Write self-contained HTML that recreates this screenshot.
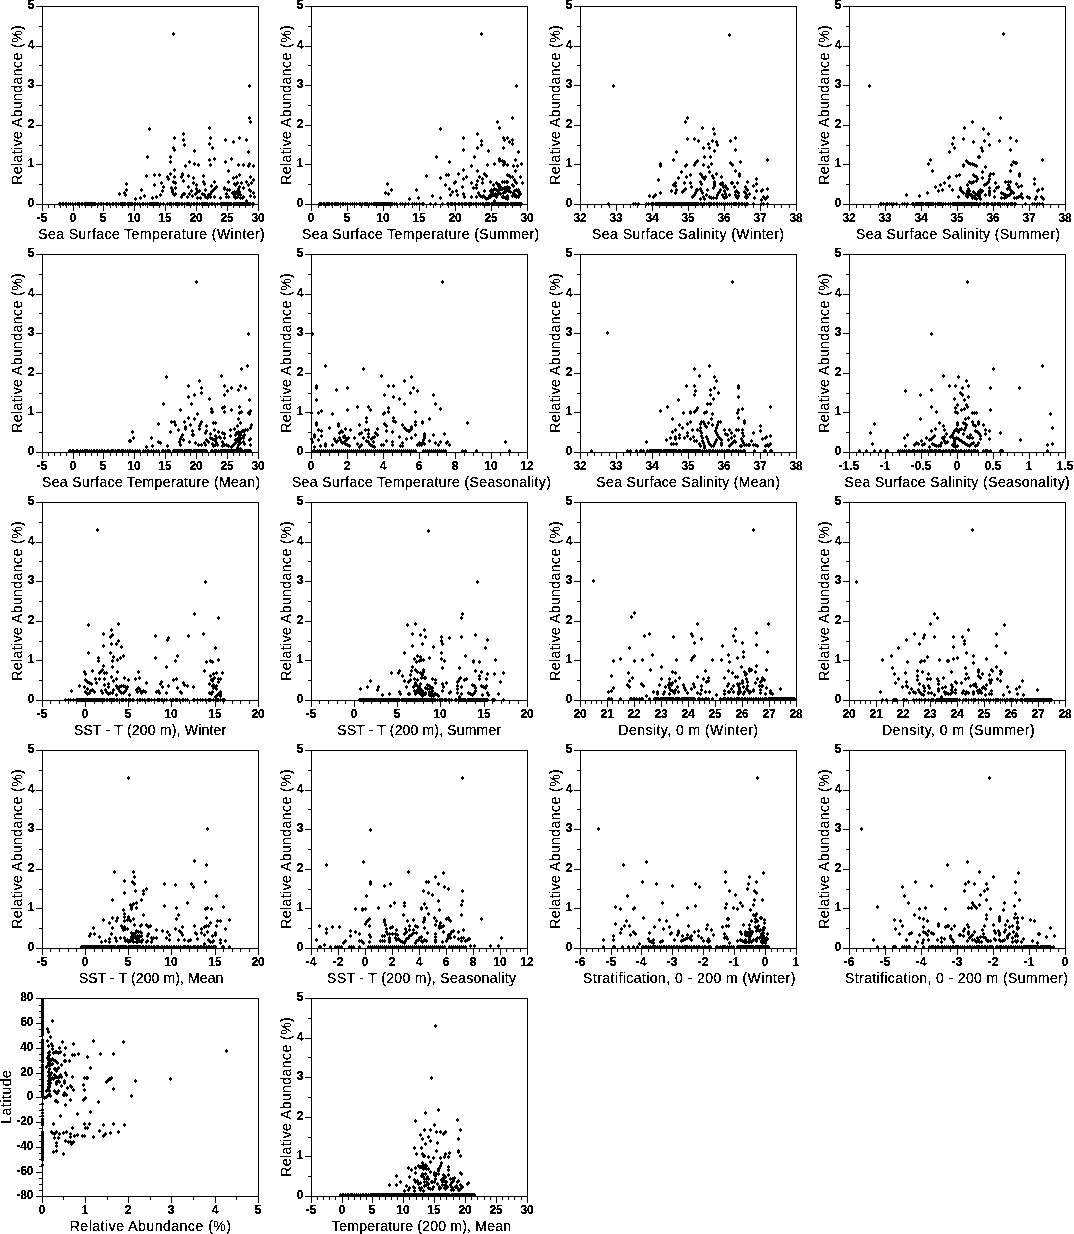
<!DOCTYPE html><html><head><meta charset="utf-8"><title>plots</title><style>html,body{margin:0;padding:0;background:#fff}svg{display:block}text{font-family:"Liberation Sans",sans-serif;fill:#000}.t{font-size:12px;font-weight:bold}.a{font-size:14px}</style></head><body>
<svg width="1074" height="1234" viewBox="0 0 1074 1234">
<rect width="1074" height="1234" fill="#fff"/>
<defs><filter id="th" x="0" y="0" width="1074" height="1234" filterUnits="userSpaceOnUse" color-interpolation-filters="sRGB"><feComponentTransfer><feFuncA type="discrete" tableValues="0 1 1"/></feComponentTransfer></filter></defs>
<path d="M42.5 6.5H258.5V204.5H42.5ZM42.5 204v7M48.5 204v4M54.5 204v4M60.5 204v4M66.5 204v4M73.5 204v7M79.5 204v4M85.5 204v4M91.5 204v4M97.5 204v4M103.5 204v7M110.5 204v4M116.5 204v4M122.5 204v4M128.5 204v4M134.5 204v7M140.5 204v4M147.5 204v4M153.5 204v4M159.5 204v4M165.5 204v7M171.5 204v4M177.5 204v4M184.5 204v4M190.5 204v4M196.5 204v7M202.5 204v4M208.5 204v4M215.5 204v4M221.5 204v4M227.5 204v7M233.5 204v4M239.5 204v4M245.5 204v4M252.5 204v4M258.5 204v7M43 204.5h-7M43 184.5h-4M43 164.5h-7M43 145.5h-4M43 125.5h-7M43 105.5h-4M43 85.5h-7M43 65.5h-4M43 46.5h-7M43 26.5h-4M43 6.5h-7" fill="none" stroke="#000" stroke-width="1" shape-rendering="crispEdges"/>
<path d="M119 192h1v1h1v2h-1v1h-1v-1h-1v-2h1zM124 191h1v1h1v2h-1v1h-1v-1h-1v-2h1zM125 193h1v1h1v2h-1v1h-1v-1h-1v-2h1zM126 188h1v1h1v2h-1v1h-1v-1h-1v-2h1zM126 182h1v1h1v2h-1v1h-1v-1h-1v-2h1zM135 197h1v1h1v2h-1v1h-1v-1h-1v-2h1zM140 196h1v1h1v2h-1v1h-1v-1h-1v-2h1zM141 188h1v1h1v2h-1v1h-1v-1h-1v-2h1zM144 194h1v1h1v2h-1v1h-1v-1h-1v-2h1zM146 174h1v1h1v2h-1v1h-1v-1h-1v-2h1zM147 155h1v1h1v2h-1v1h-1v-1h-1v-2h1zM149 127h1v1h1v2h-1v1h-1v-1h-1v-2h1zM152 196h1v1h1v2h-1v1h-1v-1h-1v-2h1zM154 183h1v1h1v2h-1v1h-1v-1h-1v-2h1zM154 173h1v1h1v2h-1v1h-1v-1h-1v-2h1zM156 195h1v1h1v2h-1v1h-1v-1h-1v-2h1zM159 173h1v1h1v2h-1v1h-1v-1h-1v-2h1zM160 193h1v1h1v2h-1v1h-1v-1h-1v-2h1zM161 181h1v1h1v2h-1v1h-1v-1h-1v-2h1zM162 189h1v1h1v2h-1v1h-1v-1h-1v-2h1zM163 185h1v1h1v2h-1v1h-1v-1h-1v-2h1zM167 175h1v1h1v2h-1v1h-1v-1h-1v-2h1zM168 177h1v1h1v2h-1v1h-1v-1h-1v-2h1zM170 172h1v1h1v2h-1v1h-1v-1h-1v-2h1zM170 160h1v1h1v2h-1v1h-1v-1h-1v-2h1zM170 155h1v1h1v2h-1v1h-1v-1h-1v-2h1zM171 186h1v1h1v2h-1v1h-1v-1h-1v-2h1zM172 188h1v1h1v2h-1v1h-1v-1h-1v-2h1zM172 190h1v1h1v2h-1v1h-1v-1h-1v-2h1zM173 192h1v1h1v2h-1v1h-1v-1h-1v-2h1zM174 193h1v1h1v2h-1v1h-1v-1h-1v-2h1zM175 192h1v1h1v2h-1v1h-1v-1h-1v-2h1zM173 146h1v1h1v2h-1v1h-1v-1h-1v-2h1zM174 148h1v1h1v2h-1v1h-1v-1h-1v-2h1zM174 136h1v1h1v2h-1v1h-1v-1h-1v-2h1zM174 168h1v1h1v2h-1v1h-1v-1h-1v-2h1zM174 175h1v1h1v2h-1v1h-1v-1h-1v-2h1zM173 180h1v1h1v2h-1v1h-1v-1h-1v-2h1zM175 181h1v1h1v2h-1v1h-1v-1h-1v-2h1zM175 186h1v1h1v2h-1v1h-1v-1h-1v-2h1zM181 175h1v1h1v2h-1v1h-1v-1h-1v-2h1zM182 172h1v1h1v2h-1v1h-1v-1h-1v-2h1zM182 173h1v1h1v2h-1v1h-1v-1h-1v-2h1zM183 179h1v1h1v2h-1v1h-1v-1h-1v-2h1zM183 132h1v1h1v2h-1v1h-1v-1h-1v-2h1zM183 138h1v1h1v2h-1v1h-1v-1h-1v-2h1zM184 143h1v1h1v2h-1v1h-1v-1h-1v-2h1zM185 164h1v1h1v2h-1v1h-1v-1h-1v-2h1zM181 195h1v1h1v2h-1v1h-1v-1h-1v-2h1zM182 193h1v1h1v2h-1v1h-1v-1h-1v-2h1zM183 192h1v1h1v2h-1v1h-1v-1h-1v-2h1zM184 192h1v1h1v2h-1v1h-1v-1h-1v-2h1zM188 174h1v1h1v2h-1v1h-1v-1h-1v-2h1zM188 185h1v1h1v2h-1v1h-1v-1h-1v-2h1zM189 160h1v1h1v2h-1v1h-1v-1h-1v-2h1zM193 176h1v1h1v2h-1v1h-1v-1h-1v-2h1zM193 181h1v1h1v2h-1v1h-1v-1h-1v-2h1zM194 149h1v1h1v2h-1v1h-1v-1h-1v-2h1zM194 162h1v1h1v2h-1v1h-1v-1h-1v-2h1zM198 163h1v1h1v2h-1v1h-1v-1h-1v-2h1zM196 183h1v1h1v2h-1v1h-1v-1h-1v-2h1zM191 189h1v1h1v2h-1v1h-1v-1h-1v-2h1zM189 192h1v1h1v2h-1v1h-1v-1h-1v-2h1zM187 195h1v1h1v2h-1v1h-1v-1h-1v-2h1zM192 194h1v1h1v2h-1v1h-1v-1h-1v-2h1zM195 192h1v1h1v2h-1v1h-1v-1h-1v-2h1zM196 187h1v1h1v2h-1v1h-1v-1h-1v-2h1zM197 190h1v1h1v2h-1v1h-1v-1h-1v-2h1zM199 189h1v1h1v2h-1v1h-1v-1h-1v-2h1zM197 196h1v1h1v2h-1v1h-1v-1h-1v-2h1zM200 196h1v1h1v2h-1v1h-1v-1h-1v-2h1zM203 174h1v1h1v2h-1v1h-1v-1h-1v-2h1zM203 180h1v1h1v2h-1v1h-1v-1h-1v-2h1zM204 182h1v1h1v2h-1v1h-1v-1h-1v-2h1zM205 188h1v1h1v2h-1v1h-1v-1h-1v-2h1zM202 192h1v1h1v2h-1v1h-1v-1h-1v-2h1zM204 193h1v1h1v2h-1v1h-1v-1h-1v-2h1zM205 195h1v1h1v2h-1v1h-1v-1h-1v-2h1zM207 196h1v1h1v2h-1v1h-1v-1h-1v-2h1zM208 193h1v1h1v2h-1v1h-1v-1h-1v-2h1zM210 192h1v1h1v2h-1v1h-1v-1h-1v-2h1zM211 190h1v1h1v2h-1v1h-1v-1h-1v-2h1zM213 188h1v1h1v2h-1v1h-1v-1h-1v-2h1zM214 187h1v1h1v2h-1v1h-1v-1h-1v-2h1zM216 185h1v1h1v2h-1v1h-1v-1h-1v-2h1zM211 184h1v1h1v2h-1v1h-1v-1h-1v-2h1zM214 180h1v1h1v2h-1v1h-1v-1h-1v-2h1zM209 126h1v1h1v2h-1v1h-1v-1h-1v-2h1zM210 136h1v1h1v2h-1v1h-1v-1h-1v-2h1zM209 142h1v1h1v2h-1v1h-1v-1h-1v-2h1zM212 146h1v1h1v2h-1v1h-1v-1h-1v-2h1zM209 158h1v1h1v2h-1v1h-1v-1h-1v-2h1zM210 163h1v1h1v2h-1v1h-1v-1h-1v-2h1zM214 157h1v1h1v2h-1v1h-1v-1h-1v-2h1zM210 195h1v1h1v2h-1v1h-1v-1h-1v-2h1zM214 195h1v1h1v2h-1v1h-1v-1h-1v-2h1zM220 196h1v1h1v2h-1v1h-1v-1h-1v-2h1zM224 186h1v1h1v2h-1v1h-1v-1h-1v-2h1zM224 187h1v1h1v2h-1v1h-1v-1h-1v-2h1zM225 160h1v1h1v2h-1v1h-1v-1h-1v-2h1zM225 138h1v1h1v2h-1v1h-1v-1h-1v-2h1zM228 169h1v1h1v2h-1v1h-1v-1h-1v-2h1zM228 180h1v1h1v2h-1v1h-1v-1h-1v-2h1zM227 188h1v1h1v2h-1v1h-1v-1h-1v-2h1zM229 188h1v1h1v2h-1v1h-1v-1h-1v-2h1zM226 192h1v1h1v2h-1v1h-1v-1h-1v-2h1zM226 195h1v1h1v2h-1v1h-1v-1h-1v-2h1zM228 195h1v1h1v2h-1v1h-1v-1h-1v-2h1zM231 157h1v1h1v2h-1v1h-1v-1h-1v-2h1zM233 140h1v1h1v2h-1v1h-1v-1h-1v-2h1zM233 176h1v1h1v2h-1v1h-1v-1h-1v-2h1zM234 182h1v1h1v2h-1v1h-1v-1h-1v-2h1zM235 183h1v1h1v2h-1v1h-1v-1h-1v-2h1zM236 175h1v1h1v2h-1v1h-1v-1h-1v-2h1zM237 181h1v1h1v2h-1v1h-1v-1h-1v-2h1zM238 163h1v1h1v2h-1v1h-1v-1h-1v-2h1zM239 136h1v1h1v2h-1v1h-1v-1h-1v-2h1zM239 173h1v1h1v2h-1v1h-1v-1h-1v-2h1zM239 185h1v1h1v2h-1v1h-1v-1h-1v-2h1zM241 181h1v1h1v2h-1v1h-1v-1h-1v-2h1zM243 163h1v1h1v2h-1v1h-1v-1h-1v-2h1zM243 186h1v1h1v2h-1v1h-1v-1h-1v-2h1zM246 138h1v1h1v2h-1v1h-1v-1h-1v-2h1zM246 180h1v1h1v2h-1v1h-1v-1h-1v-2h1zM248 150h1v1h1v2h-1v1h-1v-1h-1v-2h1zM248 164h1v1h1v2h-1v1h-1v-1h-1v-2h1zM249 116h1v1h1v2h-1v1h-1v-1h-1v-2h1zM250 120h1v1h1v2h-1v1h-1v-1h-1v-2h1zM249 162h1v1h1v2h-1v1h-1v-1h-1v-2h1zM253 164h1v1h1v2h-1v1h-1v-1h-1v-2h1zM250 175h1v1h1v2h-1v1h-1v-1h-1v-2h1zM253 178h1v1h1v2h-1v1h-1v-1h-1v-2h1zM251 181h1v1h1v2h-1v1h-1v-1h-1v-2h1zM248 183h1v1h1v2h-1v1h-1v-1h-1v-2h1zM249 188h1v1h1v2h-1v1h-1v-1h-1v-2h1zM250 189h1v1h1v2h-1v1h-1v-1h-1v-2h1zM253 191h1v1h1v2h-1v1h-1v-1h-1v-2h1zM250 194h1v1h1v2h-1v1h-1v-1h-1v-2h1zM254 195h1v1h1v2h-1v1h-1v-1h-1v-2h1zM246 199h1v1h1v2h-1v1h-1v-1h-1v-2h1zM232 191h1v1h1v2h-1v1h-1v-1h-1v-2h1zM234 193h1v1h1v2h-1v1h-1v-1h-1v-2h1zM234 190h1v1h1v2h-1v1h-1v-1h-1v-2h1zM236 191h1v1h1v2h-1v1h-1v-1h-1v-2h1zM237 189h1v1h1v2h-1v1h-1v-1h-1v-2h1zM238 192h1v1h1v2h-1v1h-1v-1h-1v-2h1zM240 193h1v1h1v2h-1v1h-1v-1h-1v-2h1zM240 196h1v1h1v2h-1v1h-1v-1h-1v-2h1zM242 196h1v1h1v2h-1v1h-1v-1h-1v-2h1zM237 195h1v1h1v2h-1v1h-1v-1h-1v-2h1zM235 196h1v1h1v2h-1v1h-1v-1h-1v-2h1zM239 190h1v1h1v2h-1v1h-1v-1h-1v-2h1zM243 195h1v1h1v2h-1v1h-1v-1h-1v-2h1zM238 187h1v1h1v2h-1v1h-1v-1h-1v-2h1zM234 195h1v1h1v2h-1v1h-1v-1h-1v-2h1zM173 32h1v1h1v2h-1v1h-1v-1h-1v-2h1zM249 84h1v1h1v2h-1v1h-1v-1h-1v-2h1zM59 202h1v1h1v2h-1v1h-1v-1h-1v-2h1zM60 202h1v1h1v2h-1v1h-1v-1h-1v-2h1zM62 202h1v1h1v2h-1v1h-1v-1h-1v-2h1zM63 202h1v1h1v2h-1v1h-1v-1h-1v-2h1zM65 202h1v1h1v2h-1v1h-1v-1h-1v-2h1zM66 202h1v1h1v2h-1v1h-1v-1h-1v-2h1zM68 202h1v1h1v2h-1v1h-1v-1h-1v-2h1zM70 202h1v1h1v2h-1v1h-1v-1h-1v-2h1zM72 202h1v1h1v2h-1v1h-1v-1h-1v-2h1zM75 202h1v1h1v2h-1v1h-1v-1h-1v-2h1zM77 202h1v1h1v2h-1v1h-1v-1h-1v-2h1zM78 202h1v1h1v2h-1v1h-1v-1h-1v-2h1zM79 202h1v1h1v2h-1v1h-1v-1h-1v-2h1zM81 202h1v1h1v2h-1v1h-1v-1h-1v-2h1zM82 202h1v1h1v2h-1v1h-1v-1h-1v-2h1zM84 202h1v1h1v2h-1v1h-1v-1h-1v-2h1zM85 202h1v1h1v2h-1v1h-1v-1h-1v-2h1zM86 202h1v1h1v2h-1v1h-1v-1h-1v-2h1zM87 202h1v1h1v2h-1v1h-1v-1h-1v-2h1zM88 202h1v1h1v2h-1v1h-1v-1h-1v-2h1zM89 202h1v1h1v2h-1v1h-1v-1h-1v-2h1zM90 202h1v1h1v2h-1v1h-1v-1h-1v-2h1zM91 202h1v1h1v2h-1v1h-1v-1h-1v-2h1zM92 202h1v1h1v2h-1v1h-1v-1h-1v-2h1zM93 202h1v1h1v2h-1v1h-1v-1h-1v-2h1zM94 202h1v1h1v2h-1v1h-1v-1h-1v-2h1zM95 202h1v1h1v2h-1v1h-1v-1h-1v-2h1zM98 202h1v1h1v2h-1v1h-1v-1h-1v-2h1zM100 202h1v1h1v2h-1v1h-1v-1h-1v-2h1zM101 202h1v1h1v2h-1v1h-1v-1h-1v-2h1zM103 202h1v1h1v2h-1v1h-1v-1h-1v-2h1zM106 202h1v1h1v2h-1v1h-1v-1h-1v-2h1zM107 202h1v1h1v2h-1v1h-1v-1h-1v-2h1zM109 202h1v1h1v2h-1v1h-1v-1h-1v-2h1zM112 202h1v1h1v2h-1v1h-1v-1h-1v-2h1zM113 202h1v1h1v2h-1v1h-1v-1h-1v-2h1zM115 202h1v1h1v2h-1v1h-1v-1h-1v-2h1zM116 202h1v1h1v2h-1v1h-1v-1h-1v-2h1zM118 202h1v1h1v2h-1v1h-1v-1h-1v-2h1zM120 202h1v1h1v2h-1v1h-1v-1h-1v-2h1zM121 202h1v1h1v2h-1v1h-1v-1h-1v-2h1zM122 202h1v1h1v2h-1v1h-1v-1h-1v-2h1zM123 202h1v1h1v2h-1v1h-1v-1h-1v-2h1zM124 202h1v1h1v2h-1v1h-1v-1h-1v-2h1zM125 202h1v1h1v2h-1v1h-1v-1h-1v-2h1zM127 202h1v1h1v2h-1v1h-1v-1h-1v-2h1zM128 202h1v1h1v2h-1v1h-1v-1h-1v-2h1zM129 202h1v1h1v2h-1v1h-1v-1h-1v-2h1zM130 202h1v1h1v2h-1v1h-1v-1h-1v-2h1zM131 202h1v1h1v2h-1v1h-1v-1h-1v-2h1zM132 202h1v1h1v2h-1v1h-1v-1h-1v-2h1zM134 202h1v1h1v2h-1v1h-1v-1h-1v-2h1zM135 202h1v1h1v2h-1v1h-1v-1h-1v-2h1zM137 202h1v1h1v2h-1v1h-1v-1h-1v-2h1zM139 202h1v1h1v2h-1v1h-1v-1h-1v-2h1zM142 202h1v1h1v2h-1v1h-1v-1h-1v-2h1zM143 202h1v1h1v2h-1v1h-1v-1h-1v-2h1zM145 202h1v1h1v2h-1v1h-1v-1h-1v-2h1zM147 202h1v1h1v2h-1v1h-1v-1h-1v-2h1zM149 202h1v1h1v2h-1v1h-1v-1h-1v-2h1zM150 202h1v1h1v2h-1v1h-1v-1h-1v-2h1zM151 202h1v1h1v2h-1v1h-1v-1h-1v-2h1zM152 202h1v1h1v2h-1v1h-1v-1h-1v-2h1zM153 202h1v1h1v2h-1v1h-1v-1h-1v-2h1zM154 202h1v1h1v2h-1v1h-1v-1h-1v-2h1zM155 202h1v1h1v2h-1v1h-1v-1h-1v-2h1zM156 202h1v1h1v2h-1v1h-1v-1h-1v-2h1zM157 202h1v1h1v2h-1v1h-1v-1h-1v-2h1zM158 202h1v1h1v2h-1v1h-1v-1h-1v-2h1zM160 202h1v1h1v2h-1v1h-1v-1h-1v-2h1zM163 202h1v1h1v2h-1v1h-1v-1h-1v-2h1zM167 202h1v1h1v2h-1v1h-1v-1h-1v-2h1zM169 202h1v1h1v2h-1v1h-1v-1h-1v-2h1zM170 202h1v1h1v2h-1v1h-1v-1h-1v-2h1zM171 202h1v1h1v2h-1v1h-1v-1h-1v-2h1zM173 202h1v1h1v2h-1v1h-1v-1h-1v-2h1zM175 202h1v1h1v2h-1v1h-1v-1h-1v-2h1zM176 202h1v1h1v2h-1v1h-1v-1h-1v-2h1zM177 202h1v1h1v2h-1v1h-1v-1h-1v-2h1zM178 202h1v1h1v2h-1v1h-1v-1h-1v-2h1zM179 202h1v1h1v2h-1v1h-1v-1h-1v-2h1zM181 202h1v1h1v2h-1v1h-1v-1h-1v-2h1zM182 202h1v1h1v2h-1v1h-1v-1h-1v-2h1zM184 202h1v1h1v2h-1v1h-1v-1h-1v-2h1zM186 202h1v1h1v2h-1v1h-1v-1h-1v-2h1zM187 202h1v1h1v2h-1v1h-1v-1h-1v-2h1zM188 202h1v1h1v2h-1v1h-1v-1h-1v-2h1zM189 202h1v1h1v2h-1v1h-1v-1h-1v-2h1zM191 202h1v1h1v2h-1v1h-1v-1h-1v-2h1zM193 202h1v1h1v2h-1v1h-1v-1h-1v-2h1zM194 202h1v1h1v2h-1v1h-1v-1h-1v-2h1zM196 202h1v1h1v2h-1v1h-1v-1h-1v-2h1zM197 202h1v1h1v2h-1v1h-1v-1h-1v-2h1zM199 202h1v1h1v2h-1v1h-1v-1h-1v-2h1zM201 202h1v1h1v2h-1v1h-1v-1h-1v-2h1zM202 202h1v1h1v2h-1v1h-1v-1h-1v-2h1zM203 202h1v1h1v2h-1v1h-1v-1h-1v-2h1zM204 202h1v1h1v2h-1v1h-1v-1h-1v-2h1zM205 202h1v1h1v2h-1v1h-1v-1h-1v-2h1zM206 202h1v1h1v2h-1v1h-1v-1h-1v-2h1zM207 202h1v1h1v2h-1v1h-1v-1h-1v-2h1zM209 202h1v1h1v2h-1v1h-1v-1h-1v-2h1zM211 202h1v1h1v2h-1v1h-1v-1h-1v-2h1zM212 202h1v1h1v2h-1v1h-1v-1h-1v-2h1zM214 202h1v1h1v2h-1v1h-1v-1h-1v-2h1zM217 202h1v1h1v2h-1v1h-1v-1h-1v-2h1zM220 202h1v1h1v2h-1v1h-1v-1h-1v-2h1zM221 202h1v1h1v2h-1v1h-1v-1h-1v-2h1zM222 202h1v1h1v2h-1v1h-1v-1h-1v-2h1zM223 202h1v1h1v2h-1v1h-1v-1h-1v-2h1zM224 202h1v1h1v2h-1v1h-1v-1h-1v-2h1zM225 202h1v1h1v2h-1v1h-1v-1h-1v-2h1zM226 202h1v1h1v2h-1v1h-1v-1h-1v-2h1zM227 202h1v1h1v2h-1v1h-1v-1h-1v-2h1zM228 202h1v1h1v2h-1v1h-1v-1h-1v-2h1zM229 202h1v1h1v2h-1v1h-1v-1h-1v-2h1zM230 202h1v1h1v2h-1v1h-1v-1h-1v-2h1zM231 202h1v1h1v2h-1v1h-1v-1h-1v-2h1zM233 202h1v1h1v2h-1v1h-1v-1h-1v-2h1zM234 202h1v1h1v2h-1v1h-1v-1h-1v-2h1zM235 202h1v1h1v2h-1v1h-1v-1h-1v-2h1zM236 202h1v1h1v2h-1v1h-1v-1h-1v-2h1zM237 202h1v1h1v2h-1v1h-1v-1h-1v-2h1zM238 202h1v1h1v2h-1v1h-1v-1h-1v-2h1zM239 202h1v1h1v2h-1v1h-1v-1h-1v-2h1zM240 202h1v1h1v2h-1v1h-1v-1h-1v-2h1zM241 202h1v1h1v2h-1v1h-1v-1h-1v-2h1zM242 202h1v1h1v2h-1v1h-1v-1h-1v-2h1zM243 202h1v1h1v2h-1v1h-1v-1h-1v-2h1zM244 202h1v1h1v2h-1v1h-1v-1h-1v-2h1zM245 202h1v1h1v2h-1v1h-1v-1h-1v-2h1zM246 202h1v1h1v2h-1v1h-1v-1h-1v-2h1zM247 202h1v1h1v2h-1v1h-1v-1h-1v-2h1zM248 202h1v1h1v2h-1v1h-1v-1h-1v-2h1zM249 202h1v1h1v2h-1v1h-1v-1h-1v-2h1zM250 202h1v1h1v2h-1v1h-1v-1h-1v-2h1zM252 202h1v1h1v2h-1v1h-1v-1h-1v-2h1zM253 202h1v1h1v2h-1v1h-1v-1h-1v-2h1z" fill="#000" shape-rendering="crispEdges"/>
<path d="M311.5 6.5H527.5V204.5H311.5ZM311.5 204v7M318.5 204v4M325.5 204v4M332.5 204v4M340.5 204v4M347.5 204v7M354.5 204v4M361.5 204v4M368.5 204v4M376.5 204v4M383.5 204v7M390.5 204v4M397.5 204v4M404.5 204v4M412.5 204v4M419.5 204v7M426.5 204v4M433.5 204v4M440.5 204v4M448.5 204v4M455.5 204v7M462.5 204v4M469.5 204v4M476.5 204v4M484.5 204v4M491.5 204v7M498.5 204v4M505.5 204v4M512.5 204v4M520.5 204v4M527.5 204v7M312 204.5h-7M312 184.5h-4M312 164.5h-7M312 145.5h-4M312 125.5h-7M312 105.5h-4M312 85.5h-7M312 65.5h-4M312 46.5h-7M312 26.5h-4M312 6.5h-7" fill="none" stroke="#000" stroke-width="1" shape-rendering="crispEdges"/>
<path d="M385 191h1v1h1v2h-1v1h-1v-1h-1v-2h1zM388 192h1v1h1v2h-1v1h-1v-1h-1v-2h1zM391 188h1v1h1v2h-1v1h-1v-1h-1v-2h1zM387 182h1v1h1v2h-1v1h-1v-1h-1v-2h1zM409 197h1v1h1v2h-1v1h-1v-1h-1v-2h1zM416 188h1v1h1v2h-1v1h-1v-1h-1v-2h1zM418 196h1v1h1v2h-1v1h-1v-1h-1v-2h1zM426 174h1v1h1v2h-1v1h-1v-1h-1v-2h1zM432 194h1v1h1v2h-1v1h-1v-1h-1v-2h1zM436 155h1v1h1v2h-1v1h-1v-1h-1v-2h1zM440 127h1v1h1v2h-1v1h-1v-1h-1v-2h1zM440 176h1v1h1v2h-1v1h-1v-1h-1v-2h1zM440 196h1v1h1v2h-1v1h-1v-1h-1v-2h1zM445 183h1v1h1v2h-1v1h-1v-1h-1v-2h1zM446 173h1v1h1v2h-1v1h-1v-1h-1v-2h1zM448 173h1v1h1v2h-1v1h-1v-1h-1v-2h1zM449 160h1v1h1v2h-1v1h-1v-1h-1v-2h1zM449 187h1v1h1v2h-1v1h-1v-1h-1v-2h1zM450 193h1v1h1v2h-1v1h-1v-1h-1v-2h1zM452 190h1v1h1v2h-1v1h-1v-1h-1v-2h1zM454 181h1v1h1v2h-1v1h-1v-1h-1v-2h1zM455 180h1v1h1v2h-1v1h-1v-1h-1v-2h1zM456 189h1v1h1v2h-1v1h-1v-1h-1v-2h1zM457 193h1v1h1v2h-1v1h-1v-1h-1v-2h1zM458 172h1v1h1v2h-1v1h-1v-1h-1v-2h1zM462 185h1v1h1v2h-1v1h-1v-1h-1v-2h1zM463 136h1v1h1v2h-1v1h-1v-1h-1v-2h1zM463 148h1v1h1v2h-1v1h-1v-1h-1v-2h1zM463 168h1v1h1v2h-1v1h-1v-1h-1v-2h1zM463 177h1v1h1v2h-1v1h-1v-1h-1v-2h1zM463 192h1v1h1v2h-1v1h-1v-1h-1v-2h1zM464 195h1v1h1v2h-1v1h-1v-1h-1v-2h1zM466 175h1v1h1v2h-1v1h-1v-1h-1v-2h1zM471 164h1v1h1v2h-1v1h-1v-1h-1v-2h1zM471 181h1v1h1v2h-1v1h-1v-1h-1v-2h1zM471 195h1v1h1v2h-1v1h-1v-1h-1v-2h1zM473 186h1v1h1v2h-1v1h-1v-1h-1v-2h1zM474 155h1v1h1v2h-1v1h-1v-1h-1v-2h1zM476 186h1v1h1v2h-1v1h-1v-1h-1v-2h1zM476 183h1v1h1v2h-1v1h-1v-1h-1v-2h1zM476 195h1v1h1v2h-1v1h-1v-1h-1v-2h1zM477 132h1v1h1v2h-1v1h-1v-1h-1v-2h1zM477 146h1v1h1v2h-1v1h-1v-1h-1v-2h1zM477 169h1v1h1v2h-1v1h-1v-1h-1v-2h1zM477 179h1v1h1v2h-1v1h-1v-1h-1v-2h1zM479 175h1v1h1v2h-1v1h-1v-1h-1v-2h1zM481 139h1v1h1v2h-1v1h-1v-1h-1v-2h1zM481 143h1v1h1v2h-1v1h-1v-1h-1v-2h1zM482 177h1v1h1v2h-1v1h-1v-1h-1v-2h1zM482 181h1v1h1v2h-1v1h-1v-1h-1v-2h1zM484 172h1v1h1v2h-1v1h-1v-1h-1v-2h1zM485 173h1v1h1v2h-1v1h-1v-1h-1v-2h1zM486 174h1v1h1v2h-1v1h-1v-1h-1v-2h1zM484 189h1v1h1v2h-1v1h-1v-1h-1v-2h1zM487 163h1v1h1v2h-1v1h-1v-1h-1v-2h1zM488 149h1v1h1v2h-1v1h-1v-1h-1v-2h1zM490 180h1v1h1v2h-1v1h-1v-1h-1v-2h1zM493 183h1v1h1v2h-1v1h-1v-1h-1v-2h1zM494 162h1v1h1v2h-1v1h-1v-1h-1v-2h1zM497 120h1v1h1v2h-1v1h-1v-1h-1v-2h1zM499 126h1v1h1v2h-1v1h-1v-1h-1v-2h1zM499 157h1v1h1v2h-1v1h-1v-1h-1v-2h1zM499 159h1v1h1v2h-1v1h-1v-1h-1v-2h1zM503 136h1v1h1v2h-1v1h-1v-1h-1v-2h1zM504 138h1v1h1v2h-1v1h-1v-1h-1v-2h1zM507 136h1v1h1v2h-1v1h-1v-1h-1v-2h1zM509 140h1v1h1v2h-1v1h-1v-1h-1v-2h1zM512 138h1v1h1v2h-1v1h-1v-1h-1v-2h1zM512 142h1v1h1v2h-1v1h-1v-1h-1v-2h1zM512 116h1v1h1v2h-1v1h-1v-1h-1v-2h1zM503 146h1v1h1v2h-1v1h-1v-1h-1v-2h1zM502 159h1v1h1v2h-1v1h-1v-1h-1v-2h1zM504 160h1v1h1v2h-1v1h-1v-1h-1v-2h1zM504 162h1v1h1v2h-1v1h-1v-1h-1v-2h1zM503 163h1v1h1v2h-1v1h-1v-1h-1v-2h1zM507 163h1v1h1v2h-1v1h-1v-1h-1v-2h1zM513 164h1v1h1v2h-1v1h-1v-1h-1v-2h1zM517 164h1v1h1v2h-1v1h-1v-1h-1v-2h1zM521 162h1v1h1v2h-1v1h-1v-1h-1v-2h1zM515 158h1v1h1v2h-1v1h-1v-1h-1v-2h1zM518 150h1v1h1v2h-1v1h-1v-1h-1v-2h1zM515 169h1v1h1v2h-1v1h-1v-1h-1v-2h1zM507 173h1v1h1v2h-1v1h-1v-1h-1v-2h1zM509 174h1v1h1v2h-1v1h-1v-1h-1v-2h1zM510 175h1v1h1v2h-1v1h-1v-1h-1v-2h1zM512 175h1v1h1v2h-1v1h-1v-1h-1v-2h1zM520 175h1v1h1v2h-1v1h-1v-1h-1v-2h1zM522 181h1v1h1v2h-1v1h-1v-1h-1v-2h1zM514 178h1v1h1v2h-1v1h-1v-1h-1v-2h1zM515 180h1v1h1v2h-1v1h-1v-1h-1v-2h1zM516 181h1v1h1v2h-1v1h-1v-1h-1v-2h1zM502 180h1v1h1v2h-1v1h-1v-1h-1v-2h1zM504 180h1v1h1v2h-1v1h-1v-1h-1v-2h1zM506 180h1v1h1v2h-1v1h-1v-1h-1v-2h1zM507 180h1v1h1v2h-1v1h-1v-1h-1v-2h1zM496 181h1v1h1v2h-1v1h-1v-1h-1v-2h1zM497 182h1v1h1v2h-1v1h-1v-1h-1v-2h1zM498 184h1v1h1v2h-1v1h-1v-1h-1v-2h1zM512 183h1v1h1v2h-1v1h-1v-1h-1v-2h1zM513 184h1v1h1v2h-1v1h-1v-1h-1v-2h1zM478 191h1v1h1v2h-1v1h-1v-1h-1v-2h1zM479 193h1v1h1v2h-1v1h-1v-1h-1v-2h1zM480 194h1v1h1v2h-1v1h-1v-1h-1v-2h1zM482 195h1v1h1v2h-1v1h-1v-1h-1v-2h1zM483 194h1v1h1v2h-1v1h-1v-1h-1v-2h1zM485 196h1v1h1v2h-1v1h-1v-1h-1v-2h1zM486 197h1v1h1v2h-1v1h-1v-1h-1v-2h1zM488 196h1v1h1v2h-1v1h-1v-1h-1v-2h1zM489 194h1v1h1v2h-1v1h-1v-1h-1v-2h1zM491 192h1v1h1v2h-1v1h-1v-1h-1v-2h1zM492 190h1v1h1v2h-1v1h-1v-1h-1v-2h1zM494 187h1v1h1v2h-1v1h-1v-1h-1v-2h1zM492 193h1v1h1v2h-1v1h-1v-1h-1v-2h1zM493 192h1v1h1v2h-1v1h-1v-1h-1v-2h1zM490 189h1v1h1v2h-1v1h-1v-1h-1v-2h1zM494 199h1v1h1v2h-1v1h-1v-1h-1v-2h1zM502 187h1v1h1v2h-1v1h-1v-1h-1v-2h1zM505 186h1v1h1v2h-1v1h-1v-1h-1v-2h1zM504 190h1v1h1v2h-1v1h-1v-1h-1v-2h1zM499 191h1v1h1v2h-1v1h-1v-1h-1v-2h1zM498 190h1v1h1v2h-1v1h-1v-1h-1v-2h1zM499 186h1v1h1v2h-1v1h-1v-1h-1v-2h1zM503 195h1v1h1v2h-1v1h-1v-1h-1v-2h1zM499 188h1v1h1v2h-1v1h-1v-1h-1v-2h1zM505 196h1v1h1v2h-1v1h-1v-1h-1v-2h1zM505 190h1v1h1v2h-1v1h-1v-1h-1v-2h1zM509 186h1v1h1v2h-1v1h-1v-1h-1v-2h1zM508 189h1v1h1v2h-1v1h-1v-1h-1v-2h1zM500 187h1v1h1v2h-1v1h-1v-1h-1v-2h1zM502 195h1v1h1v2h-1v1h-1v-1h-1v-2h1zM500 192h1v1h1v2h-1v1h-1v-1h-1v-2h1zM504 186h1v1h1v2h-1v1h-1v-1h-1v-2h1zM520 192h1v1h1v2h-1v1h-1v-1h-1v-2h1zM519 193h1v1h1v2h-1v1h-1v-1h-1v-2h1zM518 195h1v1h1v2h-1v1h-1v-1h-1v-2h1zM516 195h1v1h1v2h-1v1h-1v-1h-1v-2h1zM514 194h1v1h1v2h-1v1h-1v-1h-1v-2h1zM513 193h1v1h1v2h-1v1h-1v-1h-1v-2h1zM513 191h1v1h1v2h-1v1h-1v-1h-1v-2h1zM514 189h1v1h1v2h-1v1h-1v-1h-1v-2h1zM516 188h1v1h1v2h-1v1h-1v-1h-1v-2h1zM518 188h1v1h1v2h-1v1h-1v-1h-1v-2h1zM519 190h1v1h1v2h-1v1h-1v-1h-1v-2h1zM515 193h1v1h1v2h-1v1h-1v-1h-1v-2h1zM518 190h1v1h1v2h-1v1h-1v-1h-1v-2h1zM481 32h1v1h1v2h-1v1h-1v-1h-1v-2h1zM516 84h1v1h1v2h-1v1h-1v-1h-1v-2h1zM491 188h1v1h1v2h-1v1h-1v-1h-1v-2h1zM493 188h1v1h1v2h-1v1h-1v-1h-1v-2h1zM496 188h1v1h1v2h-1v1h-1v-1h-1v-2h1zM495 192h1v1h1v2h-1v1h-1v-1h-1v-2h1zM493 193h1v1h1v2h-1v1h-1v-1h-1v-2h1zM491 194h1v1h1v2h-1v1h-1v-1h-1v-2h1zM490 195h1v1h1v2h-1v1h-1v-1h-1v-2h1zM494 193h1v1h1v2h-1v1h-1v-1h-1v-2h1zM496 195h1v1h1v2h-1v1h-1v-1h-1v-2h1zM497 193h1v1h1v2h-1v1h-1v-1h-1v-2h1zM499 183h1v1h1v2h-1v1h-1v-1h-1v-2h1zM500 185h1v1h1v2h-1v1h-1v-1h-1v-2h1zM501 187h1v1h1v2h-1v1h-1v-1h-1v-2h1zM507 185h1v1h1v2h-1v1h-1v-1h-1v-2h1zM508 187h1v1h1v2h-1v1h-1v-1h-1v-2h1zM507 188h1v1h1v2h-1v1h-1v-1h-1v-2h1zM507 195h1v1h1v2h-1v1h-1v-1h-1v-2h1zM507 197h1v1h1v2h-1v1h-1v-1h-1v-2h1zM503 191h1v1h1v2h-1v1h-1v-1h-1v-2h1zM510 190h1v1h1v2h-1v1h-1v-1h-1v-2h1zM507 194h1v1h1v2h-1v1h-1v-1h-1v-2h1zM512 194h1v1h1v2h-1v1h-1v-1h-1v-2h1zM518 194h1v1h1v2h-1v1h-1v-1h-1v-2h1zM319 202h1v1h1v2h-1v1h-1v-1h-1v-2h1zM320 202h1v1h1v2h-1v1h-1v-1h-1v-2h1zM321 202h1v1h1v2h-1v1h-1v-1h-1v-2h1zM323 202h1v1h1v2h-1v1h-1v-1h-1v-2h1zM324 202h1v1h1v2h-1v1h-1v-1h-1v-2h1zM326 202h1v1h1v2h-1v1h-1v-1h-1v-2h1zM327 202h1v1h1v2h-1v1h-1v-1h-1v-2h1zM328 202h1v1h1v2h-1v1h-1v-1h-1v-2h1zM329 202h1v1h1v2h-1v1h-1v-1h-1v-2h1zM331 202h1v1h1v2h-1v1h-1v-1h-1v-2h1zM332 202h1v1h1v2h-1v1h-1v-1h-1v-2h1zM334 202h1v1h1v2h-1v1h-1v-1h-1v-2h1zM335 202h1v1h1v2h-1v1h-1v-1h-1v-2h1zM336 202h1v1h1v2h-1v1h-1v-1h-1v-2h1zM337 202h1v1h1v2h-1v1h-1v-1h-1v-2h1zM338 202h1v1h1v2h-1v1h-1v-1h-1v-2h1zM340 202h1v1h1v2h-1v1h-1v-1h-1v-2h1zM342 202h1v1h1v2h-1v1h-1v-1h-1v-2h1zM343 202h1v1h1v2h-1v1h-1v-1h-1v-2h1zM345 202h1v1h1v2h-1v1h-1v-1h-1v-2h1zM347 202h1v1h1v2h-1v1h-1v-1h-1v-2h1zM350 202h1v1h1v2h-1v1h-1v-1h-1v-2h1zM352 202h1v1h1v2h-1v1h-1v-1h-1v-2h1zM354 202h1v1h1v2h-1v1h-1v-1h-1v-2h1zM356 202h1v1h1v2h-1v1h-1v-1h-1v-2h1zM359 202h1v1h1v2h-1v1h-1v-1h-1v-2h1zM360 202h1v1h1v2h-1v1h-1v-1h-1v-2h1zM362 202h1v1h1v2h-1v1h-1v-1h-1v-2h1zM364 202h1v1h1v2h-1v1h-1v-1h-1v-2h1zM365 202h1v1h1v2h-1v1h-1v-1h-1v-2h1zM366 202h1v1h1v2h-1v1h-1v-1h-1v-2h1zM367 202h1v1h1v2h-1v1h-1v-1h-1v-2h1zM369 202h1v1h1v2h-1v1h-1v-1h-1v-2h1zM371 202h1v1h1v2h-1v1h-1v-1h-1v-2h1zM373 202h1v1h1v2h-1v1h-1v-1h-1v-2h1zM374 202h1v1h1v2h-1v1h-1v-1h-1v-2h1zM375 202h1v1h1v2h-1v1h-1v-1h-1v-2h1zM376 202h1v1h1v2h-1v1h-1v-1h-1v-2h1zM377 202h1v1h1v2h-1v1h-1v-1h-1v-2h1zM378 202h1v1h1v2h-1v1h-1v-1h-1v-2h1zM379 202h1v1h1v2h-1v1h-1v-1h-1v-2h1zM380 202h1v1h1v2h-1v1h-1v-1h-1v-2h1zM381 202h1v1h1v2h-1v1h-1v-1h-1v-2h1zM382 202h1v1h1v2h-1v1h-1v-1h-1v-2h1zM383 202h1v1h1v2h-1v1h-1v-1h-1v-2h1zM384 202h1v1h1v2h-1v1h-1v-1h-1v-2h1zM385 202h1v1h1v2h-1v1h-1v-1h-1v-2h1zM386 202h1v1h1v2h-1v1h-1v-1h-1v-2h1zM387 202h1v1h1v2h-1v1h-1v-1h-1v-2h1zM388 202h1v1h1v2h-1v1h-1v-1h-1v-2h1zM389 202h1v1h1v2h-1v1h-1v-1h-1v-2h1zM390 202h1v1h1v2h-1v1h-1v-1h-1v-2h1zM391 202h1v1h1v2h-1v1h-1v-1h-1v-2h1zM392 202h1v1h1v2h-1v1h-1v-1h-1v-2h1zM394 202h1v1h1v2h-1v1h-1v-1h-1v-2h1zM396 202h1v1h1v2h-1v1h-1v-1h-1v-2h1zM400 202h1v1h1v2h-1v1h-1v-1h-1v-2h1zM402 202h1v1h1v2h-1v1h-1v-1h-1v-2h1zM405 202h1v1h1v2h-1v1h-1v-1h-1v-2h1zM408 202h1v1h1v2h-1v1h-1v-1h-1v-2h1zM412 202h1v1h1v2h-1v1h-1v-1h-1v-2h1zM414 202h1v1h1v2h-1v1h-1v-1h-1v-2h1zM416 202h1v1h1v2h-1v1h-1v-1h-1v-2h1zM419 202h1v1h1v2h-1v1h-1v-1h-1v-2h1zM422 202h1v1h1v2h-1v1h-1v-1h-1v-2h1zM423 202h1v1h1v2h-1v1h-1v-1h-1v-2h1zM430 202h1v1h1v2h-1v1h-1v-1h-1v-2h1zM435 202h1v1h1v2h-1v1h-1v-1h-1v-2h1zM442 202h1v1h1v2h-1v1h-1v-1h-1v-2h1zM447 202h1v1h1v2h-1v1h-1v-1h-1v-2h1zM448 202h1v1h1v2h-1v1h-1v-1h-1v-2h1zM450 202h1v1h1v2h-1v1h-1v-1h-1v-2h1zM451 202h1v1h1v2h-1v1h-1v-1h-1v-2h1zM452 202h1v1h1v2h-1v1h-1v-1h-1v-2h1zM454 202h1v1h1v2h-1v1h-1v-1h-1v-2h1zM455 202h1v1h1v2h-1v1h-1v-1h-1v-2h1zM458 202h1v1h1v2h-1v1h-1v-1h-1v-2h1zM459 202h1v1h1v2h-1v1h-1v-1h-1v-2h1zM461 202h1v1h1v2h-1v1h-1v-1h-1v-2h1zM462 202h1v1h1v2h-1v1h-1v-1h-1v-2h1zM464 202h1v1h1v2h-1v1h-1v-1h-1v-2h1zM465 202h1v1h1v2h-1v1h-1v-1h-1v-2h1zM466 202h1v1h1v2h-1v1h-1v-1h-1v-2h1zM468 202h1v1h1v2h-1v1h-1v-1h-1v-2h1zM469 202h1v1h1v2h-1v1h-1v-1h-1v-2h1zM470 202h1v1h1v2h-1v1h-1v-1h-1v-2h1zM471 202h1v1h1v2h-1v1h-1v-1h-1v-2h1zM473 202h1v1h1v2h-1v1h-1v-1h-1v-2h1zM475 202h1v1h1v2h-1v1h-1v-1h-1v-2h1zM476 202h1v1h1v2h-1v1h-1v-1h-1v-2h1zM478 202h1v1h1v2h-1v1h-1v-1h-1v-2h1zM480 202h1v1h1v2h-1v1h-1v-1h-1v-2h1zM482 202h1v1h1v2h-1v1h-1v-1h-1v-2h1zM483 202h1v1h1v2h-1v1h-1v-1h-1v-2h1zM485 202h1v1h1v2h-1v1h-1v-1h-1v-2h1zM486 202h1v1h1v2h-1v1h-1v-1h-1v-2h1zM487 202h1v1h1v2h-1v1h-1v-1h-1v-2h1zM488 202h1v1h1v2h-1v1h-1v-1h-1v-2h1zM489 202h1v1h1v2h-1v1h-1v-1h-1v-2h1zM491 202h1v1h1v2h-1v1h-1v-1h-1v-2h1zM492 202h1v1h1v2h-1v1h-1v-1h-1v-2h1zM493 202h1v1h1v2h-1v1h-1v-1h-1v-2h1zM494 202h1v1h1v2h-1v1h-1v-1h-1v-2h1zM495 202h1v1h1v2h-1v1h-1v-1h-1v-2h1zM496 202h1v1h1v2h-1v1h-1v-1h-1v-2h1zM497 202h1v1h1v2h-1v1h-1v-1h-1v-2h1zM498 202h1v1h1v2h-1v1h-1v-1h-1v-2h1zM499 202h1v1h1v2h-1v1h-1v-1h-1v-2h1zM500 202h1v1h1v2h-1v1h-1v-1h-1v-2h1zM501 202h1v1h1v2h-1v1h-1v-1h-1v-2h1zM502 202h1v1h1v2h-1v1h-1v-1h-1v-2h1zM503 202h1v1h1v2h-1v1h-1v-1h-1v-2h1zM504 202h1v1h1v2h-1v1h-1v-1h-1v-2h1zM505 202h1v1h1v2h-1v1h-1v-1h-1v-2h1zM506 202h1v1h1v2h-1v1h-1v-1h-1v-2h1zM507 202h1v1h1v2h-1v1h-1v-1h-1v-2h1zM508 202h1v1h1v2h-1v1h-1v-1h-1v-2h1zM510 202h1v1h1v2h-1v1h-1v-1h-1v-2h1zM511 202h1v1h1v2h-1v1h-1v-1h-1v-2h1zM512 202h1v1h1v2h-1v1h-1v-1h-1v-2h1zM513 202h1v1h1v2h-1v1h-1v-1h-1v-2h1zM514 202h1v1h1v2h-1v1h-1v-1h-1v-2h1zM515 202h1v1h1v2h-1v1h-1v-1h-1v-2h1zM516 202h1v1h1v2h-1v1h-1v-1h-1v-2h1zM517 202h1v1h1v2h-1v1h-1v-1h-1v-2h1zM518 202h1v1h1v2h-1v1h-1v-1h-1v-2h1zM519 202h1v1h1v2h-1v1h-1v-1h-1v-2h1zM520 202h1v1h1v2h-1v1h-1v-1h-1v-2h1zM521 202h1v1h1v2h-1v1h-1v-1h-1v-2h1z" fill="#000" shape-rendering="crispEdges"/>
<path d="M580.5 6.5H796.5V204.5H580.5ZM580.5 204v7M587.5 204v4M594.5 204v4M601.5 204v4M609.5 204v4M616.5 204v7M623.5 204v4M630.5 204v4M637.5 204v4M645.5 204v4M652.5 204v7M659.5 204v4M666.5 204v4M673.5 204v4M681.5 204v4M688.5 204v7M695.5 204v4M702.5 204v4M709.5 204v4M717.5 204v4M724.5 204v7M731.5 204v4M738.5 204v4M745.5 204v4M753.5 204v4M760.5 204v7M767.5 204v4M774.5 204v4M781.5 204v4M789.5 204v4M796.5 204v7M581 204.5h-7M581 184.5h-4M581 164.5h-7M581 145.5h-4M581 125.5h-7M581 105.5h-4M581 85.5h-7M581 65.5h-4M581 46.5h-7M581 26.5h-4M581 6.5h-7" fill="none" stroke="#000" stroke-width="1" shape-rendering="crispEdges"/>
<path d="M649 194h1v1h1v2h-1v1h-1v-1h-1v-2h1zM653 195h1v1h1v2h-1v1h-1v-1h-1v-2h1zM654 194h1v1h1v2h-1v1h-1v-1h-1v-2h1zM655 193h1v1h1v2h-1v1h-1v-1h-1v-2h1zM660 191h1v1h1v2h-1v1h-1v-1h-1v-2h1zM658 178h1v1h1v2h-1v1h-1v-1h-1v-2h1zM660 162h1v1h1v2h-1v1h-1v-1h-1v-2h1zM660 164h1v1h1v2h-1v1h-1v-1h-1v-2h1zM671 189h1v1h1v2h-1v1h-1v-1h-1v-2h1zM673 183h1v1h1v2h-1v1h-1v-1h-1v-2h1zM674 182h1v1h1v2h-1v1h-1v-1h-1v-2h1zM675 181h1v1h1v2h-1v1h-1v-1h-1v-2h1zM675 184h1v1h1v2h-1v1h-1v-1h-1v-2h1zM676 188h1v1h1v2h-1v1h-1v-1h-1v-2h1zM675 191h1v1h1v2h-1v1h-1v-1h-1v-2h1zM673 158h1v1h1v2h-1v1h-1v-1h-1v-2h1zM676 150h1v1h1v2h-1v1h-1v-1h-1v-2h1zM678 176h1v1h1v2h-1v1h-1v-1h-1v-2h1zM681 170h1v1h1v2h-1v1h-1v-1h-1v-2h1zM682 190h1v1h1v2h-1v1h-1v-1h-1v-2h1zM684 188h1v1h1v2h-1v1h-1v-1h-1v-2h1zM684 181h1v1h1v2h-1v1h-1v-1h-1v-2h1zM685 187h1v1h1v2h-1v1h-1v-1h-1v-2h1zM686 175h1v1h1v2h-1v1h-1v-1h-1v-2h1zM685 164h1v1h1v2h-1v1h-1v-1h-1v-2h1zM686 163h1v1h1v2h-1v1h-1v-1h-1v-2h1zM687 137h1v1h1v2h-1v1h-1v-1h-1v-2h1zM685 120h1v1h1v2h-1v1h-1v-1h-1v-2h1zM687 116h1v1h1v2h-1v1h-1v-1h-1v-2h1zM690 173h1v1h1v2h-1v1h-1v-1h-1v-2h1zM690 181h1v1h1v2h-1v1h-1v-1h-1v-2h1zM691 185h1v1h1v2h-1v1h-1v-1h-1v-2h1zM692 195h1v1h1v2h-1v1h-1v-1h-1v-2h1zM694 193h1v1h1v2h-1v1h-1v-1h-1v-2h1zM695 191h1v1h1v2h-1v1h-1v-1h-1v-2h1zM696 188h1v1h1v2h-1v1h-1v-1h-1v-2h1zM697 188h1v1h1v2h-1v1h-1v-1h-1v-2h1zM694 163h1v1h1v2h-1v1h-1v-1h-1v-2h1zM695 161h1v1h1v2h-1v1h-1v-1h-1v-2h1zM696 160h1v1h1v2h-1v1h-1v-1h-1v-2h1zM697 159h1v1h1v2h-1v1h-1v-1h-1v-2h1zM694 137h1v1h1v2h-1v1h-1v-1h-1v-2h1zM698 139h1v1h1v2h-1v1h-1v-1h-1v-2h1zM700 172h1v1h1v2h-1v1h-1v-1h-1v-2h1zM701 173h1v1h1v2h-1v1h-1v-1h-1v-2h1zM702 175h1v1h1v2h-1v1h-1v-1h-1v-2h1zM703 176h1v1h1v2h-1v1h-1v-1h-1v-2h1zM704 177h1v1h1v2h-1v1h-1v-1h-1v-2h1zM705 175h1v1h1v2h-1v1h-1v-1h-1v-2h1zM700 180h1v1h1v2h-1v1h-1v-1h-1v-2h1zM701 182h1v1h1v2h-1v1h-1v-1h-1v-2h1zM700 187h1v1h1v2h-1v1h-1v-1h-1v-2h1zM701 189h1v1h1v2h-1v1h-1v-1h-1v-2h1zM702 191h1v1h1v2h-1v1h-1v-1h-1v-2h1zM700 197h1v1h1v2h-1v1h-1v-1h-1v-2h1zM703 195h1v1h1v2h-1v1h-1v-1h-1v-2h1zM704 197h1v1h1v2h-1v1h-1v-1h-1v-2h1zM702 126h1v1h1v2h-1v1h-1v-1h-1v-2h1zM703 146h1v1h1v2h-1v1h-1v-1h-1v-2h1zM704 155h1v1h1v2h-1v1h-1v-1h-1v-2h1zM703 163h1v1h1v2h-1v1h-1v-1h-1v-2h1zM707 188h1v1h1v2h-1v1h-1v-1h-1v-2h1zM706 193h1v1h1v2h-1v1h-1v-1h-1v-2h1zM708 142h1v1h1v2h-1v1h-1v-1h-1v-2h1zM709 146h1v1h1v2h-1v1h-1v-1h-1v-2h1zM710 155h1v1h1v2h-1v1h-1v-1h-1v-2h1zM711 162h1v1h1v2h-1v1h-1v-1h-1v-2h1zM708 165h1v1h1v2h-1v1h-1v-1h-1v-2h1zM709 170h1v1h1v2h-1v1h-1v-1h-1v-2h1zM712 174h1v1h1v2h-1v1h-1v-1h-1v-2h1zM713 176h1v1h1v2h-1v1h-1v-1h-1v-2h1zM709 195h1v1h1v2h-1v1h-1v-1h-1v-2h1zM711 196h1v1h1v2h-1v1h-1v-1h-1v-2h1zM713 196h1v1h1v2h-1v1h-1v-1h-1v-2h1zM712 139h1v1h1v2h-1v1h-1v-1h-1v-2h1zM713 127h1v1h1v2h-1v1h-1v-1h-1v-2h1zM714 132h1v1h1v2h-1v1h-1v-1h-1v-2h1zM714 149h1v1h1v2h-1v1h-1v-1h-1v-2h1zM716 140h1v1h1v2h-1v1h-1v-1h-1v-2h1zM717 143h1v1h1v2h-1v1h-1v-1h-1v-2h1zM716 172h1v1h1v2h-1v1h-1v-1h-1v-2h1zM714 180h1v1h1v2h-1v1h-1v-1h-1v-2h1zM714 182h1v1h1v2h-1v1h-1v-1h-1v-2h1zM714 184h1v1h1v2h-1v1h-1v-1h-1v-2h1zM713 186h1v1h1v2h-1v1h-1v-1h-1v-2h1zM717 193h1v1h1v2h-1v1h-1v-1h-1v-2h1zM716 196h1v1h1v2h-1v1h-1v-1h-1v-2h1zM718 191h1v1h1v2h-1v1h-1v-1h-1v-2h1zM719 190h1v1h1v2h-1v1h-1v-1h-1v-2h1zM720 188h1v1h1v2h-1v1h-1v-1h-1v-2h1zM721 175h1v1h1v2h-1v1h-1v-1h-1v-2h1zM720 182h1v1h1v2h-1v1h-1v-1h-1v-2h1zM722 181h1v1h1v2h-1v1h-1v-1h-1v-2h1zM722 183h1v1h1v2h-1v1h-1v-1h-1v-2h1zM723 185h1v1h1v2h-1v1h-1v-1h-1v-2h1zM725 184h1v1h1v2h-1v1h-1v-1h-1v-2h1zM726 186h1v1h1v2h-1v1h-1v-1h-1v-2h1zM727 187h1v1h1v2h-1v1h-1v-1h-1v-2h1zM724 189h1v1h1v2h-1v1h-1v-1h-1v-2h1zM725 192h1v1h1v2h-1v1h-1v-1h-1v-2h1zM722 193h1v1h1v2h-1v1h-1v-1h-1v-2h1zM723 195h1v1h1v2h-1v1h-1v-1h-1v-2h1zM724 196h1v1h1v2h-1v1h-1v-1h-1v-2h1zM726 195h1v1h1v2h-1v1h-1v-1h-1v-2h1zM729 193h1v1h1v2h-1v1h-1v-1h-1v-2h1zM730 139h1v1h1v2h-1v1h-1v-1h-1v-2h1zM730 161h1v1h1v2h-1v1h-1v-1h-1v-2h1zM731 162h1v1h1v2h-1v1h-1v-1h-1v-2h1zM732 163h1v1h1v2h-1v1h-1v-1h-1v-2h1zM731 181h1v1h1v2h-1v1h-1v-1h-1v-2h1zM732 181h1v1h1v2h-1v1h-1v-1h-1v-2h1zM734 185h1v1h1v2h-1v1h-1v-1h-1v-2h1zM735 136h1v1h1v2h-1v1h-1v-1h-1v-2h1zM735 148h1v1h1v2h-1v1h-1v-1h-1v-2h1zM735 169h1v1h1v2h-1v1h-1v-1h-1v-2h1zM737 181h1v1h1v2h-1v1h-1v-1h-1v-2h1zM739 172h1v1h1v2h-1v1h-1v-1h-1v-2h1zM739 174h1v1h1v2h-1v1h-1v-1h-1v-2h1zM740 160h1v1h1v2h-1v1h-1v-1h-1v-2h1zM735 190h1v1h1v2h-1v1h-1v-1h-1v-2h1zM736 189h1v1h1v2h-1v1h-1v-1h-1v-2h1zM737 190h1v1h1v2h-1v1h-1v-1h-1v-2h1zM738 191h1v1h1v2h-1v1h-1v-1h-1v-2h1zM735 193h1v1h1v2h-1v1h-1v-1h-1v-2h1zM736 195h1v1h1v2h-1v1h-1v-1h-1v-2h1zM737 196h1v1h1v2h-1v1h-1v-1h-1v-2h1zM738 194h1v1h1v2h-1v1h-1v-1h-1v-2h1zM744 190h1v1h1v2h-1v1h-1v-1h-1v-2h1zM745 191h1v1h1v2h-1v1h-1v-1h-1v-2h1zM746 193h1v1h1v2h-1v1h-1v-1h-1v-2h1zM745 195h1v1h1v2h-1v1h-1v-1h-1v-2h1zM746 196h1v1h1v2h-1v1h-1v-1h-1v-2h1zM747 195h1v1h1v2h-1v1h-1v-1h-1v-2h1zM745 185h1v1h1v2h-1v1h-1v-1h-1v-2h1zM746 187h1v1h1v2h-1v1h-1v-1h-1v-2h1zM747 188h1v1h1v2h-1v1h-1v-1h-1v-2h1zM749 192h1v1h1v2h-1v1h-1v-1h-1v-2h1zM747 180h1v1h1v2h-1v1h-1v-1h-1v-2h1zM753 184h1v1h1v2h-1v1h-1v-1h-1v-2h1zM754 196h1v1h1v2h-1v1h-1v-1h-1v-2h1zM756 177h1v1h1v2h-1v1h-1v-1h-1v-2h1zM756 182h1v1h1v2h-1v1h-1v-1h-1v-2h1zM756 189h1v1h1v2h-1v1h-1v-1h-1v-2h1zM761 189h1v1h1v2h-1v1h-1v-1h-1v-2h1zM762 188h1v1h1v2h-1v1h-1v-1h-1v-2h1zM761 198h1v1h1v2h-1v1h-1v-1h-1v-2h1zM763 195h1v1h1v2h-1v1h-1v-1h-1v-2h1zM764 196h1v1h1v2h-1v1h-1v-1h-1v-2h1zM765 197h1v1h1v2h-1v1h-1v-1h-1v-2h1zM766 196h1v1h1v2h-1v1h-1v-1h-1v-2h1zM767 195h1v1h1v2h-1v1h-1v-1h-1v-2h1zM767 187h1v1h1v2h-1v1h-1v-1h-1v-2h1zM767 158h1v1h1v2h-1v1h-1v-1h-1v-2h1zM613 84h1v1h1v2h-1v1h-1v-1h-1v-2h1zM729 33h1v1h1v2h-1v1h-1v-1h-1v-2h1zM608 202h1v1h1v2h-1v1h-1v-1h-1v-2h1zM633 202h1v1h1v2h-1v1h-1v-1h-1v-2h1zM635 202h1v1h1v2h-1v1h-1v-1h-1v-2h1zM638 202h1v1h1v2h-1v1h-1v-1h-1v-2h1zM646 202h1v1h1v2h-1v1h-1v-1h-1v-2h1zM648 202h1v1h1v2h-1v1h-1v-1h-1v-2h1zM651 202h1v1h1v2h-1v1h-1v-1h-1v-2h1zM652 202h1v1h1v2h-1v1h-1v-1h-1v-2h1zM653 202h1v1h1v2h-1v1h-1v-1h-1v-2h1zM655 202h1v1h1v2h-1v1h-1v-1h-1v-2h1zM656 202h1v1h1v2h-1v1h-1v-1h-1v-2h1zM657 202h1v1h1v2h-1v1h-1v-1h-1v-2h1zM658 202h1v1h1v2h-1v1h-1v-1h-1v-2h1zM659 202h1v1h1v2h-1v1h-1v-1h-1v-2h1zM660 202h1v1h1v2h-1v1h-1v-1h-1v-2h1zM661 202h1v1h1v2h-1v1h-1v-1h-1v-2h1zM662 202h1v1h1v2h-1v1h-1v-1h-1v-2h1zM663 202h1v1h1v2h-1v1h-1v-1h-1v-2h1zM664 202h1v1h1v2h-1v1h-1v-1h-1v-2h1zM665 202h1v1h1v2h-1v1h-1v-1h-1v-2h1zM666 202h1v1h1v2h-1v1h-1v-1h-1v-2h1zM667 202h1v1h1v2h-1v1h-1v-1h-1v-2h1zM668 202h1v1h1v2h-1v1h-1v-1h-1v-2h1zM669 202h1v1h1v2h-1v1h-1v-1h-1v-2h1zM670 202h1v1h1v2h-1v1h-1v-1h-1v-2h1zM671 202h1v1h1v2h-1v1h-1v-1h-1v-2h1zM672 202h1v1h1v2h-1v1h-1v-1h-1v-2h1zM673 202h1v1h1v2h-1v1h-1v-1h-1v-2h1zM674 202h1v1h1v2h-1v1h-1v-1h-1v-2h1zM675 202h1v1h1v2h-1v1h-1v-1h-1v-2h1zM676 202h1v1h1v2h-1v1h-1v-1h-1v-2h1zM677 202h1v1h1v2h-1v1h-1v-1h-1v-2h1zM678 202h1v1h1v2h-1v1h-1v-1h-1v-2h1zM679 202h1v1h1v2h-1v1h-1v-1h-1v-2h1zM680 202h1v1h1v2h-1v1h-1v-1h-1v-2h1zM681 202h1v1h1v2h-1v1h-1v-1h-1v-2h1zM682 202h1v1h1v2h-1v1h-1v-1h-1v-2h1zM683 202h1v1h1v2h-1v1h-1v-1h-1v-2h1zM684 202h1v1h1v2h-1v1h-1v-1h-1v-2h1zM685 202h1v1h1v2h-1v1h-1v-1h-1v-2h1zM686 202h1v1h1v2h-1v1h-1v-1h-1v-2h1zM687 202h1v1h1v2h-1v1h-1v-1h-1v-2h1zM688 202h1v1h1v2h-1v1h-1v-1h-1v-2h1zM689 202h1v1h1v2h-1v1h-1v-1h-1v-2h1zM690 202h1v1h1v2h-1v1h-1v-1h-1v-2h1zM691 202h1v1h1v2h-1v1h-1v-1h-1v-2h1zM692 202h1v1h1v2h-1v1h-1v-1h-1v-2h1zM693 202h1v1h1v2h-1v1h-1v-1h-1v-2h1zM694 202h1v1h1v2h-1v1h-1v-1h-1v-2h1zM695 202h1v1h1v2h-1v1h-1v-1h-1v-2h1zM696 202h1v1h1v2h-1v1h-1v-1h-1v-2h1zM697 202h1v1h1v2h-1v1h-1v-1h-1v-2h1zM698 202h1v1h1v2h-1v1h-1v-1h-1v-2h1zM700 202h1v1h1v2h-1v1h-1v-1h-1v-2h1zM701 202h1v1h1v2h-1v1h-1v-1h-1v-2h1zM703 202h1v1h1v2h-1v1h-1v-1h-1v-2h1zM704 202h1v1h1v2h-1v1h-1v-1h-1v-2h1zM706 202h1v1h1v2h-1v1h-1v-1h-1v-2h1zM708 202h1v1h1v2h-1v1h-1v-1h-1v-2h1zM709 202h1v1h1v2h-1v1h-1v-1h-1v-2h1zM710 202h1v1h1v2h-1v1h-1v-1h-1v-2h1zM711 202h1v1h1v2h-1v1h-1v-1h-1v-2h1zM713 202h1v1h1v2h-1v1h-1v-1h-1v-2h1zM714 202h1v1h1v2h-1v1h-1v-1h-1v-2h1zM716 202h1v1h1v2h-1v1h-1v-1h-1v-2h1zM717 202h1v1h1v2h-1v1h-1v-1h-1v-2h1zM719 202h1v1h1v2h-1v1h-1v-1h-1v-2h1zM721 202h1v1h1v2h-1v1h-1v-1h-1v-2h1zM723 202h1v1h1v2h-1v1h-1v-1h-1v-2h1zM725 202h1v1h1v2h-1v1h-1v-1h-1v-2h1zM727 202h1v1h1v2h-1v1h-1v-1h-1v-2h1zM729 202h1v1h1v2h-1v1h-1v-1h-1v-2h1zM731 202h1v1h1v2h-1v1h-1v-1h-1v-2h1zM733 202h1v1h1v2h-1v1h-1v-1h-1v-2h1zM734 202h1v1h1v2h-1v1h-1v-1h-1v-2h1zM735 202h1v1h1v2h-1v1h-1v-1h-1v-2h1zM736 202h1v1h1v2h-1v1h-1v-1h-1v-2h1zM738 202h1v1h1v2h-1v1h-1v-1h-1v-2h1zM739 202h1v1h1v2h-1v1h-1v-1h-1v-2h1zM741 202h1v1h1v2h-1v1h-1v-1h-1v-2h1zM742 202h1v1h1v2h-1v1h-1v-1h-1v-2h1zM744 202h1v1h1v2h-1v1h-1v-1h-1v-2h1zM746 202h1v1h1v2h-1v1h-1v-1h-1v-2h1zM747 202h1v1h1v2h-1v1h-1v-1h-1v-2h1zM753 202h1v1h1v2h-1v1h-1v-1h-1v-2h1zM761 202h1v1h1v2h-1v1h-1v-1h-1v-2h1zM763 202h1v1h1v2h-1v1h-1v-1h-1v-2h1zM767 202h1v1h1v2h-1v1h-1v-1h-1v-2h1z" fill="#000" shape-rendering="crispEdges"/>
<path d="M849.5 6.5H1065.5V204.5H849.5ZM849.5 204v7M856.5 204v4M863.5 204v4M870.5 204v4M878.5 204v4M885.5 204v7M892.5 204v4M899.5 204v4M906.5 204v4M914.5 204v4M921.5 204v7M928.5 204v4M935.5 204v4M942.5 204v4M950.5 204v4M957.5 204v7M964.5 204v4M971.5 204v4M978.5 204v4M986.5 204v4M993.5 204v7M1000.5 204v4M1007.5 204v4M1014.5 204v4M1022.5 204v4M1029.5 204v7M1036.5 204v4M1043.5 204v4M1050.5 204v4M1058.5 204v4M1065.5 204v7M850 204.5h-7M850 184.5h-4M850 164.5h-7M850 145.5h-4M850 125.5h-7M850 105.5h-4M850 85.5h-7M850 65.5h-4M850 46.5h-7M850 26.5h-4M850 6.5h-7" fill="none" stroke="#000" stroke-width="1" shape-rendering="crispEdges"/>
<path d="M906 193h1v1h1v2h-1v1h-1v-1h-1v-2h1zM919 194h1v1h1v2h-1v1h-1v-1h-1v-2h1zM927 191h1v1h1v2h-1v1h-1v-1h-1v-2h1zM928 162h1v1h1v2h-1v1h-1v-1h-1v-2h1zM930 158h1v1h1v2h-1v1h-1v-1h-1v-2h1zM932 169h1v1h1v2h-1v1h-1v-1h-1v-2h1zM935 185h1v1h1v2h-1v1h-1v-1h-1v-2h1zM938 189h1v1h1v2h-1v1h-1v-1h-1v-2h1zM940 183h1v1h1v2h-1v1h-1v-1h-1v-2h1zM942 188h1v1h1v2h-1v1h-1v-1h-1v-2h1zM944 181h1v1h1v2h-1v1h-1v-1h-1v-2h1zM948 176h1v1h1v2h-1v1h-1v-1h-1v-2h1zM949 175h1v1h1v2h-1v1h-1v-1h-1v-2h1zM949 184h1v1h1v2h-1v1h-1v-1h-1v-2h1zM952 188h1v1h1v2h-1v1h-1v-1h-1v-2h1zM949 150h1v1h1v2h-1v1h-1v-1h-1v-2h1zM952 142h1v1h1v2h-1v1h-1v-1h-1v-2h1zM954 146h1v1h1v2h-1v1h-1v-1h-1v-2h1zM953 136h1v1h1v2h-1v1h-1v-1h-1v-2h1zM956 174h1v1h1v2h-1v1h-1v-1h-1v-2h1zM959 173h1v1h1v2h-1v1h-1v-1h-1v-2h1zM958 195h1v1h1v2h-1v1h-1v-1h-1v-2h1zM960 186h1v1h1v2h-1v1h-1v-1h-1v-2h1zM960 188h1v1h1v2h-1v1h-1v-1h-1v-2h1zM962 190h1v1h1v2h-1v1h-1v-1h-1v-2h1zM963 191h1v1h1v2h-1v1h-1v-1h-1v-2h1zM963 163h1v1h1v2h-1v1h-1v-1h-1v-2h1zM963 164h1v1h1v2h-1v1h-1v-1h-1v-2h1zM963 137h1v1h1v2h-1v1h-1v-1h-1v-2h1zM964 126h1v1h1v2h-1v1h-1v-1h-1v-2h1zM966 159h1v1h1v2h-1v1h-1v-1h-1v-2h1zM967 160h1v1h1v2h-1v1h-1v-1h-1v-2h1zM968 161h1v1h1v2h-1v1h-1v-1h-1v-2h1zM970 162h1v1h1v2h-1v1h-1v-1h-1v-2h1zM972 162h1v1h1v2h-1v1h-1v-1h-1v-2h1zM974 163h1v1h1v2h-1v1h-1v-1h-1v-2h1zM976 164h1v1h1v2h-1v1h-1v-1h-1v-2h1zM972 120h1v1h1v2h-1v1h-1v-1h-1v-2h1zM973 140h1v1h1v2h-1v1h-1v-1h-1v-2h1zM978 155h1v1h1v2h-1v1h-1v-1h-1v-2h1zM979 155h1v1h1v2h-1v1h-1v-1h-1v-2h1zM981 146h1v1h1v2h-1v1h-1v-1h-1v-2h1zM982 149h1v1h1v2h-1v1h-1v-1h-1v-2h1zM983 127h1v1h1v2h-1v1h-1v-1h-1v-2h1zM984 139h1v1h1v2h-1v1h-1v-1h-1v-2h1zM988 132h1v1h1v2h-1v1h-1v-1h-1v-2h1zM989 143h1v1h1v2h-1v1h-1v-1h-1v-2h1zM985 165h1v1h1v2h-1v1h-1v-1h-1v-2h1zM982 170h1v1h1v2h-1v1h-1v-1h-1v-2h1zM982 176h1v1h1v2h-1v1h-1v-1h-1v-2h1zM984 183h1v1h1v2h-1v1h-1v-1h-1v-2h1zM986 182h1v1h1v2h-1v1h-1v-1h-1v-2h1zM988 180h1v1h1v2h-1v1h-1v-1h-1v-2h1zM989 177h1v1h1v2h-1v1h-1v-1h-1v-2h1zM989 174h1v1h1v2h-1v1h-1v-1h-1v-2h1zM990 172h1v1h1v2h-1v1h-1v-1h-1v-2h1zM993 172h1v1h1v2h-1v1h-1v-1h-1v-2h1zM995 181h1v1h1v2h-1v1h-1v-1h-1v-2h1zM998 185h1v1h1v2h-1v1h-1v-1h-1v-2h1zM996 186h1v1h1v2h-1v1h-1v-1h-1v-2h1zM994 189h1v1h1v2h-1v1h-1v-1h-1v-2h1zM994 195h1v1h1v2h-1v1h-1v-1h-1v-2h1zM989 186h1v1h1v2h-1v1h-1v-1h-1v-2h1zM989 189h1v1h1v2h-1v1h-1v-1h-1v-2h1zM989 191h1v1h1v2h-1v1h-1v-1h-1v-2h1zM989 193h1v1h1v2h-1v1h-1v-1h-1v-2h1zM985 193h1v1h1v2h-1v1h-1v-1h-1v-2h1zM980 188h1v1h1v2h-1v1h-1v-1h-1v-2h1zM973 173h1v1h1v2h-1v1h-1v-1h-1v-2h1zM974 174h1v1h1v2h-1v1h-1v-1h-1v-2h1zM976 175h1v1h1v2h-1v1h-1v-1h-1v-2h1zM977 177h1v1h1v2h-1v1h-1v-1h-1v-2h1zM976 179h1v1h1v2h-1v1h-1v-1h-1v-2h1zM973 180h1v1h1v2h-1v1h-1v-1h-1v-2h1zM971 181h1v1h1v2h-1v1h-1v-1h-1v-2h1zM969 180h1v1h1v2h-1v1h-1v-1h-1v-2h1zM967 183h1v1h1v2h-1v1h-1v-1h-1v-2h1zM968 187h1v1h1v2h-1v1h-1v-1h-1v-2h1zM999 139h1v1h1v2h-1v1h-1v-1h-1v-2h1zM1000 116h1v1h1v2h-1v1h-1v-1h-1v-2h1zM1010 136h1v1h1v2h-1v1h-1v-1h-1v-2h1zM1010 148h1v1h1v2h-1v1h-1v-1h-1v-2h1zM1016 139h1v1h1v2h-1v1h-1v-1h-1v-2h1zM1013 160h1v1h1v2h-1v1h-1v-1h-1v-2h1zM1015 161h1v1h1v2h-1v1h-1v-1h-1v-2h1zM1016 161h1v1h1v2h-1v1h-1v-1h-1v-2h1zM1011 163h1v1h1v2h-1v1h-1v-1h-1v-2h1zM1010 169h1v1h1v2h-1v1h-1v-1h-1v-2h1zM1019 172h1v1h1v2h-1v1h-1v-1h-1v-2h1zM1019 174h1v1h1v2h-1v1h-1v-1h-1v-2h1zM1005 180h1v1h1v2h-1v1h-1v-1h-1v-2h1zM1008 180h1v1h1v2h-1v1h-1v-1h-1v-2h1zM1010 180h1v1h1v2h-1v1h-1v-1h-1v-2h1zM1008 183h1v1h1v2h-1v1h-1v-1h-1v-2h1zM1009 185h1v1h1v2h-1v1h-1v-1h-1v-2h1zM1007 187h1v1h1v2h-1v1h-1v-1h-1v-2h1zM1010 188h1v1h1v2h-1v1h-1v-1h-1v-2h1zM1012 190h1v1h1v2h-1v1h-1v-1h-1v-2h1zM1013 191h1v1h1v2h-1v1h-1v-1h-1v-2h1zM1010 192h1v1h1v2h-1v1h-1v-1h-1v-2h1zM1009 193h1v1h1v2h-1v1h-1v-1h-1v-2h1zM1007 194h1v1h1v2h-1v1h-1v-1h-1v-2h1zM1005 193h1v1h1v2h-1v1h-1v-1h-1v-2h1zM1003 192h1v1h1v2h-1v1h-1v-1h-1v-2h1zM1001 191h1v1h1v2h-1v1h-1v-1h-1v-2h1zM1001 196h1v1h1v2h-1v1h-1v-1h-1v-2h1zM1004 196h1v1h1v2h-1v1h-1v-1h-1v-2h1zM1006 195h1v1h1v2h-1v1h-1v-1h-1v-2h1zM1014 196h1v1h1v2h-1v1h-1v-1h-1v-2h1zM1016 196h1v1h1v2h-1v1h-1v-1h-1v-2h1zM1018 195h1v1h1v2h-1v1h-1v-1h-1v-2h1zM1020 194h1v1h1v2h-1v1h-1v-1h-1v-2h1zM1021 192h1v1h1v2h-1v1h-1v-1h-1v-2h1zM1022 196h1v1h1v2h-1v1h-1v-1h-1v-2h1zM1016 182h1v1h1v2h-1v1h-1v-1h-1v-2h1zM1018 185h1v1h1v2h-1v1h-1v-1h-1v-2h1zM1021 184h1v1h1v2h-1v1h-1v-1h-1v-2h1zM1027 195h1v1h1v2h-1v1h-1v-1h-1v-2h1zM1029 196h1v1h1v2h-1v1h-1v-1h-1v-2h1zM1034 177h1v1h1v2h-1v1h-1v-1h-1v-2h1zM1034 182h1v1h1v2h-1v1h-1v-1h-1v-2h1zM1037 189h1v1h1v2h-1v1h-1v-1h-1v-2h1zM1038 188h1v1h1v2h-1v1h-1v-1h-1v-2h1zM1042 187h1v1h1v2h-1v1h-1v-1h-1v-2h1zM1036 195h1v1h1v2h-1v1h-1v-1h-1v-2h1zM1035 197h1v1h1v2h-1v1h-1v-1h-1v-2h1zM1041 195h1v1h1v2h-1v1h-1v-1h-1v-2h1zM1042 196h1v1h1v2h-1v1h-1v-1h-1v-2h1zM1043 197h1v1h1v2h-1v1h-1v-1h-1v-2h1zM1042 158h1v1h1v2h-1v1h-1v-1h-1v-2h1zM967 189h1v1h1v2h-1v1h-1v-1h-1v-2h1zM977 192h1v1h1v2h-1v1h-1v-1h-1v-2h1zM971 193h1v1h1v2h-1v1h-1v-1h-1v-2h1zM973 190h1v1h1v2h-1v1h-1v-1h-1v-2h1zM979 194h1v1h1v2h-1v1h-1v-1h-1v-2h1zM970 193h1v1h1v2h-1v1h-1v-1h-1v-2h1zM974 196h1v1h1v2h-1v1h-1v-1h-1v-2h1zM978 190h1v1h1v2h-1v1h-1v-1h-1v-2h1zM982 189h1v1h1v2h-1v1h-1v-1h-1v-2h1zM973 195h1v1h1v2h-1v1h-1v-1h-1v-2h1zM968 192h1v1h1v2h-1v1h-1v-1h-1v-2h1zM966 194h1v1h1v2h-1v1h-1v-1h-1v-2h1zM978 193h1v1h1v2h-1v1h-1v-1h-1v-2h1zM980 191h1v1h1v2h-1v1h-1v-1h-1v-2h1zM977 193h1v1h1v2h-1v1h-1v-1h-1v-2h1zM975 192h1v1h1v2h-1v1h-1v-1h-1v-2h1zM980 197h1v1h1v2h-1v1h-1v-1h-1v-2h1zM974 194h1v1h1v2h-1v1h-1v-1h-1v-2h1zM967 194h1v1h1v2h-1v1h-1v-1h-1v-2h1zM976 197h1v1h1v2h-1v1h-1v-1h-1v-2h1zM979 190h1v1h1v2h-1v1h-1v-1h-1v-2h1zM972 194h1v1h1v2h-1v1h-1v-1h-1v-2h1zM966 192h1v1h1v2h-1v1h-1v-1h-1v-2h1zM969 189h1v1h1v2h-1v1h-1v-1h-1v-2h1zM967 195h1v1h1v2h-1v1h-1v-1h-1v-2h1zM968 190h1v1h1v2h-1v1h-1v-1h-1v-2h1zM972 196h1v1h1v2h-1v1h-1v-1h-1v-2h1zM967 192h1v1h1v2h-1v1h-1v-1h-1v-2h1zM975 196h1v1h1v2h-1v1h-1v-1h-1v-2h1zM979 196h1v1h1v2h-1v1h-1v-1h-1v-2h1zM869 84h1v1h1v2h-1v1h-1v-1h-1v-2h1zM1003 32h1v1h1v2h-1v1h-1v-1h-1v-2h1zM880 202h1v1h1v2h-1v1h-1v-1h-1v-2h1zM881 202h1v1h1v2h-1v1h-1v-1h-1v-2h1zM883 202h1v1h1v2h-1v1h-1v-1h-1v-2h1zM886 202h1v1h1v2h-1v1h-1v-1h-1v-2h1zM887 202h1v1h1v2h-1v1h-1v-1h-1v-2h1zM889 202h1v1h1v2h-1v1h-1v-1h-1v-2h1zM891 202h1v1h1v2h-1v1h-1v-1h-1v-2h1zM893 202h1v1h1v2h-1v1h-1v-1h-1v-2h1zM896 202h1v1h1v2h-1v1h-1v-1h-1v-2h1zM902 202h1v1h1v2h-1v1h-1v-1h-1v-2h1zM904 202h1v1h1v2h-1v1h-1v-1h-1v-2h1zM907 202h1v1h1v2h-1v1h-1v-1h-1v-2h1zM912 202h1v1h1v2h-1v1h-1v-1h-1v-2h1zM913 202h1v1h1v2h-1v1h-1v-1h-1v-2h1zM915 202h1v1h1v2h-1v1h-1v-1h-1v-2h1zM916 202h1v1h1v2h-1v1h-1v-1h-1v-2h1zM917 202h1v1h1v2h-1v1h-1v-1h-1v-2h1zM918 202h1v1h1v2h-1v1h-1v-1h-1v-2h1zM919 202h1v1h1v2h-1v1h-1v-1h-1v-2h1zM920 202h1v1h1v2h-1v1h-1v-1h-1v-2h1zM921 202h1v1h1v2h-1v1h-1v-1h-1v-2h1zM922 202h1v1h1v2h-1v1h-1v-1h-1v-2h1zM923 202h1v1h1v2h-1v1h-1v-1h-1v-2h1zM925 202h1v1h1v2h-1v1h-1v-1h-1v-2h1zM926 202h1v1h1v2h-1v1h-1v-1h-1v-2h1zM927 202h1v1h1v2h-1v1h-1v-1h-1v-2h1zM928 202h1v1h1v2h-1v1h-1v-1h-1v-2h1zM929 202h1v1h1v2h-1v1h-1v-1h-1v-2h1zM930 202h1v1h1v2h-1v1h-1v-1h-1v-2h1zM931 202h1v1h1v2h-1v1h-1v-1h-1v-2h1zM932 202h1v1h1v2h-1v1h-1v-1h-1v-2h1zM933 202h1v1h1v2h-1v1h-1v-1h-1v-2h1zM935 202h1v1h1v2h-1v1h-1v-1h-1v-2h1zM937 202h1v1h1v2h-1v1h-1v-1h-1v-2h1zM938 202h1v1h1v2h-1v1h-1v-1h-1v-2h1zM939 202h1v1h1v2h-1v1h-1v-1h-1v-2h1zM940 202h1v1h1v2h-1v1h-1v-1h-1v-2h1zM941 202h1v1h1v2h-1v1h-1v-1h-1v-2h1zM943 202h1v1h1v2h-1v1h-1v-1h-1v-2h1zM945 202h1v1h1v2h-1v1h-1v-1h-1v-2h1zM948 202h1v1h1v2h-1v1h-1v-1h-1v-2h1zM950 202h1v1h1v2h-1v1h-1v-1h-1v-2h1zM952 202h1v1h1v2h-1v1h-1v-1h-1v-2h1zM953 202h1v1h1v2h-1v1h-1v-1h-1v-2h1zM954 202h1v1h1v2h-1v1h-1v-1h-1v-2h1zM955 202h1v1h1v2h-1v1h-1v-1h-1v-2h1zM956 202h1v1h1v2h-1v1h-1v-1h-1v-2h1zM957 202h1v1h1v2h-1v1h-1v-1h-1v-2h1zM958 202h1v1h1v2h-1v1h-1v-1h-1v-2h1zM959 202h1v1h1v2h-1v1h-1v-1h-1v-2h1zM960 202h1v1h1v2h-1v1h-1v-1h-1v-2h1zM961 202h1v1h1v2h-1v1h-1v-1h-1v-2h1zM962 202h1v1h1v2h-1v1h-1v-1h-1v-2h1zM963 202h1v1h1v2h-1v1h-1v-1h-1v-2h1zM964 202h1v1h1v2h-1v1h-1v-1h-1v-2h1zM965 202h1v1h1v2h-1v1h-1v-1h-1v-2h1zM966 202h1v1h1v2h-1v1h-1v-1h-1v-2h1zM967 202h1v1h1v2h-1v1h-1v-1h-1v-2h1zM968 202h1v1h1v2h-1v1h-1v-1h-1v-2h1zM969 202h1v1h1v2h-1v1h-1v-1h-1v-2h1zM970 202h1v1h1v2h-1v1h-1v-1h-1v-2h1zM971 202h1v1h1v2h-1v1h-1v-1h-1v-2h1zM972 202h1v1h1v2h-1v1h-1v-1h-1v-2h1zM973 202h1v1h1v2h-1v1h-1v-1h-1v-2h1zM974 202h1v1h1v2h-1v1h-1v-1h-1v-2h1zM975 202h1v1h1v2h-1v1h-1v-1h-1v-2h1zM976 202h1v1h1v2h-1v1h-1v-1h-1v-2h1zM977 202h1v1h1v2h-1v1h-1v-1h-1v-2h1zM979 202h1v1h1v2h-1v1h-1v-1h-1v-2h1zM980 202h1v1h1v2h-1v1h-1v-1h-1v-2h1zM983 202h1v1h1v2h-1v1h-1v-1h-1v-2h1zM984 202h1v1h1v2h-1v1h-1v-1h-1v-2h1zM986 202h1v1h1v2h-1v1h-1v-1h-1v-2h1zM987 202h1v1h1v2h-1v1h-1v-1h-1v-2h1zM988 202h1v1h1v2h-1v1h-1v-1h-1v-2h1zM991 202h1v1h1v2h-1v1h-1v-1h-1v-2h1zM992 202h1v1h1v2h-1v1h-1v-1h-1v-2h1zM994 202h1v1h1v2h-1v1h-1v-1h-1v-2h1zM995 202h1v1h1v2h-1v1h-1v-1h-1v-2h1zM997 202h1v1h1v2h-1v1h-1v-1h-1v-2h1zM998 202h1v1h1v2h-1v1h-1v-1h-1v-2h1zM999 202h1v1h1v2h-1v1h-1v-1h-1v-2h1zM1000 202h1v1h1v2h-1v1h-1v-1h-1v-2h1zM1002 202h1v1h1v2h-1v1h-1v-1h-1v-2h1zM1004 202h1v1h1v2h-1v1h-1v-1h-1v-2h1zM1006 202h1v1h1v2h-1v1h-1v-1h-1v-2h1zM1008 202h1v1h1v2h-1v1h-1v-1h-1v-2h1zM1010 202h1v1h1v2h-1v1h-1v-1h-1v-2h1zM1011 202h1v1h1v2h-1v1h-1v-1h-1v-2h1zM1012 202h1v1h1v2h-1v1h-1v-1h-1v-2h1zM1014 202h1v1h1v2h-1v1h-1v-1h-1v-2h1zM1015 202h1v1h1v2h-1v1h-1v-1h-1v-2h1zM1025 202h1v1h1v2h-1v1h-1v-1h-1v-2h1zM1032 202h1v1h1v2h-1v1h-1v-1h-1v-2h1zM1034 202h1v1h1v2h-1v1h-1v-1h-1v-2h1zM1037 202h1v1h1v2h-1v1h-1v-1h-1v-2h1zM1039 202h1v1h1v2h-1v1h-1v-1h-1v-2h1zM1042 202h1v1h1v2h-1v1h-1v-1h-1v-2h1z" fill="#000" shape-rendering="crispEdges"/>
<path d="M42.5 254.5H258.5V452.5H42.5ZM42.5 452v7M48.5 452v4M54.5 452v4M60.5 452v4M66.5 452v4M73.5 452v7M79.5 452v4M85.5 452v4M91.5 452v4M97.5 452v4M103.5 452v7M110.5 452v4M116.5 452v4M122.5 452v4M128.5 452v4M134.5 452v7M140.5 452v4M147.5 452v4M153.5 452v4M159.5 452v4M165.5 452v7M171.5 452v4M177.5 452v4M184.5 452v4M190.5 452v4M196.5 452v7M202.5 452v4M208.5 452v4M215.5 452v4M221.5 452v4M227.5 452v7M233.5 452v4M239.5 452v4M245.5 452v4M252.5 452v4M258.5 452v7M43 452.5h-7M43 432.5h-4M43 412.5h-7M43 393.5h-4M43 373.5h-7M43 353.5h-4M43 333.5h-7M43 313.5h-4M43 294.5h-7M43 274.5h-4M43 254.5h-7" fill="none" stroke="#000" stroke-width="1" shape-rendering="crispEdges"/>
<path d="M129 439h1v1h1v2h-1v1h-1v-1h-1v-2h1zM130 439h1v1h1v2h-1v1h-1v-1h-1v-2h1zM133 436h1v1h1v2h-1v1h-1v-1h-1v-2h1zM132 430h1v1h1v2h-1v1h-1v-1h-1v-2h1zM146 445h1v1h1v2h-1v1h-1v-1h-1v-2h1zM151 436h1v1h1v2h-1v1h-1v-1h-1v-2h1zM152 444h1v1h1v2h-1v1h-1v-1h-1v-2h1zM158 422h1v1h1v2h-1v1h-1v-1h-1v-2h1zM158 440h1v1h1v2h-1v1h-1v-1h-1v-2h1zM160 441h1v1h1v2h-1v1h-1v-1h-1v-2h1zM163 402h1v1h1v2h-1v1h-1v-1h-1v-2h1zM166 375h1v1h1v2h-1v1h-1v-1h-1v-2h1zM167 444h1v1h1v2h-1v1h-1v-1h-1v-2h1zM170 430h1v1h1v2h-1v1h-1v-1h-1v-2h1zM171 420h1v1h1v2h-1v1h-1v-1h-1v-2h1zM174 420h1v1h1v2h-1v1h-1v-1h-1v-2h1zM175 423h1v1h1v2h-1v1h-1v-1h-1v-2h1zM178 428h1v1h1v2h-1v1h-1v-1h-1v-2h1zM182 433h1v1h1v2h-1v1h-1v-1h-1v-2h1zM181 435h1v1h1v2h-1v1h-1v-1h-1v-2h1zM180 437h1v1h1v2h-1v1h-1v-1h-1v-2h1zM179 440h1v1h1v2h-1v1h-1v-1h-1v-2h1zM180 443h1v1h1v2h-1v1h-1v-1h-1v-2h1zM183 438h1v1h1v2h-1v1h-1v-1h-1v-2h1zM180 408h1v1h1v2h-1v1h-1v-1h-1v-2h1zM184 420h1v1h1v2h-1v1h-1v-1h-1v-2h1zM185 425h1v1h1v2h-1v1h-1v-1h-1v-2h1zM185 427h1v1h1v2h-1v1h-1v-1h-1v-2h1zM188 416h1v1h1v2h-1v1h-1v-1h-1v-2h1zM188 395h1v1h1v2h-1v1h-1v-1h-1v-2h1zM188 384h1v1h1v2h-1v1h-1v-1h-1v-2h1zM190 423h1v1h1v2h-1v1h-1v-1h-1v-2h1zM191 402h1v1h1v2h-1v1h-1v-1h-1v-2h1zM192 429h1v1h1v2h-1v1h-1v-1h-1v-2h1zM192 433h1v1h1v2h-1v1h-1v-1h-1v-2h1zM193 433h1v1h1v2h-1v1h-1v-1h-1v-2h1zM189 440h1v1h1v2h-1v1h-1v-1h-1v-2h1zM194 393h1v1h1v2h-1v1h-1v-1h-1v-2h1zM194 417h1v1h1v2h-1v1h-1v-1h-1v-2h1zM195 441h1v1h1v2h-1v1h-1v-1h-1v-2h1zM197 412h1v1h1v2h-1v1h-1v-1h-1v-2h1zM198 443h1v1h1v2h-1v1h-1v-1h-1v-2h1zM199 379h1v1h1v2h-1v1h-1v-1h-1v-2h1zM201 386h1v1h1v2h-1v1h-1v-1h-1v-2h1zM201 391h1v1h1v2h-1v1h-1v-1h-1v-2h1zM201 420h1v1h1v2h-1v1h-1v-1h-1v-2h1zM200 422h1v1h1v2h-1v1h-1v-1h-1v-2h1zM199 424h1v1h1v2h-1v1h-1v-1h-1v-2h1zM199 427h1v1h1v2h-1v1h-1v-1h-1v-2h1zM201 443h1v1h1v2h-1v1h-1v-1h-1v-2h1zM204 441h1v1h1v2h-1v1h-1v-1h-1v-2h1zM205 443h1v1h1v2h-1v1h-1v-1h-1v-2h1zM206 424h1v1h1v2h-1v1h-1v-1h-1v-2h1zM206 429h1v1h1v2h-1v1h-1v-1h-1v-2h1zM205 431h1v1h1v2h-1v1h-1v-1h-1v-2h1zM206 438h1v1h1v2h-1v1h-1v-1h-1v-2h1zM207 439h1v1h1v2h-1v1h-1v-1h-1v-2h1zM208 440h1v1h1v2h-1v1h-1v-1h-1v-2h1zM209 397h1v1h1v2h-1v1h-1v-1h-1v-2h1zM211 407h1v1h1v2h-1v1h-1v-1h-1v-2h1zM211 410h1v1h1v2h-1v1h-1v-1h-1v-2h1zM212 410h1v1h1v2h-1v1h-1v-1h-1v-2h1zM210 432h1v1h1v2h-1v1h-1v-1h-1v-2h1zM210 436h1v1h1v2h-1v1h-1v-1h-1v-2h1zM212 437h1v1h1v2h-1v1h-1v-1h-1v-2h1zM213 421h1v1h1v2h-1v1h-1v-1h-1v-2h1zM215 421h1v1h1v2h-1v1h-1v-1h-1v-2h1zM214 428h1v1h1v2h-1v1h-1v-1h-1v-2h1zM215 434h1v1h1v2h-1v1h-1v-1h-1v-2h1zM216 436h1v1h1v2h-1v1h-1v-1h-1v-2h1zM214 438h1v1h1v2h-1v1h-1v-1h-1v-2h1zM215 439h1v1h1v2h-1v1h-1v-1h-1v-2h1zM216 441h1v1h1v2h-1v1h-1v-1h-1v-2h1zM212 442h1v1h1v2h-1v1h-1v-1h-1v-2h1zM213 444h1v1h1v2h-1v1h-1v-1h-1v-2h1zM215 443h1v1h1v2h-1v1h-1v-1h-1v-2h1zM217 443h1v1h1v2h-1v1h-1v-1h-1v-2h1zM218 430h1v1h1v2h-1v1h-1v-1h-1v-2h1zM219 435h1v1h1v2h-1v1h-1v-1h-1v-2h1zM220 436h1v1h1v2h-1v1h-1v-1h-1v-2h1zM221 374h1v1h1v2h-1v1h-1v-1h-1v-2h1zM222 406h1v1h1v2h-1v1h-1v-1h-1v-2h1zM224 405h1v1h1v2h-1v1h-1v-1h-1v-2h1zM224 410h1v1h1v2h-1v1h-1v-1h-1v-2h1zM224 384h1v1h1v2h-1v1h-1v-1h-1v-2h1zM224 393h1v1h1v2h-1v1h-1v-1h-1v-2h1zM227 389h1v1h1v2h-1v1h-1v-1h-1v-2h1zM222 431h1v1h1v2h-1v1h-1v-1h-1v-2h1zM224 432h1v1h1v2h-1v1h-1v-1h-1v-2h1zM224 436h1v1h1v2h-1v1h-1v-1h-1v-2h1zM222 440h1v1h1v2h-1v1h-1v-1h-1v-2h1zM223 442h1v1h1v2h-1v1h-1v-1h-1v-2h1zM222 444h1v1h1v2h-1v1h-1v-1h-1v-2h1zM224 443h1v1h1v2h-1v1h-1v-1h-1v-2h1zM226 443h1v1h1v2h-1v1h-1v-1h-1v-2h1zM228 444h1v1h1v2h-1v1h-1v-1h-1v-2h1zM230 428h1v1h1v2h-1v1h-1v-1h-1v-2h1zM230 434h1v1h1v2h-1v1h-1v-1h-1v-2h1zM231 386h1v1h1v2h-1v1h-1v-1h-1v-2h1zM231 408h1v1h1v2h-1v1h-1v-1h-1v-2h1zM231 445h1v1h1v2h-1v1h-1v-1h-1v-2h1zM232 444h1v1h1v2h-1v1h-1v-1h-1v-2h1zM233 443h1v1h1v2h-1v1h-1v-1h-1v-2h1zM234 442h1v1h1v2h-1v1h-1v-1h-1v-2h1zM234 427h1v1h1v2h-1v1h-1v-1h-1v-2h1zM235 433h1v1h1v2h-1v1h-1v-1h-1v-2h1zM235 438h1v1h1v2h-1v1h-1v-1h-1v-2h1zM237 424h1v1h1v2h-1v1h-1v-1h-1v-2h1zM238 417h1v1h1v2h-1v1h-1v-1h-1v-2h1zM238 388h1v1h1v2h-1v1h-1v-1h-1v-2h1zM240 384h1v1h1v2h-1v1h-1v-1h-1v-2h1zM241 367h1v1h1v2h-1v1h-1v-1h-1v-2h1zM239 405h1v1h1v2h-1v1h-1v-1h-1v-2h1zM239 411h1v1h1v2h-1v1h-1v-1h-1v-2h1zM241 410h1v1h1v2h-1v1h-1v-1h-1v-2h1zM240 421h1v1h1v2h-1v1h-1v-1h-1v-2h1zM245 386h1v1h1v2h-1v1h-1v-1h-1v-2h1zM247 364h1v1h1v2h-1v1h-1v-1h-1v-2h1zM249 398h1v1h1v2h-1v1h-1v-1h-1v-2h1zM250 409h1v1h1v2h-1v1h-1v-1h-1v-2h1zM249 410h1v1h1v2h-1v1h-1v-1h-1v-2h1zM248 411h1v1h1v2h-1v1h-1v-1h-1v-2h1zM249 412h1v1h1v2h-1v1h-1v-1h-1v-2h1zM251 423h1v1h1v2h-1v1h-1v-1h-1v-2h1zM250 426h1v1h1v2h-1v1h-1v-1h-1v-2h1zM247 428h1v1h1v2h-1v1h-1v-1h-1v-2h1zM245 428h1v1h1v2h-1v1h-1v-1h-1v-2h1zM243 429h1v1h1v2h-1v1h-1v-1h-1v-2h1zM250 437h1v1h1v2h-1v1h-1v-1h-1v-2h1zM249 438h1v1h1v2h-1v1h-1v-1h-1v-2h1zM250 443h1v1h1v2h-1v1h-1v-1h-1v-2h1zM244 442h1v1h1v2h-1v1h-1v-1h-1v-2h1zM238 431h1v1h1v2h-1v1h-1v-1h-1v-2h1zM239 435h1v1h1v2h-1v1h-1v-1h-1v-2h1zM244 429h1v1h1v2h-1v1h-1v-1h-1v-2h1zM238 430h1v1h1v2h-1v1h-1v-1h-1v-2h1zM238 432h1v1h1v2h-1v1h-1v-1h-1v-2h1zM241 430h1v1h1v2h-1v1h-1v-1h-1v-2h1zM236 431h1v1h1v2h-1v1h-1v-1h-1v-2h1zM239 432h1v1h1v2h-1v1h-1v-1h-1v-2h1zM244 433h1v1h1v2h-1v1h-1v-1h-1v-2h1zM240 433h1v1h1v2h-1v1h-1v-1h-1v-2h1zM242 429h1v1h1v2h-1v1h-1v-1h-1v-2h1zM243 434h1v1h1v2h-1v1h-1v-1h-1v-2h1zM239 431h1v1h1v2h-1v1h-1v-1h-1v-2h1zM238 443h1v1h1v2h-1v1h-1v-1h-1v-2h1zM238 436h1v1h1v2h-1v1h-1v-1h-1v-2h1zM238 437h1v1h1v2h-1v1h-1v-1h-1v-2h1zM239 436h1v1h1v2h-1v1h-1v-1h-1v-2h1zM237 437h1v1h1v2h-1v1h-1v-1h-1v-2h1zM238 440h1v1h1v2h-1v1h-1v-1h-1v-2h1zM237 446h1v1h1v2h-1v1h-1v-1h-1v-2h1zM240 437h1v1h1v2h-1v1h-1v-1h-1v-2h1zM239 437h1v1h1v2h-1v1h-1v-1h-1v-2h1zM240 447h1v1h1v2h-1v1h-1v-1h-1v-2h1zM239 441h1v1h1v2h-1v1h-1v-1h-1v-2h1zM239 439h1v1h1v2h-1v1h-1v-1h-1v-2h1zM243 436h1v1h1v2h-1v1h-1v-1h-1v-2h1zM235 441h1v1h1v2h-1v1h-1v-1h-1v-2h1zM240 436h1v1h1v2h-1v1h-1v-1h-1v-2h1zM240 441h1v1h1v2h-1v1h-1v-1h-1v-2h1zM243 440h1v1h1v2h-1v1h-1v-1h-1v-2h1zM237 438h1v1h1v2h-1v1h-1v-1h-1v-2h1zM236 440h1v1h1v2h-1v1h-1v-1h-1v-2h1zM196 280h1v1h1v2h-1v1h-1v-1h-1v-2h1zM248 332h1v1h1v2h-1v1h-1v-1h-1v-2h1zM69 449h1v1h1v2h-1v1h-1v-1h-1v-2h1zM70 449h1v1h1v2h-1v1h-1v-1h-1v-2h1zM72 449h1v1h1v2h-1v1h-1v-1h-1v-2h1zM73 449h1v1h1v2h-1v1h-1v-1h-1v-2h1zM76 449h1v1h1v2h-1v1h-1v-1h-1v-2h1zM77 449h1v1h1v2h-1v1h-1v-1h-1v-2h1zM80 449h1v1h1v2h-1v1h-1v-1h-1v-2h1zM82 449h1v1h1v2h-1v1h-1v-1h-1v-2h1zM84 449h1v1h1v2h-1v1h-1v-1h-1v-2h1zM85 449h1v1h1v2h-1v1h-1v-1h-1v-2h1zM86 449h1v1h1v2h-1v1h-1v-1h-1v-2h1zM87 449h1v1h1v2h-1v1h-1v-1h-1v-2h1zM89 449h1v1h1v2h-1v1h-1v-1h-1v-2h1zM91 449h1v1h1v2h-1v1h-1v-1h-1v-2h1zM93 449h1v1h1v2h-1v1h-1v-1h-1v-2h1zM94 449h1v1h1v2h-1v1h-1v-1h-1v-2h1zM96 449h1v1h1v2h-1v1h-1v-1h-1v-2h1zM97 449h1v1h1v2h-1v1h-1v-1h-1v-2h1zM99 449h1v1h1v2h-1v1h-1v-1h-1v-2h1zM101 449h1v1h1v2h-1v1h-1v-1h-1v-2h1zM102 449h1v1h1v2h-1v1h-1v-1h-1v-2h1zM104 449h1v1h1v2h-1v1h-1v-1h-1v-2h1zM107 449h1v1h1v2h-1v1h-1v-1h-1v-2h1zM108 449h1v1h1v2h-1v1h-1v-1h-1v-2h1zM111 449h1v1h1v2h-1v1h-1v-1h-1v-2h1zM112 449h1v1h1v2h-1v1h-1v-1h-1v-2h1zM113 449h1v1h1v2h-1v1h-1v-1h-1v-2h1zM115 449h1v1h1v2h-1v1h-1v-1h-1v-2h1zM117 449h1v1h1v2h-1v1h-1v-1h-1v-2h1zM118 449h1v1h1v2h-1v1h-1v-1h-1v-2h1zM119 449h1v1h1v2h-1v1h-1v-1h-1v-2h1zM121 449h1v1h1v2h-1v1h-1v-1h-1v-2h1zM122 449h1v1h1v2h-1v1h-1v-1h-1v-2h1zM123 449h1v1h1v2h-1v1h-1v-1h-1v-2h1zM125 449h1v1h1v2h-1v1h-1v-1h-1v-2h1zM127 449h1v1h1v2h-1v1h-1v-1h-1v-2h1zM129 449h1v1h1v2h-1v1h-1v-1h-1v-2h1zM130 449h1v1h1v2h-1v1h-1v-1h-1v-2h1zM132 449h1v1h1v2h-1v1h-1v-1h-1v-2h1zM135 449h1v1h1v2h-1v1h-1v-1h-1v-2h1zM137 449h1v1h1v2h-1v1h-1v-1h-1v-2h1zM139 449h1v1h1v2h-1v1h-1v-1h-1v-2h1zM143 449h1v1h1v2h-1v1h-1v-1h-1v-2h1zM145 449h1v1h1v2h-1v1h-1v-1h-1v-2h1zM147 449h1v1h1v2h-1v1h-1v-1h-1v-2h1zM148 449h1v1h1v2h-1v1h-1v-1h-1v-2h1zM151 449h1v1h1v2h-1v1h-1v-1h-1v-2h1zM153 449h1v1h1v2h-1v1h-1v-1h-1v-2h1zM156 449h1v1h1v2h-1v1h-1v-1h-1v-2h1zM158 449h1v1h1v2h-1v1h-1v-1h-1v-2h1zM162 449h1v1h1v2h-1v1h-1v-1h-1v-2h1zM163 449h1v1h1v2h-1v1h-1v-1h-1v-2h1zM165 449h1v1h1v2h-1v1h-1v-1h-1v-2h1zM167 449h1v1h1v2h-1v1h-1v-1h-1v-2h1zM168 449h1v1h1v2h-1v1h-1v-1h-1v-2h1zM169 449h1v1h1v2h-1v1h-1v-1h-1v-2h1zM173 449h1v1h1v2h-1v1h-1v-1h-1v-2h1zM174 449h1v1h1v2h-1v1h-1v-1h-1v-2h1zM175 449h1v1h1v2h-1v1h-1v-1h-1v-2h1zM176 449h1v1h1v2h-1v1h-1v-1h-1v-2h1zM177 449h1v1h1v2h-1v1h-1v-1h-1v-2h1zM178 449h1v1h1v2h-1v1h-1v-1h-1v-2h1zM179 449h1v1h1v2h-1v1h-1v-1h-1v-2h1zM180 449h1v1h1v2h-1v1h-1v-1h-1v-2h1zM181 449h1v1h1v2h-1v1h-1v-1h-1v-2h1zM182 449h1v1h1v2h-1v1h-1v-1h-1v-2h1zM184 449h1v1h1v2h-1v1h-1v-1h-1v-2h1zM185 449h1v1h1v2h-1v1h-1v-1h-1v-2h1zM186 449h1v1h1v2h-1v1h-1v-1h-1v-2h1zM187 449h1v1h1v2h-1v1h-1v-1h-1v-2h1zM188 449h1v1h1v2h-1v1h-1v-1h-1v-2h1zM189 449h1v1h1v2h-1v1h-1v-1h-1v-2h1zM190 449h1v1h1v2h-1v1h-1v-1h-1v-2h1zM191 449h1v1h1v2h-1v1h-1v-1h-1v-2h1zM193 449h1v1h1v2h-1v1h-1v-1h-1v-2h1zM194 449h1v1h1v2h-1v1h-1v-1h-1v-2h1zM195 449h1v1h1v2h-1v1h-1v-1h-1v-2h1zM196 449h1v1h1v2h-1v1h-1v-1h-1v-2h1zM197 449h1v1h1v2h-1v1h-1v-1h-1v-2h1zM198 449h1v1h1v2h-1v1h-1v-1h-1v-2h1zM199 449h1v1h1v2h-1v1h-1v-1h-1v-2h1zM200 449h1v1h1v2h-1v1h-1v-1h-1v-2h1zM201 449h1v1h1v2h-1v1h-1v-1h-1v-2h1zM202 449h1v1h1v2h-1v1h-1v-1h-1v-2h1zM203 449h1v1h1v2h-1v1h-1v-1h-1v-2h1zM204 449h1v1h1v2h-1v1h-1v-1h-1v-2h1zM205 449h1v1h1v2h-1v1h-1v-1h-1v-2h1zM206 449h1v1h1v2h-1v1h-1v-1h-1v-2h1zM211 449h1v1h1v2h-1v1h-1v-1h-1v-2h1zM212 449h1v1h1v2h-1v1h-1v-1h-1v-2h1zM214 449h1v1h1v2h-1v1h-1v-1h-1v-2h1zM215 449h1v1h1v2h-1v1h-1v-1h-1v-2h1zM216 449h1v1h1v2h-1v1h-1v-1h-1v-2h1zM218 449h1v1h1v2h-1v1h-1v-1h-1v-2h1zM220 449h1v1h1v2h-1v1h-1v-1h-1v-2h1zM221 449h1v1h1v2h-1v1h-1v-1h-1v-2h1zM222 449h1v1h1v2h-1v1h-1v-1h-1v-2h1zM223 449h1v1h1v2h-1v1h-1v-1h-1v-2h1zM224 449h1v1h1v2h-1v1h-1v-1h-1v-2h1zM225 449h1v1h1v2h-1v1h-1v-1h-1v-2h1zM226 449h1v1h1v2h-1v1h-1v-1h-1v-2h1zM227 449h1v1h1v2h-1v1h-1v-1h-1v-2h1zM228 449h1v1h1v2h-1v1h-1v-1h-1v-2h1zM229 449h1v1h1v2h-1v1h-1v-1h-1v-2h1zM230 449h1v1h1v2h-1v1h-1v-1h-1v-2h1zM231 449h1v1h1v2h-1v1h-1v-1h-1v-2h1zM232 449h1v1h1v2h-1v1h-1v-1h-1v-2h1zM233 449h1v1h1v2h-1v1h-1v-1h-1v-2h1zM234 449h1v1h1v2h-1v1h-1v-1h-1v-2h1zM235 449h1v1h1v2h-1v1h-1v-1h-1v-2h1zM236 449h1v1h1v2h-1v1h-1v-1h-1v-2h1zM237 449h1v1h1v2h-1v1h-1v-1h-1v-2h1zM238 449h1v1h1v2h-1v1h-1v-1h-1v-2h1zM239 449h1v1h1v2h-1v1h-1v-1h-1v-2h1zM240 449h1v1h1v2h-1v1h-1v-1h-1v-2h1zM241 449h1v1h1v2h-1v1h-1v-1h-1v-2h1zM242 449h1v1h1v2h-1v1h-1v-1h-1v-2h1zM244 449h1v1h1v2h-1v1h-1v-1h-1v-2h1zM245 449h1v1h1v2h-1v1h-1v-1h-1v-2h1zM246 449h1v1h1v2h-1v1h-1v-1h-1v-2h1zM247 449h1v1h1v2h-1v1h-1v-1h-1v-2h1zM248 449h1v1h1v2h-1v1h-1v-1h-1v-2h1zM249 449h1v1h1v2h-1v1h-1v-1h-1v-2h1zM250 449h1v1h1v2h-1v1h-1v-1h-1v-2h1z" fill="#000" shape-rendering="crispEdges"/>
<path d="M311.5 254.5H527.5V452.5H311.5ZM311.5 452v7M320.5 452v4M329.5 452v4M338.5 452v4M347.5 452v7M356.5 452v4M365.5 452v4M374.5 452v4M383.5 452v7M392.5 452v4M401.5 452v4M410.5 452v4M419.5 452v7M428.5 452v4M437.5 452v4M446.5 452v4M455.5 452v7M464.5 452v4M473.5 452v4M482.5 452v4M491.5 452v7M500.5 452v4M509.5 452v4M518.5 452v4M527.5 452v7M312 452.5h-7M312 432.5h-4M312 412.5h-7M312 393.5h-4M312 373.5h-7M312 353.5h-4M312 333.5h-7M312 313.5h-4M312 294.5h-7M312 274.5h-4M312 254.5h-7" fill="none" stroke="#000" stroke-width="1" shape-rendering="crispEdges"/>
<path d="M311 411h1v1h1v2h-1v1h-1v-1h-1v-2h1zM311 437h1v1h1v2h-1v1h-1v-1h-1v-2h1zM312 440h1v1h1v2h-1v1h-1v-1h-1v-2h1zM314 433h1v1h1v2h-1v1h-1v-1h-1v-2h1zM314 435h1v1h1v2h-1v1h-1v-1h-1v-2h1zM314 445h1v1h1v2h-1v1h-1v-1h-1v-2h1zM316 384h1v1h1v2h-1v1h-1v-1h-1v-2h1zM316 386h1v1h1v2h-1v1h-1v-1h-1v-2h1zM316 398h1v1h1v2h-1v1h-1v-1h-1v-2h1zM316 421h1v1h1v2h-1v1h-1v-1h-1v-2h1zM316 423h1v1h1v2h-1v1h-1v-1h-1v-2h1zM318 411h1v1h1v2h-1v1h-1v-1h-1v-2h1zM318 428h1v1h1v2h-1v1h-1v-1h-1v-2h1zM318 438h1v1h1v2h-1v1h-1v-1h-1v-2h1zM321 409h1v1h1v2h-1v1h-1v-1h-1v-2h1zM321 429h1v1h1v2h-1v1h-1v-1h-1v-2h1zM321 434h1v1h1v2h-1v1h-1v-1h-1v-2h1zM320 444h1v1h1v2h-1v1h-1v-1h-1v-2h1zM325 364h1v1h1v2h-1v1h-1v-1h-1v-2h1zM325 442h1v1h1v2h-1v1h-1v-1h-1v-2h1zM325 444h1v1h1v2h-1v1h-1v-1h-1v-2h1zM329 426h1v1h1v2h-1v1h-1v-1h-1v-2h1zM332 412h1v1h1v2h-1v1h-1v-1h-1v-2h1zM332 443h1v1h1v2h-1v1h-1v-1h-1v-2h1zM334 437h1v1h1v2h-1v1h-1v-1h-1v-2h1zM335 439h1v1h1v2h-1v1h-1v-1h-1v-2h1zM336 440h1v1h1v2h-1v1h-1v-1h-1v-2h1zM337 439h1v1h1v2h-1v1h-1v-1h-1v-2h1zM338 422h1v1h1v2h-1v1h-1v-1h-1v-2h1zM338 424h1v1h1v2h-1v1h-1v-1h-1v-2h1zM336 388h1v1h1v2h-1v1h-1v-1h-1v-2h1zM339 431h1v1h1v2h-1v1h-1v-1h-1v-2h1zM340 430h1v1h1v2h-1v1h-1v-1h-1v-2h1zM341 429h1v1h1v2h-1v1h-1v-1h-1v-2h1zM342 430h1v1h1v2h-1v1h-1v-1h-1v-2h1zM339 436h1v1h1v2h-1v1h-1v-1h-1v-2h1zM340 438h1v1h1v2h-1v1h-1v-1h-1v-2h1zM341 440h1v1h1v2h-1v1h-1v-1h-1v-2h1zM342 441h1v1h1v2h-1v1h-1v-1h-1v-2h1zM343 435h1v1h1v2h-1v1h-1v-1h-1v-2h1zM344 434h1v1h1v2h-1v1h-1v-1h-1v-2h1zM345 427h1v1h1v2h-1v1h-1v-1h-1v-2h1zM345 436h1v1h1v2h-1v1h-1v-1h-1v-2h1zM346 438h1v1h1v2h-1v1h-1v-1h-1v-2h1zM347 437h1v1h1v2h-1v1h-1v-1h-1v-2h1zM348 436h1v1h1v2h-1v1h-1v-1h-1v-2h1zM344 440h1v1h1v2h-1v1h-1v-1h-1v-2h1zM345 442h1v1h1v2h-1v1h-1v-1h-1v-2h1zM347 443h1v1h1v2h-1v1h-1v-1h-1v-2h1zM349 444h1v1h1v2h-1v1h-1v-1h-1v-2h1zM350 428h1v1h1v2h-1v1h-1v-1h-1v-2h1zM347 386h1v1h1v2h-1v1h-1v-1h-1v-2h1zM347 408h1v1h1v2h-1v1h-1v-1h-1v-2h1zM354 436h1v1h1v2h-1v1h-1v-1h-1v-2h1zM357 405h1v1h1v2h-1v1h-1v-1h-1v-2h1zM357 442h1v1h1v2h-1v1h-1v-1h-1v-2h1zM359 423h1v1h1v2h-1v1h-1v-1h-1v-2h1zM359 432h1v1h1v2h-1v1h-1v-1h-1v-2h1zM361 431h1v1h1v2h-1v1h-1v-1h-1v-2h1zM359 445h1v1h1v2h-1v1h-1v-1h-1v-2h1zM361 443h1v1h1v2h-1v1h-1v-1h-1v-2h1zM363 436h1v1h1v2h-1v1h-1v-1h-1v-2h1zM363 367h1v1h1v2h-1v1h-1v-1h-1v-2h1zM365 428h1v1h1v2h-1v1h-1v-1h-1v-2h1zM368 428h1v1h1v2h-1v1h-1v-1h-1v-2h1zM366 416h1v1h1v2h-1v1h-1v-1h-1v-2h1zM366 420h1v1h1v2h-1v1h-1v-1h-1v-2h1zM368 405h1v1h1v2h-1v1h-1v-1h-1v-2h1zM370 408h1v1h1v2h-1v1h-1v-1h-1v-2h1zM368 432h1v1h1v2h-1v1h-1v-1h-1v-2h1zM368 435h1v1h1v2h-1v1h-1v-1h-1v-2h1zM366 439h1v1h1v2h-1v1h-1v-1h-1v-2h1zM368 440h1v1h1v2h-1v1h-1v-1h-1v-2h1zM369 442h1v1h1v2h-1v1h-1v-1h-1v-2h1zM370 443h1v1h1v2h-1v1h-1v-1h-1v-2h1zM372 444h1v1h1v2h-1v1h-1v-1h-1v-2h1zM374 445h1v1h1v2h-1v1h-1v-1h-1v-2h1zM371 437h1v1h1v2h-1v1h-1v-1h-1v-2h1zM372 436h1v1h1v2h-1v1h-1v-1h-1v-2h1zM374 435h1v1h1v2h-1v1h-1v-1h-1v-2h1zM373 440h1v1h1v2h-1v1h-1v-1h-1v-2h1zM375 431h1v1h1v2h-1v1h-1v-1h-1v-2h1zM377 433h1v1h1v2h-1v1h-1v-1h-1v-2h1zM377 427h1v1h1v2h-1v1h-1v-1h-1v-2h1zM381 374h1v1h1v2h-1v1h-1v-1h-1v-2h1zM384 393h1v1h1v2h-1v1h-1v-1h-1v-2h1zM383 412h1v1h1v2h-1v1h-1v-1h-1v-2h1zM384 411h1v1h1v2h-1v1h-1v-1h-1v-2h1zM384 422h1v1h1v2h-1v1h-1v-1h-1v-2h1zM386 424h1v1h1v2h-1v1h-1v-1h-1v-2h1zM386 429h1v1h1v2h-1v1h-1v-1h-1v-2h1zM386 439h1v1h1v2h-1v1h-1v-1h-1v-2h1zM381 443h1v1h1v2h-1v1h-1v-1h-1v-2h1zM383 443h1v1h1v2h-1v1h-1v-1h-1v-2h1zM388 384h1v1h1v2h-1v1h-1v-1h-1v-2h1zM388 406h1v1h1v2h-1v1h-1v-1h-1v-2h1zM388 410h1v1h1v2h-1v1h-1v-1h-1v-2h1zM393 384h1v1h1v2h-1v1h-1v-1h-1v-2h1zM393 395h1v1h1v2h-1v1h-1v-1h-1v-2h1zM393 416h1v1h1v2h-1v1h-1v-1h-1v-2h1zM393 419h1v1h1v2h-1v1h-1v-1h-1v-2h1zM395 420h1v1h1v2h-1v1h-1v-1h-1v-2h1zM392 430h1v1h1v2h-1v1h-1v-1h-1v-2h1zM392 440h1v1h1v2h-1v1h-1v-1h-1v-2h1zM392 443h1v1h1v2h-1v1h-1v-1h-1v-2h1zM399 397h1v1h1v2h-1v1h-1v-1h-1v-2h1zM399 435h1v1h1v2h-1v1h-1v-1h-1v-2h1zM400 444h1v1h1v2h-1v1h-1v-1h-1v-2h1zM402 441h1v1h1v2h-1v1h-1v-1h-1v-2h1zM402 444h1v1h1v2h-1v1h-1v-1h-1v-2h1zM402 423h1v1h1v2h-1v1h-1v-1h-1v-2h1zM404 379h1v1h1v2h-1v1h-1v-1h-1v-2h1zM404 402h1v1h1v2h-1v1h-1v-1h-1v-2h1zM404 426h1v1h1v2h-1v1h-1v-1h-1v-2h1zM406 428h1v1h1v2h-1v1h-1v-1h-1v-2h1zM408 429h1v1h1v2h-1v1h-1v-1h-1v-2h1zM409 429h1v1h1v2h-1v1h-1v-1h-1v-2h1zM411 427h1v1h1v2h-1v1h-1v-1h-1v-2h1zM411 425h1v1h1v2h-1v1h-1v-1h-1v-2h1zM406 437h1v1h1v2h-1v1h-1v-1h-1v-2h1zM410 391h1v1h1v2h-1v1h-1v-1h-1v-2h1zM411 375h1v1h1v2h-1v1h-1v-1h-1v-2h1zM413 386h1v1h1v2h-1v1h-1v-1h-1v-2h1zM417 389h1v1h1v2h-1v1h-1v-1h-1v-2h1zM415 410h1v1h1v2h-1v1h-1v-1h-1v-2h1zM415 420h1v1h1v2h-1v1h-1v-1h-1v-2h1zM415 423h1v1h1v2h-1v1h-1v-1h-1v-2h1zM415 433h1v1h1v2h-1v1h-1v-1h-1v-2h1zM411 436h1v1h1v2h-1v1h-1v-1h-1v-2h1zM417 443h1v1h1v2h-1v1h-1v-1h-1v-2h1zM419 441h1v1h1v2h-1v1h-1v-1h-1v-2h1zM419 443h1v1h1v2h-1v1h-1v-1h-1v-2h1zM422 420h1v1h1v2h-1v1h-1v-1h-1v-2h1zM422 421h1v1h1v2h-1v1h-1v-1h-1v-2h1zM424 432h1v1h1v2h-1v1h-1v-1h-1v-2h1zM424 434h1v1h1v2h-1v1h-1v-1h-1v-2h1zM424 436h1v1h1v2h-1v1h-1v-1h-1v-2h1zM423 438h1v1h1v2h-1v1h-1v-1h-1v-2h1zM422 441h1v1h1v2h-1v1h-1v-1h-1v-2h1zM424 442h1v1h1v2h-1v1h-1v-1h-1v-2h1zM421 443h1v1h1v2h-1v1h-1v-1h-1v-2h1zM429 417h1v1h1v2h-1v1h-1v-1h-1v-2h1zM429 439h1v1h1v2h-1v1h-1v-1h-1v-2h1zM433 393h1v1h1v2h-1v1h-1v-1h-1v-2h1zM435 402h1v1h1v2h-1v1h-1v-1h-1v-2h1zM433 433h1v1h1v2h-1v1h-1v-1h-1v-2h1zM435 441h1v1h1v2h-1v1h-1v-1h-1v-2h1zM438 443h1v1h1v2h-1v1h-1v-1h-1v-2h1zM440 407h1v1h1v2h-1v1h-1v-1h-1v-2h1zM440 440h1v1h1v2h-1v1h-1v-1h-1v-2h1zM444 432h1v1h1v2h-1v1h-1v-1h-1v-2h1zM446 441h1v1h1v2h-1v1h-1v-1h-1v-2h1zM447 440h1v1h1v2h-1v1h-1v-1h-1v-2h1zM449 443h1v1h1v2h-1v1h-1v-1h-1v-2h1zM442 280h1v1h1v2h-1v1h-1v-1h-1v-2h1zM467 421h1v1h1v2h-1v1h-1v-1h-1v-2h1zM505 440h1v1h1v2h-1v1h-1v-1h-1v-2h1zM462 449h1v1h1v2h-1v1h-1v-1h-1v-2h1zM465 449h1v1h1v2h-1v1h-1v-1h-1v-2h1zM476 449h1v1h1v2h-1v1h-1v-1h-1v-2h1zM509 449h1v1h1v2h-1v1h-1v-1h-1v-2h1zM312 332h1v1h1v2h-1v1h-1v-1h-1v-2h1zM313 449h1v1h1v2h-1v1h-1v-1h-1v-2h1zM314 449h1v1h1v2h-1v1h-1v-1h-1v-2h1zM317 449h1v1h1v2h-1v1h-1v-1h-1v-2h1zM319 449h1v1h1v2h-1v1h-1v-1h-1v-2h1zM321 449h1v1h1v2h-1v1h-1v-1h-1v-2h1zM323 449h1v1h1v2h-1v1h-1v-1h-1v-2h1zM325 449h1v1h1v2h-1v1h-1v-1h-1v-2h1zM327 449h1v1h1v2h-1v1h-1v-1h-1v-2h1zM329 449h1v1h1v2h-1v1h-1v-1h-1v-2h1zM331 449h1v1h1v2h-1v1h-1v-1h-1v-2h1zM333 449h1v1h1v2h-1v1h-1v-1h-1v-2h1zM335 449h1v1h1v2h-1v1h-1v-1h-1v-2h1zM337 449h1v1h1v2h-1v1h-1v-1h-1v-2h1zM339 449h1v1h1v2h-1v1h-1v-1h-1v-2h1zM341 449h1v1h1v2h-1v1h-1v-1h-1v-2h1zM343 449h1v1h1v2h-1v1h-1v-1h-1v-2h1zM345 449h1v1h1v2h-1v1h-1v-1h-1v-2h1zM347 449h1v1h1v2h-1v1h-1v-1h-1v-2h1zM349 449h1v1h1v2h-1v1h-1v-1h-1v-2h1zM351 449h1v1h1v2h-1v1h-1v-1h-1v-2h1zM353 449h1v1h1v2h-1v1h-1v-1h-1v-2h1zM355 449h1v1h1v2h-1v1h-1v-1h-1v-2h1zM357 449h1v1h1v2h-1v1h-1v-1h-1v-2h1zM359 449h1v1h1v2h-1v1h-1v-1h-1v-2h1zM361 449h1v1h1v2h-1v1h-1v-1h-1v-2h1zM363 449h1v1h1v2h-1v1h-1v-1h-1v-2h1zM365 449h1v1h1v2h-1v1h-1v-1h-1v-2h1zM367 449h1v1h1v2h-1v1h-1v-1h-1v-2h1zM369 449h1v1h1v2h-1v1h-1v-1h-1v-2h1zM371 449h1v1h1v2h-1v1h-1v-1h-1v-2h1zM373 449h1v1h1v2h-1v1h-1v-1h-1v-2h1zM375 449h1v1h1v2h-1v1h-1v-1h-1v-2h1zM377 449h1v1h1v2h-1v1h-1v-1h-1v-2h1zM379 449h1v1h1v2h-1v1h-1v-1h-1v-2h1zM381 449h1v1h1v2h-1v1h-1v-1h-1v-2h1zM383 449h1v1h1v2h-1v1h-1v-1h-1v-2h1zM385 449h1v1h1v2h-1v1h-1v-1h-1v-2h1zM387 449h1v1h1v2h-1v1h-1v-1h-1v-2h1zM389 449h1v1h1v2h-1v1h-1v-1h-1v-2h1zM391 449h1v1h1v2h-1v1h-1v-1h-1v-2h1zM393 449h1v1h1v2h-1v1h-1v-1h-1v-2h1zM395 449h1v1h1v2h-1v1h-1v-1h-1v-2h1zM397 449h1v1h1v2h-1v1h-1v-1h-1v-2h1zM399 449h1v1h1v2h-1v1h-1v-1h-1v-2h1zM401 449h1v1h1v2h-1v1h-1v-1h-1v-2h1zM403 449h1v1h1v2h-1v1h-1v-1h-1v-2h1zM405 449h1v1h1v2h-1v1h-1v-1h-1v-2h1zM407 449h1v1h1v2h-1v1h-1v-1h-1v-2h1zM409 449h1v1h1v2h-1v1h-1v-1h-1v-2h1zM411 449h1v1h1v2h-1v1h-1v-1h-1v-2h1zM413 449h1v1h1v2h-1v1h-1v-1h-1v-2h1zM415 449h1v1h1v2h-1v1h-1v-1h-1v-2h1zM423 449h1v1h1v2h-1v1h-1v-1h-1v-2h1zM425 449h1v1h1v2h-1v1h-1v-1h-1v-2h1zM427 449h1v1h1v2h-1v1h-1v-1h-1v-2h1zM429 449h1v1h1v2h-1v1h-1v-1h-1v-2h1zM431 449h1v1h1v2h-1v1h-1v-1h-1v-2h1zM433 449h1v1h1v2h-1v1h-1v-1h-1v-2h1zM435 449h1v1h1v2h-1v1h-1v-1h-1v-2h1zM437 449h1v1h1v2h-1v1h-1v-1h-1v-2h1zM439 449h1v1h1v2h-1v1h-1v-1h-1v-2h1zM441 449h1v1h1v2h-1v1h-1v-1h-1v-2h1zM443 449h1v1h1v2h-1v1h-1v-1h-1v-2h1zM445 449h1v1h1v2h-1v1h-1v-1h-1v-2h1z" fill="#000" shape-rendering="crispEdges"/>
<path d="M580.5 254.5H796.5V452.5H580.5ZM580.5 452v7M587.5 452v4M594.5 452v4M601.5 452v4M609.5 452v4M616.5 452v7M623.5 452v4M630.5 452v4M637.5 452v4M645.5 452v4M652.5 452v7M659.5 452v4M666.5 452v4M673.5 452v4M681.5 452v4M688.5 452v7M695.5 452v4M702.5 452v4M709.5 452v4M717.5 452v4M724.5 452v7M731.5 452v4M738.5 452v4M745.5 452v4M753.5 452v4M760.5 452v7M767.5 452v4M774.5 452v4M781.5 452v4M789.5 452v4M796.5 452v7M581 452.5h-7M581 432.5h-4M581 412.5h-7M581 393.5h-4M581 373.5h-7M581 353.5h-4M581 333.5h-7M581 313.5h-4M581 294.5h-7M581 274.5h-4M581 254.5h-7" fill="none" stroke="#000" stroke-width="1" shape-rendering="crispEdges"/>
<path d="M646 440h1v1h1v2h-1v1h-1v-1h-1v-2h1zM660 409h1v1h1v2h-1v1h-1v-1h-1v-2h1zM667 405h1v1h1v2h-1v1h-1v-1h-1v-2h1zM666 438h1v1h1v2h-1v1h-1v-1h-1v-2h1zM670 436h1v1h1v2h-1v1h-1v-1h-1v-2h1zM672 430h1v1h1v2h-1v1h-1v-1h-1v-2h1zM675 428h1v1h1v2h-1v1h-1v-1h-1v-2h1zM672 417h1v1h1v2h-1v1h-1v-1h-1v-2h1zM671 442h1v1h1v2h-1v1h-1v-1h-1v-2h1zM673 442h1v1h1v2h-1v1h-1v-1h-1v-2h1zM676 442h1v1h1v2h-1v1h-1v-1h-1v-2h1zM675 435h1v1h1v2h-1v1h-1v-1h-1v-2h1zM675 437h1v1h1v2h-1v1h-1v-1h-1v-2h1zM679 433h1v1h1v2h-1v1h-1v-1h-1v-2h1zM679 436h1v1h1v2h-1v1h-1v-1h-1v-2h1zM679 423h1v1h1v2h-1v1h-1v-1h-1v-2h1zM678 398h1v1h1v2h-1v1h-1v-1h-1v-2h1zM682 426h1v1h1v2h-1v1h-1v-1h-1v-2h1zM683 411h1v1h1v2h-1v1h-1v-1h-1v-2h1zM684 436h1v1h1v2h-1v1h-1v-1h-1v-2h1zM687 431h1v1h1v2h-1v1h-1v-1h-1v-2h1zM687 434h1v1h1v2h-1v1h-1v-1h-1v-2h1zM687 422h1v1h1v2h-1v1h-1v-1h-1v-2h1zM690 420h1v1h1v2h-1v1h-1v-1h-1v-2h1zM690 410h1v1h1v2h-1v1h-1v-1h-1v-2h1zM690 411h1v1h1v2h-1v1h-1v-1h-1v-2h1zM686 384h1v1h1v2h-1v1h-1v-1h-1v-2h1zM690 437h1v1h1v2h-1v1h-1v-1h-1v-2h1zM692 428h1v1h1v2h-1v1h-1v-1h-1v-2h1zM693 435h1v1h1v2h-1v1h-1v-1h-1v-2h1zM694 439h1v1h1v2h-1v1h-1v-1h-1v-2h1zM696 439h1v1h1v2h-1v1h-1v-1h-1v-2h1zM694 367h1v1h1v2h-1v1h-1v-1h-1v-2h1zM694 384h1v1h1v2h-1v1h-1v-1h-1v-2h1zM695 389h1v1h1v2h-1v1h-1v-1h-1v-2h1zM694 393h1v1h1v2h-1v1h-1v-1h-1v-2h1zM694 410h1v1h1v2h-1v1h-1v-1h-1v-2h1zM695 409h1v1h1v2h-1v1h-1v-1h-1v-2h1zM696 408h1v1h1v2h-1v1h-1v-1h-1v-2h1zM697 406h1v1h1v2h-1v1h-1v-1h-1v-2h1zM697 428h1v1h1v2h-1v1h-1v-1h-1v-2h1zM699 374h1v1h1v2h-1v1h-1v-1h-1v-2h1zM700 422h1v1h1v2h-1v1h-1v-1h-1v-2h1zM701 420h1v1h1v2h-1v1h-1v-1h-1v-2h1zM703 420h1v1h1v2h-1v1h-1v-1h-1v-2h1zM704 422h1v1h1v2h-1v1h-1v-1h-1v-2h1zM705 424h1v1h1v2h-1v1h-1v-1h-1v-2h1zM706 425h1v1h1v2h-1v1h-1v-1h-1v-2h1zM700 426h1v1h1v2h-1v1h-1v-1h-1v-2h1zM700 429h1v1h1v2h-1v1h-1v-1h-1v-2h1zM701 431h1v1h1v2h-1v1h-1v-1h-1v-2h1zM701 434h1v1h1v2h-1v1h-1v-1h-1v-2h1zM702 436h1v1h1v2h-1v1h-1v-1h-1v-2h1zM702 439h1v1h1v2h-1v1h-1v-1h-1v-2h1zM703 441h1v1h1v2h-1v1h-1v-1h-1v-2h1zM704 444h1v1h1v2h-1v1h-1v-1h-1v-2h1zM704 446h1v1h1v2h-1v1h-1v-1h-1v-2h1zM699 442h1v1h1v2h-1v1h-1v-1h-1v-2h1zM700 444h1v1h1v2h-1v1h-1v-1h-1v-2h1zM704 411h1v1h1v2h-1v1h-1v-1h-1v-2h1zM706 410h1v1h1v2h-1v1h-1v-1h-1v-2h1zM707 402h1v1h1v2h-1v1h-1v-1h-1v-2h1zM710 402h1v1h1v2h-1v1h-1v-1h-1v-2h1zM708 421h1v1h1v2h-1v1h-1v-1h-1v-2h1zM709 364h1v1h1v2h-1v1h-1v-1h-1v-2h1zM710 388h1v1h1v2h-1v1h-1v-1h-1v-2h1zM710 393h1v1h1v2h-1v1h-1v-1h-1v-2h1zM713 397h1v1h1v2h-1v1h-1v-1h-1v-2h1zM712 412h1v1h1v2h-1v1h-1v-1h-1v-2h1zM711 417h1v1h1v2h-1v1h-1v-1h-1v-2h1zM712 423h1v1h1v2h-1v1h-1v-1h-1v-2h1zM706 435h1v1h1v2h-1v1h-1v-1h-1v-2h1zM707 437h1v1h1v2h-1v1h-1v-1h-1v-2h1zM708 440h1v1h1v2h-1v1h-1v-1h-1v-2h1zM709 442h1v1h1v2h-1v1h-1v-1h-1v-2h1zM711 444h1v1h1v2h-1v1h-1v-1h-1v-2h1zM713 444h1v1h1v2h-1v1h-1v-1h-1v-2h1zM714 442h1v1h1v2h-1v1h-1v-1h-1v-2h1zM715 440h1v1h1v2h-1v1h-1v-1h-1v-2h1zM716 438h1v1h1v2h-1v1h-1v-1h-1v-2h1zM714 375h1v1h1v2h-1v1h-1v-1h-1v-2h1zM716 379h1v1h1v2h-1v1h-1v-1h-1v-2h1zM714 386h1v1h1v2h-1v1h-1v-1h-1v-2h1zM718 391h1v1h1v2h-1v1h-1v-1h-1v-2h1zM718 420h1v1h1v2h-1v1h-1v-1h-1v-2h1zM720 420h1v1h1v2h-1v1h-1v-1h-1v-2h1zM717 423h1v1h1v2h-1v1h-1v-1h-1v-2h1zM716 426h1v1h1v2h-1v1h-1v-1h-1v-2h1zM715 429h1v1h1v2h-1v1h-1v-1h-1v-2h1zM716 431h1v1h1v2h-1v1h-1v-1h-1v-2h1zM717 433h1v1h1v2h-1v1h-1v-1h-1v-2h1zM718 435h1v1h1v2h-1v1h-1v-1h-1v-2h1zM720 437h1v1h1v2h-1v1h-1v-1h-1v-2h1zM721 438h1v1h1v2h-1v1h-1v-1h-1v-2h1zM721 441h1v1h1v2h-1v1h-1v-1h-1v-2h1zM721 443h1v1h1v2h-1v1h-1v-1h-1v-2h1zM724 428h1v1h1v2h-1v1h-1v-1h-1v-2h1zM725 432h1v1h1v2h-1v1h-1v-1h-1v-2h1zM727 433h1v1h1v2h-1v1h-1v-1h-1v-2h1zM729 428h1v1h1v2h-1v1h-1v-1h-1v-2h1zM731 431h1v1h1v2h-1v1h-1v-1h-1v-2h1zM731 436h1v1h1v2h-1v1h-1v-1h-1v-2h1zM734 434h1v1h1v2h-1v1h-1v-1h-1v-2h1zM734 439h1v1h1v2h-1v1h-1v-1h-1v-2h1zM735 440h1v1h1v2h-1v1h-1v-1h-1v-2h1zM732 441h1v1h1v2h-1v1h-1v-1h-1v-2h1zM730 443h1v1h1v2h-1v1h-1v-1h-1v-2h1zM729 444h1v1h1v2h-1v1h-1v-1h-1v-2h1zM728 438h1v1h1v2h-1v1h-1v-1h-1v-2h1zM736 428h1v1h1v2h-1v1h-1v-1h-1v-2h1zM738 428h1v1h1v2h-1v1h-1v-1h-1v-2h1zM738 384h1v1h1v2h-1v1h-1v-1h-1v-2h1zM738 386h1v1h1v2h-1v1h-1v-1h-1v-2h1zM738 395h1v1h1v2h-1v1h-1v-1h-1v-2h1zM738 408h1v1h1v2h-1v1h-1v-1h-1v-2h1zM737 411h1v1h1v2h-1v1h-1v-1h-1v-2h1zM738 416h1v1h1v2h-1v1h-1v-1h-1v-2h1zM742 407h1v1h1v2h-1v1h-1v-1h-1v-2h1zM744 419h1v1h1v2h-1v1h-1v-1h-1v-2h1zM744 421h1v1h1v2h-1v1h-1v-1h-1v-2h1zM742 428h1v1h1v2h-1v1h-1v-1h-1v-2h1zM742 431h1v1h1v2h-1v1h-1v-1h-1v-2h1zM743 434h1v1h1v2h-1v1h-1v-1h-1v-2h1zM741 437h1v1h1v2h-1v1h-1v-1h-1v-2h1zM742 439h1v1h1v2h-1v1h-1v-1h-1v-2h1zM743 441h1v1h1v2h-1v1h-1v-1h-1v-2h1zM744 443h1v1h1v2h-1v1h-1v-1h-1v-2h1zM741 444h1v1h1v2h-1v1h-1v-1h-1v-2h1zM740 444h1v1h1v2h-1v1h-1v-1h-1v-2h1zM746 443h1v1h1v2h-1v1h-1v-1h-1v-2h1zM748 443h1v1h1v2h-1v1h-1v-1h-1v-2h1zM749 443h1v1h1v2h-1v1h-1v-1h-1v-2h1zM751 439h1v1h1v2h-1v1h-1v-1h-1v-2h1zM753 431h1v1h1v2h-1v1h-1v-1h-1v-2h1zM753 443h1v1h1v2h-1v1h-1v-1h-1v-2h1zM755 443h1v1h1v2h-1v1h-1v-1h-1v-2h1zM757 444h1v1h1v2h-1v1h-1v-1h-1v-2h1zM760 424h1v1h1v2h-1v1h-1v-1h-1v-2h1zM760 429h1v1h1v2h-1v1h-1v-1h-1v-2h1zM762 437h1v1h1v2h-1v1h-1v-1h-1v-2h1zM765 436h1v1h1v2h-1v1h-1v-1h-1v-2h1zM766 435h1v1h1v2h-1v1h-1v-1h-1v-2h1zM770 434h1v1h1v2h-1v1h-1v-1h-1v-2h1zM770 405h1v1h1v2h-1v1h-1v-1h-1v-2h1zM765 444h1v1h1v2h-1v1h-1v-1h-1v-2h1zM767 443h1v1h1v2h-1v1h-1v-1h-1v-2h1zM768 444h1v1h1v2h-1v1h-1v-1h-1v-2h1zM770 442h1v1h1v2h-1v1h-1v-1h-1v-2h1zM607 331h1v1h1v2h-1v1h-1v-1h-1v-2h1zM732 280h1v1h1v2h-1v1h-1v-1h-1v-2h1zM591 449h1v1h1v2h-1v1h-1v-1h-1v-2h1zM627 449h1v1h1v2h-1v1h-1v-1h-1v-2h1zM630 449h1v1h1v2h-1v1h-1v-1h-1v-2h1zM636 449h1v1h1v2h-1v1h-1v-1h-1v-2h1zM640 449h1v1h1v2h-1v1h-1v-1h-1v-2h1zM641 449h1v1h1v2h-1v1h-1v-1h-1v-2h1zM643 449h1v1h1v2h-1v1h-1v-1h-1v-2h1zM647 449h1v1h1v2h-1v1h-1v-1h-1v-2h1zM649 449h1v1h1v2h-1v1h-1v-1h-1v-2h1zM650 449h1v1h1v2h-1v1h-1v-1h-1v-2h1zM651 449h1v1h1v2h-1v1h-1v-1h-1v-2h1zM652 449h1v1h1v2h-1v1h-1v-1h-1v-2h1zM653 449h1v1h1v2h-1v1h-1v-1h-1v-2h1zM654 449h1v1h1v2h-1v1h-1v-1h-1v-2h1zM655 449h1v1h1v2h-1v1h-1v-1h-1v-2h1zM656 449h1v1h1v2h-1v1h-1v-1h-1v-2h1zM657 449h1v1h1v2h-1v1h-1v-1h-1v-2h1zM658 449h1v1h1v2h-1v1h-1v-1h-1v-2h1zM659 449h1v1h1v2h-1v1h-1v-1h-1v-2h1zM660 449h1v1h1v2h-1v1h-1v-1h-1v-2h1zM661 449h1v1h1v2h-1v1h-1v-1h-1v-2h1zM663 449h1v1h1v2h-1v1h-1v-1h-1v-2h1zM664 449h1v1h1v2h-1v1h-1v-1h-1v-2h1zM665 449h1v1h1v2h-1v1h-1v-1h-1v-2h1zM666 449h1v1h1v2h-1v1h-1v-1h-1v-2h1zM667 449h1v1h1v2h-1v1h-1v-1h-1v-2h1zM668 449h1v1h1v2h-1v1h-1v-1h-1v-2h1zM669 449h1v1h1v2h-1v1h-1v-1h-1v-2h1zM670 449h1v1h1v2h-1v1h-1v-1h-1v-2h1zM671 449h1v1h1v2h-1v1h-1v-1h-1v-2h1zM672 449h1v1h1v2h-1v1h-1v-1h-1v-2h1zM673 449h1v1h1v2h-1v1h-1v-1h-1v-2h1zM674 449h1v1h1v2h-1v1h-1v-1h-1v-2h1zM675 449h1v1h1v2h-1v1h-1v-1h-1v-2h1zM676 449h1v1h1v2h-1v1h-1v-1h-1v-2h1zM678 449h1v1h1v2h-1v1h-1v-1h-1v-2h1zM679 449h1v1h1v2h-1v1h-1v-1h-1v-2h1zM680 449h1v1h1v2h-1v1h-1v-1h-1v-2h1zM682 449h1v1h1v2h-1v1h-1v-1h-1v-2h1zM683 449h1v1h1v2h-1v1h-1v-1h-1v-2h1zM684 449h1v1h1v2h-1v1h-1v-1h-1v-2h1zM685 449h1v1h1v2h-1v1h-1v-1h-1v-2h1zM686 449h1v1h1v2h-1v1h-1v-1h-1v-2h1zM687 449h1v1h1v2h-1v1h-1v-1h-1v-2h1zM688 449h1v1h1v2h-1v1h-1v-1h-1v-2h1zM689 449h1v1h1v2h-1v1h-1v-1h-1v-2h1zM690 449h1v1h1v2h-1v1h-1v-1h-1v-2h1zM691 449h1v1h1v2h-1v1h-1v-1h-1v-2h1zM692 449h1v1h1v2h-1v1h-1v-1h-1v-2h1zM693 449h1v1h1v2h-1v1h-1v-1h-1v-2h1zM694 449h1v1h1v2h-1v1h-1v-1h-1v-2h1zM695 449h1v1h1v2h-1v1h-1v-1h-1v-2h1zM696 449h1v1h1v2h-1v1h-1v-1h-1v-2h1zM697 449h1v1h1v2h-1v1h-1v-1h-1v-2h1zM698 449h1v1h1v2h-1v1h-1v-1h-1v-2h1zM699 449h1v1h1v2h-1v1h-1v-1h-1v-2h1zM700 449h1v1h1v2h-1v1h-1v-1h-1v-2h1zM702 449h1v1h1v2h-1v1h-1v-1h-1v-2h1zM704 449h1v1h1v2h-1v1h-1v-1h-1v-2h1zM706 449h1v1h1v2h-1v1h-1v-1h-1v-2h1zM708 449h1v1h1v2h-1v1h-1v-1h-1v-2h1zM709 449h1v1h1v2h-1v1h-1v-1h-1v-2h1zM710 449h1v1h1v2h-1v1h-1v-1h-1v-2h1zM712 449h1v1h1v2h-1v1h-1v-1h-1v-2h1zM713 449h1v1h1v2h-1v1h-1v-1h-1v-2h1zM715 449h1v1h1v2h-1v1h-1v-1h-1v-2h1zM717 449h1v1h1v2h-1v1h-1v-1h-1v-2h1zM719 449h1v1h1v2h-1v1h-1v-1h-1v-2h1zM721 449h1v1h1v2h-1v1h-1v-1h-1v-2h1zM722 449h1v1h1v2h-1v1h-1v-1h-1v-2h1zM724 449h1v1h1v2h-1v1h-1v-1h-1v-2h1zM726 449h1v1h1v2h-1v1h-1v-1h-1v-2h1zM727 449h1v1h1v2h-1v1h-1v-1h-1v-2h1zM728 449h1v1h1v2h-1v1h-1v-1h-1v-2h1zM729 449h1v1h1v2h-1v1h-1v-1h-1v-2h1zM732 449h1v1h1v2h-1v1h-1v-1h-1v-2h1zM733 449h1v1h1v2h-1v1h-1v-1h-1v-2h1zM735 449h1v1h1v2h-1v1h-1v-1h-1v-2h1zM736 449h1v1h1v2h-1v1h-1v-1h-1v-2h1zM738 449h1v1h1v2h-1v1h-1v-1h-1v-2h1zM740 449h1v1h1v2h-1v1h-1v-1h-1v-2h1zM743 449h1v1h1v2h-1v1h-1v-1h-1v-2h1zM744 449h1v1h1v2h-1v1h-1v-1h-1v-2h1zM754 449h1v1h1v2h-1v1h-1v-1h-1v-2h1zM764 449h1v1h1v2h-1v1h-1v-1h-1v-2h1zM765 449h1v1h1v2h-1v1h-1v-1h-1v-2h1zM770 449h1v1h1v2h-1v1h-1v-1h-1v-2h1zM771 449h1v1h1v2h-1v1h-1v-1h-1v-2h1z" fill="#000" shape-rendering="crispEdges"/>
<path d="M849.5 254.5H1065.5V452.5H849.5ZM849.5 452v7M856.5 452v4M863.5 452v4M870.5 452v4M878.5 452v4M885.5 452v7M892.5 452v4M899.5 452v4M906.5 452v4M914.5 452v4M921.5 452v7M928.5 452v4M935.5 452v4M942.5 452v4M950.5 452v4M957.5 452v7M964.5 452v4M971.5 452v4M978.5 452v4M986.5 452v4M993.5 452v7M1000.5 452v4M1007.5 452v4M1014.5 452v4M1022.5 452v4M1029.5 452v7M1036.5 452v4M1043.5 452v4M1050.5 452v4M1058.5 452v4M1065.5 452v7M850 452.5h-7M850 432.5h-4M850 412.5h-7M850 393.5h-4M850 373.5h-7M850 353.5h-4M850 333.5h-7M850 313.5h-4M850 294.5h-7M850 274.5h-4M850 254.5h-7" fill="none" stroke="#000" stroke-width="1" shape-rendering="crispEdges"/>
<path d="M870 431h1v1h1v2h-1v1h-1v-1h-1v-2h1zM872 442h1v1h1v2h-1v1h-1v-1h-1v-2h1zM874 422h1v1h1v2h-1v1h-1v-1h-1v-2h1zM904 436h1v1h1v2h-1v1h-1v-1h-1v-2h1zM907 433h1v1h1v2h-1v1h-1v-1h-1v-2h1zM905 444h1v1h1v2h-1v1h-1v-1h-1v-2h1zM905 389h1v1h1v2h-1v1h-1v-1h-1v-2h1zM914 443h1v1h1v2h-1v1h-1v-1h-1v-2h1zM916 441h1v1h1v2h-1v1h-1v-1h-1v-2h1zM918 442h1v1h1v2h-1v1h-1v-1h-1v-2h1zM921 439h1v1h1v2h-1v1h-1v-1h-1v-2h1zM922 443h1v1h1v2h-1v1h-1v-1h-1v-2h1zM924 442h1v1h1v2h-1v1h-1v-1h-1v-2h1zM920 393h1v1h1v2h-1v1h-1v-1h-1v-2h1zM920 417h1v1h1v2h-1v1h-1v-1h-1v-2h1zM926 436h1v1h1v2h-1v1h-1v-1h-1v-2h1zM929 438h1v1h1v2h-1v1h-1v-1h-1v-2h1zM929 445h1v1h1v2h-1v1h-1v-1h-1v-2h1zM931 437h1v1h1v2h-1v1h-1v-1h-1v-2h1zM932 436h1v1h1v2h-1v1h-1v-1h-1v-2h1zM933 435h1v1h1v2h-1v1h-1v-1h-1v-2h1zM934 434h1v1h1v2h-1v1h-1v-1h-1v-2h1zM931 429h1v1h1v2h-1v1h-1v-1h-1v-2h1zM935 427h1v1h1v2h-1v1h-1v-1h-1v-2h1zM931 388h1v1h1v2h-1v1h-1v-1h-1v-2h1zM931 405h1v1h1v2h-1v1h-1v-1h-1v-2h1zM936 410h1v1h1v2h-1v1h-1v-1h-1v-2h1zM939 421h1v1h1v2h-1v1h-1v-1h-1v-2h1zM932 442h1v1h1v2h-1v1h-1v-1h-1v-2h1zM934 443h1v1h1v2h-1v1h-1v-1h-1v-2h1zM936 444h1v1h1v2h-1v1h-1v-1h-1v-2h1zM938 444h1v1h1v2h-1v1h-1v-1h-1v-2h1zM940 443h1v1h1v2h-1v1h-1v-1h-1v-2h1zM941 441h1v1h1v2h-1v1h-1v-1h-1v-2h1zM940 444h1v1h1v2h-1v1h-1v-1h-1v-2h1zM942 436h1v1h1v2h-1v1h-1v-1h-1v-2h1zM943 437h1v1h1v2h-1v1h-1v-1h-1v-2h1zM944 435h1v1h1v2h-1v1h-1v-1h-1v-2h1zM944 439h1v1h1v2h-1v1h-1v-1h-1v-2h1zM945 441h1v1h1v2h-1v1h-1v-1h-1v-2h1zM946 432h1v1h1v2h-1v1h-1v-1h-1v-2h1zM947 440h1v1h1v2h-1v1h-1v-1h-1v-2h1zM943 424h1v1h1v2h-1v1h-1v-1h-1v-2h1zM944 428h1v1h1v2h-1v1h-1v-1h-1v-2h1zM943 374h1v1h1v2h-1v1h-1v-1h-1v-2h1zM949 384h1v1h1v2h-1v1h-1v-1h-1v-2h1zM950 435h1v1h1v2h-1v1h-1v-1h-1v-2h1zM952 433h1v1h1v2h-1v1h-1v-1h-1v-2h1zM953 431h1v1h1v2h-1v1h-1v-1h-1v-2h1zM954 429h1v1h1v2h-1v1h-1v-1h-1v-2h1zM955 428h1v1h1v2h-1v1h-1v-1h-1v-2h1zM956 427h1v1h1v2h-1v1h-1v-1h-1v-2h1zM957 429h1v1h1v2h-1v1h-1v-1h-1v-2h1zM958 430h1v1h1v2h-1v1h-1v-1h-1v-2h1zM959 428h1v1h1v2h-1v1h-1v-1h-1v-2h1zM961 427h1v1h1v2h-1v1h-1v-1h-1v-2h1zM953 436h1v1h1v2h-1v1h-1v-1h-1v-2h1zM954 438h1v1h1v2h-1v1h-1v-1h-1v-2h1zM954 440h1v1h1v2h-1v1h-1v-1h-1v-2h1zM954 442h1v1h1v2h-1v1h-1v-1h-1v-2h1zM952 443h1v1h1v2h-1v1h-1v-1h-1v-2h1zM953 444h1v1h1v2h-1v1h-1v-1h-1v-2h1zM955 445h1v1h1v2h-1v1h-1v-1h-1v-2h1zM957 444h1v1h1v2h-1v1h-1v-1h-1v-2h1zM956 436h1v1h1v2h-1v1h-1v-1h-1v-2h1zM958 437h1v1h1v2h-1v1h-1v-1h-1v-2h1zM959 438h1v1h1v2h-1v1h-1v-1h-1v-2h1zM961 439h1v1h1v2h-1v1h-1v-1h-1v-2h1zM962 440h1v1h1v2h-1v1h-1v-1h-1v-2h1zM964 441h1v1h1v2h-1v1h-1v-1h-1v-2h1zM965 442h1v1h1v2h-1v1h-1v-1h-1v-2h1zM967 443h1v1h1v2h-1v1h-1v-1h-1v-2h1zM969 444h1v1h1v2h-1v1h-1v-1h-1v-2h1zM971 442h1v1h1v2h-1v1h-1v-1h-1v-2h1zM973 441h1v1h1v2h-1v1h-1v-1h-1v-2h1zM975 444h1v1h1v2h-1v1h-1v-1h-1v-2h1zM977 443h1v1h1v2h-1v1h-1v-1h-1v-2h1zM978 441h1v1h1v2h-1v1h-1v-1h-1v-2h1zM955 384h1v1h1v2h-1v1h-1v-1h-1v-2h1zM954 397h1v1h1v2h-1v1h-1v-1h-1v-2h1zM958 375h1v1h1v2h-1v1h-1v-1h-1v-2h1zM957 403h1v1h1v2h-1v1h-1v-1h-1v-2h1zM955 406h1v1h1v2h-1v1h-1v-1h-1v-2h1zM955 410h1v1h1v2h-1v1h-1v-1h-1v-2h1zM957 411h1v1h1v2h-1v1h-1v-1h-1v-2h1zM957 421h1v1h1v2h-1v1h-1v-1h-1v-2h1zM957 423h1v1h1v2h-1v1h-1v-1h-1v-2h1zM960 391h1v1h1v2h-1v1h-1v-1h-1v-2h1zM961 392h1v1h1v2h-1v1h-1v-1h-1v-2h1zM962 393h1v1h1v2h-1v1h-1v-1h-1v-2h1zM962 386h1v1h1v2h-1v1h-1v-1h-1v-2h1zM964 398h1v1h1v2h-1v1h-1v-1h-1v-2h1zM961 408h1v1h1v2h-1v1h-1v-1h-1v-2h1zM964 407h1v1h1v2h-1v1h-1v-1h-1v-2h1zM966 403h1v1h1v2h-1v1h-1v-1h-1v-2h1zM967 405h1v1h1v2h-1v1h-1v-1h-1v-2h1zM966 379h1v1h1v2h-1v1h-1v-1h-1v-2h1zM968 384h1v1h1v2h-1v1h-1v-1h-1v-2h1zM968 395h1v1h1v2h-1v1h-1v-1h-1v-2h1zM965 417h1v1h1v2h-1v1h-1v-1h-1v-2h1zM968 416h1v1h1v2h-1v1h-1v-1h-1v-2h1zM963 421h1v1h1v2h-1v1h-1v-1h-1v-2h1zM965 422h1v1h1v2h-1v1h-1v-1h-1v-2h1zM966 423h1v1h1v2h-1v1h-1v-1h-1v-2h1zM965 426h1v1h1v2h-1v1h-1v-1h-1v-2h1zM964 428h1v1h1v2h-1v1h-1v-1h-1v-2h1zM963 432h1v1h1v2h-1v1h-1v-1h-1v-2h1zM967 435h1v1h1v2h-1v1h-1v-1h-1v-2h1zM969 436h1v1h1v2h-1v1h-1v-1h-1v-2h1zM970 433h1v1h1v2h-1v1h-1v-1h-1v-2h1zM972 436h1v1h1v2h-1v1h-1v-1h-1v-2h1zM972 411h1v1h1v2h-1v1h-1v-1h-1v-2h1zM974 411h1v1h1v2h-1v1h-1v-1h-1v-2h1zM976 411h1v1h1v2h-1v1h-1v-1h-1v-2h1zM972 420h1v1h1v2h-1v1h-1v-1h-1v-2h1zM973 423h1v1h1v2h-1v1h-1v-1h-1v-2h1zM975 424h1v1h1v2h-1v1h-1v-1h-1v-2h1zM978 420h1v1h1v2h-1v1h-1v-1h-1v-2h1zM978 422h1v1h1v2h-1v1h-1v-1h-1v-2h1zM975 429h1v1h1v2h-1v1h-1v-1h-1v-2h1zM977 430h1v1h1v2h-1v1h-1v-1h-1v-2h1zM979 432h1v1h1v2h-1v1h-1v-1h-1v-2h1zM980 434h1v1h1v2h-1v1h-1v-1h-1v-2h1zM980 437h1v1h1v2h-1v1h-1v-1h-1v-2h1zM983 423h1v1h1v2h-1v1h-1v-1h-1v-2h1zM985 428h1v1h1v2h-1v1h-1v-1h-1v-2h1zM985 432h1v1h1v2h-1v1h-1v-1h-1v-2h1zM989 429h1v1h1v2h-1v1h-1v-1h-1v-2h1zM989 437h1v1h1v2h-1v1h-1v-1h-1v-2h1zM990 386h1v1h1v2h-1v1h-1v-1h-1v-2h1zM990 408h1v1h1v2h-1v1h-1v-1h-1v-2h1zM993 367h1v1h1v2h-1v1h-1v-1h-1v-2h1zM1000 431h1v1h1v2h-1v1h-1v-1h-1v-2h1zM967 280h1v1h1v2h-1v1h-1v-1h-1v-2h1zM1042 364h1v1h1v2h-1v1h-1v-1h-1v-2h1zM1019 386h1v1h1v2h-1v1h-1v-1h-1v-2h1zM1020 438h1v1h1v2h-1v1h-1v-1h-1v-2h1zM1050 412h1v1h1v2h-1v1h-1v-1h-1v-2h1zM1052 426h1v1h1v2h-1v1h-1v-1h-1v-2h1zM1052 442h1v1h1v2h-1v1h-1v-1h-1v-2h1zM1047 443h1v1h1v2h-1v1h-1v-1h-1v-2h1zM1047 449h1v1h1v2h-1v1h-1v-1h-1v-2h1zM1000 449h1v1h1v2h-1v1h-1v-1h-1v-2h1zM931 332h1v1h1v2h-1v1h-1v-1h-1v-2h1zM859 449h1v1h1v2h-1v1h-1v-1h-1v-2h1zM866 449h1v1h1v2h-1v1h-1v-1h-1v-2h1zM874 449h1v1h1v2h-1v1h-1v-1h-1v-2h1zM880 449h1v1h1v2h-1v1h-1v-1h-1v-2h1zM886 449h1v1h1v2h-1v1h-1v-1h-1v-2h1zM887 449h1v1h1v2h-1v1h-1v-1h-1v-2h1zM898 449h1v1h1v2h-1v1h-1v-1h-1v-2h1zM900 449h1v1h1v2h-1v1h-1v-1h-1v-2h1zM902 449h1v1h1v2h-1v1h-1v-1h-1v-2h1zM904 449h1v1h1v2h-1v1h-1v-1h-1v-2h1zM906 449h1v1h1v2h-1v1h-1v-1h-1v-2h1zM908 449h1v1h1v2h-1v1h-1v-1h-1v-2h1zM909 449h1v1h1v2h-1v1h-1v-1h-1v-2h1zM912 449h1v1h1v2h-1v1h-1v-1h-1v-2h1zM913 449h1v1h1v2h-1v1h-1v-1h-1v-2h1zM914 449h1v1h1v2h-1v1h-1v-1h-1v-2h1zM917 449h1v1h1v2h-1v1h-1v-1h-1v-2h1zM919 449h1v1h1v2h-1v1h-1v-1h-1v-2h1zM921 449h1v1h1v2h-1v1h-1v-1h-1v-2h1zM922 449h1v1h1v2h-1v1h-1v-1h-1v-2h1zM924 449h1v1h1v2h-1v1h-1v-1h-1v-2h1zM925 449h1v1h1v2h-1v1h-1v-1h-1v-2h1zM927 449h1v1h1v2h-1v1h-1v-1h-1v-2h1zM929 449h1v1h1v2h-1v1h-1v-1h-1v-2h1zM930 449h1v1h1v2h-1v1h-1v-1h-1v-2h1zM931 449h1v1h1v2h-1v1h-1v-1h-1v-2h1zM932 449h1v1h1v2h-1v1h-1v-1h-1v-2h1zM934 449h1v1h1v2h-1v1h-1v-1h-1v-2h1zM935 449h1v1h1v2h-1v1h-1v-1h-1v-2h1zM936 449h1v1h1v2h-1v1h-1v-1h-1v-2h1zM938 449h1v1h1v2h-1v1h-1v-1h-1v-2h1zM939 449h1v1h1v2h-1v1h-1v-1h-1v-2h1zM940 449h1v1h1v2h-1v1h-1v-1h-1v-2h1zM943 449h1v1h1v2h-1v1h-1v-1h-1v-2h1zM945 449h1v1h1v2h-1v1h-1v-1h-1v-2h1zM946 449h1v1h1v2h-1v1h-1v-1h-1v-2h1zM948 449h1v1h1v2h-1v1h-1v-1h-1v-2h1zM949 449h1v1h1v2h-1v1h-1v-1h-1v-2h1zM951 449h1v1h1v2h-1v1h-1v-1h-1v-2h1zM952 449h1v1h1v2h-1v1h-1v-1h-1v-2h1zM953 449h1v1h1v2h-1v1h-1v-1h-1v-2h1zM955 449h1v1h1v2h-1v1h-1v-1h-1v-2h1zM956 449h1v1h1v2h-1v1h-1v-1h-1v-2h1zM958 449h1v1h1v2h-1v1h-1v-1h-1v-2h1zM960 449h1v1h1v2h-1v1h-1v-1h-1v-2h1zM961 449h1v1h1v2h-1v1h-1v-1h-1v-2h1zM964 449h1v1h1v2h-1v1h-1v-1h-1v-2h1zM966 449h1v1h1v2h-1v1h-1v-1h-1v-2h1zM968 449h1v1h1v2h-1v1h-1v-1h-1v-2h1zM969 449h1v1h1v2h-1v1h-1v-1h-1v-2h1zM971 449h1v1h1v2h-1v1h-1v-1h-1v-2h1zM973 449h1v1h1v2h-1v1h-1v-1h-1v-2h1zM974 449h1v1h1v2h-1v1h-1v-1h-1v-2h1zM975 449h1v1h1v2h-1v1h-1v-1h-1v-2h1zM977 449h1v1h1v2h-1v1h-1v-1h-1v-2h1zM983 449h1v1h1v2h-1v1h-1v-1h-1v-2h1zM985 449h1v1h1v2h-1v1h-1v-1h-1v-2h1zM986 449h1v1h1v2h-1v1h-1v-1h-1v-2h1zM987 449h1v1h1v2h-1v1h-1v-1h-1v-2h1zM990 449h1v1h1v2h-1v1h-1v-1h-1v-2h1zM1001 449h1v1h1v2h-1v1h-1v-1h-1v-2h1zM1002 449h1v1h1v2h-1v1h-1v-1h-1v-2h1z" fill="#000" shape-rendering="crispEdges"/>
<path d="M42.5 502.5H258.5V700.5H42.5ZM42.5 700v7M50.5 700v4M59.5 700v4M68.5 700v4M76.5 700v4M85.5 700v7M94.5 700v4M102.5 700v4M111.5 700v4M119.5 700v4M128.5 700v7M137.5 700v4M145.5 700v4M154.5 700v4M163.5 700v4M171.5 700v7M180.5 700v4M189.5 700v4M197.5 700v4M206.5 700v4M215.5 700v7M223.5 700v4M232.5 700v4M240.5 700v4M249.5 700v4M258.5 700v7M43 700.5h-7M43 680.5h-4M43 660.5h-7M43 641.5h-4M43 621.5h-7M43 601.5h-4M43 581.5h-7M43 561.5h-4M43 542.5h-7M43 522.5h-4M43 502.5h-7" fill="none" stroke="#000" stroke-width="1" shape-rendering="crispEdges"/>
<path d="M71 689h1v1h1v2h-1v1h-1v-1h-1v-2h1zM79 684h1v1h1v2h-1v1h-1v-1h-1v-2h1zM84 685h1v1h1v2h-1v1h-1v-1h-1v-2h1zM84 670h1v1h1v2h-1v1h-1v-1h-1v-2h1zM85 672h1v1h1v2h-1v1h-1v-1h-1v-2h1zM85 678h1v1h1v2h-1v1h-1v-1h-1v-2h1zM87 680h1v1h1v2h-1v1h-1v-1h-1v-2h1zM89 681h1v1h1v2h-1v1h-1v-1h-1v-2h1zM91 682h1v1h1v2h-1v1h-1v-1h-1v-2h1zM87 687h1v1h1v2h-1v1h-1v-1h-1v-2h1zM85 690h1v1h1v2h-1v1h-1v-1h-1v-2h1zM87 692h1v1h1v2h-1v1h-1v-1h-1v-2h1zM89 691h1v1h1v2h-1v1h-1v-1h-1v-2h1zM90 689h1v1h1v2h-1v1h-1v-1h-1v-2h1zM92 688h1v1h1v2h-1v1h-1v-1h-1v-2h1zM94 690h1v1h1v2h-1v1h-1v-1h-1v-2h1zM92 669h1v1h1v2h-1v1h-1v-1h-1v-2h1zM95 677h1v1h1v2h-1v1h-1v-1h-1v-2h1zM96 681h1v1h1v2h-1v1h-1v-1h-1v-2h1zM88 623h1v1h1v2h-1v1h-1v-1h-1v-2h1zM88 651h1v1h1v2h-1v1h-1v-1h-1v-2h1zM98 656h1v1h1v2h-1v1h-1v-1h-1v-2h1zM98 659h1v1h1v2h-1v1h-1v-1h-1v-2h1zM99 671h1v1h1v2h-1v1h-1v-1h-1v-2h1zM99 677h1v1h1v2h-1v1h-1v-1h-1v-2h1zM101 669h1v1h1v2h-1v1h-1v-1h-1v-2h1zM102 668h1v1h1v2h-1v1h-1v-1h-1v-2h1zM103 664h1v1h1v2h-1v1h-1v-1h-1v-2h1zM104 671h1v1h1v2h-1v1h-1v-1h-1v-2h1zM106 671h1v1h1v2h-1v1h-1v-1h-1v-2h1zM104 677h1v1h1v2h-1v1h-1v-1h-1v-2h1zM104 683h1v1h1v2h-1v1h-1v-1h-1v-2h1zM103 632h1v1h1v2h-1v1h-1v-1h-1v-2h1zM103 644h1v1h1v2h-1v1h-1v-1h-1v-2h1zM101 689h1v1h1v2h-1v1h-1v-1h-1v-2h1zM102 691h1v1h1v2h-1v1h-1v-1h-1v-2h1zM105 688h1v1h1v2h-1v1h-1v-1h-1v-2h1zM106 690h1v1h1v2h-1v1h-1v-1h-1v-2h1zM108 692h1v1h1v2h-1v1h-1v-1h-1v-2h1zM110 691h1v1h1v2h-1v1h-1v-1h-1v-2h1zM108 682h1v1h1v2h-1v1h-1v-1h-1v-2h1zM108 685h1v1h1v2h-1v1h-1v-1h-1v-2h1zM111 628h1v1h1v2h-1v1h-1v-1h-1v-2h1zM112 633h1v1h1v2h-1v1h-1v-1h-1v-2h1zM110 635h1v1h1v2h-1v1h-1v-1h-1v-2h1zM111 642h1v1h1v2h-1v1h-1v-1h-1v-2h1zM110 651h1v1h1v2h-1v1h-1v-1h-1v-2h1zM113 655h1v1h1v2h-1v1h-1v-1h-1v-2h1zM112 659h1v1h1v2h-1v1h-1v-1h-1v-2h1zM112 665h1v1h1v2h-1v1h-1v-1h-1v-2h1zM111 675h1v1h1v2h-1v1h-1v-1h-1v-2h1zM113 679h1v1h1v2h-1v1h-1v-1h-1v-2h1zM113 688h1v1h1v2h-1v1h-1v-1h-1v-2h1zM112 691h1v1h1v2h-1v1h-1v-1h-1v-2h1zM116 684h1v1h1v2h-1v1h-1v-1h-1v-2h1zM117 686h1v1h1v2h-1v1h-1v-1h-1v-2h1zM116 677h1v1h1v2h-1v1h-1v-1h-1v-2h1zM117 670h1v1h1v2h-1v1h-1v-1h-1v-2h1zM117 658h1v1h1v2h-1v1h-1v-1h-1v-2h1zM120 656h1v1h1v2h-1v1h-1v-1h-1v-2h1zM123 654h1v1h1v2h-1v1h-1v-1h-1v-2h1zM118 622h1v1h1v2h-1v1h-1v-1h-1v-2h1zM118 639h1v1h1v2h-1v1h-1v-1h-1v-2h1zM116 642h1v1h1v2h-1v1h-1v-1h-1v-2h1zM121 645h1v1h1v2h-1v1h-1v-1h-1v-2h1zM116 693h1v1h1v2h-1v1h-1v-1h-1v-2h1zM124 676h1v1h1v2h-1v1h-1v-1h-1v-2h1zM128 678h1v1h1v2h-1v1h-1v-1h-1v-2h1zM127 685h1v1h1v2h-1v1h-1v-1h-1v-2h1zM129 693h1v1h1v2h-1v1h-1v-1h-1v-2h1zM135 677h1v1h1v2h-1v1h-1v-1h-1v-2h1zM139 676h1v1h1v2h-1v1h-1v-1h-1v-2h1zM138 670h1v1h1v2h-1v1h-1v-1h-1v-2h1zM146 681h1v1h1v2h-1v1h-1v-1h-1v-2h1zM136 688h1v1h1v2h-1v1h-1v-1h-1v-2h1zM137 690h1v1h1v2h-1v1h-1v-1h-1v-2h1zM139 687h1v1h1v2h-1v1h-1v-1h-1v-2h1zM140 689h1v1h1v2h-1v1h-1v-1h-1v-2h1zM141 691h1v1h1v2h-1v1h-1v-1h-1v-2h1zM143 689h1v1h1v2h-1v1h-1v-1h-1v-2h1zM145 690h1v1h1v2h-1v1h-1v-1h-1v-2h1zM138 686h1v1h1v2h-1v1h-1v-1h-1v-2h1zM155 634h1v1h1v2h-1v1h-1v-1h-1v-2h1zM155 656h1v1h1v2h-1v1h-1v-1h-1v-2h1zM156 690h1v1h1v2h-1v1h-1v-1h-1v-2h1zM158 689h1v1h1v2h-1v1h-1v-1h-1v-2h1zM159 691h1v1h1v2h-1v1h-1v-1h-1v-2h1zM160 682h1v1h1v2h-1v1h-1v-1h-1v-2h1zM161 680h1v1h1v2h-1v1h-1v-1h-1v-2h1zM162 685h1v1h1v2h-1v1h-1v-1h-1v-2h1zM166 691h1v1h1v2h-1v1h-1v-1h-1v-2h1zM166 665h1v1h1v2h-1v1h-1v-1h-1v-2h1zM168 684h1v1h1v2h-1v1h-1v-1h-1v-2h1zM167 638h1v1h1v2h-1v1h-1v-1h-1v-2h1zM168 636h1v1h1v2h-1v1h-1v-1h-1v-2h1zM173 678h1v1h1v2h-1v1h-1v-1h-1v-2h1zM176 677h1v1h1v2h-1v1h-1v-1h-1v-2h1zM175 659h1v1h1v2h-1v1h-1v-1h-1v-2h1zM177 654h1v1h1v2h-1v1h-1v-1h-1v-2h1zM177 686h1v1h1v2h-1v1h-1v-1h-1v-2h1zM180 690h1v1h1v2h-1v1h-1v-1h-1v-2h1zM181 691h1v1h1v2h-1v1h-1v-1h-1v-2h1zM183 681h1v1h1v2h-1v1h-1v-1h-1v-2h1zM184 683h1v1h1v2h-1v1h-1v-1h-1v-2h1zM187 684h1v1h1v2h-1v1h-1v-1h-1v-2h1zM188 634h1v1h1v2h-1v1h-1v-1h-1v-2h1zM193 685h1v1h1v2h-1v1h-1v-1h-1v-2h1zM194 612h1v1h1v2h-1v1h-1v-1h-1v-2h1zM203 632h1v1h1v2h-1v1h-1v-1h-1v-2h1zM204 669h1v1h1v2h-1v1h-1v-1h-1v-2h1zM206 660h1v1h1v2h-1v1h-1v-1h-1v-2h1zM126 687h1v1h1v2h-1v1h-1v-1h-1v-2h1zM125 689h1v1h1v2h-1v1h-1v-1h-1v-2h1zM123 691h1v1h1v2h-1v1h-1v-1h-1v-2h1zM121 691h1v1h1v2h-1v1h-1v-1h-1v-2h1zM119 689h1v1h1v2h-1v1h-1v-1h-1v-2h1zM118 687h1v1h1v2h-1v1h-1v-1h-1v-2h1zM119 685h1v1h1v2h-1v1h-1v-1h-1v-2h1zM121 684h1v1h1v2h-1v1h-1v-1h-1v-2h1zM123 684h1v1h1v2h-1v1h-1v-1h-1v-2h1zM125 685h1v1h1v2h-1v1h-1v-1h-1v-2h1zM218 616h1v1h1v2h-1v1h-1v-1h-1v-2h1zM215 646h1v1h1v2h-1v1h-1v-1h-1v-2h1zM210 659h1v1h1v2h-1v1h-1v-1h-1v-2h1zM212 660h1v1h1v2h-1v1h-1v-1h-1v-2h1zM218 658h1v1h1v2h-1v1h-1v-1h-1v-2h1zM222 671h1v1h1v2h-1v1h-1v-1h-1v-2h1zM216 671h1v1h1v2h-1v1h-1v-1h-1v-2h1zM213 672h1v1h1v2h-1v1h-1v-1h-1v-2h1zM210 674h1v1h1v2h-1v1h-1v-1h-1v-2h1zM211 678h1v1h1v2h-1v1h-1v-1h-1v-2h1zM212 679h1v1h1v2h-1v1h-1v-1h-1v-2h1zM214 676h1v1h1v2h-1v1h-1v-1h-1v-2h1zM218 677h1v1h1v2h-1v1h-1v-1h-1v-2h1zM220 677h1v1h1v2h-1v1h-1v-1h-1v-2h1zM218 680h1v1h1v2h-1v1h-1v-1h-1v-2h1zM209 682h1v1h1v2h-1v1h-1v-1h-1v-2h1zM212 684h1v1h1v2h-1v1h-1v-1h-1v-2h1zM216 684h1v1h1v2h-1v1h-1v-1h-1v-2h1zM213 686h1v1h1v2h-1v1h-1v-1h-1v-2h1zM216 687h1v1h1v2h-1v1h-1v-1h-1v-2h1zM209 691h1v1h1v2h-1v1h-1v-1h-1v-2h1zM211 692h1v1h1v2h-1v1h-1v-1h-1v-2h1zM212 690h1v1h1v2h-1v1h-1v-1h-1v-2h1zM220 690h1v1h1v2h-1v1h-1v-1h-1v-2h1zM220 692h1v1h1v2h-1v1h-1v-1h-1v-2h1zM218 692h1v1h1v2h-1v1h-1v-1h-1v-2h1zM216 694h1v1h1v2h-1v1h-1v-1h-1v-2h1zM215 695h1v1h1v2h-1v1h-1v-1h-1v-2h1zM220 694h1v1h1v2h-1v1h-1v-1h-1v-2h1zM212 678h1v1h1v2h-1v1h-1v-1h-1v-2h1zM213 683h1v1h1v2h-1v1h-1v-1h-1v-2h1zM215 685h1v1h1v2h-1v1h-1v-1h-1v-2h1zM97 528h1v1h1v2h-1v1h-1v-1h-1v-2h1zM205 580h1v1h1v2h-1v1h-1v-1h-1v-2h1zM65 698h1v1h1v2h-1v1h-1v-1h-1v-2h1zM68 698h1v1h1v2h-1v1h-1v-1h-1v-2h1zM70 698h1v1h1v2h-1v1h-1v-1h-1v-2h1zM73 698h1v1h1v2h-1v1h-1v-1h-1v-2h1zM76 698h1v1h1v2h-1v1h-1v-1h-1v-2h1zM77 698h1v1h1v2h-1v1h-1v-1h-1v-2h1zM78 698h1v1h1v2h-1v1h-1v-1h-1v-2h1zM79 698h1v1h1v2h-1v1h-1v-1h-1v-2h1zM80 698h1v1h1v2h-1v1h-1v-1h-1v-2h1zM81 698h1v1h1v2h-1v1h-1v-1h-1v-2h1zM82 698h1v1h1v2h-1v1h-1v-1h-1v-2h1zM83 698h1v1h1v2h-1v1h-1v-1h-1v-2h1zM84 698h1v1h1v2h-1v1h-1v-1h-1v-2h1zM85 698h1v1h1v2h-1v1h-1v-1h-1v-2h1zM86 698h1v1h1v2h-1v1h-1v-1h-1v-2h1zM87 698h1v1h1v2h-1v1h-1v-1h-1v-2h1zM88 698h1v1h1v2h-1v1h-1v-1h-1v-2h1zM89 698h1v1h1v2h-1v1h-1v-1h-1v-2h1zM90 698h1v1h1v2h-1v1h-1v-1h-1v-2h1zM91 698h1v1h1v2h-1v1h-1v-1h-1v-2h1zM92 698h1v1h1v2h-1v1h-1v-1h-1v-2h1zM93 698h1v1h1v2h-1v1h-1v-1h-1v-2h1zM94 698h1v1h1v2h-1v1h-1v-1h-1v-2h1zM95 698h1v1h1v2h-1v1h-1v-1h-1v-2h1zM96 698h1v1h1v2h-1v1h-1v-1h-1v-2h1zM97 698h1v1h1v2h-1v1h-1v-1h-1v-2h1zM98 698h1v1h1v2h-1v1h-1v-1h-1v-2h1zM99 698h1v1h1v2h-1v1h-1v-1h-1v-2h1zM100 698h1v1h1v2h-1v1h-1v-1h-1v-2h1zM101 698h1v1h1v2h-1v1h-1v-1h-1v-2h1zM102 698h1v1h1v2h-1v1h-1v-1h-1v-2h1zM103 698h1v1h1v2h-1v1h-1v-1h-1v-2h1zM104 698h1v1h1v2h-1v1h-1v-1h-1v-2h1zM106 698h1v1h1v2h-1v1h-1v-1h-1v-2h1zM107 698h1v1h1v2h-1v1h-1v-1h-1v-2h1zM109 698h1v1h1v2h-1v1h-1v-1h-1v-2h1zM110 698h1v1h1v2h-1v1h-1v-1h-1v-2h1zM111 698h1v1h1v2h-1v1h-1v-1h-1v-2h1zM112 698h1v1h1v2h-1v1h-1v-1h-1v-2h1zM113 698h1v1h1v2h-1v1h-1v-1h-1v-2h1zM114 698h1v1h1v2h-1v1h-1v-1h-1v-2h1zM116 698h1v1h1v2h-1v1h-1v-1h-1v-2h1zM117 698h1v1h1v2h-1v1h-1v-1h-1v-2h1zM119 698h1v1h1v2h-1v1h-1v-1h-1v-2h1zM121 698h1v1h1v2h-1v1h-1v-1h-1v-2h1zM122 698h1v1h1v2h-1v1h-1v-1h-1v-2h1zM123 698h1v1h1v2h-1v1h-1v-1h-1v-2h1zM125 698h1v1h1v2h-1v1h-1v-1h-1v-2h1zM126 698h1v1h1v2h-1v1h-1v-1h-1v-2h1zM128 698h1v1h1v2h-1v1h-1v-1h-1v-2h1zM129 698h1v1h1v2h-1v1h-1v-1h-1v-2h1zM130 698h1v1h1v2h-1v1h-1v-1h-1v-2h1zM132 698h1v1h1v2h-1v1h-1v-1h-1v-2h1zM133 698h1v1h1v2h-1v1h-1v-1h-1v-2h1zM137 698h1v1h1v2h-1v1h-1v-1h-1v-2h1zM139 698h1v1h1v2h-1v1h-1v-1h-1v-2h1zM140 698h1v1h1v2h-1v1h-1v-1h-1v-2h1zM142 698h1v1h1v2h-1v1h-1v-1h-1v-2h1zM144 698h1v1h1v2h-1v1h-1v-1h-1v-2h1zM147 698h1v1h1v2h-1v1h-1v-1h-1v-2h1zM148 698h1v1h1v2h-1v1h-1v-1h-1v-2h1zM149 698h1v1h1v2h-1v1h-1v-1h-1v-2h1zM151 698h1v1h1v2h-1v1h-1v-1h-1v-2h1zM154 698h1v1h1v2h-1v1h-1v-1h-1v-2h1zM157 698h1v1h1v2h-1v1h-1v-1h-1v-2h1zM158 698h1v1h1v2h-1v1h-1v-1h-1v-2h1zM159 698h1v1h1v2h-1v1h-1v-1h-1v-2h1zM161 698h1v1h1v2h-1v1h-1v-1h-1v-2h1zM162 698h1v1h1v2h-1v1h-1v-1h-1v-2h1zM164 698h1v1h1v2h-1v1h-1v-1h-1v-2h1zM166 698h1v1h1v2h-1v1h-1v-1h-1v-2h1zM170 698h1v1h1v2h-1v1h-1v-1h-1v-2h1zM172 698h1v1h1v2h-1v1h-1v-1h-1v-2h1zM173 698h1v1h1v2h-1v1h-1v-1h-1v-2h1zM175 698h1v1h1v2h-1v1h-1v-1h-1v-2h1zM176 698h1v1h1v2h-1v1h-1v-1h-1v-2h1zM177 698h1v1h1v2h-1v1h-1v-1h-1v-2h1zM179 698h1v1h1v2h-1v1h-1v-1h-1v-2h1zM182 698h1v1h1v2h-1v1h-1v-1h-1v-2h1zM183 698h1v1h1v2h-1v1h-1v-1h-1v-2h1zM185 698h1v1h1v2h-1v1h-1v-1h-1v-2h1zM187 698h1v1h1v2h-1v1h-1v-1h-1v-2h1zM193 698h1v1h1v2h-1v1h-1v-1h-1v-2h1zM194 698h1v1h1v2h-1v1h-1v-1h-1v-2h1zM197 698h1v1h1v2h-1v1h-1v-1h-1v-2h1zM200 698h1v1h1v2h-1v1h-1v-1h-1v-2h1zM202 698h1v1h1v2h-1v1h-1v-1h-1v-2h1zM205 698h1v1h1v2h-1v1h-1v-1h-1v-2h1zM208 698h1v1h1v2h-1v1h-1v-1h-1v-2h1zM209 698h1v1h1v2h-1v1h-1v-1h-1v-2h1zM210 698h1v1h1v2h-1v1h-1v-1h-1v-2h1zM213 698h1v1h1v2h-1v1h-1v-1h-1v-2h1zM216 698h1v1h1v2h-1v1h-1v-1h-1v-2h1zM217 698h1v1h1v2h-1v1h-1v-1h-1v-2h1zM218 698h1v1h1v2h-1v1h-1v-1h-1v-2h1zM220 698h1v1h1v2h-1v1h-1v-1h-1v-2h1zM222 698h1v1h1v2h-1v1h-1v-1h-1v-2h1zM223 698h1v1h1v2h-1v1h-1v-1h-1v-2h1zM224 698h1v1h1v2h-1v1h-1v-1h-1v-2h1z" fill="#000" shape-rendering="crispEdges"/>
<path d="M311.5 502.5H527.5V700.5H311.5ZM311.5 700v7M319.5 700v4M328.5 700v4M337.5 700v4M345.5 700v4M354.5 700v7M363.5 700v4M371.5 700v4M380.5 700v4M388.5 700v4M397.5 700v7M406.5 700v4M414.5 700v4M423.5 700v4M432.5 700v4M440.5 700v7M449.5 700v4M458.5 700v4M466.5 700v4M475.5 700v4M484.5 700v7M492.5 700v4M501.5 700v4M509.5 700v4M518.5 700v4M527.5 700v7M312 700.5h-7M312 680.5h-4M312 660.5h-7M312 641.5h-4M312 621.5h-7M312 601.5h-4M312 581.5h-7M312 561.5h-4M312 542.5h-7M312 522.5h-4M312 502.5h-7" fill="none" stroke="#000" stroke-width="1" shape-rendering="crispEdges"/>
<path d="M360 687h1v1h1v2h-1v1h-1v-1h-1v-2h1zM367 685h1v1h1v2h-1v1h-1v-1h-1v-2h1zM370 679h1v1h1v2h-1v1h-1v-1h-1v-2h1zM378 685h1v1h1v2h-1v1h-1v-1h-1v-2h1zM377 688h1v1h1v2h-1v1h-1v-1h-1v-2h1zM382 693h1v1h1v2h-1v1h-1v-1h-1v-2h1zM389 692h1v1h1v2h-1v1h-1v-1h-1v-2h1zM391 671h1v1h1v2h-1v1h-1v-1h-1v-2h1zM398 671h1v1h1v2h-1v1h-1v-1h-1v-2h1zM399 669h1v1h1v2h-1v1h-1v-1h-1v-2h1zM402 674h1v1h1v2h-1v1h-1v-1h-1v-2h1zM404 679h1v1h1v2h-1v1h-1v-1h-1v-2h1zM406 685h1v1h1v2h-1v1h-1v-1h-1v-2h1zM399 690h1v1h1v2h-1v1h-1v-1h-1v-2h1zM400 692h1v1h1v2h-1v1h-1v-1h-1v-2h1zM404 651h1v1h1v2h-1v1h-1v-1h-1v-2h1zM407 623h1v1h1v2h-1v1h-1v-1h-1v-2h1zM408 692h1v1h1v2h-1v1h-1v-1h-1v-2h1zM409 692h1v1h1v2h-1v1h-1v-1h-1v-2h1zM408 680h1v1h1v2h-1v1h-1v-1h-1v-2h1zM410 678h1v1h1v2h-1v1h-1v-1h-1v-2h1zM410 673h1v1h1v2h-1v1h-1v-1h-1v-2h1zM411 669h1v1h1v2h-1v1h-1v-1h-1v-2h1zM412 665h1v1h1v2h-1v1h-1v-1h-1v-2h1zM412 644h1v1h1v2h-1v1h-1v-1h-1v-2h1zM412 632h1v1h1v2h-1v1h-1v-1h-1v-2h1zM415 622h1v1h1v2h-1v1h-1v-1h-1v-2h1zM414 657h1v1h1v2h-1v1h-1v-1h-1v-2h1zM416 660h1v1h1v2h-1v1h-1v-1h-1v-2h1zM417 654h1v1h1v2h-1v1h-1v-1h-1v-2h1zM419 659h1v1h1v2h-1v1h-1v-1h-1v-2h1zM420 655h1v1h1v2h-1v1h-1v-1h-1v-2h1zM421 658h1v1h1v2h-1v1h-1v-1h-1v-2h1zM423 658h1v1h1v2h-1v1h-1v-1h-1v-2h1zM415 668h1v1h1v2h-1v1h-1v-1h-1v-2h1zM416 669h1v1h1v2h-1v1h-1v-1h-1v-2h1zM417 670h1v1h1v2h-1v1h-1v-1h-1v-2h1zM414 677h1v1h1v2h-1v1h-1v-1h-1v-2h1zM417 678h1v1h1v2h-1v1h-1v-1h-1v-2h1zM420 671h1v1h1v2h-1v1h-1v-1h-1v-2h1zM421 676h1v1h1v2h-1v1h-1v-1h-1v-2h1zM422 673h1v1h1v2h-1v1h-1v-1h-1v-2h1zM423 668h1v1h1v2h-1v1h-1v-1h-1v-2h1zM423 670h1v1h1v2h-1v1h-1v-1h-1v-2h1zM424 676h1v1h1v2h-1v1h-1v-1h-1v-2h1zM425 676h1v1h1v2h-1v1h-1v-1h-1v-2h1zM420 633h1v1h1v2h-1v1h-1v-1h-1v-2h1zM422 642h1v1h1v2h-1v1h-1v-1h-1v-2h1zM424 628h1v1h1v2h-1v1h-1v-1h-1v-2h1zM425 635h1v1h1v2h-1v1h-1v-1h-1v-2h1zM429 656h1v1h1v2h-1v1h-1v-1h-1v-2h1zM433 645h1v1h1v2h-1v1h-1v-1h-1v-2h1zM432 677h1v1h1v2h-1v1h-1v-1h-1v-2h1zM435 678h1v1h1v2h-1v1h-1v-1h-1v-2h1zM435 681h1v1h1v2h-1v1h-1v-1h-1v-2h1zM441 635h1v1h1v2h-1v1h-1v-1h-1v-2h1zM441 639h1v1h1v2h-1v1h-1v-1h-1v-2h1zM442 642h1v1h1v2h-1v1h-1v-1h-1v-2h1zM441 651h1v1h1v2h-1v1h-1v-1h-1v-2h1zM441 657h1v1h1v2h-1v1h-1v-1h-1v-2h1zM444 659h1v1h1v2h-1v1h-1v-1h-1v-2h1zM442 666h1v1h1v2h-1v1h-1v-1h-1v-2h1zM442 682h1v1h1v2h-1v1h-1v-1h-1v-2h1zM443 685h1v1h1v2h-1v1h-1v-1h-1v-2h1zM442 689h1v1h1v2h-1v1h-1v-1h-1v-2h1zM446 681h1v1h1v2h-1v1h-1v-1h-1v-2h1zM449 636h1v1h1v2h-1v1h-1v-1h-1v-2h1zM449 691h1v1h1v2h-1v1h-1v-1h-1v-2h1zM450 690h1v1h1v2h-1v1h-1v-1h-1v-2h1zM457 680h1v1h1v2h-1v1h-1v-1h-1v-2h1zM458 679h1v1h1v2h-1v1h-1v-1h-1v-2h1zM459 677h1v1h1v2h-1v1h-1v-1h-1v-2h1zM460 676h1v1h1v2h-1v1h-1v-1h-1v-2h1zM457 684h1v1h1v2h-1v1h-1v-1h-1v-2h1zM457 687h1v1h1v2h-1v1h-1v-1h-1v-2h1zM457 691h1v1h1v2h-1v1h-1v-1h-1v-2h1zM461 685h1v1h1v2h-1v1h-1v-1h-1v-2h1zM461 692h1v1h1v2h-1v1h-1v-1h-1v-2h1zM459 695h1v1h1v2h-1v1h-1v-1h-1v-2h1zM459 666h1v1h1v2h-1v1h-1v-1h-1v-2h1zM461 635h1v1h1v2h-1v1h-1v-1h-1v-2h1zM461 616h1v1h1v2h-1v1h-1v-1h-1v-2h1zM462 612h1v1h1v2h-1v1h-1v-1h-1v-2h1zM465 654h1v1h1v2h-1v1h-1v-1h-1v-2h1zM464 678h1v1h1v2h-1v1h-1v-1h-1v-2h1zM466 677h1v1h1v2h-1v1h-1v-1h-1v-2h1zM468 691h1v1h1v2h-1v1h-1v-1h-1v-2h1zM470 692h1v1h1v2h-1v1h-1v-1h-1v-2h1zM472 693h1v1h1v2h-1v1h-1v-1h-1v-2h1zM474 691h1v1h1v2h-1v1h-1v-1h-1v-2h1zM475 689h1v1h1v2h-1v1h-1v-1h-1v-2h1zM475 686h1v1h1v2h-1v1h-1v-1h-1v-2h1zM474 684h1v1h1v2h-1v1h-1v-1h-1v-2h1zM472 683h1v1h1v2h-1v1h-1v-1h-1v-2h1zM473 659h1v1h1v2h-1v1h-1v-1h-1v-2h1zM473 660h1v1h1v2h-1v1h-1v-1h-1v-2h1zM475 669h1v1h1v2h-1v1h-1v-1h-1v-2h1zM475 633h1v1h1v2h-1v1h-1v-1h-1v-2h1zM479 660h1v1h1v2h-1v1h-1v-1h-1v-2h1zM479 674h1v1h1v2h-1v1h-1v-1h-1v-2h1zM479 677h1v1h1v2h-1v1h-1v-1h-1v-2h1zM481 670h1v1h1v2h-1v1h-1v-1h-1v-2h1zM481 684h1v1h1v2h-1v1h-1v-1h-1v-2h1zM483 685h1v1h1v2h-1v1h-1v-1h-1v-2h1zM485 686h1v1h1v2h-1v1h-1v-1h-1v-2h1zM486 684h1v1h1v2h-1v1h-1v-1h-1v-2h1zM486 677h1v1h1v2h-1v1h-1v-1h-1v-2h1zM487 672h1v1h1v2h-1v1h-1v-1h-1v-2h1zM485 646h1v1h1v2h-1v1h-1v-1h-1v-2h1zM487 638h1v1h1v2h-1v1h-1v-1h-1v-2h1zM482 693h1v1h1v2h-1v1h-1v-1h-1v-2h1zM487 691h1v1h1v2h-1v1h-1v-1h-1v-2h1zM488 693h1v1h1v2h-1v1h-1v-1h-1v-2h1zM494 672h1v1h1v2h-1v1h-1v-1h-1v-2h1zM495 658h1v1h1v2h-1v1h-1v-1h-1v-2h1zM498 692h1v1h1v2h-1v1h-1v-1h-1v-2h1zM500 680h1v1h1v2h-1v1h-1v-1h-1v-2h1zM503 671h1v1h1v2h-1v1h-1v-1h-1v-2h1zM423 691h1v1h1v2h-1v1h-1v-1h-1v-2h1zM419 684h1v1h1v2h-1v1h-1v-1h-1v-2h1zM429 693h1v1h1v2h-1v1h-1v-1h-1v-2h1zM429 691h1v1h1v2h-1v1h-1v-1h-1v-2h1zM429 690h1v1h1v2h-1v1h-1v-1h-1v-2h1zM417 688h1v1h1v2h-1v1h-1v-1h-1v-2h1zM420 682h1v1h1v2h-1v1h-1v-1h-1v-2h1zM413 685h1v1h1v2h-1v1h-1v-1h-1v-2h1zM418 690h1v1h1v2h-1v1h-1v-1h-1v-2h1zM431 687h1v1h1v2h-1v1h-1v-1h-1v-2h1zM431 693h1v1h1v2h-1v1h-1v-1h-1v-2h1zM431 686h1v1h1v2h-1v1h-1v-1h-1v-2h1zM417 684h1v1h1v2h-1v1h-1v-1h-1v-2h1zM425 692h1v1h1v2h-1v1h-1v-1h-1v-2h1zM429 687h1v1h1v2h-1v1h-1v-1h-1v-2h1zM425 691h1v1h1v2h-1v1h-1v-1h-1v-2h1zM414 689h1v1h1v2h-1v1h-1v-1h-1v-2h1zM430 691h1v1h1v2h-1v1h-1v-1h-1v-2h1zM427 687h1v1h1v2h-1v1h-1v-1h-1v-2h1zM416 691h1v1h1v2h-1v1h-1v-1h-1v-2h1zM419 691h1v1h1v2h-1v1h-1v-1h-1v-2h1zM432 686h1v1h1v2h-1v1h-1v-1h-1v-2h1zM421 693h1v1h1v2h-1v1h-1v-1h-1v-2h1zM427 683h1v1h1v2h-1v1h-1v-1h-1v-2h1zM415 683h1v1h1v2h-1v1h-1v-1h-1v-2h1zM432 689h1v1h1v2h-1v1h-1v-1h-1v-2h1zM420 688h1v1h1v2h-1v1h-1v-1h-1v-2h1zM415 681h1v1h1v2h-1v1h-1v-1h-1v-2h1zM423 693h1v1h1v2h-1v1h-1v-1h-1v-2h1zM421 692h1v1h1v2h-1v1h-1v-1h-1v-2h1zM429 684h1v1h1v2h-1v1h-1v-1h-1v-2h1zM418 685h1v1h1v2h-1v1h-1v-1h-1v-2h1zM418 686h1v1h1v2h-1v1h-1v-1h-1v-2h1zM415 692h1v1h1v2h-1v1h-1v-1h-1v-2h1zM420 687h1v1h1v2h-1v1h-1v-1h-1v-2h1zM424 692h1v1h1v2h-1v1h-1v-1h-1v-2h1zM428 529h1v1h1v2h-1v1h-1v-1h-1v-2h1zM477 580h1v1h1v2h-1v1h-1v-1h-1v-2h1zM431 694h1v1h1v2h-1v1h-1v-1h-1v-2h1zM438 694h1v1h1v2h-1v1h-1v-1h-1v-2h1zM433 694h1v1h1v2h-1v1h-1v-1h-1v-2h1zM435 692h1v1h1v2h-1v1h-1v-1h-1v-2h1zM425 686h1v1h1v2h-1v1h-1v-1h-1v-2h1zM422 689h1v1h1v2h-1v1h-1v-1h-1v-2h1zM422 694h1v1h1v2h-1v1h-1v-1h-1v-2h1zM432 692h1v1h1v2h-1v1h-1v-1h-1v-2h1zM434 692h1v1h1v2h-1v1h-1v-1h-1v-2h1zM430 686h1v1h1v2h-1v1h-1v-1h-1v-2h1zM437 693h1v1h1v2h-1v1h-1v-1h-1v-2h1zM359 698h1v1h1v2h-1v1h-1v-1h-1v-2h1zM360 698h1v1h1v2h-1v1h-1v-1h-1v-2h1zM361 698h1v1h1v2h-1v1h-1v-1h-1v-2h1zM362 698h1v1h1v2h-1v1h-1v-1h-1v-2h1zM363 698h1v1h1v2h-1v1h-1v-1h-1v-2h1zM364 698h1v1h1v2h-1v1h-1v-1h-1v-2h1zM365 698h1v1h1v2h-1v1h-1v-1h-1v-2h1zM366 698h1v1h1v2h-1v1h-1v-1h-1v-2h1zM367 698h1v1h1v2h-1v1h-1v-1h-1v-2h1zM368 698h1v1h1v2h-1v1h-1v-1h-1v-2h1zM369 698h1v1h1v2h-1v1h-1v-1h-1v-2h1zM370 698h1v1h1v2h-1v1h-1v-1h-1v-2h1zM371 698h1v1h1v2h-1v1h-1v-1h-1v-2h1zM372 698h1v1h1v2h-1v1h-1v-1h-1v-2h1zM373 698h1v1h1v2h-1v1h-1v-1h-1v-2h1zM374 698h1v1h1v2h-1v1h-1v-1h-1v-2h1zM375 698h1v1h1v2h-1v1h-1v-1h-1v-2h1zM376 698h1v1h1v2h-1v1h-1v-1h-1v-2h1zM377 698h1v1h1v2h-1v1h-1v-1h-1v-2h1zM378 698h1v1h1v2h-1v1h-1v-1h-1v-2h1zM379 698h1v1h1v2h-1v1h-1v-1h-1v-2h1zM380 698h1v1h1v2h-1v1h-1v-1h-1v-2h1zM381 698h1v1h1v2h-1v1h-1v-1h-1v-2h1zM382 698h1v1h1v2h-1v1h-1v-1h-1v-2h1zM383 698h1v1h1v2h-1v1h-1v-1h-1v-2h1zM384 698h1v1h1v2h-1v1h-1v-1h-1v-2h1zM385 698h1v1h1v2h-1v1h-1v-1h-1v-2h1zM386 698h1v1h1v2h-1v1h-1v-1h-1v-2h1zM387 698h1v1h1v2h-1v1h-1v-1h-1v-2h1zM388 698h1v1h1v2h-1v1h-1v-1h-1v-2h1zM389 698h1v1h1v2h-1v1h-1v-1h-1v-2h1zM390 698h1v1h1v2h-1v1h-1v-1h-1v-2h1zM391 698h1v1h1v2h-1v1h-1v-1h-1v-2h1zM392 698h1v1h1v2h-1v1h-1v-1h-1v-2h1zM393 698h1v1h1v2h-1v1h-1v-1h-1v-2h1zM394 698h1v1h1v2h-1v1h-1v-1h-1v-2h1zM395 698h1v1h1v2h-1v1h-1v-1h-1v-2h1zM396 698h1v1h1v2h-1v1h-1v-1h-1v-2h1zM397 698h1v1h1v2h-1v1h-1v-1h-1v-2h1zM398 698h1v1h1v2h-1v1h-1v-1h-1v-2h1zM399 698h1v1h1v2h-1v1h-1v-1h-1v-2h1zM401 698h1v1h1v2h-1v1h-1v-1h-1v-2h1zM402 698h1v1h1v2h-1v1h-1v-1h-1v-2h1zM403 698h1v1h1v2h-1v1h-1v-1h-1v-2h1zM404 698h1v1h1v2h-1v1h-1v-1h-1v-2h1zM405 698h1v1h1v2h-1v1h-1v-1h-1v-2h1zM406 698h1v1h1v2h-1v1h-1v-1h-1v-2h1zM407 698h1v1h1v2h-1v1h-1v-1h-1v-2h1zM408 698h1v1h1v2h-1v1h-1v-1h-1v-2h1zM409 698h1v1h1v2h-1v1h-1v-1h-1v-2h1zM410 698h1v1h1v2h-1v1h-1v-1h-1v-2h1zM411 698h1v1h1v2h-1v1h-1v-1h-1v-2h1zM412 698h1v1h1v2h-1v1h-1v-1h-1v-2h1zM413 698h1v1h1v2h-1v1h-1v-1h-1v-2h1zM414 698h1v1h1v2h-1v1h-1v-1h-1v-2h1zM415 698h1v1h1v2h-1v1h-1v-1h-1v-2h1zM416 698h1v1h1v2h-1v1h-1v-1h-1v-2h1zM417 698h1v1h1v2h-1v1h-1v-1h-1v-2h1zM418 698h1v1h1v2h-1v1h-1v-1h-1v-2h1zM419 698h1v1h1v2h-1v1h-1v-1h-1v-2h1zM420 698h1v1h1v2h-1v1h-1v-1h-1v-2h1zM421 698h1v1h1v2h-1v1h-1v-1h-1v-2h1zM422 698h1v1h1v2h-1v1h-1v-1h-1v-2h1zM423 698h1v1h1v2h-1v1h-1v-1h-1v-2h1zM424 698h1v1h1v2h-1v1h-1v-1h-1v-2h1zM425 698h1v1h1v2h-1v1h-1v-1h-1v-2h1zM426 698h1v1h1v2h-1v1h-1v-1h-1v-2h1zM427 698h1v1h1v2h-1v1h-1v-1h-1v-2h1zM428 698h1v1h1v2h-1v1h-1v-1h-1v-2h1zM429 698h1v1h1v2h-1v1h-1v-1h-1v-2h1zM430 698h1v1h1v2h-1v1h-1v-1h-1v-2h1zM431 698h1v1h1v2h-1v1h-1v-1h-1v-2h1zM432 698h1v1h1v2h-1v1h-1v-1h-1v-2h1zM433 698h1v1h1v2h-1v1h-1v-1h-1v-2h1zM434 698h1v1h1v2h-1v1h-1v-1h-1v-2h1zM435 698h1v1h1v2h-1v1h-1v-1h-1v-2h1zM437 698h1v1h1v2h-1v1h-1v-1h-1v-2h1zM439 698h1v1h1v2h-1v1h-1v-1h-1v-2h1zM440 698h1v1h1v2h-1v1h-1v-1h-1v-2h1zM441 698h1v1h1v2h-1v1h-1v-1h-1v-2h1zM442 698h1v1h1v2h-1v1h-1v-1h-1v-2h1zM444 698h1v1h1v2h-1v1h-1v-1h-1v-2h1zM445 698h1v1h1v2h-1v1h-1v-1h-1v-2h1zM446 698h1v1h1v2h-1v1h-1v-1h-1v-2h1zM448 698h1v1h1v2h-1v1h-1v-1h-1v-2h1zM449 698h1v1h1v2h-1v1h-1v-1h-1v-2h1zM451 698h1v1h1v2h-1v1h-1v-1h-1v-2h1zM455 698h1v1h1v2h-1v1h-1v-1h-1v-2h1zM456 698h1v1h1v2h-1v1h-1v-1h-1v-2h1zM458 698h1v1h1v2h-1v1h-1v-1h-1v-2h1zM459 698h1v1h1v2h-1v1h-1v-1h-1v-2h1zM460 698h1v1h1v2h-1v1h-1v-1h-1v-2h1zM461 698h1v1h1v2h-1v1h-1v-1h-1v-2h1zM462 698h1v1h1v2h-1v1h-1v-1h-1v-2h1zM463 698h1v1h1v2h-1v1h-1v-1h-1v-2h1zM464 698h1v1h1v2h-1v1h-1v-1h-1v-2h1zM465 698h1v1h1v2h-1v1h-1v-1h-1v-2h1zM467 698h1v1h1v2h-1v1h-1v-1h-1v-2h1zM468 698h1v1h1v2h-1v1h-1v-1h-1v-2h1zM469 698h1v1h1v2h-1v1h-1v-1h-1v-2h1zM470 698h1v1h1v2h-1v1h-1v-1h-1v-2h1zM471 698h1v1h1v2h-1v1h-1v-1h-1v-2h1zM472 698h1v1h1v2h-1v1h-1v-1h-1v-2h1zM473 698h1v1h1v2h-1v1h-1v-1h-1v-2h1zM474 698h1v1h1v2h-1v1h-1v-1h-1v-2h1zM475 698h1v1h1v2h-1v1h-1v-1h-1v-2h1zM476 698h1v1h1v2h-1v1h-1v-1h-1v-2h1zM477 698h1v1h1v2h-1v1h-1v-1h-1v-2h1zM478 698h1v1h1v2h-1v1h-1v-1h-1v-2h1zM479 698h1v1h1v2h-1v1h-1v-1h-1v-2h1zM480 698h1v1h1v2h-1v1h-1v-1h-1v-2h1zM481 698h1v1h1v2h-1v1h-1v-1h-1v-2h1zM482 698h1v1h1v2h-1v1h-1v-1h-1v-2h1zM483 698h1v1h1v2h-1v1h-1v-1h-1v-2h1zM484 698h1v1h1v2h-1v1h-1v-1h-1v-2h1zM485 698h1v1h1v2h-1v1h-1v-1h-1v-2h1zM486 698h1v1h1v2h-1v1h-1v-1h-1v-2h1zM487 698h1v1h1v2h-1v1h-1v-1h-1v-2h1zM492 698h1v1h1v2h-1v1h-1v-1h-1v-2h1zM493 698h1v1h1v2h-1v1h-1v-1h-1v-2h1zM494 698h1v1h1v2h-1v1h-1v-1h-1v-2h1zM503 698h1v1h1v2h-1v1h-1v-1h-1v-2h1z" fill="#000" shape-rendering="crispEdges"/>
<path d="M580.5 502.5H796.5V700.5H580.5ZM580.5 700v7M585.5 700v4M591.5 700v4M596.5 700v4M601.5 700v4M607.5 700v7M612.5 700v4M618.5 700v4M623.5 700v4M628.5 700v4M634.5 700v7M639.5 700v4M645.5 700v4M650.5 700v4M655.5 700v4M661.5 700v7M666.5 700v4M672.5 700v4M677.5 700v4M682.5 700v4M688.5 700v7M693.5 700v4M699.5 700v4M704.5 700v4M709.5 700v4M715.5 700v7M720.5 700v4M726.5 700v4M731.5 700v4M736.5 700v4M742.5 700v7M747.5 700v4M753.5 700v4M758.5 700v4M763.5 700v4M769.5 700v7M774.5 700v4M780.5 700v4M785.5 700v4M790.5 700v4M796.5 700v7M581 700.5h-7M581 680.5h-4M581 660.5h-7M581 641.5h-4M581 621.5h-7M581 601.5h-4M581 581.5h-7M581 561.5h-4M581 542.5h-7M581 522.5h-4M581 502.5h-7" fill="none" stroke="#000" stroke-width="1" shape-rendering="crispEdges"/>
<path d="M608 690h1v1h1v2h-1v1h-1v-1h-1v-2h1zM611 689h1v1h1v2h-1v1h-1v-1h-1v-2h1zM613 686h1v1h1v2h-1v1h-1v-1h-1v-2h1zM611 674h1v1h1v2h-1v1h-1v-1h-1v-2h1zM613 659h1v1h1v2h-1v1h-1v-1h-1v-2h1zM620 657h1v1h1v2h-1v1h-1v-1h-1v-2h1zM627 683h1v1h1v2h-1v1h-1v-1h-1v-2h1zM629 685h1v1h1v2h-1v1h-1v-1h-1v-2h1zM629 679h1v1h1v2h-1v1h-1v-1h-1v-2h1zM632 676h1v1h1v2h-1v1h-1v-1h-1v-2h1zM628 671h1v1h1v2h-1v1h-1v-1h-1v-2h1zM629 646h1v1h1v2h-1v1h-1v-1h-1v-2h1zM631 615h1v1h1v2h-1v1h-1v-1h-1v-2h1zM634 611h1v1h1v2h-1v1h-1v-1h-1v-2h1zM634 659h1v1h1v2h-1v1h-1v-1h-1v-2h1zM641 682h1v1h1v2h-1v1h-1v-1h-1v-2h1zM643 684h1v1h1v2h-1v1h-1v-1h-1v-2h1zM642 658h1v1h1v2h-1v1h-1v-1h-1v-2h1zM644 634h1v1h1v2h-1v1h-1v-1h-1v-2h1zM649 632h1v1h1v2h-1v1h-1v-1h-1v-2h1zM646 694h1v1h1v2h-1v1h-1v-1h-1v-2h1zM650 668h1v1h1v2h-1v1h-1v-1h-1v-2h1zM652 653h1v1h1v2h-1v1h-1v-1h-1v-2h1zM653 690h1v1h1v2h-1v1h-1v-1h-1v-2h1zM657 690h1v1h1v2h-1v1h-1v-1h-1v-2h1zM657 692h1v1h1v2h-1v1h-1v-1h-1v-2h1zM659 683h1v1h1v2h-1v1h-1v-1h-1v-2h1zM661 677h1v1h1v2h-1v1h-1v-1h-1v-2h1zM661 665h1v1h1v2h-1v1h-1v-1h-1v-2h1zM663 692h1v1h1v2h-1v1h-1v-1h-1v-2h1zM664 690h1v1h1v2h-1v1h-1v-1h-1v-2h1zM665 685h1v1h1v2h-1v1h-1v-1h-1v-2h1zM669 677h1v1h1v2h-1v1h-1v-1h-1v-2h1zM668 683h1v1h1v2h-1v1h-1v-1h-1v-2h1zM669 681h1v1h1v2h-1v1h-1v-1h-1v-2h1zM671 683h1v1h1v2h-1v1h-1v-1h-1v-2h1zM672 681h1v1h1v2h-1v1h-1v-1h-1v-2h1zM669 686h1v1h1v2h-1v1h-1v-1h-1v-2h1zM670 688h1v1h1v2h-1v1h-1v-1h-1v-2h1zM672 689h1v1h1v2h-1v1h-1v-1h-1v-2h1zM669 692h1v1h1v2h-1v1h-1v-1h-1v-2h1zM674 691h1v1h1v2h-1v1h-1v-1h-1v-2h1zM675 688h1v1h1v2h-1v1h-1v-1h-1v-2h1zM677 685h1v1h1v2h-1v1h-1v-1h-1v-2h1zM675 679h1v1h1v2h-1v1h-1v-1h-1v-2h1zM672 670h1v1h1v2h-1v1h-1v-1h-1v-2h1zM675 671h1v1h1v2h-1v1h-1v-1h-1v-2h1zM676 658h1v1h1v2h-1v1h-1v-1h-1v-2h1zM673 635h1v1h1v2h-1v1h-1v-1h-1v-2h1zM679 676h1v1h1v2h-1v1h-1v-1h-1v-2h1zM678 690h1v1h1v2h-1v1h-1v-1h-1v-2h1zM683 683h1v1h1v2h-1v1h-1v-1h-1v-2h1zM684 686h1v1h1v2h-1v1h-1v-1h-1v-2h1zM685 688h1v1h1v2h-1v1h-1v-1h-1v-2h1zM687 691h1v1h1v2h-1v1h-1v-1h-1v-2h1zM691 687h1v1h1v2h-1v1h-1v-1h-1v-2h1zM694 685h1v1h1v2h-1v1h-1v-1h-1v-2h1zM693 682h1v1h1v2h-1v1h-1v-1h-1v-2h1zM691 632h1v1h1v2h-1v1h-1v-1h-1v-2h1zM692 634h1v1h1v2h-1v1h-1v-1h-1v-2h1zM694 641h1v1h1v2h-1v1h-1v-1h-1v-2h1zM691 658h1v1h1v2h-1v1h-1v-1h-1v-2h1zM692 656h1v1h1v2h-1v1h-1v-1h-1v-2h1zM693 655h1v1h1v2h-1v1h-1v-1h-1v-2h1zM694 654h1v1h1v2h-1v1h-1v-1h-1v-2h1zM697 622h1v1h1v2h-1v1h-1v-1h-1v-2h1zM697 675h1v1h1v2h-1v1h-1v-1h-1v-2h1zM697 691h1v1h1v2h-1v1h-1v-1h-1v-2h1zM700 692h1v1h1v2h-1v1h-1v-1h-1v-2h1zM701 688h1v1h1v2h-1v1h-1v-1h-1v-2h1zM701 684h1v1h1v2h-1v1h-1v-1h-1v-2h1zM701 637h1v1h1v2h-1v1h-1v-1h-1v-2h1zM703 677h1v1h1v2h-1v1h-1v-1h-1v-2h1zM705 669h1v1h1v2h-1v1h-1v-1h-1v-2h1zM708 676h1v1h1v2h-1v1h-1v-1h-1v-2h1zM706 680h1v1h1v2h-1v1h-1v-1h-1v-2h1zM708 679h1v1h1v2h-1v1h-1v-1h-1v-2h1zM705 690h1v1h1v2h-1v1h-1v-1h-1v-2h1zM709 690h1v1h1v2h-1v1h-1v-1h-1v-2h1zM712 658h1v1h1v2h-1v1h-1v-1h-1v-2h1zM716 693h1v1h1v2h-1v1h-1v-1h-1v-2h1zM721 658h1v1h1v2h-1v1h-1v-1h-1v-2h1zM722 644h1v1h1v2h-1v1h-1v-1h-1v-2h1zM724 676h1v1h1v2h-1v1h-1v-1h-1v-2h1zM724 689h1v1h1v2h-1v1h-1v-1h-1v-2h1zM724 692h1v1h1v2h-1v1h-1v-1h-1v-2h1zM727 684h1v1h1v2h-1v1h-1v-1h-1v-2h1zM728 682h1v1h1v2h-1v1h-1v-1h-1v-2h1zM728 669h1v1h1v2h-1v1h-1v-1h-1v-2h1zM728 653h1v1h1v2h-1v1h-1v-1h-1v-2h1zM729 660h1v1h1v2h-1v1h-1v-1h-1v-2h1zM728 690h1v1h1v2h-1v1h-1v-1h-1v-2h1zM729 690h1v1h1v2h-1v1h-1v-1h-1v-2h1zM731 687h1v1h1v2h-1v1h-1v-1h-1v-2h1zM732 671h1v1h1v2h-1v1h-1v-1h-1v-2h1zM733 684h1v1h1v2h-1v1h-1v-1h-1v-2h1zM733 634h1v1h1v2h-1v1h-1v-1h-1v-2h1zM733 690h1v1h1v2h-1v1h-1v-1h-1v-2h1zM735 627h1v1h1v2h-1v1h-1v-1h-1v-2h1zM735 639h1v1h1v2h-1v1h-1v-1h-1v-2h1zM735 675h1v1h1v2h-1v1h-1v-1h-1v-2h1zM737 675h1v1h1v2h-1v1h-1v-1h-1v-2h1zM737 656h1v1h1v2h-1v1h-1v-1h-1v-2h1zM737 682h1v1h1v2h-1v1h-1v-1h-1v-2h1zM738 684h1v1h1v2h-1v1h-1v-1h-1v-2h1zM739 686h1v1h1v2h-1v1h-1v-1h-1v-2h1zM739 688h1v1h1v2h-1v1h-1v-1h-1v-2h1zM738 690h1v1h1v2h-1v1h-1v-1h-1v-2h1zM738 692h1v1h1v2h-1v1h-1v-1h-1v-2h1zM739 682h1v1h1v2h-1v1h-1v-1h-1v-2h1zM740 690h1v1h1v2h-1v1h-1v-1h-1v-2h1zM741 665h1v1h1v2h-1v1h-1v-1h-1v-2h1zM742 641h1v1h1v2h-1v1h-1v-1h-1v-2h1zM742 679h1v1h1v2h-1v1h-1v-1h-1v-2h1zM742 681h1v1h1v2h-1v1h-1v-1h-1v-2h1zM743 650h1v1h1v2h-1v1h-1v-1h-1v-2h1zM743 655h1v1h1v2h-1v1h-1v-1h-1v-2h1zM743 685h1v1h1v2h-1v1h-1v-1h-1v-2h1zM743 692h1v1h1v2h-1v1h-1v-1h-1v-2h1zM744 690h1v1h1v2h-1v1h-1v-1h-1v-2h1zM744 670h1v1h1v2h-1v1h-1v-1h-1v-2h1zM745 671h1v1h1v2h-1v1h-1v-1h-1v-2h1zM746 672h1v1h1v2h-1v1h-1v-1h-1v-2h1zM745 673h1v1h1v2h-1v1h-1v-1h-1v-2h1zM746 677h1v1h1v2h-1v1h-1v-1h-1v-2h1zM747 680h1v1h1v2h-1v1h-1v-1h-1v-2h1zM747 684h1v1h1v2h-1v1h-1v-1h-1v-2h1zM746 687h1v1h1v2h-1v1h-1v-1h-1v-2h1zM747 688h1v1h1v2h-1v1h-1v-1h-1v-2h1zM748 689h1v1h1v2h-1v1h-1v-1h-1v-2h1zM749 691h1v1h1v2h-1v1h-1v-1h-1v-2h1zM750 690h1v1h1v2h-1v1h-1v-1h-1v-2h1zM749 667h1v1h1v2h-1v1h-1v-1h-1v-2h1zM749 669h1v1h1v2h-1v1h-1v-1h-1v-2h1zM751 668h1v1h1v2h-1v1h-1v-1h-1v-2h1zM753 688h1v1h1v2h-1v1h-1v-1h-1v-2h1zM753 689h1v1h1v2h-1v1h-1v-1h-1v-2h1zM755 670h1v1h1v2h-1v1h-1v-1h-1v-2h1zM755 681h1v1h1v2h-1v1h-1v-1h-1v-2h1zM756 664h1v1h1v2h-1v1h-1v-1h-1v-2h1zM756 643h1v1h1v2h-1v1h-1v-1h-1v-2h1zM756 631h1v1h1v2h-1v1h-1v-1h-1v-2h1zM757 677h1v1h1v2h-1v1h-1v-1h-1v-2h1zM759 684h1v1h1v2h-1v1h-1v-1h-1v-2h1zM761 684h1v1h1v2h-1v1h-1v-1h-1v-2h1zM762 684h1v1h1v2h-1v1h-1v-1h-1v-2h1zM760 680h1v1h1v2h-1v1h-1v-1h-1v-2h1zM761 679h1v1h1v2h-1v1h-1v-1h-1v-2h1zM762 676h1v1h1v2h-1v1h-1v-1h-1v-2h1zM763 677h1v1h1v2h-1v1h-1v-1h-1v-2h1zM764 678h1v1h1v2h-1v1h-1v-1h-1v-2h1zM760 688h1v1h1v2h-1v1h-1v-1h-1v-2h1zM760 691h1v1h1v2h-1v1h-1v-1h-1v-2h1zM765 692h1v1h1v2h-1v1h-1v-1h-1v-2h1zM766 686h1v1h1v2h-1v1h-1v-1h-1v-2h1zM766 668h1v1h1v2h-1v1h-1v-1h-1v-2h1zM767 650h1v1h1v2h-1v1h-1v-1h-1v-2h1zM768 622h1v1h1v2h-1v1h-1v-1h-1v-2h1zM770 689h1v1h1v2h-1v1h-1v-1h-1v-2h1zM770 691h1v1h1v2h-1v1h-1v-1h-1v-2h1zM772 692h1v1h1v2h-1v1h-1v-1h-1v-2h1zM780 687h1v1h1v2h-1v1h-1v-1h-1v-2h1zM593 579h1v1h1v2h-1v1h-1v-1h-1v-2h1zM753 528h1v1h1v2h-1v1h-1v-1h-1v-2h1zM608 697h1v1h1v2h-1v1h-1v-1h-1v-2h1zM609 697h1v1h1v2h-1v1h-1v-1h-1v-2h1zM611 697h1v1h1v2h-1v1h-1v-1h-1v-2h1zM620 697h1v1h1v2h-1v1h-1v-1h-1v-2h1zM630 697h1v1h1v2h-1v1h-1v-1h-1v-2h1zM631 697h1v1h1v2h-1v1h-1v-1h-1v-2h1zM633 697h1v1h1v2h-1v1h-1v-1h-1v-2h1zM634 697h1v1h1v2h-1v1h-1v-1h-1v-2h1zM636 697h1v1h1v2h-1v1h-1v-1h-1v-2h1zM639 697h1v1h1v2h-1v1h-1v-1h-1v-2h1zM641 697h1v1h1v2h-1v1h-1v-1h-1v-2h1zM642 697h1v1h1v2h-1v1h-1v-1h-1v-2h1zM649 697h1v1h1v2h-1v1h-1v-1h-1v-2h1zM654 697h1v1h1v2h-1v1h-1v-1h-1v-2h1zM655 697h1v1h1v2h-1v1h-1v-1h-1v-2h1zM656 697h1v1h1v2h-1v1h-1v-1h-1v-2h1zM657 697h1v1h1v2h-1v1h-1v-1h-1v-2h1zM658 697h1v1h1v2h-1v1h-1v-1h-1v-2h1zM660 697h1v1h1v2h-1v1h-1v-1h-1v-2h1zM661 697h1v1h1v2h-1v1h-1v-1h-1v-2h1zM662 697h1v1h1v2h-1v1h-1v-1h-1v-2h1zM663 697h1v1h1v2h-1v1h-1v-1h-1v-2h1zM664 697h1v1h1v2h-1v1h-1v-1h-1v-2h1zM665 697h1v1h1v2h-1v1h-1v-1h-1v-2h1zM666 697h1v1h1v2h-1v1h-1v-1h-1v-2h1zM667 697h1v1h1v2h-1v1h-1v-1h-1v-2h1zM668 697h1v1h1v2h-1v1h-1v-1h-1v-2h1zM669 697h1v1h1v2h-1v1h-1v-1h-1v-2h1zM670 697h1v1h1v2h-1v1h-1v-1h-1v-2h1zM671 697h1v1h1v2h-1v1h-1v-1h-1v-2h1zM672 697h1v1h1v2h-1v1h-1v-1h-1v-2h1zM673 697h1v1h1v2h-1v1h-1v-1h-1v-2h1zM675 697h1v1h1v2h-1v1h-1v-1h-1v-2h1zM676 697h1v1h1v2h-1v1h-1v-1h-1v-2h1zM677 697h1v1h1v2h-1v1h-1v-1h-1v-2h1zM678 697h1v1h1v2h-1v1h-1v-1h-1v-2h1zM679 697h1v1h1v2h-1v1h-1v-1h-1v-2h1zM681 697h1v1h1v2h-1v1h-1v-1h-1v-2h1zM682 697h1v1h1v2h-1v1h-1v-1h-1v-2h1zM683 697h1v1h1v2h-1v1h-1v-1h-1v-2h1zM684 697h1v1h1v2h-1v1h-1v-1h-1v-2h1zM685 697h1v1h1v2h-1v1h-1v-1h-1v-2h1zM686 697h1v1h1v2h-1v1h-1v-1h-1v-2h1zM687 697h1v1h1v2h-1v1h-1v-1h-1v-2h1zM688 697h1v1h1v2h-1v1h-1v-1h-1v-2h1zM689 697h1v1h1v2h-1v1h-1v-1h-1v-2h1zM690 697h1v1h1v2h-1v1h-1v-1h-1v-2h1zM691 697h1v1h1v2h-1v1h-1v-1h-1v-2h1zM692 697h1v1h1v2h-1v1h-1v-1h-1v-2h1zM693 697h1v1h1v2h-1v1h-1v-1h-1v-2h1zM694 697h1v1h1v2h-1v1h-1v-1h-1v-2h1zM698 697h1v1h1v2h-1v1h-1v-1h-1v-2h1zM699 697h1v1h1v2h-1v1h-1v-1h-1v-2h1zM702 697h1v1h1v2h-1v1h-1v-1h-1v-2h1zM705 697h1v1h1v2h-1v1h-1v-1h-1v-2h1zM706 697h1v1h1v2h-1v1h-1v-1h-1v-2h1zM708 697h1v1h1v2h-1v1h-1v-1h-1v-2h1zM712 697h1v1h1v2h-1v1h-1v-1h-1v-2h1zM720 697h1v1h1v2h-1v1h-1v-1h-1v-2h1zM723 697h1v1h1v2h-1v1h-1v-1h-1v-2h1zM724 697h1v1h1v2h-1v1h-1v-1h-1v-2h1zM725 697h1v1h1v2h-1v1h-1v-1h-1v-2h1zM727 697h1v1h1v2h-1v1h-1v-1h-1v-2h1zM728 697h1v1h1v2h-1v1h-1v-1h-1v-2h1zM730 697h1v1h1v2h-1v1h-1v-1h-1v-2h1zM731 697h1v1h1v2h-1v1h-1v-1h-1v-2h1zM734 697h1v1h1v2h-1v1h-1v-1h-1v-2h1zM736 697h1v1h1v2h-1v1h-1v-1h-1v-2h1zM737 697h1v1h1v2h-1v1h-1v-1h-1v-2h1zM738 697h1v1h1v2h-1v1h-1v-1h-1v-2h1zM739 697h1v1h1v2h-1v1h-1v-1h-1v-2h1zM741 697h1v1h1v2h-1v1h-1v-1h-1v-2h1zM742 697h1v1h1v2h-1v1h-1v-1h-1v-2h1zM744 697h1v1h1v2h-1v1h-1v-1h-1v-2h1zM745 697h1v1h1v2h-1v1h-1v-1h-1v-2h1zM747 697h1v1h1v2h-1v1h-1v-1h-1v-2h1zM749 697h1v1h1v2h-1v1h-1v-1h-1v-2h1zM751 697h1v1h1v2h-1v1h-1v-1h-1v-2h1zM753 697h1v1h1v2h-1v1h-1v-1h-1v-2h1zM755 697h1v1h1v2h-1v1h-1v-1h-1v-2h1zM756 697h1v1h1v2h-1v1h-1v-1h-1v-2h1zM758 697h1v1h1v2h-1v1h-1v-1h-1v-2h1zM760 697h1v1h1v2h-1v1h-1v-1h-1v-2h1zM762 697h1v1h1v2h-1v1h-1v-1h-1v-2h1zM764 697h1v1h1v2h-1v1h-1v-1h-1v-2h1zM765 697h1v1h1v2h-1v1h-1v-1h-1v-2h1zM766 697h1v1h1v2h-1v1h-1v-1h-1v-2h1zM768 697h1v1h1v2h-1v1h-1v-1h-1v-2h1zM769 697h1v1h1v2h-1v1h-1v-1h-1v-2h1zM770 697h1v1h1v2h-1v1h-1v-1h-1v-2h1zM771 697h1v1h1v2h-1v1h-1v-1h-1v-2h1zM772 697h1v1h1v2h-1v1h-1v-1h-1v-2h1zM773 697h1v1h1v2h-1v1h-1v-1h-1v-2h1zM774 697h1v1h1v2h-1v1h-1v-1h-1v-2h1zM775 697h1v1h1v2h-1v1h-1v-1h-1v-2h1zM776 697h1v1h1v2h-1v1h-1v-1h-1v-2h1zM777 697h1v1h1v2h-1v1h-1v-1h-1v-2h1zM778 697h1v1h1v2h-1v1h-1v-1h-1v-2h1zM779 697h1v1h1v2h-1v1h-1v-1h-1v-2h1zM780 697h1v1h1v2h-1v1h-1v-1h-1v-2h1zM781 697h1v1h1v2h-1v1h-1v-1h-1v-2h1zM782 697h1v1h1v2h-1v1h-1v-1h-1v-2h1zM783 697h1v1h1v2h-1v1h-1v-1h-1v-2h1zM784 697h1v1h1v2h-1v1h-1v-1h-1v-2h1zM785 697h1v1h1v2h-1v1h-1v-1h-1v-2h1zM786 697h1v1h1v2h-1v1h-1v-1h-1v-2h1zM787 697h1v1h1v2h-1v1h-1v-1h-1v-2h1zM788 697h1v1h1v2h-1v1h-1v-1h-1v-2h1zM789 697h1v1h1v2h-1v1h-1v-1h-1v-2h1zM790 697h1v1h1v2h-1v1h-1v-1h-1v-2h1zM791 697h1v1h1v2h-1v1h-1v-1h-1v-2h1zM792 697h1v1h1v2h-1v1h-1v-1h-1v-2h1zM793 697h1v1h1v2h-1v1h-1v-1h-1v-2h1zM794 697h1v1h1v2h-1v1h-1v-1h-1v-2h1z" fill="#000" shape-rendering="crispEdges"/>
<path d="M849.5 502.5H1065.5V700.5H849.5ZM849.5 700v7M854.5 700v4M860.5 700v4M865.5 700v4M870.5 700v4M876.5 700v7M881.5 700v4M887.5 700v4M892.5 700v4M897.5 700v4M903.5 700v7M908.5 700v4M914.5 700v4M919.5 700v4M924.5 700v4M930.5 700v7M935.5 700v4M941.5 700v4M946.5 700v4M951.5 700v4M957.5 700v7M962.5 700v4M968.5 700v4M973.5 700v4M978.5 700v4M984.5 700v7M989.5 700v4M995.5 700v4M1000.5 700v4M1005.5 700v4M1011.5 700v7M1016.5 700v4M1022.5 700v4M1027.5 700v4M1032.5 700v4M1038.5 700v7M1043.5 700v4M1049.5 700v4M1054.5 700v4M1059.5 700v4M1065.5 700v7M850 700.5h-7M850 680.5h-4M850 660.5h-7M850 641.5h-4M850 621.5h-7M850 601.5h-4M850 581.5h-7M850 561.5h-4M850 542.5h-7M850 522.5h-4M850 502.5h-7" fill="none" stroke="#000" stroke-width="1" shape-rendering="crispEdges"/>
<path d="M880 690h1v1h1v2h-1v1h-1v-1h-1v-2h1zM882 658h1v1h1v2h-1v1h-1v-1h-1v-2h1zM891 654h1v1h1v2h-1v1h-1v-1h-1v-2h1zM892 666h1v1h1v2h-1v1h-1v-1h-1v-2h1zM894 672h1v1h1v2h-1v1h-1v-1h-1v-2h1zM898 677h1v1h1v2h-1v1h-1v-1h-1v-2h1zM895 681h1v1h1v2h-1v1h-1v-1h-1v-2h1zM898 646h1v1h1v2h-1v1h-1v-1h-1v-2h1zM902 685h1v1h1v2h-1v1h-1v-1h-1v-2h1zM905 671h1v1h1v2h-1v1h-1v-1h-1v-2h1zM906 680h1v1h1v2h-1v1h-1v-1h-1v-2h1zM906 684h1v1h1v2h-1v1h-1v-1h-1v-2h1zM907 685h1v1h1v2h-1v1h-1v-1h-1v-2h1zM906 638h1v1h1v2h-1v1h-1v-1h-1v-2h1zM907 660h1v1h1v2h-1v1h-1v-1h-1v-2h1zM909 691h1v1h1v2h-1v1h-1v-1h-1v-2h1zM911 687h1v1h1v2h-1v1h-1v-1h-1v-2h1zM913 690h1v1h1v2h-1v1h-1v-1h-1v-2h1zM914 632h1v1h1v2h-1v1h-1v-1h-1v-2h1zM915 691h1v1h1v2h-1v1h-1v-1h-1v-2h1zM917 669h1v1h1v2h-1v1h-1v-1h-1v-2h1zM917 674h1v1h1v2h-1v1h-1v-1h-1v-2h1zM917 678h1v1h1v2h-1v1h-1v-1h-1v-2h1zM919 682h1v1h1v2h-1v1h-1v-1h-1v-2h1zM918 688h1v1h1v2h-1v1h-1v-1h-1v-2h1zM919 690h1v1h1v2h-1v1h-1v-1h-1v-2h1zM921 692h1v1h1v2h-1v1h-1v-1h-1v-2h1zM923 693h1v1h1v2h-1v1h-1v-1h-1v-2h1zM923 684h1v1h1v2h-1v1h-1v-1h-1v-2h1zM924 686h1v1h1v2h-1v1h-1v-1h-1v-2h1zM924 689h1v1h1v2h-1v1h-1v-1h-1v-2h1zM919 642h1v1h1v2h-1v1h-1v-1h-1v-2h1zM920 660h1v1h1v2h-1v1h-1v-1h-1v-2h1zM921 659h1v1h1v2h-1v1h-1v-1h-1v-2h1zM924 659h1v1h1v2h-1v1h-1v-1h-1v-2h1zM922 670h1v1h1v2h-1v1h-1v-1h-1v-2h1zM923 636h1v1h1v2h-1v1h-1v-1h-1v-2h1zM924 633h1v1h1v2h-1v1h-1v-1h-1v-2h1zM927 655h1v1h1v2h-1v1h-1v-1h-1v-2h1zM928 672h1v1h1v2h-1v1h-1v-1h-1v-2h1zM927 677h1v1h1v2h-1v1h-1v-1h-1v-2h1zM930 677h1v1h1v2h-1v1h-1v-1h-1v-2h1zM928 684h1v1h1v2h-1v1h-1v-1h-1v-2h1zM929 686h1v1h1v2h-1v1h-1v-1h-1v-2h1zM928 691h1v1h1v2h-1v1h-1v-1h-1v-2h1zM931 691h1v1h1v2h-1v1h-1v-1h-1v-2h1zM930 622h1v1h1v2h-1v1h-1v-1h-1v-2h1zM934 612h1v1h1v2h-1v1h-1v-1h-1v-2h1zM934 635h1v1h1v2h-1v1h-1v-1h-1v-2h1zM937 616h1v1h1v2h-1v1h-1v-1h-1v-2h1zM934 693h1v1h1v2h-1v1h-1v-1h-1v-2h1zM937 677h1v1h1v2h-1v1h-1v-1h-1v-2h1zM938 679h1v1h1v2h-1v1h-1v-1h-1v-2h1zM938 682h1v1h1v2h-1v1h-1v-1h-1v-2h1zM938 687h1v1h1v2h-1v1h-1v-1h-1v-2h1zM938 689h1v1h1v2h-1v1h-1v-1h-1v-2h1zM939 658h1v1h1v2h-1v1h-1v-1h-1v-2h1zM941 695h1v1h1v2h-1v1h-1v-1h-1v-2h1zM943 676h1v1h1v2h-1v1h-1v-1h-1v-2h1zM942 686h1v1h1v2h-1v1h-1v-1h-1v-2h1zM945 685h1v1h1v2h-1v1h-1v-1h-1v-2h1zM944 690h1v1h1v2h-1v1h-1v-1h-1v-2h1zM945 692h1v1h1v2h-1v1h-1v-1h-1v-2h1zM946 691h1v1h1v2h-1v1h-1v-1h-1v-2h1zM948 692h1v1h1v2h-1v1h-1v-1h-1v-2h1zM947 659h1v1h1v2h-1v1h-1v-1h-1v-2h1zM948 659h1v1h1v2h-1v1h-1v-1h-1v-2h1zM950 692h1v1h1v2h-1v1h-1v-1h-1v-2h1zM951 670h1v1h1v2h-1v1h-1v-1h-1v-2h1zM951 683h1v1h1v2h-1v1h-1v-1h-1v-2h1zM952 685h1v1h1v2h-1v1h-1v-1h-1v-2h1zM951 688h1v1h1v2h-1v1h-1v-1h-1v-2h1zM952 690h1v1h1v2h-1v1h-1v-1h-1v-2h1zM953 635h1v1h1v2h-1v1h-1v-1h-1v-2h1zM953 645h1v1h1v2h-1v1h-1v-1h-1v-2h1zM953 657h1v1h1v2h-1v1h-1v-1h-1v-2h1zM955 680h1v1h1v2h-1v1h-1v-1h-1v-2h1zM956 681h1v1h1v2h-1v1h-1v-1h-1v-2h1zM955 688h1v1h1v2h-1v1h-1v-1h-1v-2h1zM955 691h1v1h1v2h-1v1h-1v-1h-1v-2h1zM957 656h1v1h1v2h-1v1h-1v-1h-1v-2h1zM986 657h1v1h1v2h-1v1h-1v-1h-1v-2h1zM986 683h1v1h1v2h-1v1h-1v-1h-1v-2h1zM985 687h1v1h1v2h-1v1h-1v-1h-1v-2h1zM985 693h1v1h1v2h-1v1h-1v-1h-1v-2h1zM989 673h1v1h1v2h-1v1h-1v-1h-1v-2h1zM989 678h1v1h1v2h-1v1h-1v-1h-1v-2h1zM990 680h1v1h1v2h-1v1h-1v-1h-1v-2h1zM990 681h1v1h1v2h-1v1h-1v-1h-1v-2h1zM991 678h1v1h1v2h-1v1h-1v-1h-1v-2h1zM991 668h1v1h1v2h-1v1h-1v-1h-1v-2h1zM992 669h1v1h1v2h-1v1h-1v-1h-1v-2h1zM989 692h1v1h1v2h-1v1h-1v-1h-1v-2h1zM991 689h1v1h1v2h-1v1h-1v-1h-1v-2h1zM991 692h1v1h1v2h-1v1h-1v-1h-1v-2h1zM996 632h1v1h1v2h-1v1h-1v-1h-1v-2h1zM996 644h1v1h1v2h-1v1h-1v-1h-1v-2h1zM996 665h1v1h1v2h-1v1h-1v-1h-1v-2h1zM997 677h1v1h1v2h-1v1h-1v-1h-1v-2h1zM1000 679h1v1h1v2h-1v1h-1v-1h-1v-2h1zM1000 669h1v1h1v2h-1v1h-1v-1h-1v-2h1zM1001 670h1v1h1v2h-1v1h-1v-1h-1v-2h1zM1000 672h1v1h1v2h-1v1h-1v-1h-1v-2h1zM1004 623h1v1h1v2h-1v1h-1v-1h-1v-2h1zM1005 651h1v1h1v2h-1v1h-1v-1h-1v-2h1zM1003 693h1v1h1v2h-1v1h-1v-1h-1v-2h1zM1007 685h1v1h1v2h-1v1h-1v-1h-1v-2h1zM1009 690h1v1h1v2h-1v1h-1v-1h-1v-2h1zM1016 687h1v1h1v2h-1v1h-1v-1h-1v-2h1zM1017 692h1v1h1v2h-1v1h-1v-1h-1v-2h1zM1019 685h1v1h1v2h-1v1h-1v-1h-1v-2h1zM1022 679h1v1h1v2h-1v1h-1v-1h-1v-2h1zM1023 693h1v1h1v2h-1v1h-1v-1h-1v-2h1zM1037 688h1v1h1v2h-1v1h-1v-1h-1v-2h1zM962 635h1v1h1v2h-1v1h-1v-1h-1v-2h1zM964 639h1v1h1v2h-1v1h-1v-1h-1v-2h1zM964 642h1v1h1v2h-1v1h-1v-1h-1v-2h1zM968 628h1v1h1v2h-1v1h-1v-1h-1v-2h1zM966 651h1v1h1v2h-1v1h-1v-1h-1v-2h1zM973 654h1v1h1v2h-1v1h-1v-1h-1v-2h1zM973 661h1v1h1v2h-1v1h-1v-1h-1v-2h1zM965 666h1v1h1v2h-1v1h-1v-1h-1v-2h1zM966 672h1v1h1v2h-1v1h-1v-1h-1v-2h1zM965 677h1v1h1v2h-1v1h-1v-1h-1v-2h1zM968 676h1v1h1v2h-1v1h-1v-1h-1v-2h1zM961 681h1v1h1v2h-1v1h-1v-1h-1v-2h1zM978 668h1v1h1v2h-1v1h-1v-1h-1v-2h1zM978 670h1v1h1v2h-1v1h-1v-1h-1v-2h1zM978 674h1v1h1v2h-1v1h-1v-1h-1v-2h1zM979 675h1v1h1v2h-1v1h-1v-1h-1v-2h1zM980 676h1v1h1v2h-1v1h-1v-1h-1v-2h1zM982 672h1v1h1v2h-1v1h-1v-1h-1v-2h1zM970 684h1v1h1v2h-1v1h-1v-1h-1v-2h1zM973 683h1v1h1v2h-1v1h-1v-1h-1v-2h1zM975 682h1v1h1v2h-1v1h-1v-1h-1v-2h1zM975 684h1v1h1v2h-1v1h-1v-1h-1v-2h1zM976 685h1v1h1v2h-1v1h-1v-1h-1v-2h1zM962 691h1v1h1v2h-1v1h-1v-1h-1v-2h1zM963 689h1v1h1v2h-1v1h-1v-1h-1v-2h1zM965 692h1v1h1v2h-1v1h-1v-1h-1v-2h1zM966 690h1v1h1v2h-1v1h-1v-1h-1v-2h1zM968 691h1v1h1v2h-1v1h-1v-1h-1v-2h1zM973 690h1v1h1v2h-1v1h-1v-1h-1v-2h1zM973 692h1v1h1v2h-1v1h-1v-1h-1v-2h1zM977 689h1v1h1v2h-1v1h-1v-1h-1v-2h1zM978 691h1v1h1v2h-1v1h-1v-1h-1v-2h1zM979 688h1v1h1v2h-1v1h-1v-1h-1v-2h1zM981 691h1v1h1v2h-1v1h-1v-1h-1v-2h1zM982 686h1v1h1v2h-1v1h-1v-1h-1v-2h1zM983 685h1v1h1v2h-1v1h-1v-1h-1v-2h1zM980 689h1v1h1v2h-1v1h-1v-1h-1v-2h1zM856 580h1v1h1v2h-1v1h-1v-1h-1v-2h1zM972 528h1v1h1v2h-1v1h-1v-1h-1v-2h1zM882 698h1v1h1v2h-1v1h-1v-1h-1v-2h1zM886 698h1v1h1v2h-1v1h-1v-1h-1v-2h1zM893 698h1v1h1v2h-1v1h-1v-1h-1v-2h1zM894 698h1v1h1v2h-1v1h-1v-1h-1v-2h1zM895 698h1v1h1v2h-1v1h-1v-1h-1v-2h1zM896 698h1v1h1v2h-1v1h-1v-1h-1v-2h1zM903 698h1v1h1v2h-1v1h-1v-1h-1v-2h1zM904 698h1v1h1v2h-1v1h-1v-1h-1v-2h1zM906 698h1v1h1v2h-1v1h-1v-1h-1v-2h1zM913 698h1v1h1v2h-1v1h-1v-1h-1v-2h1zM916 698h1v1h1v2h-1v1h-1v-1h-1v-2h1zM919 698h1v1h1v2h-1v1h-1v-1h-1v-2h1zM921 698h1v1h1v2h-1v1h-1v-1h-1v-2h1zM924 698h1v1h1v2h-1v1h-1v-1h-1v-2h1zM925 698h1v1h1v2h-1v1h-1v-1h-1v-2h1zM928 698h1v1h1v2h-1v1h-1v-1h-1v-2h1zM931 698h1v1h1v2h-1v1h-1v-1h-1v-2h1zM932 698h1v1h1v2h-1v1h-1v-1h-1v-2h1zM933 698h1v1h1v2h-1v1h-1v-1h-1v-2h1zM936 698h1v1h1v2h-1v1h-1v-1h-1v-2h1zM937 698h1v1h1v2h-1v1h-1v-1h-1v-2h1zM938 698h1v1h1v2h-1v1h-1v-1h-1v-2h1zM939 698h1v1h1v2h-1v1h-1v-1h-1v-2h1zM940 698h1v1h1v2h-1v1h-1v-1h-1v-2h1zM941 698h1v1h1v2h-1v1h-1v-1h-1v-2h1zM942 698h1v1h1v2h-1v1h-1v-1h-1v-2h1zM943 698h1v1h1v2h-1v1h-1v-1h-1v-2h1zM944 698h1v1h1v2h-1v1h-1v-1h-1v-2h1zM945 698h1v1h1v2h-1v1h-1v-1h-1v-2h1zM946 698h1v1h1v2h-1v1h-1v-1h-1v-2h1zM947 698h1v1h1v2h-1v1h-1v-1h-1v-2h1zM948 698h1v1h1v2h-1v1h-1v-1h-1v-2h1zM949 698h1v1h1v2h-1v1h-1v-1h-1v-2h1zM950 698h1v1h1v2h-1v1h-1v-1h-1v-2h1zM951 698h1v1h1v2h-1v1h-1v-1h-1v-2h1zM952 698h1v1h1v2h-1v1h-1v-1h-1v-2h1zM953 698h1v1h1v2h-1v1h-1v-1h-1v-2h1zM954 698h1v1h1v2h-1v1h-1v-1h-1v-2h1zM955 698h1v1h1v2h-1v1h-1v-1h-1v-2h1zM956 698h1v1h1v2h-1v1h-1v-1h-1v-2h1zM957 698h1v1h1v2h-1v1h-1v-1h-1v-2h1zM959 698h1v1h1v2h-1v1h-1v-1h-1v-2h1zM963 698h1v1h1v2h-1v1h-1v-1h-1v-2h1zM965 698h1v1h1v2h-1v1h-1v-1h-1v-2h1zM966 698h1v1h1v2h-1v1h-1v-1h-1v-2h1zM968 698h1v1h1v2h-1v1h-1v-1h-1v-2h1zM971 698h1v1h1v2h-1v1h-1v-1h-1v-2h1zM973 698h1v1h1v2h-1v1h-1v-1h-1v-2h1zM974 698h1v1h1v2h-1v1h-1v-1h-1v-2h1zM975 698h1v1h1v2h-1v1h-1v-1h-1v-2h1zM978 698h1v1h1v2h-1v1h-1v-1h-1v-2h1zM981 698h1v1h1v2h-1v1h-1v-1h-1v-2h1zM983 698h1v1h1v2h-1v1h-1v-1h-1v-2h1zM986 698h1v1h1v2h-1v1h-1v-1h-1v-2h1zM988 698h1v1h1v2h-1v1h-1v-1h-1v-2h1zM990 698h1v1h1v2h-1v1h-1v-1h-1v-2h1zM993 698h1v1h1v2h-1v1h-1v-1h-1v-2h1zM995 698h1v1h1v2h-1v1h-1v-1h-1v-2h1zM996 698h1v1h1v2h-1v1h-1v-1h-1v-2h1zM997 698h1v1h1v2h-1v1h-1v-1h-1v-2h1zM998 698h1v1h1v2h-1v1h-1v-1h-1v-2h1zM1000 698h1v1h1v2h-1v1h-1v-1h-1v-2h1zM1002 698h1v1h1v2h-1v1h-1v-1h-1v-2h1zM1004 698h1v1h1v2h-1v1h-1v-1h-1v-2h1zM1006 698h1v1h1v2h-1v1h-1v-1h-1v-2h1zM1007 698h1v1h1v2h-1v1h-1v-1h-1v-2h1zM1009 698h1v1h1v2h-1v1h-1v-1h-1v-2h1zM1010 698h1v1h1v2h-1v1h-1v-1h-1v-2h1zM1011 698h1v1h1v2h-1v1h-1v-1h-1v-2h1zM1012 698h1v1h1v2h-1v1h-1v-1h-1v-2h1zM1013 698h1v1h1v2h-1v1h-1v-1h-1v-2h1zM1015 698h1v1h1v2h-1v1h-1v-1h-1v-2h1zM1017 698h1v1h1v2h-1v1h-1v-1h-1v-2h1zM1020 698h1v1h1v2h-1v1h-1v-1h-1v-2h1zM1021 698h1v1h1v2h-1v1h-1v-1h-1v-2h1zM1022 698h1v1h1v2h-1v1h-1v-1h-1v-2h1zM1024 698h1v1h1v2h-1v1h-1v-1h-1v-2h1zM1025 698h1v1h1v2h-1v1h-1v-1h-1v-2h1zM1026 698h1v1h1v2h-1v1h-1v-1h-1v-2h1zM1027 698h1v1h1v2h-1v1h-1v-1h-1v-2h1zM1028 698h1v1h1v2h-1v1h-1v-1h-1v-2h1zM1029 698h1v1h1v2h-1v1h-1v-1h-1v-2h1zM1030 698h1v1h1v2h-1v1h-1v-1h-1v-2h1zM1031 698h1v1h1v2h-1v1h-1v-1h-1v-2h1zM1032 698h1v1h1v2h-1v1h-1v-1h-1v-2h1zM1033 698h1v1h1v2h-1v1h-1v-1h-1v-2h1zM1034 698h1v1h1v2h-1v1h-1v-1h-1v-2h1zM1035 698h1v1h1v2h-1v1h-1v-1h-1v-2h1zM1036 698h1v1h1v2h-1v1h-1v-1h-1v-2h1zM1037 698h1v1h1v2h-1v1h-1v-1h-1v-2h1zM1038 698h1v1h1v2h-1v1h-1v-1h-1v-2h1zM1039 698h1v1h1v2h-1v1h-1v-1h-1v-2h1zM1040 698h1v1h1v2h-1v1h-1v-1h-1v-2h1zM1041 698h1v1h1v2h-1v1h-1v-1h-1v-2h1zM1042 698h1v1h1v2h-1v1h-1v-1h-1v-2h1zM1043 698h1v1h1v2h-1v1h-1v-1h-1v-2h1zM1044 698h1v1h1v2h-1v1h-1v-1h-1v-2h1zM1045 698h1v1h1v2h-1v1h-1v-1h-1v-2h1zM1046 698h1v1h1v2h-1v1h-1v-1h-1v-2h1zM1047 698h1v1h1v2h-1v1h-1v-1h-1v-2h1zM1048 698h1v1h1v2h-1v1h-1v-1h-1v-2h1zM1049 698h1v1h1v2h-1v1h-1v-1h-1v-2h1zM1050 698h1v1h1v2h-1v1h-1v-1h-1v-2h1zM1051 698h1v1h1v2h-1v1h-1v-1h-1v-2h1z" fill="#000" shape-rendering="crispEdges"/>
<path d="M42.5 750.5H258.5V948.5H42.5ZM42.5 948v7M50.5 948v4M59.5 948v4M68.5 948v4M76.5 948v4M85.5 948v7M94.5 948v4M102.5 948v4M111.5 948v4M119.5 948v4M128.5 948v7M137.5 948v4M145.5 948v4M154.5 948v4M163.5 948v4M171.5 948v7M180.5 948v4M189.5 948v4M197.5 948v4M206.5 948v4M215.5 948v7M223.5 948v4M232.5 948v4M240.5 948v4M249.5 948v4M258.5 948v7M43 948.5h-7M43 928.5h-4M43 908.5h-7M43 889.5h-4M43 869.5h-7M43 849.5h-4M43 829.5h-7M43 809.5h-4M43 790.5h-7M43 770.5h-4M43 750.5h-7" fill="none" stroke="#000" stroke-width="1" shape-rendering="crispEdges"/>
<path d="M89 934h1v1h1v2h-1v1h-1v-1h-1v-2h1zM90 932h1v1h1v2h-1v1h-1v-1h-1v-2h1zM94 932h1v1h1v2h-1v1h-1v-1h-1v-2h1zM93 926h1v1h1v2h-1v1h-1v-1h-1v-2h1zM99 935h1v1h1v2h-1v1h-1v-1h-1v-2h1zM101 940h1v1h1v2h-1v1h-1v-1h-1v-2h1zM105 939h1v1h1v2h-1v1h-1v-1h-1v-2h1zM103 918h1v1h1v2h-1v1h-1v-1h-1v-2h1zM109 921h1v1h1v2h-1v1h-1v-1h-1v-2h1zM109 937h1v1h1v2h-1v1h-1v-1h-1v-2h1zM109 940h1v1h1v2h-1v1h-1v-1h-1v-2h1zM111 932h1v1h1v2h-1v1h-1v-1h-1v-2h1zM112 926h1v1h1v2h-1v1h-1v-1h-1v-2h1zM112 916h1v1h1v2h-1v1h-1v-1h-1v-2h1zM112 898h1v1h1v2h-1v1h-1v-1h-1v-2h1zM114 870h1v1h1v2h-1v1h-1v-1h-1v-2h1zM115 936h1v1h1v2h-1v1h-1v-1h-1v-2h1zM116 939h1v1h1v2h-1v1h-1v-1h-1v-2h1zM116 919h1v1h1v2h-1v1h-1v-1h-1v-2h1zM117 916h1v1h1v2h-1v1h-1v-1h-1v-2h1zM120 936h1v1h1v2h-1v1h-1v-1h-1v-2h1zM121 924h1v1h1v2h-1v1h-1v-1h-1v-2h1zM122 926h1v1h1v2h-1v1h-1v-1h-1v-2h1zM123 928h1v1h1v2h-1v1h-1v-1h-1v-2h1zM124 925h1v1h1v2h-1v1h-1v-1h-1v-2h1zM125 927h1v1h1v2h-1v1h-1v-1h-1v-2h1zM127 927h1v1h1v2h-1v1h-1v-1h-1v-2h1zM123 908h1v1h1v2h-1v1h-1v-1h-1v-2h1zM124 912h1v1h1v2h-1v1h-1v-1h-1v-2h1zM124 915h1v1h1v2h-1v1h-1v-1h-1v-2h1zM124 919h1v1h1v2h-1v1h-1v-1h-1v-2h1zM127 918h1v1h1v2h-1v1h-1v-1h-1v-2h1zM128 915h1v1h1v2h-1v1h-1v-1h-1v-2h1zM129 918h1v1h1v2h-1v1h-1v-1h-1v-2h1zM130 919h1v1h1v2h-1v1h-1v-1h-1v-2h1zM124 879h1v1h1v2h-1v1h-1v-1h-1v-2h1zM124 891h1v1h1v2h-1v1h-1v-1h-1v-2h1zM124 936h1v1h1v2h-1v1h-1v-1h-1v-2h1zM125 939h1v1h1v2h-1v1h-1v-1h-1v-2h1zM127 938h1v1h1v2h-1v1h-1v-1h-1v-2h1zM128 940h1v1h1v2h-1v1h-1v-1h-1v-2h1zM130 939h1v1h1v2h-1v1h-1v-1h-1v-2h1zM131 937h1v1h1v2h-1v1h-1v-1h-1v-2h1zM130 903h1v1h1v2h-1v1h-1v-1h-1v-2h1zM131 905h1v1h1v2h-1v1h-1v-1h-1v-2h1zM132 903h1v1h1v2h-1v1h-1v-1h-1v-2h1zM131 907h1v1h1v2h-1v1h-1v-1h-1v-2h1zM133 902h1v1h1v2h-1v1h-1v-1h-1v-2h1zM136 901h1v1h1v2h-1v1h-1v-1h-1v-2h1zM136 906h1v1h1v2h-1v1h-1v-1h-1v-2h1zM133 917h1v1h1v2h-1v1h-1v-1h-1v-2h1zM134 923h1v1h1v2h-1v1h-1v-1h-1v-2h1zM132 880h1v1h1v2h-1v1h-1v-1h-1v-2h1zM134 882h1v1h1v2h-1v1h-1v-1h-1v-2h1zM133 870h1v1h1v2h-1v1h-1v-1h-1v-2h1zM134 875h1v1h1v2h-1v1h-1v-1h-1v-2h1zM135 889h1v1h1v2h-1v1h-1v-1h-1v-2h1zM141 898h1v1h1v2h-1v1h-1v-1h-1v-2h1zM143 889h1v1h1v2h-1v1h-1v-1h-1v-2h1zM143 892h1v1h1v2h-1v1h-1v-1h-1v-2h1zM146 887h1v1h1v2h-1v1h-1v-1h-1v-2h1zM143 913h1v1h1v2h-1v1h-1v-1h-1v-2h1zM140 924h1v1h1v2h-1v1h-1v-1h-1v-2h1zM141 923h1v1h1v2h-1v1h-1v-1h-1v-2h1zM146 923h1v1h1v2h-1v1h-1v-1h-1v-2h1zM148 925h1v1h1v2h-1v1h-1v-1h-1v-2h1zM150 924h1v1h1v2h-1v1h-1v-1h-1v-2h1zM147 934h1v1h1v2h-1v1h-1v-1h-1v-2h1zM148 932h1v1h1v2h-1v1h-1v-1h-1v-2h1zM146 940h1v1h1v2h-1v1h-1v-1h-1v-2h1zM147 939h1v1h1v2h-1v1h-1v-1h-1v-2h1zM151 936h1v1h1v2h-1v1h-1v-1h-1v-2h1zM152 937h1v1h1v2h-1v1h-1v-1h-1v-2h1zM151 940h1v1h1v2h-1v1h-1v-1h-1v-2h1zM153 936h1v1h1v2h-1v1h-1v-1h-1v-2h1zM156 928h1v1h1v2h-1v1h-1v-1h-1v-2h1zM156 936h1v1h1v2h-1v1h-1v-1h-1v-2h1zM162 929h1v1h1v2h-1v1h-1v-1h-1v-2h1zM164 882h1v1h1v2h-1v1h-1v-1h-1v-2h1zM164 904h1v1h1v2h-1v1h-1v-1h-1v-2h1zM166 936h1v1h1v2h-1v1h-1v-1h-1v-2h1zM167 930h1v1h1v2h-1v1h-1v-1h-1v-2h1zM169 933h1v1h1v2h-1v1h-1v-1h-1v-2h1zM169 938h1v1h1v2h-1v1h-1v-1h-1v-2h1zM175 883h1v1h1v2h-1v1h-1v-1h-1v-2h1zM175 927h1v1h1v2h-1v1h-1v-1h-1v-2h1zM176 906h1v1h1v2h-1v1h-1v-1h-1v-2h1zM178 913h1v1h1v2h-1v1h-1v-1h-1v-2h1zM176 917h1v1h1v2h-1v1h-1v-1h-1v-2h1zM178 938h1v1h1v2h-1v1h-1v-1h-1v-2h1zM179 929h1v1h1v2h-1v1h-1v-1h-1v-2h1zM181 931h1v1h1v2h-1v1h-1v-1h-1v-2h1zM182 933h1v1h1v2h-1v1h-1v-1h-1v-2h1zM184 938h1v1h1v2h-1v1h-1v-1h-1v-2h1zM182 925h1v1h1v2h-1v1h-1v-1h-1v-2h1zM187 901h1v1h1v2h-1v1h-1v-1h-1v-2h1zM188 939h1v1h1v2h-1v1h-1v-1h-1v-2h1zM190 938h1v1h1v2h-1v1h-1v-1h-1v-2h1zM191 882h1v1h1v2h-1v1h-1v-1h-1v-2h1zM193 885h1v1h1v2h-1v1h-1v-1h-1v-2h1zM194 859h1v1h1v2h-1v1h-1v-1h-1v-2h1zM194 924h1v1h1v2h-1v1h-1v-1h-1v-2h1zM195 931h1v1h1v2h-1v1h-1v-1h-1v-2h1zM196 932h1v1h1v2h-1v1h-1v-1h-1v-2h1zM197 937h1v1h1v2h-1v1h-1v-1h-1v-2h1zM201 927h1v1h1v2h-1v1h-1v-1h-1v-2h1zM201 931h1v1h1v2h-1v1h-1v-1h-1v-2h1zM204 933h1v1h1v2h-1v1h-1v-1h-1v-2h1zM204 925h1v1h1v2h-1v1h-1v-1h-1v-2h1zM206 924h1v1h1v2h-1v1h-1v-1h-1v-2h1zM208 924h1v1h1v2h-1v1h-1v-1h-1v-2h1zM207 930h1v1h1v2h-1v1h-1v-1h-1v-2h1zM210 921h1v1h1v2h-1v1h-1v-1h-1v-2h1zM206 916h1v1h1v2h-1v1h-1v-1h-1v-2h1zM205 907h1v1h1v2h-1v1h-1v-1h-1v-2h1zM207 906h1v1h1v2h-1v1h-1v-1h-1v-2h1zM211 907h1v1h1v2h-1v1h-1v-1h-1v-2h1zM205 880h1v1h1v2h-1v1h-1v-1h-1v-2h1zM206 863h1v1h1v2h-1v1h-1v-1h-1v-2h1zM208 938h1v1h1v2h-1v1h-1v-1h-1v-2h1zM210 940h1v1h1v2h-1v1h-1v-1h-1v-2h1zM212 940h1v1h1v2h-1v1h-1v-1h-1v-2h1zM213 939h1v1h1v2h-1v1h-1v-1h-1v-2h1zM212 934h1v1h1v2h-1v1h-1v-1h-1v-2h1zM215 933h1v1h1v2h-1v1h-1v-1h-1v-2h1zM215 931h1v1h1v2h-1v1h-1v-1h-1v-2h1zM216 924h1v1h1v2h-1v1h-1v-1h-1v-2h1zM217 919h1v1h1v2h-1v1h-1v-1h-1v-2h1zM220 919h1v1h1v2h-1v1h-1v-1h-1v-2h1zM216 894h1v1h1v2h-1v1h-1v-1h-1v-2h1zM223 905h1v1h1v2h-1v1h-1v-1h-1v-2h1zM220 938h1v1h1v2h-1v1h-1v-1h-1v-2h1zM220 941h1v1h1v2h-1v1h-1v-1h-1v-2h1zM225 927h1v1h1v2h-1v1h-1v-1h-1v-2h1zM225 939h1v1h1v2h-1v1h-1v-1h-1v-2h1zM229 918h1v1h1v2h-1v1h-1v-1h-1v-2h1zM204 942h1v1h1v2h-1v1h-1v-1h-1v-2h1zM136 935h1v1h1v2h-1v1h-1v-1h-1v-2h1zM136 929h1v1h1v2h-1v1h-1v-1h-1v-2h1zM135 931h1v1h1v2h-1v1h-1v-1h-1v-2h1zM130 938h1v1h1v2h-1v1h-1v-1h-1v-2h1zM132 934h1v1h1v2h-1v1h-1v-1h-1v-2h1zM139 935h1v1h1v2h-1v1h-1v-1h-1v-2h1zM134 935h1v1h1v2h-1v1h-1v-1h-1v-2h1zM137 938h1v1h1v2h-1v1h-1v-1h-1v-2h1zM131 935h1v1h1v2h-1v1h-1v-1h-1v-2h1zM133 932h1v1h1v2h-1v1h-1v-1h-1v-2h1zM139 934h1v1h1v2h-1v1h-1v-1h-1v-2h1zM137 937h1v1h1v2h-1v1h-1v-1h-1v-2h1zM141 934h1v1h1v2h-1v1h-1v-1h-1v-2h1zM137 934h1v1h1v2h-1v1h-1v-1h-1v-2h1zM136 937h1v1h1v2h-1v1h-1v-1h-1v-2h1zM136 940h1v1h1v2h-1v1h-1v-1h-1v-2h1zM138 939h1v1h1v2h-1v1h-1v-1h-1v-2h1zM141 931h1v1h1v2h-1v1h-1v-1h-1v-2h1zM137 940h1v1h1v2h-1v1h-1v-1h-1v-2h1zM140 930h1v1h1v2h-1v1h-1v-1h-1v-2h1zM131 931h1v1h1v2h-1v1h-1v-1h-1v-2h1zM131 936h1v1h1v2h-1v1h-1v-1h-1v-2h1zM139 939h1v1h1v2h-1v1h-1v-1h-1v-2h1zM132 937h1v1h1v2h-1v1h-1v-1h-1v-2h1zM138 930h1v1h1v2h-1v1h-1v-1h-1v-2h1zM141 940h1v1h1v2h-1v1h-1v-1h-1v-2h1zM133 940h1v1h1v2h-1v1h-1v-1h-1v-2h1zM135 934h1v1h1v2h-1v1h-1v-1h-1v-2h1zM142 938h1v1h1v2h-1v1h-1v-1h-1v-2h1zM128 776h1v1h1v2h-1v1h-1v-1h-1v-2h1zM207 827h1v1h1v2h-1v1h-1v-1h-1v-2h1zM81 945h1v1h1v2h-1v1h-1v-1h-1v-2h1zM82 945h1v1h1v2h-1v1h-1v-1h-1v-2h1zM83 945h1v1h1v2h-1v1h-1v-1h-1v-2h1zM84 945h1v1h1v2h-1v1h-1v-1h-1v-2h1zM85 945h1v1h1v2h-1v1h-1v-1h-1v-2h1zM86 945h1v1h1v2h-1v1h-1v-1h-1v-2h1zM87 945h1v1h1v2h-1v1h-1v-1h-1v-2h1zM88 945h1v1h1v2h-1v1h-1v-1h-1v-2h1zM89 945h1v1h1v2h-1v1h-1v-1h-1v-2h1zM90 945h1v1h1v2h-1v1h-1v-1h-1v-2h1zM91 945h1v1h1v2h-1v1h-1v-1h-1v-2h1zM92 945h1v1h1v2h-1v1h-1v-1h-1v-2h1zM93 945h1v1h1v2h-1v1h-1v-1h-1v-2h1zM94 945h1v1h1v2h-1v1h-1v-1h-1v-2h1zM95 945h1v1h1v2h-1v1h-1v-1h-1v-2h1zM96 945h1v1h1v2h-1v1h-1v-1h-1v-2h1zM97 945h1v1h1v2h-1v1h-1v-1h-1v-2h1zM98 945h1v1h1v2h-1v1h-1v-1h-1v-2h1zM99 945h1v1h1v2h-1v1h-1v-1h-1v-2h1zM100 945h1v1h1v2h-1v1h-1v-1h-1v-2h1zM101 945h1v1h1v2h-1v1h-1v-1h-1v-2h1zM102 945h1v1h1v2h-1v1h-1v-1h-1v-2h1zM103 945h1v1h1v2h-1v1h-1v-1h-1v-2h1zM104 945h1v1h1v2h-1v1h-1v-1h-1v-2h1zM105 945h1v1h1v2h-1v1h-1v-1h-1v-2h1zM106 945h1v1h1v2h-1v1h-1v-1h-1v-2h1zM107 945h1v1h1v2h-1v1h-1v-1h-1v-2h1zM108 945h1v1h1v2h-1v1h-1v-1h-1v-2h1zM109 945h1v1h1v2h-1v1h-1v-1h-1v-2h1zM110 945h1v1h1v2h-1v1h-1v-1h-1v-2h1zM111 945h1v1h1v2h-1v1h-1v-1h-1v-2h1zM112 945h1v1h1v2h-1v1h-1v-1h-1v-2h1zM113 945h1v1h1v2h-1v1h-1v-1h-1v-2h1zM114 945h1v1h1v2h-1v1h-1v-1h-1v-2h1zM115 945h1v1h1v2h-1v1h-1v-1h-1v-2h1zM117 945h1v1h1v2h-1v1h-1v-1h-1v-2h1zM118 945h1v1h1v2h-1v1h-1v-1h-1v-2h1zM119 945h1v1h1v2h-1v1h-1v-1h-1v-2h1zM120 945h1v1h1v2h-1v1h-1v-1h-1v-2h1zM121 945h1v1h1v2h-1v1h-1v-1h-1v-2h1zM122 945h1v1h1v2h-1v1h-1v-1h-1v-2h1zM123 945h1v1h1v2h-1v1h-1v-1h-1v-2h1zM124 945h1v1h1v2h-1v1h-1v-1h-1v-2h1zM125 945h1v1h1v2h-1v1h-1v-1h-1v-2h1zM126 945h1v1h1v2h-1v1h-1v-1h-1v-2h1zM128 945h1v1h1v2h-1v1h-1v-1h-1v-2h1zM129 945h1v1h1v2h-1v1h-1v-1h-1v-2h1zM130 945h1v1h1v2h-1v1h-1v-1h-1v-2h1zM131 945h1v1h1v2h-1v1h-1v-1h-1v-2h1zM132 945h1v1h1v2h-1v1h-1v-1h-1v-2h1zM133 945h1v1h1v2h-1v1h-1v-1h-1v-2h1zM134 945h1v1h1v2h-1v1h-1v-1h-1v-2h1zM135 945h1v1h1v2h-1v1h-1v-1h-1v-2h1zM136 945h1v1h1v2h-1v1h-1v-1h-1v-2h1zM137 945h1v1h1v2h-1v1h-1v-1h-1v-2h1zM138 945h1v1h1v2h-1v1h-1v-1h-1v-2h1zM139 945h1v1h1v2h-1v1h-1v-1h-1v-2h1zM140 945h1v1h1v2h-1v1h-1v-1h-1v-2h1zM142 945h1v1h1v2h-1v1h-1v-1h-1v-2h1zM143 945h1v1h1v2h-1v1h-1v-1h-1v-2h1zM145 945h1v1h1v2h-1v1h-1v-1h-1v-2h1zM146 945h1v1h1v2h-1v1h-1v-1h-1v-2h1zM148 945h1v1h1v2h-1v1h-1v-1h-1v-2h1zM149 945h1v1h1v2h-1v1h-1v-1h-1v-2h1zM151 945h1v1h1v2h-1v1h-1v-1h-1v-2h1zM153 945h1v1h1v2h-1v1h-1v-1h-1v-2h1zM154 945h1v1h1v2h-1v1h-1v-1h-1v-2h1zM156 945h1v1h1v2h-1v1h-1v-1h-1v-2h1zM157 945h1v1h1v2h-1v1h-1v-1h-1v-2h1zM158 945h1v1h1v2h-1v1h-1v-1h-1v-2h1zM161 945h1v1h1v2h-1v1h-1v-1h-1v-2h1zM162 945h1v1h1v2h-1v1h-1v-1h-1v-2h1zM164 945h1v1h1v2h-1v1h-1v-1h-1v-2h1zM166 945h1v1h1v2h-1v1h-1v-1h-1v-2h1zM167 945h1v1h1v2h-1v1h-1v-1h-1v-2h1zM169 945h1v1h1v2h-1v1h-1v-1h-1v-2h1zM171 945h1v1h1v2h-1v1h-1v-1h-1v-2h1zM173 945h1v1h1v2h-1v1h-1v-1h-1v-2h1zM174 945h1v1h1v2h-1v1h-1v-1h-1v-2h1zM176 945h1v1h1v2h-1v1h-1v-1h-1v-2h1zM178 945h1v1h1v2h-1v1h-1v-1h-1v-2h1zM180 945h1v1h1v2h-1v1h-1v-1h-1v-2h1zM183 945h1v1h1v2h-1v1h-1v-1h-1v-2h1zM184 945h1v1h1v2h-1v1h-1v-1h-1v-2h1zM185 945h1v1h1v2h-1v1h-1v-1h-1v-2h1zM187 945h1v1h1v2h-1v1h-1v-1h-1v-2h1zM188 945h1v1h1v2h-1v1h-1v-1h-1v-2h1zM190 945h1v1h1v2h-1v1h-1v-1h-1v-2h1zM193 945h1v1h1v2h-1v1h-1v-1h-1v-2h1zM194 945h1v1h1v2h-1v1h-1v-1h-1v-2h1zM195 945h1v1h1v2h-1v1h-1v-1h-1v-2h1zM197 945h1v1h1v2h-1v1h-1v-1h-1v-2h1zM198 945h1v1h1v2h-1v1h-1v-1h-1v-2h1zM200 945h1v1h1v2h-1v1h-1v-1h-1v-2h1zM201 945h1v1h1v2h-1v1h-1v-1h-1v-2h1zM203 945h1v1h1v2h-1v1h-1v-1h-1v-2h1zM204 945h1v1h1v2h-1v1h-1v-1h-1v-2h1zM206 945h1v1h1v2h-1v1h-1v-1h-1v-2h1zM208 945h1v1h1v2h-1v1h-1v-1h-1v-2h1zM209 945h1v1h1v2h-1v1h-1v-1h-1v-2h1zM211 945h1v1h1v2h-1v1h-1v-1h-1v-2h1zM213 945h1v1h1v2h-1v1h-1v-1h-1v-2h1zM214 945h1v1h1v2h-1v1h-1v-1h-1v-2h1zM215 945h1v1h1v2h-1v1h-1v-1h-1v-2h1zM222 945h1v1h1v2h-1v1h-1v-1h-1v-2h1zM223 945h1v1h1v2h-1v1h-1v-1h-1v-2h1zM229 945h1v1h1v2h-1v1h-1v-1h-1v-2h1z" fill="#000" shape-rendering="crispEdges"/>
<path d="M311.5 750.5H527.5V948.5H311.5ZM311.5 948v7M317.5 948v4M324.5 948v4M331.5 948v4M338.5 948v7M344.5 948v4M351.5 948v4M358.5 948v4M365.5 948v7M371.5 948v4M378.5 948v4M385.5 948v4M392.5 948v7M398.5 948v4M405.5 948v4M412.5 948v4M419.5 948v7M425.5 948v4M432.5 948v4M439.5 948v4M446.5 948v7M452.5 948v4M459.5 948v4M466.5 948v4M473.5 948v7M479.5 948v4M486.5 948v4M493.5 948v4M500.5 948v7M506.5 948v4M513.5 948v4M520.5 948v4M527.5 948v7M312 948.5h-7M312 928.5h-4M312 908.5h-7M312 889.5h-4M312 869.5h-7M312 849.5h-4M312 829.5h-7M312 809.5h-4M312 790.5h-7M312 770.5h-4M312 750.5h-7" fill="none" stroke="#000" stroke-width="1" shape-rendering="crispEdges"/>
<path d="M316 938h1v1h1v2h-1v1h-1v-1h-1v-2h1zM319 924h1v1h1v2h-1v1h-1v-1h-1v-2h1zM324 943h1v1h1v2h-1v1h-1v-1h-1v-2h1zM326 863h1v1h1v2h-1v1h-1v-1h-1v-2h1zM326 927h1v1h1v2h-1v1h-1v-1h-1v-2h1zM326 931h1v1h1v2h-1v1h-1v-1h-1v-2h1zM332 925h1v1h1v2h-1v1h-1v-1h-1v-2h1zM339 925h1v1h1v2h-1v1h-1v-1h-1v-2h1zM343 941h1v1h1v2h-1v1h-1v-1h-1v-2h1zM344 940h1v1h1v2h-1v1h-1v-1h-1v-2h1zM345 939h1v1h1v2h-1v1h-1v-1h-1v-2h1zM350 929h1v1h1v2h-1v1h-1v-1h-1v-2h1zM350 934h1v1h1v2h-1v1h-1v-1h-1v-2h1zM355 907h1v1h1v2h-1v1h-1v-1h-1v-2h1zM355 930h1v1h1v2h-1v1h-1v-1h-1v-2h1zM359 932h1v1h1v2h-1v1h-1v-1h-1v-2h1zM359 939h1v1h1v2h-1v1h-1v-1h-1v-2h1zM361 939h1v1h1v2h-1v1h-1v-1h-1v-2h1zM362 940h1v1h1v2h-1v1h-1v-1h-1v-2h1zM363 941h1v1h1v2h-1v1h-1v-1h-1v-2h1zM362 907h1v1h1v2h-1v1h-1v-1h-1v-2h1zM362 908h1v1h1v2h-1v1h-1v-1h-1v-2h1zM365 907h1v1h1v2h-1v1h-1v-1h-1v-2h1zM363 860h1v1h1v2h-1v1h-1v-1h-1v-2h1zM366 894h1v1h1v2h-1v1h-1v-1h-1v-2h1zM370 880h1v1h1v2h-1v1h-1v-1h-1v-2h1zM370 882h1v1h1v2h-1v1h-1v-1h-1v-2h1zM365 922h1v1h1v2h-1v1h-1v-1h-1v-2h1zM366 920h1v1h1v2h-1v1h-1v-1h-1v-2h1zM367 919h1v1h1v2h-1v1h-1v-1h-1v-2h1zM368 918h1v1h1v2h-1v1h-1v-1h-1v-2h1zM369 917h1v1h1v2h-1v1h-1v-1h-1v-2h1zM369 924h1v1h1v2h-1v1h-1v-1h-1v-2h1zM369 933h1v1h1v2h-1v1h-1v-1h-1v-2h1zM370 935h1v1h1v2h-1v1h-1v-1h-1v-2h1zM369 940h1v1h1v2h-1v1h-1v-1h-1v-2h1zM378 906h1v1h1v2h-1v1h-1v-1h-1v-2h1zM380 939h1v1h1v2h-1v1h-1v-1h-1v-2h1zM382 939h1v1h1v2h-1v1h-1v-1h-1v-2h1zM384 939h1v1h1v2h-1v1h-1v-1h-1v-2h1zM382 934h1v1h1v2h-1v1h-1v-1h-1v-2h1zM384 934h1v1h1v2h-1v1h-1v-1h-1v-2h1zM384 884h1v1h1v2h-1v1h-1v-1h-1v-2h1zM384 918h1v1h1v2h-1v1h-1v-1h-1v-2h1zM384 920h1v1h1v2h-1v1h-1v-1h-1v-2h1zM385 923h1v1h1v2h-1v1h-1v-1h-1v-2h1zM386 927h1v1h1v2h-1v1h-1v-1h-1v-2h1zM386 930h1v1h1v2h-1v1h-1v-1h-1v-2h1zM387 932h1v1h1v2h-1v1h-1v-1h-1v-2h1zM389 932h1v1h1v2h-1v1h-1v-1h-1v-2h1zM392 932h1v1h1v2h-1v1h-1v-1h-1v-2h1zM389 936h1v1h1v2h-1v1h-1v-1h-1v-2h1zM389 938h1v1h1v2h-1v1h-1v-1h-1v-2h1zM389 940h1v1h1v2h-1v1h-1v-1h-1v-2h1zM390 926h1v1h1v2h-1v1h-1v-1h-1v-2h1zM392 925h1v1h1v2h-1v1h-1v-1h-1v-2h1zM390 882h1v1h1v2h-1v1h-1v-1h-1v-2h1zM390 904h1v1h1v2h-1v1h-1v-1h-1v-2h1zM394 901h1v1h1v2h-1v1h-1v-1h-1v-2h1zM395 932h1v1h1v2h-1v1h-1v-1h-1v-2h1zM396 928h1v1h1v2h-1v1h-1v-1h-1v-2h1zM397 933h1v1h1v2h-1v1h-1v-1h-1v-2h1zM395 936h1v1h1v2h-1v1h-1v-1h-1v-2h1zM396 938h1v1h1v2h-1v1h-1v-1h-1v-2h1zM398 937h1v1h1v2h-1v1h-1v-1h-1v-2h1zM400 939h1v1h1v2h-1v1h-1v-1h-1v-2h1zM402 940h1v1h1v2h-1v1h-1v-1h-1v-2h1zM404 941h1v1h1v2h-1v1h-1v-1h-1v-2h1zM405 939h1v1h1v2h-1v1h-1v-1h-1v-2h1zM406 937h1v1h1v2h-1v1h-1v-1h-1v-2h1zM408 936h1v1h1v2h-1v1h-1v-1h-1v-2h1zM409 934h1v1h1v2h-1v1h-1v-1h-1v-2h1zM411 933h1v1h1v2h-1v1h-1v-1h-1v-2h1zM413 931h1v1h1v2h-1v1h-1v-1h-1v-2h1zM404 932h1v1h1v2h-1v1h-1v-1h-1v-2h1zM405 927h1v1h1v2h-1v1h-1v-1h-1v-2h1zM406 930h1v1h1v2h-1v1h-1v-1h-1v-2h1zM409 924h1v1h1v2h-1v1h-1v-1h-1v-2h1zM409 928h1v1h1v2h-1v1h-1v-1h-1v-2h1zM413 928h1v1h1v2h-1v1h-1v-1h-1v-2h1zM407 919h1v1h1v2h-1v1h-1v-1h-1v-2h1zM403 913h1v1h1v2h-1v1h-1v-1h-1v-2h1zM404 901h1v1h1v2h-1v1h-1v-1h-1v-2h1zM404 904h1v1h1v2h-1v1h-1v-1h-1v-2h1zM408 870h1v1h1v2h-1v1h-1v-1h-1v-2h1zM413 918h1v1h1v2h-1v1h-1v-1h-1v-2h1zM415 924h1v1h1v2h-1v1h-1v-1h-1v-2h1zM417 925h1v1h1v2h-1v1h-1v-1h-1v-2h1zM416 931h1v1h1v2h-1v1h-1v-1h-1v-2h1zM415 941h1v1h1v2h-1v1h-1v-1h-1v-2h1zM416 939h1v1h1v2h-1v1h-1v-1h-1v-2h1zM418 938h1v1h1v2h-1v1h-1v-1h-1v-2h1zM419 936h1v1h1v2h-1v1h-1v-1h-1v-2h1zM421 935h1v1h1v2h-1v1h-1v-1h-1v-2h1zM421 939h1v1h1v2h-1v1h-1v-1h-1v-2h1zM422 940h1v1h1v2h-1v1h-1v-1h-1v-2h1zM424 938h1v1h1v2h-1v1h-1v-1h-1v-2h1zM426 939h1v1h1v2h-1v1h-1v-1h-1v-2h1zM427 931h1v1h1v2h-1v1h-1v-1h-1v-2h1zM424 926h1v1h1v2h-1v1h-1v-1h-1v-2h1zM423 920h1v1h1v2h-1v1h-1v-1h-1v-2h1zM424 918h1v1h1v2h-1v1h-1v-1h-1v-2h1zM424 916h1v1h1v2h-1v1h-1v-1h-1v-2h1zM421 906h1v1h1v2h-1v1h-1v-1h-1v-2h1zM421 907h1v1h1v2h-1v1h-1v-1h-1v-2h1zM424 902h1v1h1v2h-1v1h-1v-1h-1v-2h1zM426 906h1v1h1v2h-1v1h-1v-1h-1v-2h1zM428 912h1v1h1v2h-1v1h-1v-1h-1v-2h1zM423 889h1v1h1v2h-1v1h-1v-1h-1v-2h1zM426 880h1v1h1v2h-1v1h-1v-1h-1v-2h1zM428 880h1v1h1v2h-1v1h-1v-1h-1v-2h1zM428 891h1v1h1v2h-1v1h-1v-1h-1v-2h1zM432 893h1v1h1v2h-1v1h-1v-1h-1v-2h1zM435 875h1v1h1v2h-1v1h-1v-1h-1v-2h1zM438 882h1v1h1v2h-1v1h-1v-1h-1v-2h1zM438 899h1v1h1v2h-1v1h-1v-1h-1v-2h1zM439 908h1v1h1v2h-1v1h-1v-1h-1v-2h1zM434 916h1v1h1v2h-1v1h-1v-1h-1v-2h1zM436 919h1v1h1v2h-1v1h-1v-1h-1v-2h1zM435 923h1v1h1v2h-1v1h-1v-1h-1v-2h1zM435 932h1v1h1v2h-1v1h-1v-1h-1v-2h1zM435 935h1v1h1v2h-1v1h-1v-1h-1v-2h1zM435 938h1v1h1v2h-1v1h-1v-1h-1v-2h1zM435 940h1v1h1v2h-1v1h-1v-1h-1v-2h1zM440 921h1v1h1v2h-1v1h-1v-1h-1v-2h1zM439 924h1v1h1v2h-1v1h-1v-1h-1v-2h1zM439 926h1v1h1v2h-1v1h-1v-1h-1v-2h1zM441 925h1v1h1v2h-1v1h-1v-1h-1v-2h1zM443 924h1v1h1v2h-1v1h-1v-1h-1v-2h1zM443 930h1v1h1v2h-1v1h-1v-1h-1v-2h1zM442 940h1v1h1v2h-1v1h-1v-1h-1v-2h1zM443 871h1v1h1v2h-1v1h-1v-1h-1v-2h1zM444 885h1v1h1v2h-1v1h-1v-1h-1v-2h1zM448 887h1v1h1v2h-1v1h-1v-1h-1v-2h1zM446 917h1v1h1v2h-1v1h-1v-1h-1v-2h1zM448 916h1v1h1v2h-1v1h-1v-1h-1v-2h1zM449 918h1v1h1v2h-1v1h-1v-1h-1v-2h1zM450 919h1v1h1v2h-1v1h-1v-1h-1v-2h1zM446 939h1v1h1v2h-1v1h-1v-1h-1v-2h1zM447 937h1v1h1v2h-1v1h-1v-1h-1v-2h1zM448 935h1v1h1v2h-1v1h-1v-1h-1v-2h1zM448 933h1v1h1v2h-1v1h-1v-1h-1v-2h1zM450 932h1v1h1v2h-1v1h-1v-1h-1v-2h1zM451 930h1v1h1v2h-1v1h-1v-1h-1v-2h1zM453 929h1v1h1v2h-1v1h-1v-1h-1v-2h1zM450 936h1v1h1v2h-1v1h-1v-1h-1v-2h1zM454 935h1v1h1v2h-1v1h-1v-1h-1v-2h1zM458 930h1v1h1v2h-1v1h-1v-1h-1v-2h1zM458 937h1v1h1v2h-1v1h-1v-1h-1v-2h1zM462 889h1v1h1v2h-1v1h-1v-1h-1v-2h1zM462 899h1v1h1v2h-1v1h-1v-1h-1v-2h1zM461 903h1v1h1v2h-1v1h-1v-1h-1v-2h1zM461 913h1v1h1v2h-1v1h-1v-1h-1v-2h1zM463 928h1v1h1v2h-1v1h-1v-1h-1v-2h1zM461 936h1v1h1v2h-1v1h-1v-1h-1v-2h1zM463 936h1v1h1v2h-1v1h-1v-1h-1v-2h1zM461 939h1v1h1v2h-1v1h-1v-1h-1v-2h1zM465 939h1v1h1v2h-1v1h-1v-1h-1v-2h1zM467 938h1v1h1v2h-1v1h-1v-1h-1v-2h1zM468 937h1v1h1v2h-1v1h-1v-1h-1v-2h1zM469 937h1v1h1v2h-1v1h-1v-1h-1v-2h1zM481 917h1v1h1v2h-1v1h-1v-1h-1v-2h1zM501 936h1v1h1v2h-1v1h-1v-1h-1v-2h1zM470 944h1v1h1v2h-1v1h-1v-1h-1v-2h1zM474 944h1v1h1v2h-1v1h-1v-1h-1v-2h1zM490 944h1v1h1v2h-1v1h-1v-1h-1v-2h1zM498 944h1v1h1v2h-1v1h-1v-1h-1v-2h1zM370 828h1v1h1v2h-1v1h-1v-1h-1v-2h1zM462 776h1v1h1v2h-1v1h-1v-1h-1v-2h1zM319 945h1v1h1v2h-1v1h-1v-1h-1v-2h1zM320 945h1v1h1v2h-1v1h-1v-1h-1v-2h1zM330 945h1v1h1v2h-1v1h-1v-1h-1v-2h1zM335 945h1v1h1v2h-1v1h-1v-1h-1v-2h1zM337 945h1v1h1v2h-1v1h-1v-1h-1v-2h1zM339 945h1v1h1v2h-1v1h-1v-1h-1v-2h1zM341 945h1v1h1v2h-1v1h-1v-1h-1v-2h1zM349 945h1v1h1v2h-1v1h-1v-1h-1v-2h1zM351 945h1v1h1v2h-1v1h-1v-1h-1v-2h1zM353 945h1v1h1v2h-1v1h-1v-1h-1v-2h1zM359 945h1v1h1v2h-1v1h-1v-1h-1v-2h1zM368 945h1v1h1v2h-1v1h-1v-1h-1v-2h1zM370 945h1v1h1v2h-1v1h-1v-1h-1v-2h1zM372 945h1v1h1v2h-1v1h-1v-1h-1v-2h1zM374 945h1v1h1v2h-1v1h-1v-1h-1v-2h1zM376 945h1v1h1v2h-1v1h-1v-1h-1v-2h1zM378 945h1v1h1v2h-1v1h-1v-1h-1v-2h1zM380 945h1v1h1v2h-1v1h-1v-1h-1v-2h1zM382 945h1v1h1v2h-1v1h-1v-1h-1v-2h1zM384 945h1v1h1v2h-1v1h-1v-1h-1v-2h1zM386 945h1v1h1v2h-1v1h-1v-1h-1v-2h1zM388 945h1v1h1v2h-1v1h-1v-1h-1v-2h1zM390 945h1v1h1v2h-1v1h-1v-1h-1v-2h1zM392 945h1v1h1v2h-1v1h-1v-1h-1v-2h1zM394 945h1v1h1v2h-1v1h-1v-1h-1v-2h1zM396 945h1v1h1v2h-1v1h-1v-1h-1v-2h1zM398 945h1v1h1v2h-1v1h-1v-1h-1v-2h1zM400 945h1v1h1v2h-1v1h-1v-1h-1v-2h1zM402 945h1v1h1v2h-1v1h-1v-1h-1v-2h1zM404 945h1v1h1v2h-1v1h-1v-1h-1v-2h1zM406 945h1v1h1v2h-1v1h-1v-1h-1v-2h1zM408 945h1v1h1v2h-1v1h-1v-1h-1v-2h1zM410 945h1v1h1v2h-1v1h-1v-1h-1v-2h1zM412 945h1v1h1v2h-1v1h-1v-1h-1v-2h1zM414 945h1v1h1v2h-1v1h-1v-1h-1v-2h1zM416 945h1v1h1v2h-1v1h-1v-1h-1v-2h1zM418 945h1v1h1v2h-1v1h-1v-1h-1v-2h1zM420 945h1v1h1v2h-1v1h-1v-1h-1v-2h1zM422 945h1v1h1v2h-1v1h-1v-1h-1v-2h1zM424 945h1v1h1v2h-1v1h-1v-1h-1v-2h1zM426 945h1v1h1v2h-1v1h-1v-1h-1v-2h1zM428 945h1v1h1v2h-1v1h-1v-1h-1v-2h1zM430 945h1v1h1v2h-1v1h-1v-1h-1v-2h1zM432 945h1v1h1v2h-1v1h-1v-1h-1v-2h1zM434 945h1v1h1v2h-1v1h-1v-1h-1v-2h1zM436 945h1v1h1v2h-1v1h-1v-1h-1v-2h1zM438 945h1v1h1v2h-1v1h-1v-1h-1v-2h1zM440 945h1v1h1v2h-1v1h-1v-1h-1v-2h1zM442 945h1v1h1v2h-1v1h-1v-1h-1v-2h1zM444 945h1v1h1v2h-1v1h-1v-1h-1v-2h1zM449 945h1v1h1v2h-1v1h-1v-1h-1v-2h1zM451 945h1v1h1v2h-1v1h-1v-1h-1v-2h1zM453 945h1v1h1v2h-1v1h-1v-1h-1v-2h1zM455 945h1v1h1v2h-1v1h-1v-1h-1v-2h1zM457 945h1v1h1v2h-1v1h-1v-1h-1v-2h1zM459 945h1v1h1v2h-1v1h-1v-1h-1v-2h1zM461 945h1v1h1v2h-1v1h-1v-1h-1v-2h1zM463 945h1v1h1v2h-1v1h-1v-1h-1v-2h1zM465 945h1v1h1v2h-1v1h-1v-1h-1v-2h1z" fill="#000" shape-rendering="crispEdges"/>
<path d="M580.5 750.5H796.5V948.5H580.5ZM580.5 948v7M586.5 948v4M592.5 948v4M598.5 948v4M604.5 948v4M611.5 948v7M617.5 948v4M623.5 948v4M629.5 948v4M635.5 948v4M641.5 948v7M648.5 948v4M654.5 948v4M660.5 948v4M666.5 948v4M672.5 948v7M678.5 948v4M685.5 948v4M691.5 948v4M697.5 948v4M703.5 948v7M709.5 948v4M715.5 948v4M722.5 948v4M728.5 948v4M734.5 948v7M740.5 948v4M746.5 948v4M753.5 948v4M759.5 948v4M765.5 948v7M771.5 948v4M777.5 948v4M783.5 948v4M790.5 948v4M796.5 948v7M581 948.5h-7M581 928.5h-4M581 908.5h-7M581 889.5h-4M581 869.5h-7M581 849.5h-4M581 829.5h-7M581 809.5h-4M581 790.5h-7M581 770.5h-4M581 750.5h-7" fill="none" stroke="#000" stroke-width="1" shape-rendering="crispEdges"/>
<path d="M603 938h1v1h1v2h-1v1h-1v-1h-1v-2h1zM613 934h1v1h1v2h-1v1h-1v-1h-1v-2h1zM613 938h1v1h1v2h-1v1h-1v-1h-1v-2h1zM615 922h1v1h1v2h-1v1h-1v-1h-1v-2h1zM615 905h1v1h1v2h-1v1h-1v-1h-1v-2h1zM620 907h1v1h1v2h-1v1h-1v-1h-1v-2h1zM620 931h1v1h1v2h-1v1h-1v-1h-1v-2h1zM621 927h1v1h1v2h-1v1h-1v-1h-1v-2h1zM624 924h1v1h1v2h-1v1h-1v-1h-1v-2h1zM626 919h1v1h1v2h-1v1h-1v-1h-1v-2h1zM623 863h1v1h1v2h-1v1h-1v-1h-1v-2h1zM627 894h1v1h1v2h-1v1h-1v-1h-1v-2h1zM629 924h1v1h1v2h-1v1h-1v-1h-1v-2h1zM630 933h1v1h1v2h-1v1h-1v-1h-1v-2h1zM633 930h1v1h1v2h-1v1h-1v-1h-1v-2h1zM635 932h1v1h1v2h-1v1h-1v-1h-1v-2h1zM633 907h1v1h1v2h-1v1h-1v-1h-1v-2h1zM634 906h1v1h1v2h-1v1h-1v-1h-1v-2h1zM639 942h1v1h1v2h-1v1h-1v-1h-1v-2h1zM642 880h1v1h1v2h-1v1h-1v-1h-1v-2h1zM643 916h1v1h1v2h-1v1h-1v-1h-1v-2h1zM646 860h1v1h1v2h-1v1h-1v-1h-1v-2h1zM649 931h1v1h1v2h-1v1h-1v-1h-1v-2h1zM648 937h1v1h1v2h-1v1h-1v-1h-1v-2h1zM649 939h1v1h1v2h-1v1h-1v-1h-1v-2h1zM651 940h1v1h1v2h-1v1h-1v-1h-1v-2h1zM653 938h1v1h1v2h-1v1h-1v-1h-1v-2h1zM653 941h1v1h1v2h-1v1h-1v-1h-1v-2h1zM654 925h1v1h1v2h-1v1h-1v-1h-1v-2h1zM656 882h1v1h1v2h-1v1h-1v-1h-1v-2h1zM659 918h1v1h1v2h-1v1h-1v-1h-1v-2h1zM660 940h1v1h1v2h-1v1h-1v-1h-1v-2h1zM662 939h1v1h1v2h-1v1h-1v-1h-1v-2h1zM662 901h1v1h1v2h-1v1h-1v-1h-1v-2h1zM663 927h1v1h1v2h-1v1h-1v-1h-1v-2h1zM666 919h1v1h1v2h-1v1h-1v-1h-1v-2h1zM669 925h1v1h1v2h-1v1h-1v-1h-1v-2h1zM670 932h1v1h1v2h-1v1h-1v-1h-1v-2h1zM671 931h1v1h1v2h-1v1h-1v-1h-1v-2h1zM672 884h1v1h1v2h-1v1h-1v-1h-1v-2h1zM674 938h1v1h1v2h-1v1h-1v-1h-1v-2h1zM677 913h1v1h1v2h-1v1h-1v-1h-1v-2h1zM677 933h1v1h1v2h-1v1h-1v-1h-1v-2h1zM678 929h1v1h1v2h-1v1h-1v-1h-1v-2h1zM678 931h1v1h1v2h-1v1h-1v-1h-1v-2h1zM681 939h1v1h1v2h-1v1h-1v-1h-1v-2h1zM682 934h1v1h1v2h-1v1h-1v-1h-1v-2h1zM683 938h1v1h1v2h-1v1h-1v-1h-1v-2h1zM685 937h1v1h1v2h-1v1h-1v-1h-1v-2h1zM687 933h1v1h1v2h-1v1h-1v-1h-1v-2h1zM687 936h1v1h1v2h-1v1h-1v-1h-1v-2h1zM689 936h1v1h1v2h-1v1h-1v-1h-1v-2h1zM691 934h1v1h1v2h-1v1h-1v-1h-1v-2h1zM691 938h1v1h1v2h-1v1h-1v-1h-1v-2h1zM688 924h1v1h1v2h-1v1h-1v-1h-1v-2h1zM687 906h1v1h1v2h-1v1h-1v-1h-1v-2h1zM694 930h1v1h1v2h-1v1h-1v-1h-1v-2h1zM695 904h1v1h1v2h-1v1h-1v-1h-1v-2h1zM695 882h1v1h1v2h-1v1h-1v-1h-1v-2h1zM699 885h1v1h1v2h-1v1h-1v-1h-1v-2h1zM698 929h1v1h1v2h-1v1h-1v-1h-1v-2h1zM698 934h1v1h1v2h-1v1h-1v-1h-1v-2h1zM701 936h1v1h1v2h-1v1h-1v-1h-1v-2h1zM703 939h1v1h1v2h-1v1h-1v-1h-1v-2h1zM706 927h1v1h1v2h-1v1h-1v-1h-1v-2h1zM707 923h1v1h1v2h-1v1h-1v-1h-1v-2h1zM707 939h1v1h1v2h-1v1h-1v-1h-1v-2h1zM708 940h1v1h1v2h-1v1h-1v-1h-1v-2h1zM709 939h1v1h1v2h-1v1h-1v-1h-1v-2h1zM708 937h1v1h1v2h-1v1h-1v-1h-1v-2h1zM711 928h1v1h1v2h-1v1h-1v-1h-1v-2h1zM713 933h1v1h1v2h-1v1h-1v-1h-1v-2h1zM722 925h1v1h1v2h-1v1h-1v-1h-1v-2h1zM724 932h1v1h1v2h-1v1h-1v-1h-1v-2h1zM724 936h1v1h1v2h-1v1h-1v-1h-1v-2h1zM726 935h1v1h1v2h-1v1h-1v-1h-1v-2h1zM727 937h1v1h1v2h-1v1h-1v-1h-1v-2h1zM729 941h1v1h1v2h-1v1h-1v-1h-1v-2h1zM725 870h1v1h1v2h-1v1h-1v-1h-1v-2h1zM725 880h1v1h1v2h-1v1h-1v-1h-1v-2h1zM729 889h1v1h1v2h-1v1h-1v-1h-1v-2h1zM726 902h1v1h1v2h-1v1h-1v-1h-1v-2h1zM725 906h1v1h1v2h-1v1h-1v-1h-1v-2h1zM727 917h1v1h1v2h-1v1h-1v-1h-1v-2h1zM728 917h1v1h1v2h-1v1h-1v-1h-1v-2h1zM726 924h1v1h1v2h-1v1h-1v-1h-1v-2h1zM728 924h1v1h1v2h-1v1h-1v-1h-1v-2h1zM733 906h1v1h1v2h-1v1h-1v-1h-1v-2h1zM735 893h1v1h1v2h-1v1h-1v-1h-1v-2h1zM737 907h1v1h1v2h-1v1h-1v-1h-1v-2h1zM737 939h1v1h1v2h-1v1h-1v-1h-1v-2h1zM740 901h1v1h1v2h-1v1h-1v-1h-1v-2h1zM742 904h1v1h1v2h-1v1h-1v-1h-1v-2h1zM740 930h1v1h1v2h-1v1h-1v-1h-1v-2h1zM741 932h1v1h1v2h-1v1h-1v-1h-1v-2h1zM740 938h1v1h1v2h-1v1h-1v-1h-1v-2h1zM742 939h1v1h1v2h-1v1h-1v-1h-1v-2h1zM744 940h1v1h1v2h-1v1h-1v-1h-1v-2h1zM743 923h1v1h1v2h-1v1h-1v-1h-1v-2h1zM747 887h1v1h1v2h-1v1h-1v-1h-1v-2h1zM748 882h1v1h1v2h-1v1h-1v-1h-1v-2h1zM749 875h1v1h1v2h-1v1h-1v-1h-1v-2h1zM750 908h1v1h1v2h-1v1h-1v-1h-1v-2h1zM749 923h1v1h1v2h-1v1h-1v-1h-1v-2h1zM749 927h1v1h1v2h-1v1h-1v-1h-1v-2h1zM752 930h1v1h1v2h-1v1h-1v-1h-1v-2h1zM751 919h1v1h1v2h-1v1h-1v-1h-1v-2h1zM753 913h1v1h1v2h-1v1h-1v-1h-1v-2h1zM755 914h1v1h1v2h-1v1h-1v-1h-1v-2h1zM756 912h1v1h1v2h-1v1h-1v-1h-1v-2h1zM755 917h1v1h1v2h-1v1h-1v-1h-1v-2h1zM755 920h1v1h1v2h-1v1h-1v-1h-1v-2h1zM757 919h1v1h1v2h-1v1h-1v-1h-1v-2h1zM753 903h1v1h1v2h-1v1h-1v-1h-1v-2h1zM754 898h1v1h1v2h-1v1h-1v-1h-1v-2h1zM754 889h1v1h1v2h-1v1h-1v-1h-1v-2h1zM755 890h1v1h1v2h-1v1h-1v-1h-1v-2h1zM756 891h1v1h1v2h-1v1h-1v-1h-1v-2h1zM756 880h1v1h1v2h-1v1h-1v-1h-1v-2h1zM762 898h1v1h1v2h-1v1h-1v-1h-1v-2h1zM763 871h1v1h1v2h-1v1h-1v-1h-1v-2h1zM760 916h1v1h1v2h-1v1h-1v-1h-1v-2h1zM761 916h1v1h1v2h-1v1h-1v-1h-1v-2h1zM764 918h1v1h1v2h-1v1h-1v-1h-1v-2h1zM764 921h1v1h1v2h-1v1h-1v-1h-1v-2h1zM755 925h1v1h1v2h-1v1h-1v-1h-1v-2h1zM758 924h1v1h1v2h-1v1h-1v-1h-1v-2h1zM757 927h1v1h1v2h-1v1h-1v-1h-1v-2h1zM756 929h1v1h1v2h-1v1h-1v-1h-1v-2h1zM759 929h1v1h1v2h-1v1h-1v-1h-1v-2h1zM760 928h1v1h1v2h-1v1h-1v-1h-1v-2h1zM763 926h1v1h1v2h-1v1h-1v-1h-1v-2h1zM764 926h1v1h1v2h-1v1h-1v-1h-1v-2h1zM763 928h1v1h1v2h-1v1h-1v-1h-1v-2h1zM753 938h1v1h1v2h-1v1h-1v-1h-1v-2h1zM755 938h1v1h1v2h-1v1h-1v-1h-1v-2h1zM756 939h1v1h1v2h-1v1h-1v-1h-1v-2h1zM757 936h1v1h1v2h-1v1h-1v-1h-1v-2h1zM759 936h1v1h1v2h-1v1h-1v-1h-1v-2h1zM749 933h1v1h1v2h-1v1h-1v-1h-1v-2h1zM746 933h1v1h1v2h-1v1h-1v-1h-1v-2h1zM750 929h1v1h1v2h-1v1h-1v-1h-1v-2h1zM749 934h1v1h1v2h-1v1h-1v-1h-1v-2h1zM745 933h1v1h1v2h-1v1h-1v-1h-1v-2h1zM749 935h1v1h1v2h-1v1h-1v-1h-1v-2h1zM745 940h1v1h1v2h-1v1h-1v-1h-1v-2h1zM751 940h1v1h1v2h-1v1h-1v-1h-1v-2h1zM746 932h1v1h1v2h-1v1h-1v-1h-1v-2h1zM745 938h1v1h1v2h-1v1h-1v-1h-1v-2h1zM747 931h1v1h1v2h-1v1h-1v-1h-1v-2h1zM748 940h1v1h1v2h-1v1h-1v-1h-1v-2h1zM751 932h1v1h1v2h-1v1h-1v-1h-1v-2h1zM746 940h1v1h1v2h-1v1h-1v-1h-1v-2h1zM749 937h1v1h1v2h-1v1h-1v-1h-1v-2h1zM745 930h1v1h1v2h-1v1h-1v-1h-1v-2h1zM750 934h1v1h1v2h-1v1h-1v-1h-1v-2h1zM749 938h1v1h1v2h-1v1h-1v-1h-1v-2h1zM745 939h1v1h1v2h-1v1h-1v-1h-1v-2h1zM748 933h1v1h1v2h-1v1h-1v-1h-1v-2h1zM749 940h1v1h1v2h-1v1h-1v-1h-1v-2h1zM749 932h1v1h1v2h-1v1h-1v-1h-1v-2h1zM746 931h1v1h1v2h-1v1h-1v-1h-1v-2h1zM745 932h1v1h1v2h-1v1h-1v-1h-1v-2h1zM747 933h1v1h1v2h-1v1h-1v-1h-1v-2h1zM750 933h1v1h1v2h-1v1h-1v-1h-1v-2h1zM748 931h1v1h1v2h-1v1h-1v-1h-1v-2h1zM763 931h1v1h1v2h-1v1h-1v-1h-1v-2h1zM762 931h1v1h1v2h-1v1h-1v-1h-1v-2h1zM765 937h1v1h1v2h-1v1h-1v-1h-1v-2h1zM762 936h1v1h1v2h-1v1h-1v-1h-1v-2h1zM767 932h1v1h1v2h-1v1h-1v-1h-1v-2h1zM766 936h1v1h1v2h-1v1h-1v-1h-1v-2h1zM764 940h1v1h1v2h-1v1h-1v-1h-1v-2h1zM763 936h1v1h1v2h-1v1h-1v-1h-1v-2h1zM765 941h1v1h1v2h-1v1h-1v-1h-1v-2h1zM763 939h1v1h1v2h-1v1h-1v-1h-1v-2h1zM765 938h1v1h1v2h-1v1h-1v-1h-1v-2h1zM763 935h1v1h1v2h-1v1h-1v-1h-1v-2h1zM761 933h1v1h1v2h-1v1h-1v-1h-1v-2h1zM761 939h1v1h1v2h-1v1h-1v-1h-1v-2h1zM762 933h1v1h1v2h-1v1h-1v-1h-1v-2h1zM761 940h1v1h1v2h-1v1h-1v-1h-1v-2h1zM766 938h1v1h1v2h-1v1h-1v-1h-1v-2h1zM763 934h1v1h1v2h-1v1h-1v-1h-1v-2h1zM762 941h1v1h1v2h-1v1h-1v-1h-1v-2h1zM767 937h1v1h1v2h-1v1h-1v-1h-1v-2h1zM761 935h1v1h1v2h-1v1h-1v-1h-1v-2h1zM764 936h1v1h1v2h-1v1h-1v-1h-1v-2h1zM761 934h1v1h1v2h-1v1h-1v-1h-1v-2h1zM761 932h1v1h1v2h-1v1h-1v-1h-1v-2h1zM764 937h1v1h1v2h-1v1h-1v-1h-1v-2h1zM598 827h1v1h1v2h-1v1h-1v-1h-1v-2h1zM757 776h1v1h1v2h-1v1h-1v-1h-1v-2h1zM603 945h1v1h1v2h-1v1h-1v-1h-1v-2h1zM613 945h1v1h1v2h-1v1h-1v-1h-1v-2h1zM614 945h1v1h1v2h-1v1h-1v-1h-1v-2h1zM622 945h1v1h1v2h-1v1h-1v-1h-1v-2h1zM628 945h1v1h1v2h-1v1h-1v-1h-1v-2h1zM633 945h1v1h1v2h-1v1h-1v-1h-1v-2h1zM637 945h1v1h1v2h-1v1h-1v-1h-1v-2h1zM642 945h1v1h1v2h-1v1h-1v-1h-1v-2h1zM643 945h1v1h1v2h-1v1h-1v-1h-1v-2h1zM645 945h1v1h1v2h-1v1h-1v-1h-1v-2h1zM646 945h1v1h1v2h-1v1h-1v-1h-1v-2h1zM648 945h1v1h1v2h-1v1h-1v-1h-1v-2h1zM650 945h1v1h1v2h-1v1h-1v-1h-1v-2h1zM652 945h1v1h1v2h-1v1h-1v-1h-1v-2h1zM653 945h1v1h1v2h-1v1h-1v-1h-1v-2h1zM654 945h1v1h1v2h-1v1h-1v-1h-1v-2h1zM655 945h1v1h1v2h-1v1h-1v-1h-1v-2h1zM657 945h1v1h1v2h-1v1h-1v-1h-1v-2h1zM659 945h1v1h1v2h-1v1h-1v-1h-1v-2h1zM661 945h1v1h1v2h-1v1h-1v-1h-1v-2h1zM663 945h1v1h1v2h-1v1h-1v-1h-1v-2h1zM664 945h1v1h1v2h-1v1h-1v-1h-1v-2h1zM666 945h1v1h1v2h-1v1h-1v-1h-1v-2h1zM668 945h1v1h1v2h-1v1h-1v-1h-1v-2h1zM669 945h1v1h1v2h-1v1h-1v-1h-1v-2h1zM671 945h1v1h1v2h-1v1h-1v-1h-1v-2h1zM673 945h1v1h1v2h-1v1h-1v-1h-1v-2h1zM674 945h1v1h1v2h-1v1h-1v-1h-1v-2h1zM676 945h1v1h1v2h-1v1h-1v-1h-1v-2h1zM677 945h1v1h1v2h-1v1h-1v-1h-1v-2h1zM679 945h1v1h1v2h-1v1h-1v-1h-1v-2h1zM682 945h1v1h1v2h-1v1h-1v-1h-1v-2h1zM684 945h1v1h1v2h-1v1h-1v-1h-1v-2h1zM685 945h1v1h1v2h-1v1h-1v-1h-1v-2h1zM686 945h1v1h1v2h-1v1h-1v-1h-1v-2h1zM687 945h1v1h1v2h-1v1h-1v-1h-1v-2h1zM689 945h1v1h1v2h-1v1h-1v-1h-1v-2h1zM691 945h1v1h1v2h-1v1h-1v-1h-1v-2h1zM693 945h1v1h1v2h-1v1h-1v-1h-1v-2h1zM694 945h1v1h1v2h-1v1h-1v-1h-1v-2h1zM696 945h1v1h1v2h-1v1h-1v-1h-1v-2h1zM698 945h1v1h1v2h-1v1h-1v-1h-1v-2h1zM699 945h1v1h1v2h-1v1h-1v-1h-1v-2h1zM702 945h1v1h1v2h-1v1h-1v-1h-1v-2h1zM704 945h1v1h1v2h-1v1h-1v-1h-1v-2h1zM705 945h1v1h1v2h-1v1h-1v-1h-1v-2h1zM708 945h1v1h1v2h-1v1h-1v-1h-1v-2h1zM709 945h1v1h1v2h-1v1h-1v-1h-1v-2h1zM710 945h1v1h1v2h-1v1h-1v-1h-1v-2h1zM716 945h1v1h1v2h-1v1h-1v-1h-1v-2h1zM717 945h1v1h1v2h-1v1h-1v-1h-1v-2h1zM720 945h1v1h1v2h-1v1h-1v-1h-1v-2h1zM722 945h1v1h1v2h-1v1h-1v-1h-1v-2h1zM723 945h1v1h1v2h-1v1h-1v-1h-1v-2h1zM724 945h1v1h1v2h-1v1h-1v-1h-1v-2h1zM725 945h1v1h1v2h-1v1h-1v-1h-1v-2h1zM727 945h1v1h1v2h-1v1h-1v-1h-1v-2h1zM729 945h1v1h1v2h-1v1h-1v-1h-1v-2h1zM731 945h1v1h1v2h-1v1h-1v-1h-1v-2h1zM733 945h1v1h1v2h-1v1h-1v-1h-1v-2h1zM737 945h1v1h1v2h-1v1h-1v-1h-1v-2h1zM738 945h1v1h1v2h-1v1h-1v-1h-1v-2h1zM739 945h1v1h1v2h-1v1h-1v-1h-1v-2h1zM740 945h1v1h1v2h-1v1h-1v-1h-1v-2h1zM741 945h1v1h1v2h-1v1h-1v-1h-1v-2h1zM742 945h1v1h1v2h-1v1h-1v-1h-1v-2h1zM743 945h1v1h1v2h-1v1h-1v-1h-1v-2h1zM744 945h1v1h1v2h-1v1h-1v-1h-1v-2h1zM745 945h1v1h1v2h-1v1h-1v-1h-1v-2h1zM746 945h1v1h1v2h-1v1h-1v-1h-1v-2h1zM747 945h1v1h1v2h-1v1h-1v-1h-1v-2h1zM748 945h1v1h1v2h-1v1h-1v-1h-1v-2h1zM749 945h1v1h1v2h-1v1h-1v-1h-1v-2h1zM750 945h1v1h1v2h-1v1h-1v-1h-1v-2h1zM751 945h1v1h1v2h-1v1h-1v-1h-1v-2h1zM752 945h1v1h1v2h-1v1h-1v-1h-1v-2h1zM753 945h1v1h1v2h-1v1h-1v-1h-1v-2h1zM755 945h1v1h1v2h-1v1h-1v-1h-1v-2h1zM756 945h1v1h1v2h-1v1h-1v-1h-1v-2h1zM757 945h1v1h1v2h-1v1h-1v-1h-1v-2h1zM758 945h1v1h1v2h-1v1h-1v-1h-1v-2h1zM759 945h1v1h1v2h-1v1h-1v-1h-1v-2h1zM760 945h1v1h1v2h-1v1h-1v-1h-1v-2h1zM761 945h1v1h1v2h-1v1h-1v-1h-1v-2h1zM762 945h1v1h1v2h-1v1h-1v-1h-1v-2h1zM763 945h1v1h1v2h-1v1h-1v-1h-1v-2h1zM764 945h1v1h1v2h-1v1h-1v-1h-1v-2h1zM765 945h1v1h1v2h-1v1h-1v-1h-1v-2h1zM766 945h1v1h1v2h-1v1h-1v-1h-1v-2h1zM767 945h1v1h1v2h-1v1h-1v-1h-1v-2h1zM768 945h1v1h1v2h-1v1h-1v-1h-1v-2h1z" fill="#000" shape-rendering="crispEdges"/>
<path d="M849.5 750.5H1065.5V948.5H849.5ZM849.5 948v7M856.5 948v4M863.5 948v4M870.5 948v4M878.5 948v4M885.5 948v7M892.5 948v4M899.5 948v4M906.5 948v4M914.5 948v4M921.5 948v7M928.5 948v4M935.5 948v4M942.5 948v4M950.5 948v4M957.5 948v7M964.5 948v4M971.5 948v4M978.5 948v4M986.5 948v4M993.5 948v7M1000.5 948v4M1007.5 948v4M1014.5 948v4M1022.5 948v4M1029.5 948v7M1036.5 948v4M1043.5 948v4M1050.5 948v4M1058.5 948v4M1065.5 948v7M850 948.5h-7M850 928.5h-4M850 908.5h-7M850 889.5h-4M850 869.5h-7M850 849.5h-4M850 829.5h-7M850 809.5h-4M850 790.5h-7M850 770.5h-4M850 750.5h-7" fill="none" stroke="#000" stroke-width="1" shape-rendering="crispEdges"/>
<path d="M873 938h1v1h1v2h-1v1h-1v-1h-1v-2h1zM877 905h1v1h1v2h-1v1h-1v-1h-1v-2h1zM894 918h1v1h1v2h-1v1h-1v-1h-1v-2h1zM895 927h1v1h1v2h-1v1h-1v-1h-1v-2h1zM899 932h1v1h1v2h-1v1h-1v-1h-1v-2h1zM900 919h1v1h1v2h-1v1h-1v-1h-1v-2h1zM902 924h1v1h1v2h-1v1h-1v-1h-1v-2h1zM902 885h1v1h1v2h-1v1h-1v-1h-1v-2h1zM904 894h1v1h1v2h-1v1h-1v-1h-1v-2h1zM908 901h1v1h1v2h-1v1h-1v-1h-1v-2h1zM906 938h1v1h1v2h-1v1h-1v-1h-1v-2h1zM909 932h1v1h1v2h-1v1h-1v-1h-1v-2h1zM911 931h1v1h1v2h-1v1h-1v-1h-1v-2h1zM914 913h1v1h1v2h-1v1h-1v-1h-1v-2h1zM915 880h1v1h1v2h-1v1h-1v-1h-1v-2h1zM917 940h1v1h1v2h-1v1h-1v-1h-1v-2h1zM919 907h1v1h1v2h-1v1h-1v-1h-1v-2h1zM919 916h1v1h1v2h-1v1h-1v-1h-1v-2h1zM919 933h1v1h1v2h-1v1h-1v-1h-1v-2h1zM923 917h1v1h1v2h-1v1h-1v-1h-1v-2h1zM923 925h1v1h1v2h-1v1h-1v-1h-1v-2h1zM923 930h1v1h1v2h-1v1h-1v-1h-1v-2h1zM925 931h1v1h1v2h-1v1h-1v-1h-1v-2h1zM927 933h1v1h1v2h-1v1h-1v-1h-1v-2h1zM928 929h1v1h1v2h-1v1h-1v-1h-1v-2h1zM928 938h1v1h1v2h-1v1h-1v-1h-1v-2h1zM923 938h1v1h1v2h-1v1h-1v-1h-1v-2h1zM922 941h1v1h1v2h-1v1h-1v-1h-1v-2h1zM925 906h1v1h1v2h-1v1h-1v-1h-1v-2h1zM927 919h1v1h1v2h-1v1h-1v-1h-1v-2h1zM931 884h1v1h1v2h-1v1h-1v-1h-1v-2h1zM931 931h1v1h1v2h-1v1h-1v-1h-1v-2h1zM933 932h1v1h1v2h-1v1h-1v-1h-1v-2h1zM937 938h1v1h1v2h-1v1h-1v-1h-1v-2h1zM938 922h1v1h1v2h-1v1h-1v-1h-1v-2h1zM938 924h1v1h1v2h-1v1h-1v-1h-1v-2h1zM941 936h1v1h1v2h-1v1h-1v-1h-1v-2h1zM941 940h1v1h1v2h-1v1h-1v-1h-1v-2h1zM944 937h1v1h1v2h-1v1h-1v-1h-1v-2h1zM945 907h1v1h1v2h-1v1h-1v-1h-1v-2h1zM945 925h1v1h1v2h-1v1h-1v-1h-1v-2h1zM947 924h1v1h1v2h-1v1h-1v-1h-1v-2h1zM948 924h1v1h1v2h-1v1h-1v-1h-1v-2h1zM947 863h1v1h1v2h-1v1h-1v-1h-1v-2h1zM950 934h1v1h1v2h-1v1h-1v-1h-1v-2h1zM950 936h1v1h1v2h-1v1h-1v-1h-1v-2h1zM951 927h1v1h1v2h-1v1h-1v-1h-1v-2h1zM952 938h1v1h1v2h-1v1h-1v-1h-1v-2h1zM953 940h1v1h1v2h-1v1h-1v-1h-1v-2h1zM954 924h1v1h1v2h-1v1h-1v-1h-1v-2h1zM959 933h1v1h1v2h-1v1h-1v-1h-1v-2h1zM984 889h1v1h1v2h-1v1h-1v-1h-1v-2h1zM986 882h1v1h1v2h-1v1h-1v-1h-1v-2h1zM987 887h1v1h1v2h-1v1h-1v-1h-1v-2h1zM986 898h1v1h1v2h-1v1h-1v-1h-1v-2h1zM986 913h1v1h1v2h-1v1h-1v-1h-1v-2h1zM986 917h1v1h1v2h-1v1h-1v-1h-1v-2h1zM984 924h1v1h1v2h-1v1h-1v-1h-1v-2h1zM990 907h1v1h1v2h-1v1h-1v-1h-1v-2h1zM993 875h1v1h1v2h-1v1h-1v-1h-1v-2h1zM993 923h1v1h1v2h-1v1h-1v-1h-1v-2h1zM994 929h1v1h1v2h-1v1h-1v-1h-1v-2h1zM995 931h1v1h1v2h-1v1h-1v-1h-1v-2h1zM994 937h1v1h1v2h-1v1h-1v-1h-1v-2h1zM995 938h1v1h1v2h-1v1h-1v-1h-1v-2h1zM990 939h1v1h1v2h-1v1h-1v-1h-1v-2h1zM988 939h1v1h1v2h-1v1h-1v-1h-1v-2h1zM987 939h1v1h1v2h-1v1h-1v-1h-1v-2h1zM986 938h1v1h1v2h-1v1h-1v-1h-1v-2h1zM985 936h1v1h1v2h-1v1h-1v-1h-1v-2h1zM983 935h1v1h1v2h-1v1h-1v-1h-1v-2h1zM998 929h1v1h1v2h-1v1h-1v-1h-1v-2h1zM999 931h1v1h1v2h-1v1h-1v-1h-1v-2h1zM999 933h1v1h1v2h-1v1h-1v-1h-1v-2h1zM999 915h1v1h1v2h-1v1h-1v-1h-1v-2h1zM999 917h1v1h1v2h-1v1h-1v-1h-1v-2h1zM999 919h1v1h1v2h-1v1h-1v-1h-1v-2h1zM999 938h1v1h1v2h-1v1h-1v-1h-1v-2h1zM1000 939h1v1h1v2h-1v1h-1v-1h-1v-2h1zM1002 939h1v1h1v2h-1v1h-1v-1h-1v-2h1zM1004 938h1v1h1v2h-1v1h-1v-1h-1v-2h1zM1003 908h1v1h1v2h-1v1h-1v-1h-1v-2h1zM1004 901h1v1h1v2h-1v1h-1v-1h-1v-2h1zM1005 923h1v1h1v2h-1v1h-1v-1h-1v-2h1zM1007 919h1v1h1v2h-1v1h-1v-1h-1v-2h1zM1005 928h1v1h1v2h-1v1h-1v-1h-1v-2h1zM1004 930h1v1h1v2h-1v1h-1v-1h-1v-2h1zM1009 925h1v1h1v2h-1v1h-1v-1h-1v-2h1zM1009 932h1v1h1v2h-1v1h-1v-1h-1v-2h1zM1008 933h1v1h1v2h-1v1h-1v-1h-1v-2h1zM1007 934h1v1h1v2h-1v1h-1v-1h-1v-2h1zM1007 936h1v1h1v2h-1v1h-1v-1h-1v-2h1zM1012 924h1v1h1v2h-1v1h-1v-1h-1v-2h1zM1013 930h1v1h1v2h-1v1h-1v-1h-1v-2h1zM1012 936h1v1h1v2h-1v1h-1v-1h-1v-2h1zM1012 940h1v1h1v2h-1v1h-1v-1h-1v-2h1zM1014 904h1v1h1v2h-1v1h-1v-1h-1v-2h1zM1015 880h1v1h1v2h-1v1h-1v-1h-1v-2h1zM1015 891h1v1h1v2h-1v1h-1v-1h-1v-2h1zM1015 912h1v1h1v2h-1v1h-1v-1h-1v-2h1zM1014 916h1v1h1v2h-1v1h-1v-1h-1v-2h1zM1017 916h1v1h1v2h-1v1h-1v-1h-1v-2h1zM1017 920h1v1h1v2h-1v1h-1v-1h-1v-2h1zM1017 921h1v1h1v2h-1v1h-1v-1h-1v-2h1zM1017 925h1v1h1v2h-1v1h-1v-1h-1v-2h1zM1018 926h1v1h1v2h-1v1h-1v-1h-1v-2h1zM1017 927h1v1h1v2h-1v1h-1v-1h-1v-2h1zM1016 932h1v1h1v2h-1v1h-1v-1h-1v-2h1zM1015 934h1v1h1v2h-1v1h-1v-1h-1v-2h1zM1017 934h1v1h1v2h-1v1h-1v-1h-1v-2h1zM1015 939h1v1h1v2h-1v1h-1v-1h-1v-2h1zM1017 939h1v1h1v2h-1v1h-1v-1h-1v-2h1zM1016 940h1v1h1v2h-1v1h-1v-1h-1v-2h1zM1018 871h1v1h1v2h-1v1h-1v-1h-1v-2h1zM1019 898h1v1h1v2h-1v1h-1v-1h-1v-2h1zM1022 916h1v1h1v2h-1v1h-1v-1h-1v-2h1zM1023 937h1v1h1v2h-1v1h-1v-1h-1v-2h1zM1021 940h1v1h1v2h-1v1h-1v-1h-1v-2h1zM1030 918h1v1h1v2h-1v1h-1v-1h-1v-2h1zM1034 919h1v1h1v2h-1v1h-1v-1h-1v-2h1zM1032 939h1v1h1v2h-1v1h-1v-1h-1v-2h1zM1037 941h1v1h1v2h-1v1h-1v-1h-1v-2h1zM1038 932h1v1h1v2h-1v1h-1v-1h-1v-2h1zM1039 932h1v1h1v2h-1v1h-1v-1h-1v-2h1zM1046 935h1v1h1v2h-1v1h-1v-1h-1v-2h1zM1050 926h1v1h1v2h-1v1h-1v-1h-1v-2h1zM1054 934h1v1h1v2h-1v1h-1v-1h-1v-2h1zM967 860h1v1h1v2h-1v1h-1v-1h-1v-2h1zM979 870h1v1h1v2h-1v1h-1v-1h-1v-2h1zM968 880h1v1h1v2h-1v1h-1v-1h-1v-2h1zM965 882h1v1h1v2h-1v1h-1v-1h-1v-2h1zM974 882h1v1h1v2h-1v1h-1v-1h-1v-2h1zM964 889h1v1h1v2h-1v1h-1v-1h-1v-2h1zM980 893h1v1h1v2h-1v1h-1v-1h-1v-2h1zM979 903h1v1h1v2h-1v1h-1v-1h-1v-2h1zM968 906h1v1h1v2h-1v1h-1v-1h-1v-2h1zM971 906h1v1h1v2h-1v1h-1v-1h-1v-2h1zM972 901h1v1h1v2h-1v1h-1v-1h-1v-2h1zM973 903h1v1h1v2h-1v1h-1v-1h-1v-2h1zM974 904h1v1h1v2h-1v1h-1v-1h-1v-2h1zM976 906h1v1h1v2h-1v1h-1v-1h-1v-2h1zM967 923h1v1h1v2h-1v1h-1v-1h-1v-2h1zM968 925h1v1h1v2h-1v1h-1v-1h-1v-2h1zM964 927h1v1h1v2h-1v1h-1v-1h-1v-2h1zM963 929h1v1h1v2h-1v1h-1v-1h-1v-2h1zM968 930h1v1h1v2h-1v1h-1v-1h-1v-2h1zM968 932h1v1h1v2h-1v1h-1v-1h-1v-2h1zM974 930h1v1h1v2h-1v1h-1v-1h-1v-2h1zM963 934h1v1h1v2h-1v1h-1v-1h-1v-2h1zM960 933h1v1h1v2h-1v1h-1v-1h-1v-2h1zM972 933h1v1h1v2h-1v1h-1v-1h-1v-2h1zM970 935h1v1h1v2h-1v1h-1v-1h-1v-2h1zM969 936h1v1h1v2h-1v1h-1v-1h-1v-2h1zM967 939h1v1h1v2h-1v1h-1v-1h-1v-2h1zM972 938h1v1h1v2h-1v1h-1v-1h-1v-2h1zM974 938h1v1h1v2h-1v1h-1v-1h-1v-2h1zM977 936h1v1h1v2h-1v1h-1v-1h-1v-2h1zM978 938h1v1h1v2h-1v1h-1v-1h-1v-2h1zM980 935h1v1h1v2h-1v1h-1v-1h-1v-2h1zM976 940h1v1h1v2h-1v1h-1v-1h-1v-2h1zM979 940h1v1h1v2h-1v1h-1v-1h-1v-2h1zM981 940h1v1h1v2h-1v1h-1v-1h-1v-2h1zM982 928h1v1h1v2h-1v1h-1v-1h-1v-2h1zM983 932h1v1h1v2h-1v1h-1v-1h-1v-2h1zM861 827h1v1h1v2h-1v1h-1v-1h-1v-2h1zM989 776h1v1h1v2h-1v1h-1v-1h-1v-2h1zM877 945h1v1h1v2h-1v1h-1v-1h-1v-2h1zM884 945h1v1h1v2h-1v1h-1v-1h-1v-2h1zM893 945h1v1h1v2h-1v1h-1v-1h-1v-2h1zM894 945h1v1h1v2h-1v1h-1v-1h-1v-2h1zM895 945h1v1h1v2h-1v1h-1v-1h-1v-2h1zM902 945h1v1h1v2h-1v1h-1v-1h-1v-2h1zM904 945h1v1h1v2h-1v1h-1v-1h-1v-2h1zM906 945h1v1h1v2h-1v1h-1v-1h-1v-2h1zM908 945h1v1h1v2h-1v1h-1v-1h-1v-2h1zM909 945h1v1h1v2h-1v1h-1v-1h-1v-2h1zM915 945h1v1h1v2h-1v1h-1v-1h-1v-2h1zM923 945h1v1h1v2h-1v1h-1v-1h-1v-2h1zM929 945h1v1h1v2h-1v1h-1v-1h-1v-2h1zM931 945h1v1h1v2h-1v1h-1v-1h-1v-2h1zM932 945h1v1h1v2h-1v1h-1v-1h-1v-2h1zM933 945h1v1h1v2h-1v1h-1v-1h-1v-2h1zM935 945h1v1h1v2h-1v1h-1v-1h-1v-2h1zM937 945h1v1h1v2h-1v1h-1v-1h-1v-2h1zM938 945h1v1h1v2h-1v1h-1v-1h-1v-2h1zM941 945h1v1h1v2h-1v1h-1v-1h-1v-2h1zM942 945h1v1h1v2h-1v1h-1v-1h-1v-2h1zM944 945h1v1h1v2h-1v1h-1v-1h-1v-2h1zM946 945h1v1h1v2h-1v1h-1v-1h-1v-2h1zM948 945h1v1h1v2h-1v1h-1v-1h-1v-2h1zM950 945h1v1h1v2h-1v1h-1v-1h-1v-2h1zM952 945h1v1h1v2h-1v1h-1v-1h-1v-2h1zM953 945h1v1h1v2h-1v1h-1v-1h-1v-2h1zM955 945h1v1h1v2h-1v1h-1v-1h-1v-2h1zM956 945h1v1h1v2h-1v1h-1v-1h-1v-2h1zM957 945h1v1h1v2h-1v1h-1v-1h-1v-2h1zM958 945h1v1h1v2h-1v1h-1v-1h-1v-2h1zM960 945h1v1h1v2h-1v1h-1v-1h-1v-2h1zM962 945h1v1h1v2h-1v1h-1v-1h-1v-2h1zM964 945h1v1h1v2h-1v1h-1v-1h-1v-2h1zM967 945h1v1h1v2h-1v1h-1v-1h-1v-2h1zM969 945h1v1h1v2h-1v1h-1v-1h-1v-2h1zM970 945h1v1h1v2h-1v1h-1v-1h-1v-2h1zM972 945h1v1h1v2h-1v1h-1v-1h-1v-2h1zM974 945h1v1h1v2h-1v1h-1v-1h-1v-2h1zM976 945h1v1h1v2h-1v1h-1v-1h-1v-2h1zM977 945h1v1h1v2h-1v1h-1v-1h-1v-2h1zM978 945h1v1h1v2h-1v1h-1v-1h-1v-2h1zM979 945h1v1h1v2h-1v1h-1v-1h-1v-2h1zM981 945h1v1h1v2h-1v1h-1v-1h-1v-2h1zM982 945h1v1h1v2h-1v1h-1v-1h-1v-2h1zM984 945h1v1h1v2h-1v1h-1v-1h-1v-2h1zM985 945h1v1h1v2h-1v1h-1v-1h-1v-2h1zM987 945h1v1h1v2h-1v1h-1v-1h-1v-2h1zM989 945h1v1h1v2h-1v1h-1v-1h-1v-2h1zM990 945h1v1h1v2h-1v1h-1v-1h-1v-2h1zM991 945h1v1h1v2h-1v1h-1v-1h-1v-2h1zM992 945h1v1h1v2h-1v1h-1v-1h-1v-2h1zM996 945h1v1h1v2h-1v1h-1v-1h-1v-2h1zM997 945h1v1h1v2h-1v1h-1v-1h-1v-2h1zM999 945h1v1h1v2h-1v1h-1v-1h-1v-2h1zM1000 945h1v1h1v2h-1v1h-1v-1h-1v-2h1zM1001 945h1v1h1v2h-1v1h-1v-1h-1v-2h1zM1003 945h1v1h1v2h-1v1h-1v-1h-1v-2h1zM1005 945h1v1h1v2h-1v1h-1v-1h-1v-2h1zM1006 945h1v1h1v2h-1v1h-1v-1h-1v-2h1zM1008 945h1v1h1v2h-1v1h-1v-1h-1v-2h1zM1010 945h1v1h1v2h-1v1h-1v-1h-1v-2h1zM1011 945h1v1h1v2h-1v1h-1v-1h-1v-2h1zM1013 945h1v1h1v2h-1v1h-1v-1h-1v-2h1zM1015 945h1v1h1v2h-1v1h-1v-1h-1v-2h1zM1017 945h1v1h1v2h-1v1h-1v-1h-1v-2h1zM1019 945h1v1h1v2h-1v1h-1v-1h-1v-2h1zM1021 945h1v1h1v2h-1v1h-1v-1h-1v-2h1zM1023 945h1v1h1v2h-1v1h-1v-1h-1v-2h1zM1024 945h1v1h1v2h-1v1h-1v-1h-1v-2h1zM1025 945h1v1h1v2h-1v1h-1v-1h-1v-2h1zM1026 945h1v1h1v2h-1v1h-1v-1h-1v-2h1zM1027 945h1v1h1v2h-1v1h-1v-1h-1v-2h1zM1028 945h1v1h1v2h-1v1h-1v-1h-1v-2h1zM1029 945h1v1h1v2h-1v1h-1v-1h-1v-2h1zM1030 945h1v1h1v2h-1v1h-1v-1h-1v-2h1zM1031 945h1v1h1v2h-1v1h-1v-1h-1v-2h1zM1032 945h1v1h1v2h-1v1h-1v-1h-1v-2h1zM1033 945h1v1h1v2h-1v1h-1v-1h-1v-2h1zM1034 945h1v1h1v2h-1v1h-1v-1h-1v-2h1zM1035 945h1v1h1v2h-1v1h-1v-1h-1v-2h1zM1036 945h1v1h1v2h-1v1h-1v-1h-1v-2h1zM1037 945h1v1h1v2h-1v1h-1v-1h-1v-2h1zM1038 945h1v1h1v2h-1v1h-1v-1h-1v-2h1zM1040 945h1v1h1v2h-1v1h-1v-1h-1v-2h1zM1041 945h1v1h1v2h-1v1h-1v-1h-1v-2h1zM1042 945h1v1h1v2h-1v1h-1v-1h-1v-2h1zM1043 945h1v1h1v2h-1v1h-1v-1h-1v-2h1zM1044 945h1v1h1v2h-1v1h-1v-1h-1v-2h1zM1045 945h1v1h1v2h-1v1h-1v-1h-1v-2h1zM1046 945h1v1h1v2h-1v1h-1v-1h-1v-2h1zM1047 945h1v1h1v2h-1v1h-1v-1h-1v-2h1zM1048 945h1v1h1v2h-1v1h-1v-1h-1v-2h1zM1049 945h1v1h1v2h-1v1h-1v-1h-1v-2h1zM1050 945h1v1h1v2h-1v1h-1v-1h-1v-2h1zM1053 945h1v1h1v2h-1v1h-1v-1h-1v-2h1z" fill="#000" shape-rendering="crispEdges"/>
<path d="M42.5 998.5H258.5V1196.5H42.5ZM42.5 1196v7M63.5 1196v4M85.5 1196v7M107.5 1196v4M128.5 1196v7M150.5 1196v4M171.5 1196v7M193.5 1196v4M215.5 1196v7M236.5 1196v4M258.5 1196v7M43 1196.5h-7M43 1190.5h-4M43 1184.5h-4M43 1178.5h-4M43 1172.5h-7M43 1166.5h-4M43 1159.5h-4M43 1153.5h-4M43 1147.5h-7M43 1141.5h-4M43 1135.5h-4M43 1128.5h-4M43 1122.5h-7M43 1116.5h-4M43 1110.5h-4M43 1104.5h-4M43 1097.5h-7M43 1091.5h-4M43 1085.5h-4M43 1079.5h-4M43 1073.5h-7M43 1067.5h-4M43 1060.5h-4M43 1054.5h-4M43 1048.5h-7M43 1042.5h-4M43 1036.5h-4M43 1029.5h-4M43 1023.5h-7M43 1017.5h-4M43 1011.5h-4M43 1005.5h-4M43 998.5h-7" fill="none" stroke="#000" stroke-width="1" shape-rendering="crispEdges"/>
<path d="M52 1019h1v1h1v2h-1v1h-1v-1h-1v-2h1zM47 1027h1v1h1v2h-1v1h-1v-1h-1v-2h1zM48 1030h1v1h1v2h-1v1h-1v-1h-1v-2h1zM50 1035h1v1h1v2h-1v1h-1v-1h-1v-2h1zM47 1039h1v1h1v2h-1v1h-1v-1h-1v-2h1zM48 1044h1v1h1v2h-1v1h-1v-1h-1v-2h1zM51 1042h1v1h1v2h-1v1h-1v-1h-1v-2h1zM52 1044h1v1h1v2h-1v1h-1v-1h-1v-2h1zM52 1047h1v1h1v2h-1v1h-1v-1h-1v-2h1zM49 1050h1v1h1v2h-1v1h-1v-1h-1v-2h1zM53 1051h1v1h1v2h-1v1h-1v-1h-1v-2h1zM55 1050h1v1h1v2h-1v1h-1v-1h-1v-2h1zM56 1050h1v1h1v2h-1v1h-1v-1h-1v-2h1zM58 1051h1v1h1v2h-1v1h-1v-1h-1v-2h1zM60 1050h1v1h1v2h-1v1h-1v-1h-1v-2h1zM59 1046h1v1h1v2h-1v1h-1v-1h-1v-2h1zM62 1040h1v1h1v2h-1v1h-1v-1h-1v-2h1zM65 1046h1v1h1v2h-1v1h-1v-1h-1v-2h1zM64 1053h1v1h1v2h-1v1h-1v-1h-1v-2h1zM48 1054h1v1h1v2h-1v1h-1v-1h-1v-2h1zM47 1056h1v1h1v2h-1v1h-1v-1h-1v-2h1zM49 1057h1v1h1v2h-1v1h-1v-1h-1v-2h1zM50 1059h1v1h1v2h-1v1h-1v-1h-1v-2h1zM52 1057h1v1h1v2h-1v1h-1v-1h-1v-2h1zM53 1058h1v1h1v2h-1v1h-1v-1h-1v-2h1zM55 1059h1v1h1v2h-1v1h-1v-1h-1v-2h1zM56 1060h1v1h1v2h-1v1h-1v-1h-1v-2h1zM57 1061h1v1h1v2h-1v1h-1v-1h-1v-2h1zM52 1062h1v1h1v2h-1v1h-1v-1h-1v-2h1zM50 1063h1v1h1v2h-1v1h-1v-1h-1v-2h1zM49 1064h1v1h1v2h-1v1h-1v-1h-1v-2h1zM47 1064h1v1h1v2h-1v1h-1v-1h-1v-2h1zM46 1065h1v1h1v2h-1v1h-1v-1h-1v-2h1zM49 1067h1v1h1v2h-1v1h-1v-1h-1v-2h1zM64 1059h1v1h1v2h-1v1h-1v-1h-1v-2h1zM65 1059h1v1h1v2h-1v1h-1v-1h-1v-2h1zM69 1059h1v1h1v2h-1v1h-1v-1h-1v-2h1zM61 1063h1v1h1v2h-1v1h-1v-1h-1v-2h1zM54 1067h1v1h1v2h-1v1h-1v-1h-1v-2h1zM55 1067h1v1h1v2h-1v1h-1v-1h-1v-2h1zM57 1067h1v1h1v2h-1v1h-1v-1h-1v-2h1zM58 1066h1v1h1v2h-1v1h-1v-1h-1v-2h1zM56 1069h1v1h1v2h-1v1h-1v-1h-1v-2h1zM48 1070h1v1h1v2h-1v1h-1v-1h-1v-2h1zM49 1071h1v1h1v2h-1v1h-1v-1h-1v-2h1zM51 1071h1v1h1v2h-1v1h-1v-1h-1v-2h1zM50 1073h1v1h1v2h-1v1h-1v-1h-1v-2h1zM48 1074h1v1h1v2h-1v1h-1v-1h-1v-2h1zM65 1071h1v1h1v2h-1v1h-1v-1h-1v-2h1zM66 1073h1v1h1v2h-1v1h-1v-1h-1v-2h1zM54 1073h1v1h1v2h-1v1h-1v-1h-1v-2h1zM55 1075h1v1h1v2h-1v1h-1v-1h-1v-2h1zM56 1075h1v1h1v2h-1v1h-1v-1h-1v-2h1zM58 1076h1v1h1v2h-1v1h-1v-1h-1v-2h1zM59 1074h1v1h1v2h-1v1h-1v-1h-1v-2h1zM61 1075h1v1h1v2h-1v1h-1v-1h-1v-2h1zM60 1073h1v1h1v2h-1v1h-1v-1h-1v-2h1zM49 1076h1v1h1v2h-1v1h-1v-1h-1v-2h1zM50 1077h1v1h1v2h-1v1h-1v-1h-1v-2h1zM52 1076h1v1h1v2h-1v1h-1v-1h-1v-2h1zM53 1077h1v1h1v2h-1v1h-1v-1h-1v-2h1zM48 1079h1v1h1v2h-1v1h-1v-1h-1v-2h1zM49 1080h1v1h1v2h-1v1h-1v-1h-1v-2h1zM50 1081h1v1h1v2h-1v1h-1v-1h-1v-2h1zM56 1080h1v1h1v2h-1v1h-1v-1h-1v-2h1zM58 1079h1v1h1v2h-1v1h-1v-1h-1v-2h1zM59 1080h1v1h1v2h-1v1h-1v-1h-1v-2h1zM56 1082h1v1h1v2h-1v1h-1v-1h-1v-2h1zM64 1079h1v1h1v2h-1v1h-1v-1h-1v-2h1zM64 1081h1v1h1v2h-1v1h-1v-1h-1v-2h1zM61 1084h1v1h1v2h-1v1h-1v-1h-1v-2h1zM48 1085h1v1h1v2h-1v1h-1v-1h-1v-2h1zM49 1085h1v1h1v2h-1v1h-1v-1h-1v-2h1zM47 1088h1v1h1v2h-1v1h-1v-1h-1v-2h1zM46 1089h1v1h1v2h-1v1h-1v-1h-1v-2h1zM49 1089h1v1h1v2h-1v1h-1v-1h-1v-2h1zM54 1089h1v1h1v2h-1v1h-1v-1h-1v-2h1zM55 1090h1v1h1v2h-1v1h-1v-1h-1v-2h1zM56 1091h1v1h1v2h-1v1h-1v-1h-1v-2h1zM58 1089h1v1h1v2h-1v1h-1v-1h-1v-2h1zM57 1091h1v1h1v2h-1v1h-1v-1h-1v-2h1zM64 1091h1v1h1v2h-1v1h-1v-1h-1v-2h1zM63 1093h1v1h1v2h-1v1h-1v-1h-1v-2h1zM64 1093h1v1h1v2h-1v1h-1v-1h-1v-2h1zM66 1093h1v1h1v2h-1v1h-1v-1h-1v-2h1zM49 1092h1v1h1v2h-1v1h-1v-1h-1v-2h1zM50 1094h1v1h1v2h-1v1h-1v-1h-1v-2h1zM47 1094h1v1h1v2h-1v1h-1v-1h-1v-2h1zM46 1095h1v1h1v2h-1v1h-1v-1h-1v-2h1zM44 1096h1v1h1v2h-1v1h-1v-1h-1v-2h1zM55 1099h1v1h1v2h-1v1h-1v-1h-1v-2h1zM56 1099h1v1h1v2h-1v1h-1v-1h-1v-2h1zM57 1100h1v1h1v2h-1v1h-1v-1h-1v-2h1zM70 1098h1v1h1v2h-1v1h-1v-1h-1v-2h1zM65 1103h1v1h1v2h-1v1h-1v-1h-1v-2h1zM67 1086h1v1h1v2h-1v1h-1v-1h-1v-2h1zM70 1084h1v1h1v2h-1v1h-1v-1h-1v-2h1zM71 1085h1v1h1v2h-1v1h-1v-1h-1v-2h1zM73 1088h1v1h1v2h-1v1h-1v-1h-1v-2h1zM72 1075h1v1h1v2h-1v1h-1v-1h-1v-2h1zM73 1042h1v1h1v2h-1v1h-1v-1h-1v-2h1zM72 1053h1v1h1v2h-1v1h-1v-1h-1v-2h1zM74 1053h1v1h1v2h-1v1h-1v-1h-1v-2h1zM78 1052h1v1h1v2h-1v1h-1v-1h-1v-2h1zM87 1055h1v1h1v2h-1v1h-1v-1h-1v-2h1zM93 1039h1v1h1v2h-1v1h-1v-1h-1v-2h1zM100 1052h1v1h1v2h-1v1h-1v-1h-1v-2h1zM90 1066h1v1h1v2h-1v1h-1v-1h-1v-2h1zM84 1076h1v1h1v2h-1v1h-1v-1h-1v-2h1zM86 1076h1v1h1v2h-1v1h-1v-1h-1v-2h1zM87 1076h1v1h1v2h-1v1h-1v-1h-1v-2h1zM83 1083h1v1h1v2h-1v1h-1v-1h-1v-2h1zM84 1088h1v1h1v2h-1v1h-1v-1h-1v-2h1zM85 1096h1v1h1v2h-1v1h-1v-1h-1v-2h1zM84 1097h1v1h1v2h-1v1h-1v-1h-1v-2h1zM83 1098h1v1h1v2h-1v1h-1v-1h-1v-2h1zM98 1100h1v1h1v2h-1v1h-1v-1h-1v-2h1zM106 1080h1v1h1v2h-1v1h-1v-1h-1v-2h1zM107 1079h1v1h1v2h-1v1h-1v-1h-1v-2h1zM108 1078h1v1h1v2h-1v1h-1v-1h-1v-2h1zM109 1077h1v1h1v2h-1v1h-1v-1h-1v-2h1zM110 1077h1v1h1v2h-1v1h-1v-1h-1v-2h1zM111 1076h1v1h1v2h-1v1h-1v-1h-1v-2h1zM113 1052h1v1h1v2h-1v1h-1v-1h-1v-2h1zM113 1087h1v1h1v2h-1v1h-1v-1h-1v-2h1zM123 1040h1v1h1v2h-1v1h-1v-1h-1v-2h1zM131 1094h1v1h1v2h-1v1h-1v-1h-1v-2h1zM135 1079h1v1h1v2h-1v1h-1v-1h-1v-2h1zM48 1051h1v1h1v2h-1v1h-1v-1h-1v-2h1zM49 1053h1v1h1v2h-1v1h-1v-1h-1v-2h1zM48 1058h1v1h1v2h-1v1h-1v-1h-1v-2h1zM48 1061h1v1h1v2h-1v1h-1v-1h-1v-2h1zM49 1075h1v1h1v2h-1v1h-1v-1h-1v-2h1zM50 1078h1v1h1v2h-1v1h-1v-1h-1v-2h1zM48 1082h1v1h1v2h-1v1h-1v-1h-1v-2h1zM49 1083h1v1h1v2h-1v1h-1v-1h-1v-2h1zM90 1110h1v1h1v2h-1v1h-1v-1h-1v-2h1zM77 1112h1v1h1v2h-1v1h-1v-1h-1v-2h1zM60 1114h1v1h1v2h-1v1h-1v-1h-1v-2h1zM53 1122h1v1h1v2h-1v1h-1v-1h-1v-2h1zM84 1122h1v1h1v2h-1v1h-1v-1h-1v-2h1zM89 1122h1v1h1v2h-1v1h-1v-1h-1v-2h1zM85 1126h1v1h1v2h-1v1h-1v-1h-1v-2h1zM87 1126h1v1h1v2h-1v1h-1v-1h-1v-2h1zM72 1126h1v1h1v2h-1v1h-1v-1h-1v-2h1zM103 1123h1v1h1v2h-1v1h-1v-1h-1v-2h1zM113 1122h1v1h1v2h-1v1h-1v-1h-1v-2h1zM124 1123h1v1h1v2h-1v1h-1v-1h-1v-2h1zM99 1129h1v1h1v2h-1v1h-1v-1h-1v-2h1zM118 1130h1v1h1v2h-1v1h-1v-1h-1v-2h1zM110 1131h1v1h1v2h-1v1h-1v-1h-1v-2h1zM105 1132h1v1h1v2h-1v1h-1v-1h-1v-2h1zM104 1133h1v1h1v2h-1v1h-1v-1h-1v-2h1zM103 1134h1v1h1v2h-1v1h-1v-1h-1v-2h1zM93 1135h1v1h1v2h-1v1h-1v-1h-1v-2h1zM82 1134h1v1h1v2h-1v1h-1v-1h-1v-2h1zM84 1134h1v1h1v2h-1v1h-1v-1h-1v-2h1zM77 1133h1v1h1v2h-1v1h-1v-1h-1v-2h1zM74 1134h1v1h1v2h-1v1h-1v-1h-1v-2h1zM70 1132h1v1h1v2h-1v1h-1v-1h-1v-2h1zM70 1135h1v1h1v2h-1v1h-1v-1h-1v-2h1zM66 1130h1v1h1v2h-1v1h-1v-1h-1v-2h1zM63 1131h1v1h1v2h-1v1h-1v-1h-1v-2h1zM59 1132h1v1h1v2h-1v1h-1v-1h-1v-2h1zM56 1130h1v1h1v2h-1v1h-1v-1h-1v-2h1zM55 1131h1v1h1v2h-1v1h-1v-1h-1v-2h1zM54 1132h1v1h1v2h-1v1h-1v-1h-1v-2h1zM52 1131h1v1h1v2h-1v1h-1v-1h-1v-2h1zM51 1130h1v1h1v2h-1v1h-1v-1h-1v-2h1zM54 1136h1v1h1v2h-1v1h-1v-1h-1v-2h1zM58 1136h1v1h1v2h-1v1h-1v-1h-1v-2h1zM56 1141h1v1h1v2h-1v1h-1v-1h-1v-2h1zM56 1144h1v1h1v2h-1v1h-1v-1h-1v-2h1zM56 1149h1v1h1v2h-1v1h-1v-1h-1v-2h1zM53 1150h1v1h1v2h-1v1h-1v-1h-1v-2h1zM63 1152h1v1h1v2h-1v1h-1v-1h-1v-2h1zM65 1139h1v1h1v2h-1v1h-1v-1h-1v-2h1zM68 1140h1v1h1v2h-1v1h-1v-1h-1v-2h1zM70 1140h1v1h1v2h-1v1h-1v-1h-1v-2h1zM71 1141h1v1h1v2h-1v1h-1v-1h-1v-2h1zM72 1141h1v1h1v2h-1v1h-1v-1h-1v-2h1zM73 1140h1v1h1v2h-1v1h-1v-1h-1v-2h1zM71 1142h1v1h1v2h-1v1h-1v-1h-1v-2h1zM170 1077h1v1h1v2h-1v1h-1v-1h-1v-2h1zM226 1049h1v1h1v2h-1v1h-1v-1h-1v-2h1zM42 998h1v1h1v2h-1v1h-1v-1h-1v-2h1zM42 1000h1v1h1v2h-1v1h-1v-1h-1v-2h1zM42 1002h1v1h1v2h-1v1h-1v-1h-1v-2h1zM42 1004h1v1h1v2h-1v1h-1v-1h-1v-2h1zM42 1006h1v1h1v2h-1v1h-1v-1h-1v-2h1zM42 1008h1v1h1v2h-1v1h-1v-1h-1v-2h1zM42 1010h1v1h1v2h-1v1h-1v-1h-1v-2h1zM42 1012h1v1h1v2h-1v1h-1v-1h-1v-2h1zM42 1014h1v1h1v2h-1v1h-1v-1h-1v-2h1zM42 1016h1v1h1v2h-1v1h-1v-1h-1v-2h1zM42 1018h1v1h1v2h-1v1h-1v-1h-1v-2h1zM42 1019h1v1h1v2h-1v1h-1v-1h-1v-2h1zM42 1020h1v1h1v2h-1v1h-1v-1h-1v-2h1zM42 1021h1v1h1v2h-1v1h-1v-1h-1v-2h1zM42 1022h1v1h1v2h-1v1h-1v-1h-1v-2h1zM42 1023h1v1h1v2h-1v1h-1v-1h-1v-2h1zM42 1024h1v1h1v2h-1v1h-1v-1h-1v-2h1zM42 1025h1v1h1v2h-1v1h-1v-1h-1v-2h1zM42 1026h1v1h1v2h-1v1h-1v-1h-1v-2h1zM42 1027h1v1h1v2h-1v1h-1v-1h-1v-2h1zM42 1028h1v1h1v2h-1v1h-1v-1h-1v-2h1zM42 1029h1v1h1v2h-1v1h-1v-1h-1v-2h1zM42 1030h1v1h1v2h-1v1h-1v-1h-1v-2h1zM42 1031h1v1h1v2h-1v1h-1v-1h-1v-2h1zM42 1032h1v1h1v2h-1v1h-1v-1h-1v-2h1zM42 1033h1v1h1v2h-1v1h-1v-1h-1v-2h1zM42 1038h1v1h1v2h-1v1h-1v-1h-1v-2h1zM42 1040h1v1h1v2h-1v1h-1v-1h-1v-2h1zM42 1041h1v1h1v2h-1v1h-1v-1h-1v-2h1zM42 1042h1v1h1v2h-1v1h-1v-1h-1v-2h1zM42 1043h1v1h1v2h-1v1h-1v-1h-1v-2h1zM42 1044h1v1h1v2h-1v1h-1v-1h-1v-2h1zM42 1045h1v1h1v2h-1v1h-1v-1h-1v-2h1zM42 1046h1v1h1v2h-1v1h-1v-1h-1v-2h1zM42 1047h1v1h1v2h-1v1h-1v-1h-1v-2h1zM42 1048h1v1h1v2h-1v1h-1v-1h-1v-2h1zM42 1049h1v1h1v2h-1v1h-1v-1h-1v-2h1zM42 1050h1v1h1v2h-1v1h-1v-1h-1v-2h1zM42 1051h1v1h1v2h-1v1h-1v-1h-1v-2h1zM42 1052h1v1h1v2h-1v1h-1v-1h-1v-2h1zM42 1053h1v1h1v2h-1v1h-1v-1h-1v-2h1zM42 1054h1v1h1v2h-1v1h-1v-1h-1v-2h1zM42 1055h1v1h1v2h-1v1h-1v-1h-1v-2h1zM42 1056h1v1h1v2h-1v1h-1v-1h-1v-2h1zM42 1057h1v1h1v2h-1v1h-1v-1h-1v-2h1zM42 1058h1v1h1v2h-1v1h-1v-1h-1v-2h1zM42 1059h1v1h1v2h-1v1h-1v-1h-1v-2h1zM42 1060h1v1h1v2h-1v1h-1v-1h-1v-2h1zM42 1063h1v1h1v2h-1v1h-1v-1h-1v-2h1zM42 1064h1v1h1v2h-1v1h-1v-1h-1v-2h1zM42 1065h1v1h1v2h-1v1h-1v-1h-1v-2h1zM42 1066h1v1h1v2h-1v1h-1v-1h-1v-2h1zM42 1067h1v1h1v2h-1v1h-1v-1h-1v-2h1zM42 1068h1v1h1v2h-1v1h-1v-1h-1v-2h1zM42 1069h1v1h1v2h-1v1h-1v-1h-1v-2h1zM42 1071h1v1h1v2h-1v1h-1v-1h-1v-2h1zM42 1072h1v1h1v2h-1v1h-1v-1h-1v-2h1zM42 1073h1v1h1v2h-1v1h-1v-1h-1v-2h1zM42 1074h1v1h1v2h-1v1h-1v-1h-1v-2h1zM42 1075h1v1h1v2h-1v1h-1v-1h-1v-2h1zM42 1076h1v1h1v2h-1v1h-1v-1h-1v-2h1zM42 1077h1v1h1v2h-1v1h-1v-1h-1v-2h1zM42 1078h1v1h1v2h-1v1h-1v-1h-1v-2h1zM42 1079h1v1h1v2h-1v1h-1v-1h-1v-2h1zM42 1080h1v1h1v2h-1v1h-1v-1h-1v-2h1zM42 1081h1v1h1v2h-1v1h-1v-1h-1v-2h1zM42 1082h1v1h1v2h-1v1h-1v-1h-1v-2h1zM42 1083h1v1h1v2h-1v1h-1v-1h-1v-2h1zM42 1084h1v1h1v2h-1v1h-1v-1h-1v-2h1zM42 1085h1v1h1v2h-1v1h-1v-1h-1v-2h1zM42 1086h1v1h1v2h-1v1h-1v-1h-1v-2h1zM42 1087h1v1h1v2h-1v1h-1v-1h-1v-2h1zM42 1088h1v1h1v2h-1v1h-1v-1h-1v-2h1zM42 1089h1v1h1v2h-1v1h-1v-1h-1v-2h1zM42 1090h1v1h1v2h-1v1h-1v-1h-1v-2h1zM42 1091h1v1h1v2h-1v1h-1v-1h-1v-2h1zM42 1092h1v1h1v2h-1v1h-1v-1h-1v-2h1zM42 1093h1v1h1v2h-1v1h-1v-1h-1v-2h1zM42 1094h1v1h1v2h-1v1h-1v-1h-1v-2h1zM42 1095h1v1h1v2h-1v1h-1v-1h-1v-2h1zM42 1102h1v1h1v2h-1v1h-1v-1h-1v-2h1zM42 1108h1v1h1v2h-1v1h-1v-1h-1v-2h1zM42 1111h1v1h1v2h-1v1h-1v-1h-1v-2h1zM42 1114h1v1h1v2h-1v1h-1v-1h-1v-2h1zM42 1117h1v1h1v2h-1v1h-1v-1h-1v-2h1zM42 1118h1v1h1v2h-1v1h-1v-1h-1v-2h1zM42 1119h1v1h1v2h-1v1h-1v-1h-1v-2h1zM42 1120h1v1h1v2h-1v1h-1v-1h-1v-2h1zM42 1121h1v1h1v2h-1v1h-1v-1h-1v-2h1zM42 1122h1v1h1v2h-1v1h-1v-1h-1v-2h1zM42 1123h1v1h1v2h-1v1h-1v-1h-1v-2h1zM42 1130h1v1h1v2h-1v1h-1v-1h-1v-2h1zM42 1131h1v1h1v2h-1v1h-1v-1h-1v-2h1zM42 1132h1v1h1v2h-1v1h-1v-1h-1v-2h1zM42 1133h1v1h1v2h-1v1h-1v-1h-1v-2h1zM42 1134h1v1h1v2h-1v1h-1v-1h-1v-2h1zM42 1135h1v1h1v2h-1v1h-1v-1h-1v-2h1zM42 1136h1v1h1v2h-1v1h-1v-1h-1v-2h1zM42 1137h1v1h1v2h-1v1h-1v-1h-1v-2h1zM42 1138h1v1h1v2h-1v1h-1v-1h-1v-2h1zM42 1139h1v1h1v2h-1v1h-1v-1h-1v-2h1zM42 1140h1v1h1v2h-1v1h-1v-1h-1v-2h1zM42 1141h1v1h1v2h-1v1h-1v-1h-1v-2h1zM42 1142h1v1h1v2h-1v1h-1v-1h-1v-2h1zM42 1143h1v1h1v2h-1v1h-1v-1h-1v-2h1zM42 1144h1v1h1v2h-1v1h-1v-1h-1v-2h1zM42 1145h1v1h1v2h-1v1h-1v-1h-1v-2h1zM42 1147h1v1h1v2h-1v1h-1v-1h-1v-2h1zM42 1148h1v1h1v2h-1v1h-1v-1h-1v-2h1zM42 1149h1v1h1v2h-1v1h-1v-1h-1v-2h1zM42 1150h1v1h1v2h-1v1h-1v-1h-1v-2h1zM42 1151h1v1h1v2h-1v1h-1v-1h-1v-2h1zM42 1152h1v1h1v2h-1v1h-1v-1h-1v-2h1zM42 1153h1v1h1v2h-1v1h-1v-1h-1v-2h1zM42 1154h1v1h1v2h-1v1h-1v-1h-1v-2h1zM42 1155h1v1h1v2h-1v1h-1v-1h-1v-2h1zM42 1156h1v1h1v2h-1v1h-1v-1h-1v-2h1zM42 1157h1v1h1v2h-1v1h-1v-1h-1v-2h1zM42 1158h1v1h1v2h-1v1h-1v-1h-1v-2h1zM42 1163h1v1h1v2h-1v1h-1v-1h-1v-2h1z" fill="#000" shape-rendering="crispEdges"/>
<path d="M311.5 998.5H527.5V1196.5H311.5ZM311.5 1196v7M317.5 1196v4M323.5 1196v4M329.5 1196v4M335.5 1196v4M342.5 1196v7M348.5 1196v4M354.5 1196v4M360.5 1196v4M366.5 1196v4M372.5 1196v7M379.5 1196v4M385.5 1196v4M391.5 1196v4M397.5 1196v4M403.5 1196v7M409.5 1196v4M416.5 1196v4M422.5 1196v4M428.5 1196v4M434.5 1196v7M440.5 1196v4M446.5 1196v4M453.5 1196v4M459.5 1196v4M465.5 1196v7M471.5 1196v4M477.5 1196v4M484.5 1196v4M490.5 1196v4M496.5 1196v7M502.5 1196v4M508.5 1196v4M514.5 1196v4M521.5 1196v4M527.5 1196v7M312 1196.5h-7M312 1176.5h-4M312 1156.5h-7M312 1137.5h-4M312 1117.5h-7M312 1097.5h-4M312 1077.5h-7M312 1057.5h-4M312 1038.5h-7M312 1018.5h-4M312 998.5h-7" fill="none" stroke="#000" stroke-width="1" shape-rendering="crispEdges"/>
<path d="M389 1183h1v1h1v2h-1v1h-1v-1h-1v-2h1zM396 1183h1v1h1v2h-1v1h-1v-1h-1v-2h1zM396 1174h1v1h1v2h-1v1h-1v-1h-1v-2h1zM400 1180h1v1h1v2h-1v1h-1v-1h-1v-2h1zM404 1189h1v1h1v2h-1v1h-1v-1h-1v-2h1zM406 1184h1v1h1v2h-1v1h-1v-1h-1v-2h1zM408 1188h1v1h1v2h-1v1h-1v-1h-1v-2h1zM409 1186h1v1h1v2h-1v1h-1v-1h-1v-2h1zM408 1166h1v1h1v2h-1v1h-1v-1h-1v-2h1zM411 1168h1v1h1v2h-1v1h-1v-1h-1v-2h1zM409 1175h1v1h1v2h-1v1h-1v-1h-1v-2h1zM414 1146h1v1h1v2h-1v1h-1v-1h-1v-2h1zM416 1152h1v1h1v2h-1v1h-1v-1h-1v-2h1zM415 1119h1v1h1v2h-1v1h-1v-1h-1v-2h1zM415 1166h1v1h1v2h-1v1h-1v-1h-1v-2h1zM415 1171h1v1h1v2h-1v1h-1v-1h-1v-2h1zM414 1178h1v1h1v2h-1v1h-1v-1h-1v-2h1zM415 1180h1v1h1v2h-1v1h-1v-1h-1v-2h1zM417 1179h1v1h1v2h-1v1h-1v-1h-1v-2h1zM418 1182h1v1h1v2h-1v1h-1v-1h-1v-2h1zM420 1181h1v1h1v2h-1v1h-1v-1h-1v-2h1zM413 1185h1v1h1v2h-1v1h-1v-1h-1v-2h1zM414 1186h1v1h1v2h-1v1h-1v-1h-1v-2h1zM414 1189h1v1h1v2h-1v1h-1v-1h-1v-2h1zM419 1186h1v1h1v2h-1v1h-1v-1h-1v-2h1zM420 1187h1v1h1v2h-1v1h-1v-1h-1v-2h1zM421 1186h1v1h1v2h-1v1h-1v-1h-1v-2h1zM420 1188h1v1h1v2h-1v1h-1v-1h-1v-2h1zM423 1189h1v1h1v2h-1v1h-1v-1h-1v-2h1zM418 1164h1v1h1v2h-1v1h-1v-1h-1v-2h1zM419 1165h1v1h1v2h-1v1h-1v-1h-1v-2h1zM420 1165h1v1h1v2h-1v1h-1v-1h-1v-2h1zM421 1165h1v1h1v2h-1v1h-1v-1h-1v-2h1zM420 1133h1v1h1v2h-1v1h-1v-1h-1v-2h1zM422 1137h1v1h1v2h-1v1h-1v-1h-1v-2h1zM421 1146h1v1h1v2h-1v1h-1v-1h-1v-2h1zM422 1152h1v1h1v2h-1v1h-1v-1h-1v-2h1zM423 1154h1v1h1v2h-1v1h-1v-1h-1v-2h1zM424 1154h1v1h1v2h-1v1h-1v-1h-1v-2h1zM422 1161h1v1h1v2h-1v1h-1v-1h-1v-2h1zM424 1128h1v1h1v2h-1v1h-1v-1h-1v-2h1zM425 1111h1v1h1v2h-1v1h-1v-1h-1v-2h1zM425 1142h1v1h1v2h-1v1h-1v-1h-1v-2h1zM423 1164h1v1h1v2h-1v1h-1v-1h-1v-2h1zM425 1163h1v1h1v2h-1v1h-1v-1h-1v-2h1zM426 1164h1v1h1v2h-1v1h-1v-1h-1v-2h1zM425 1166h1v1h1v2h-1v1h-1v-1h-1v-2h1zM423 1167h1v1h1v2h-1v1h-1v-1h-1v-2h1zM426 1167h1v1h1v2h-1v1h-1v-1h-1v-2h1zM428 1167h1v1h1v2h-1v1h-1v-1h-1v-2h1zM422 1172h1v1h1v2h-1v1h-1v-1h-1v-2h1zM425 1172h1v1h1v2h-1v1h-1v-1h-1v-2h1zM421 1174h1v1h1v2h-1v1h-1v-1h-1v-2h1zM423 1175h1v1h1v2h-1v1h-1v-1h-1v-2h1zM427 1175h1v1h1v2h-1v1h-1v-1h-1v-2h1zM424 1177h1v1h1v2h-1v1h-1v-1h-1v-2h1zM426 1177h1v1h1v2h-1v1h-1v-1h-1v-2h1zM428 1177h1v1h1v2h-1v1h-1v-1h-1v-2h1zM424 1180h1v1h1v2h-1v1h-1v-1h-1v-2h1zM426 1180h1v1h1v2h-1v1h-1v-1h-1v-2h1zM424 1184h1v1h1v2h-1v1h-1v-1h-1v-2h1zM426 1183h1v1h1v2h-1v1h-1v-1h-1v-2h1zM428 1182h1v1h1v2h-1v1h-1v-1h-1v-2h1zM428 1135h1v1h1v2h-1v1h-1v-1h-1v-2h1zM430 1128h1v1h1v2h-1v1h-1v-1h-1v-2h1zM430 1139h1v1h1v2h-1v1h-1v-1h-1v-2h1zM428 1155h1v1h1v2h-1v1h-1v-1h-1v-2h1zM430 1160h1v1h1v2h-1v1h-1v-1h-1v-2h1zM430 1170h1v1h1v2h-1v1h-1v-1h-1v-2h1zM433 1156h1v1h1v2h-1v1h-1v-1h-1v-2h1zM434 1123h1v1h1v2h-1v1h-1v-1h-1v-2h1zM436 1130h1v1h1v2h-1v1h-1v-1h-1v-2h1zM437 1141h1v1h1v2h-1v1h-1v-1h-1v-2h1zM436 1149h1v1h1v2h-1v1h-1v-1h-1v-2h1zM438 1108h1v1h1v2h-1v1h-1v-1h-1v-2h1zM440 1130h1v1h1v2h-1v1h-1v-1h-1v-2h1zM440 1156h1v1h1v2h-1v1h-1v-1h-1v-2h1zM441 1161h1v1h1v2h-1v1h-1v-1h-1v-2h1zM440 1164h1v1h1v2h-1v1h-1v-1h-1v-2h1zM439 1166h1v1h1v2h-1v1h-1v-1h-1v-2h1zM438 1167h1v1h1v2h-1v1h-1v-1h-1v-2h1zM438 1169h1v1h1v2h-1v1h-1v-1h-1v-2h1zM434 1171h1v1h1v2h-1v1h-1v-1h-1v-2h1zM434 1173h1v1h1v2h-1v1h-1v-1h-1v-2h1zM436 1172h1v1h1v2h-1v1h-1v-1h-1v-2h1zM438 1172h1v1h1v2h-1v1h-1v-1h-1v-2h1zM435 1174h1v1h1v2h-1v1h-1v-1h-1v-2h1zM435 1177h1v1h1v2h-1v1h-1v-1h-1v-2h1zM434 1180h1v1h1v2h-1v1h-1v-1h-1v-2h1zM432 1180h1v1h1v2h-1v1h-1v-1h-1v-2h1zM431 1180h1v1h1v2h-1v1h-1v-1h-1v-2h1zM428 1186h1v1h1v2h-1v1h-1v-1h-1v-2h1zM430 1187h1v1h1v2h-1v1h-1v-1h-1v-2h1zM432 1187h1v1h1v2h-1v1h-1v-1h-1v-2h1zM433 1185h1v1h1v2h-1v1h-1v-1h-1v-2h1zM437 1182h1v1h1v2h-1v1h-1v-1h-1v-2h1zM439 1185h1v1h1v2h-1v1h-1v-1h-1v-2h1zM439 1187h1v1h1v2h-1v1h-1v-1h-1v-2h1zM440 1186h1v1h1v2h-1v1h-1v-1h-1v-2h1zM443 1132h1v1h1v2h-1v1h-1v-1h-1v-2h1zM444 1131h1v1h1v2h-1v1h-1v-1h-1v-2h1zM445 1130h1v1h1v2h-1v1h-1v-1h-1v-2h1zM445 1152h1v1h1v2h-1v1h-1v-1h-1v-2h1zM444 1155h1v1h1v2h-1v1h-1v-1h-1v-2h1zM448 1155h1v1h1v2h-1v1h-1v-1h-1v-2h1zM449 1151h1v1h1v2h-1v1h-1v-1h-1v-2h1zM448 1165h1v1h1v2h-1v1h-1v-1h-1v-2h1zM448 1168h1v1h1v2h-1v1h-1v-1h-1v-2h1zM448 1173h1v1h1v2h-1v1h-1v-1h-1v-2h1zM443 1173h1v1h1v2h-1v1h-1v-1h-1v-2h1zM444 1174h1v1h1v2h-1v1h-1v-1h-1v-2h1zM445 1175h1v1h1v2h-1v1h-1v-1h-1v-2h1zM443 1176h1v1h1v2h-1v1h-1v-1h-1v-2h1zM441 1178h1v1h1v2h-1v1h-1v-1h-1v-2h1zM442 1180h1v1h1v2h-1v1h-1v-1h-1v-2h1zM444 1179h1v1h1v2h-1v1h-1v-1h-1v-2h1zM446 1180h1v1h1v2h-1v1h-1v-1h-1v-2h1zM442 1183h1v1h1v2h-1v1h-1v-1h-1v-2h1zM445 1183h1v1h1v2h-1v1h-1v-1h-1v-2h1zM444 1186h1v1h1v2h-1v1h-1v-1h-1v-2h1zM445 1187h1v1h1v2h-1v1h-1v-1h-1v-2h1zM447 1185h1v1h1v2h-1v1h-1v-1h-1v-2h1zM450 1177h1v1h1v2h-1v1h-1v-1h-1v-2h1zM452 1177h1v1h1v2h-1v1h-1v-1h-1v-2h1zM454 1176h1v1h1v2h-1v1h-1v-1h-1v-2h1zM453 1179h1v1h1v2h-1v1h-1v-1h-1v-2h1zM451 1181h1v1h1v2h-1v1h-1v-1h-1v-2h1zM450 1183h1v1h1v2h-1v1h-1v-1h-1v-2h1zM451 1185h1v1h1v2h-1v1h-1v-1h-1v-2h1zM452 1186h1v1h1v2h-1v1h-1v-1h-1v-2h1zM451 1188h1v1h1v2h-1v1h-1v-1h-1v-2h1zM453 1188h1v1h1v2h-1v1h-1v-1h-1v-2h1zM455 1185h1v1h1v2h-1v1h-1v-1h-1v-2h1zM456 1184h1v1h1v2h-1v1h-1v-1h-1v-2h1zM457 1186h1v1h1v2h-1v1h-1v-1h-1v-2h1zM458 1188h1v1h1v2h-1v1h-1v-1h-1v-2h1zM459 1188h1v1h1v2h-1v1h-1v-1h-1v-2h1zM460 1187h1v1h1v2h-1v1h-1v-1h-1v-2h1zM461 1186h1v1h1v2h-1v1h-1v-1h-1v-2h1zM462 1185h1v1h1v2h-1v1h-1v-1h-1v-2h1zM460 1183h1v1h1v2h-1v1h-1v-1h-1v-2h1zM458 1179h1v1h1v2h-1v1h-1v-1h-1v-2h1zM457 1180h1v1h1v2h-1v1h-1v-1h-1v-2h1zM457 1118h1v1h1v2h-1v1h-1v-1h-1v-2h1zM460 1128h1v1h1v2h-1v1h-1v-1h-1v-2h1zM458 1137h1v1h1v2h-1v1h-1v-1h-1v-2h1zM458 1149h1v1h1v2h-1v1h-1v-1h-1v-2h1zM458 1150h1v1h1v2h-1v1h-1v-1h-1v-2h1zM460 1154h1v1h1v2h-1v1h-1v-1h-1v-2h1zM460 1171h1v1h1v2h-1v1h-1v-1h-1v-2h1zM461 1172h1v1h1v2h-1v1h-1v-1h-1v-2h1zM467 1182h1v1h1v2h-1v1h-1v-1h-1v-2h1zM468 1181h1v1h1v2h-1v1h-1v-1h-1v-2h1zM435 1024h1v1h1v2h-1v1h-1v-1h-1v-2h1zM431 1076h1v1h1v2h-1v1h-1v-1h-1v-2h1zM340 1193h1v1h1v2h-1v1h-1v-1h-1v-2h1zM342 1193h1v1h1v2h-1v1h-1v-1h-1v-2h1zM343 1193h1v1h1v2h-1v1h-1v-1h-1v-2h1zM345 1193h1v1h1v2h-1v1h-1v-1h-1v-2h1zM347 1193h1v1h1v2h-1v1h-1v-1h-1v-2h1zM348 1193h1v1h1v2h-1v1h-1v-1h-1v-2h1zM350 1193h1v1h1v2h-1v1h-1v-1h-1v-2h1zM351 1193h1v1h1v2h-1v1h-1v-1h-1v-2h1zM352 1193h1v1h1v2h-1v1h-1v-1h-1v-2h1zM354 1193h1v1h1v2h-1v1h-1v-1h-1v-2h1zM356 1193h1v1h1v2h-1v1h-1v-1h-1v-2h1zM358 1193h1v1h1v2h-1v1h-1v-1h-1v-2h1zM360 1193h1v1h1v2h-1v1h-1v-1h-1v-2h1zM362 1193h1v1h1v2h-1v1h-1v-1h-1v-2h1zM363 1193h1v1h1v2h-1v1h-1v-1h-1v-2h1zM365 1193h1v1h1v2h-1v1h-1v-1h-1v-2h1zM366 1193h1v1h1v2h-1v1h-1v-1h-1v-2h1zM368 1193h1v1h1v2h-1v1h-1v-1h-1v-2h1zM370 1193h1v1h1v2h-1v1h-1v-1h-1v-2h1zM371 1193h1v1h1v2h-1v1h-1v-1h-1v-2h1zM372 1193h1v1h1v2h-1v1h-1v-1h-1v-2h1zM373 1193h1v1h1v2h-1v1h-1v-1h-1v-2h1zM374 1193h1v1h1v2h-1v1h-1v-1h-1v-2h1zM375 1193h1v1h1v2h-1v1h-1v-1h-1v-2h1zM376 1193h1v1h1v2h-1v1h-1v-1h-1v-2h1zM377 1193h1v1h1v2h-1v1h-1v-1h-1v-2h1zM378 1193h1v1h1v2h-1v1h-1v-1h-1v-2h1zM379 1193h1v1h1v2h-1v1h-1v-1h-1v-2h1zM380 1193h1v1h1v2h-1v1h-1v-1h-1v-2h1zM381 1193h1v1h1v2h-1v1h-1v-1h-1v-2h1zM382 1193h1v1h1v2h-1v1h-1v-1h-1v-2h1zM383 1193h1v1h1v2h-1v1h-1v-1h-1v-2h1zM384 1193h1v1h1v2h-1v1h-1v-1h-1v-2h1zM385 1193h1v1h1v2h-1v1h-1v-1h-1v-2h1zM386 1193h1v1h1v2h-1v1h-1v-1h-1v-2h1zM387 1193h1v1h1v2h-1v1h-1v-1h-1v-2h1zM388 1193h1v1h1v2h-1v1h-1v-1h-1v-2h1zM389 1193h1v1h1v2h-1v1h-1v-1h-1v-2h1zM390 1193h1v1h1v2h-1v1h-1v-1h-1v-2h1zM391 1193h1v1h1v2h-1v1h-1v-1h-1v-2h1zM392 1193h1v1h1v2h-1v1h-1v-1h-1v-2h1zM393 1193h1v1h1v2h-1v1h-1v-1h-1v-2h1zM394 1193h1v1h1v2h-1v1h-1v-1h-1v-2h1zM395 1193h1v1h1v2h-1v1h-1v-1h-1v-2h1zM396 1193h1v1h1v2h-1v1h-1v-1h-1v-2h1zM397 1193h1v1h1v2h-1v1h-1v-1h-1v-2h1zM398 1193h1v1h1v2h-1v1h-1v-1h-1v-2h1zM399 1193h1v1h1v2h-1v1h-1v-1h-1v-2h1zM400 1193h1v1h1v2h-1v1h-1v-1h-1v-2h1zM401 1193h1v1h1v2h-1v1h-1v-1h-1v-2h1zM402 1193h1v1h1v2h-1v1h-1v-1h-1v-2h1zM403 1193h1v1h1v2h-1v1h-1v-1h-1v-2h1zM404 1193h1v1h1v2h-1v1h-1v-1h-1v-2h1zM405 1193h1v1h1v2h-1v1h-1v-1h-1v-2h1zM406 1193h1v1h1v2h-1v1h-1v-1h-1v-2h1zM407 1193h1v1h1v2h-1v1h-1v-1h-1v-2h1zM408 1193h1v1h1v2h-1v1h-1v-1h-1v-2h1zM409 1193h1v1h1v2h-1v1h-1v-1h-1v-2h1zM410 1193h1v1h1v2h-1v1h-1v-1h-1v-2h1zM411 1193h1v1h1v2h-1v1h-1v-1h-1v-2h1zM412 1193h1v1h1v2h-1v1h-1v-1h-1v-2h1zM413 1193h1v1h1v2h-1v1h-1v-1h-1v-2h1zM414 1193h1v1h1v2h-1v1h-1v-1h-1v-2h1zM415 1193h1v1h1v2h-1v1h-1v-1h-1v-2h1zM416 1193h1v1h1v2h-1v1h-1v-1h-1v-2h1zM417 1193h1v1h1v2h-1v1h-1v-1h-1v-2h1zM418 1193h1v1h1v2h-1v1h-1v-1h-1v-2h1zM419 1193h1v1h1v2h-1v1h-1v-1h-1v-2h1zM420 1193h1v1h1v2h-1v1h-1v-1h-1v-2h1zM421 1193h1v1h1v2h-1v1h-1v-1h-1v-2h1zM422 1193h1v1h1v2h-1v1h-1v-1h-1v-2h1zM423 1193h1v1h1v2h-1v1h-1v-1h-1v-2h1zM424 1193h1v1h1v2h-1v1h-1v-1h-1v-2h1zM425 1193h1v1h1v2h-1v1h-1v-1h-1v-2h1zM426 1193h1v1h1v2h-1v1h-1v-1h-1v-2h1zM427 1193h1v1h1v2h-1v1h-1v-1h-1v-2h1zM428 1193h1v1h1v2h-1v1h-1v-1h-1v-2h1zM429 1193h1v1h1v2h-1v1h-1v-1h-1v-2h1zM430 1193h1v1h1v2h-1v1h-1v-1h-1v-2h1zM431 1193h1v1h1v2h-1v1h-1v-1h-1v-2h1zM432 1193h1v1h1v2h-1v1h-1v-1h-1v-2h1zM433 1193h1v1h1v2h-1v1h-1v-1h-1v-2h1zM434 1193h1v1h1v2h-1v1h-1v-1h-1v-2h1zM435 1193h1v1h1v2h-1v1h-1v-1h-1v-2h1zM436 1193h1v1h1v2h-1v1h-1v-1h-1v-2h1zM437 1193h1v1h1v2h-1v1h-1v-1h-1v-2h1zM438 1193h1v1h1v2h-1v1h-1v-1h-1v-2h1zM439 1193h1v1h1v2h-1v1h-1v-1h-1v-2h1zM440 1193h1v1h1v2h-1v1h-1v-1h-1v-2h1zM441 1193h1v1h1v2h-1v1h-1v-1h-1v-2h1zM442 1193h1v1h1v2h-1v1h-1v-1h-1v-2h1zM443 1193h1v1h1v2h-1v1h-1v-1h-1v-2h1zM444 1193h1v1h1v2h-1v1h-1v-1h-1v-2h1zM445 1193h1v1h1v2h-1v1h-1v-1h-1v-2h1zM446 1193h1v1h1v2h-1v1h-1v-1h-1v-2h1zM447 1193h1v1h1v2h-1v1h-1v-1h-1v-2h1zM448 1193h1v1h1v2h-1v1h-1v-1h-1v-2h1zM449 1193h1v1h1v2h-1v1h-1v-1h-1v-2h1zM451 1193h1v1h1v2h-1v1h-1v-1h-1v-2h1zM452 1193h1v1h1v2h-1v1h-1v-1h-1v-2h1zM453 1193h1v1h1v2h-1v1h-1v-1h-1v-2h1zM454 1193h1v1h1v2h-1v1h-1v-1h-1v-2h1zM455 1193h1v1h1v2h-1v1h-1v-1h-1v-2h1zM456 1193h1v1h1v2h-1v1h-1v-1h-1v-2h1zM457 1193h1v1h1v2h-1v1h-1v-1h-1v-2h1zM458 1193h1v1h1v2h-1v1h-1v-1h-1v-2h1zM459 1193h1v1h1v2h-1v1h-1v-1h-1v-2h1zM460 1193h1v1h1v2h-1v1h-1v-1h-1v-2h1zM461 1193h1v1h1v2h-1v1h-1v-1h-1v-2h1zM462 1193h1v1h1v2h-1v1h-1v-1h-1v-2h1zM463 1193h1v1h1v2h-1v1h-1v-1h-1v-2h1zM464 1193h1v1h1v2h-1v1h-1v-1h-1v-2h1zM465 1193h1v1h1v2h-1v1h-1v-1h-1v-2h1zM466 1193h1v1h1v2h-1v1h-1v-1h-1v-2h1zM467 1193h1v1h1v2h-1v1h-1v-1h-1v-2h1zM468 1193h1v1h1v2h-1v1h-1v-1h-1v-2h1zM469 1193h1v1h1v2h-1v1h-1v-1h-1v-2h1zM470 1193h1v1h1v2h-1v1h-1v-1h-1v-2h1zM471 1193h1v1h1v2h-1v1h-1v-1h-1v-2h1zM472 1193h1v1h1v2h-1v1h-1v-1h-1v-2h1zM473 1193h1v1h1v2h-1v1h-1v-1h-1v-2h1zM474 1193h1v1h1v2h-1v1h-1v-1h-1v-2h1z" fill="#000" shape-rendering="crispEdges"/>
<g filter="url(#th)"><text class="t" x="42.1" y="222" text-anchor="middle">-5</text><text class="t" x="73.1" y="222" text-anchor="middle">0</text><text class="t" x="103.1" y="222" text-anchor="middle">5</text><text class="t" x="134.1" y="222" text-anchor="middle">10</text><text class="t" x="165.1" y="222" text-anchor="middle">15</text><text class="t" x="196.1" y="222" text-anchor="middle">20</text><text class="t" x="227.1" y="222" text-anchor="middle">25</text><text class="t" x="258.1" y="222" text-anchor="middle">30</text><text class="t" x="34.5" y="207" text-anchor="end">0</text><text class="t" x="34.5" y="167" text-anchor="end">1</text><text class="t" x="34.5" y="128" text-anchor="end">2</text><text class="t" x="34.5" y="88" text-anchor="end">3</text><text class="t" x="34.5" y="49" text-anchor="end">4</text><text class="t" x="34.5" y="9" text-anchor="end">5</text><text class="a" x="38.3" y="239" textLength="226.4" lengthAdjust="spacing">Sea Surface Temperature (Winter)</text><text class="a" transform="translate(21.7 184.8) rotate(-90)" textLength="159.5" lengthAdjust="spacing">Relative Abundance (%)</text><text class="t" x="311.1" y="222" text-anchor="middle">0</text><text class="t" x="347.1" y="222" text-anchor="middle">5</text><text class="t" x="383.1" y="222" text-anchor="middle">10</text><text class="t" x="419.1" y="222" text-anchor="middle">15</text><text class="t" x="455.1" y="222" text-anchor="middle">20</text><text class="t" x="491.1" y="222" text-anchor="middle">25</text><text class="t" x="527.1" y="222" text-anchor="middle">30</text><text class="t" x="303.5" y="207" text-anchor="end">0</text><text class="t" x="303.5" y="167" text-anchor="end">1</text><text class="t" x="303.5" y="128" text-anchor="end">2</text><text class="t" x="303.5" y="88" text-anchor="end">3</text><text class="t" x="303.5" y="49" text-anchor="end">4</text><text class="t" x="303.5" y="9" text-anchor="end">5</text><text class="a" x="302.0" y="239" textLength="237.2" lengthAdjust="spacing">Sea Surface Temperature (Summer)</text><text class="a" transform="translate(290.7 184.8) rotate(-90)" textLength="159.5" lengthAdjust="spacing">Relative Abundance (%)</text><text class="t" x="580.1" y="222" text-anchor="middle">32</text><text class="t" x="616.1" y="222" text-anchor="middle">33</text><text class="t" x="652.1" y="222" text-anchor="middle">34</text><text class="t" x="688.1" y="222" text-anchor="middle">35</text><text class="t" x="724.1" y="222" text-anchor="middle">36</text><text class="t" x="760.1" y="222" text-anchor="middle">37</text><text class="t" x="796.1" y="222" text-anchor="middle">38</text><text class="t" x="572.5" y="207" text-anchor="end">0</text><text class="t" x="572.5" y="167" text-anchor="end">1</text><text class="t" x="572.5" y="128" text-anchor="end">2</text><text class="t" x="572.5" y="88" text-anchor="end">3</text><text class="t" x="572.5" y="49" text-anchor="end">4</text><text class="t" x="572.5" y="9" text-anchor="end">5</text><text class="a" x="592.1" y="239" textLength="191.9" lengthAdjust="spacing">Sea Surface Salinity (Winter)</text><text class="a" transform="translate(559.7 184.8) rotate(-90)" textLength="159.5" lengthAdjust="spacing">Relative Abundance (%)</text><text class="t" x="849.1" y="222" text-anchor="middle">32</text><text class="t" x="885.1" y="222" text-anchor="middle">33</text><text class="t" x="921.1" y="222" text-anchor="middle">34</text><text class="t" x="957.1" y="222" text-anchor="middle">35</text><text class="t" x="993.1" y="222" text-anchor="middle">36</text><text class="t" x="1029.1" y="222" text-anchor="middle">37</text><text class="t" x="1065.1" y="222" text-anchor="middle">38</text><text class="t" x="841.5" y="207" text-anchor="end">0</text><text class="t" x="841.5" y="167" text-anchor="end">1</text><text class="t" x="841.5" y="128" text-anchor="end">2</text><text class="t" x="841.5" y="88" text-anchor="end">3</text><text class="t" x="841.5" y="49" text-anchor="end">4</text><text class="t" x="841.5" y="9" text-anchor="end">5</text><text class="a" x="856.1" y="239" textLength="203.8" lengthAdjust="spacing">Sea Surface Salinity (Summer)</text><text class="a" transform="translate(828.7 184.8) rotate(-90)" textLength="159.5" lengthAdjust="spacing">Relative Abundance (%)</text><text class="t" x="42.1" y="470" text-anchor="middle">-5</text><text class="t" x="73.1" y="470" text-anchor="middle">0</text><text class="t" x="103.1" y="470" text-anchor="middle">5</text><text class="t" x="134.1" y="470" text-anchor="middle">10</text><text class="t" x="165.1" y="470" text-anchor="middle">15</text><text class="t" x="196.1" y="470" text-anchor="middle">20</text><text class="t" x="227.1" y="470" text-anchor="middle">25</text><text class="t" x="258.1" y="470" text-anchor="middle">30</text><text class="t" x="34.5" y="455" text-anchor="end">0</text><text class="t" x="34.5" y="415" text-anchor="end">1</text><text class="t" x="34.5" y="376" text-anchor="end">2</text><text class="t" x="34.5" y="336" text-anchor="end">3</text><text class="t" x="34.5" y="297" text-anchor="end">4</text><text class="t" x="34.5" y="257" text-anchor="end">5</text><text class="a" x="42.0" y="487" textLength="218.1" lengthAdjust="spacing">Sea Surface Temperature (Mean)</text><text class="a" transform="translate(21.7 432.8) rotate(-90)" textLength="159.5" lengthAdjust="spacing">Relative Abundance (%)</text><text class="t" x="311.1" y="470" text-anchor="middle">0</text><text class="t" x="347.1" y="470" text-anchor="middle">2</text><text class="t" x="383.1" y="470" text-anchor="middle">4</text><text class="t" x="419.1" y="470" text-anchor="middle">6</text><text class="t" x="455.1" y="470" text-anchor="middle">8</text><text class="t" x="491.1" y="470" text-anchor="middle">10</text><text class="t" x="527.1" y="470" text-anchor="middle">12</text><text class="t" x="303.5" y="455" text-anchor="end">0</text><text class="t" x="303.5" y="415" text-anchor="end">1</text><text class="t" x="303.5" y="376" text-anchor="end">2</text><text class="t" x="303.5" y="336" text-anchor="end">3</text><text class="t" x="303.5" y="297" text-anchor="end">4</text><text class="t" x="303.5" y="257" text-anchor="end">5</text><text class="a" x="291.8" y="487" textLength="259.1" lengthAdjust="spacing">Sea Surface Temperature (Seasonality)</text><text class="a" transform="translate(290.7 432.8) rotate(-90)" textLength="159.5" lengthAdjust="spacing">Relative Abundance (%)</text><text class="t" x="580.1" y="470" text-anchor="middle">32</text><text class="t" x="616.1" y="470" text-anchor="middle">33</text><text class="t" x="652.1" y="470" text-anchor="middle">34</text><text class="t" x="688.1" y="470" text-anchor="middle">35</text><text class="t" x="724.1" y="470" text-anchor="middle">36</text><text class="t" x="760.1" y="470" text-anchor="middle">37</text><text class="t" x="796.1" y="470" text-anchor="middle">38</text><text class="t" x="572.5" y="455" text-anchor="end">0</text><text class="t" x="572.5" y="415" text-anchor="end">1</text><text class="t" x="572.5" y="376" text-anchor="end">2</text><text class="t" x="572.5" y="336" text-anchor="end">3</text><text class="t" x="572.5" y="297" text-anchor="end">4</text><text class="t" x="572.5" y="257" text-anchor="end">5</text><text class="a" x="596.3" y="487" textLength="183.6" lengthAdjust="spacing">Sea Surface Salinity (Mean)</text><text class="a" transform="translate(559.7 432.8) rotate(-90)" textLength="159.5" lengthAdjust="spacing">Relative Abundance (%)</text><text class="t" x="849.1" y="470" text-anchor="middle">-1.5</text><text class="t" x="885.1" y="470" text-anchor="middle">-1</text><text class="t" x="921.1" y="470" text-anchor="middle">-0.5</text><text class="t" x="957.1" y="470" text-anchor="middle">0</text><text class="t" x="993.1" y="470" text-anchor="middle">0.5</text><text class="t" x="1029.1" y="470" text-anchor="middle">1</text><text class="t" x="1065.1" y="470" text-anchor="middle">1.5</text><text class="t" x="841.5" y="455" text-anchor="end">0</text><text class="t" x="841.5" y="415" text-anchor="end">1</text><text class="t" x="841.5" y="376" text-anchor="end">2</text><text class="t" x="841.5" y="336" text-anchor="end">3</text><text class="t" x="841.5" y="297" text-anchor="end">4</text><text class="t" x="841.5" y="257" text-anchor="end">5</text><text class="a" x="844.5" y="487" textLength="225.2" lengthAdjust="spacing">Sea Surface Salinity (Seasonality)</text><text class="a" transform="translate(828.7 432.8) rotate(-90)" textLength="159.5" lengthAdjust="spacing">Relative Abundance (%)</text><text class="t" x="42.1" y="718" text-anchor="middle">-5</text><text class="t" x="85.1" y="718" text-anchor="middle">0</text><text class="t" x="128.1" y="718" text-anchor="middle">5</text><text class="t" x="171.1" y="718" text-anchor="middle">10</text><text class="t" x="215.1" y="718" text-anchor="middle">15</text><text class="t" x="258.1" y="718" text-anchor="middle">20</text><text class="t" x="34.5" y="703" text-anchor="end">0</text><text class="t" x="34.5" y="663" text-anchor="end">1</text><text class="t" x="34.5" y="624" text-anchor="end">2</text><text class="t" x="34.5" y="584" text-anchor="end">3</text><text class="t" x="34.5" y="545" text-anchor="end">4</text><text class="t" x="34.5" y="505" text-anchor="end">5</text><text class="a" x="74.0" y="735" textLength="152.2" lengthAdjust="spacing">SST - T (200 m), Winter</text><text class="a" transform="translate(21.7 680.8) rotate(-90)" textLength="159.5" lengthAdjust="spacing">Relative Abundance (%)</text><text class="t" x="311.1" y="718" text-anchor="middle">-5</text><text class="t" x="354.1" y="718" text-anchor="middle">0</text><text class="t" x="397.1" y="718" text-anchor="middle">5</text><text class="t" x="440.1" y="718" text-anchor="middle">10</text><text class="t" x="484.1" y="718" text-anchor="middle">15</text><text class="t" x="527.1" y="718" text-anchor="middle">20</text><text class="t" x="303.5" y="703" text-anchor="end">0</text><text class="t" x="303.5" y="663" text-anchor="end">1</text><text class="t" x="303.5" y="624" text-anchor="end">2</text><text class="t" x="303.5" y="584" text-anchor="end">3</text><text class="t" x="303.5" y="545" text-anchor="end">4</text><text class="t" x="303.5" y="505" text-anchor="end">5</text><text class="a" x="337.2" y="735" textLength="163.8" lengthAdjust="spacing">SST - T (200 m), Summer</text><text class="a" transform="translate(290.7 680.8) rotate(-90)" textLength="159.5" lengthAdjust="spacing">Relative Abundance (%)</text><text class="t" x="580.1" y="718" text-anchor="middle">20</text><text class="t" x="607.1" y="718" text-anchor="middle">21</text><text class="t" x="634.1" y="718" text-anchor="middle">22</text><text class="t" x="661.1" y="718" text-anchor="middle">23</text><text class="t" x="688.1" y="718" text-anchor="middle">24</text><text class="t" x="715.1" y="718" text-anchor="middle">25</text><text class="t" x="742.1" y="718" text-anchor="middle">26</text><text class="t" x="769.1" y="718" text-anchor="middle">27</text><text class="t" x="796.1" y="718" text-anchor="middle">28</text><text class="t" x="572.5" y="703" text-anchor="end">0</text><text class="t" x="572.5" y="663" text-anchor="end">1</text><text class="t" x="572.5" y="624" text-anchor="end">2</text><text class="t" x="572.5" y="584" text-anchor="end">3</text><text class="t" x="572.5" y="545" text-anchor="end">4</text><text class="t" x="572.5" y="505" text-anchor="end">5</text><text class="a" x="618.4" y="735" textLength="139.6" lengthAdjust="spacing">Density, 0 m (Winter)</text><text class="a" transform="translate(559.7 680.8) rotate(-90)" textLength="159.5" lengthAdjust="spacing">Relative Abundance (%)</text><text class="t" x="849.1" y="718" text-anchor="middle">20</text><text class="t" x="876.1" y="718" text-anchor="middle">21</text><text class="t" x="903.1" y="718" text-anchor="middle">22</text><text class="t" x="930.1" y="718" text-anchor="middle">23</text><text class="t" x="957.1" y="718" text-anchor="middle">24</text><text class="t" x="984.1" y="718" text-anchor="middle">25</text><text class="t" x="1011.1" y="718" text-anchor="middle">26</text><text class="t" x="1038.1" y="718" text-anchor="middle">27</text><text class="t" x="1065.1" y="718" text-anchor="middle">28</text><text class="t" x="841.5" y="703" text-anchor="end">0</text><text class="t" x="841.5" y="663" text-anchor="end">1</text><text class="t" x="841.5" y="624" text-anchor="end">2</text><text class="t" x="841.5" y="584" text-anchor="end">3</text><text class="t" x="841.5" y="545" text-anchor="end">4</text><text class="t" x="841.5" y="505" text-anchor="end">5</text><text class="a" x="882.0" y="735" textLength="152.7" lengthAdjust="spacing">Density, 0 m (Summer)</text><text class="a" transform="translate(828.7 680.8) rotate(-90)" textLength="159.5" lengthAdjust="spacing">Relative Abundance (%)</text><text class="t" x="42.1" y="966" text-anchor="middle">-5</text><text class="t" x="85.1" y="966" text-anchor="middle">0</text><text class="t" x="128.1" y="966" text-anchor="middle">5</text><text class="t" x="171.1" y="966" text-anchor="middle">10</text><text class="t" x="215.1" y="966" text-anchor="middle">15</text><text class="t" x="258.1" y="966" text-anchor="middle">20</text><text class="t" x="34.5" y="951" text-anchor="end">0</text><text class="t" x="34.5" y="911" text-anchor="end">1</text><text class="t" x="34.5" y="872" text-anchor="end">2</text><text class="t" x="34.5" y="832" text-anchor="end">3</text><text class="t" x="34.5" y="793" text-anchor="end">4</text><text class="t" x="34.5" y="753" text-anchor="end">5</text><text class="a" x="78.7" y="983" textLength="144.7" lengthAdjust="spacing">SST - T (200 m), Mean</text><text class="a" transform="translate(21.7 928.8) rotate(-90)" textLength="159.5" lengthAdjust="spacing">Relative Abundance (%)</text><text class="t" x="311.1" y="966" text-anchor="middle">-4</text><text class="t" x="338.1" y="966" text-anchor="middle">-2</text><text class="t" x="365.1" y="966" text-anchor="middle">0</text><text class="t" x="392.1" y="966" text-anchor="middle">2</text><text class="t" x="419.1" y="966" text-anchor="middle">4</text><text class="t" x="446.1" y="966" text-anchor="middle">6</text><text class="t" x="473.1" y="966" text-anchor="middle">8</text><text class="t" x="500.1" y="966" text-anchor="middle">10</text><text class="t" x="527.1" y="966" text-anchor="middle">12</text><text class="t" x="303.5" y="951" text-anchor="end">0</text><text class="t" x="303.5" y="911" text-anchor="end">1</text><text class="t" x="303.5" y="872" text-anchor="end">2</text><text class="t" x="303.5" y="832" text-anchor="end">3</text><text class="t" x="303.5" y="793" text-anchor="end">4</text><text class="t" x="303.5" y="753" text-anchor="end">5</text><text class="a" x="327.1" y="983" textLength="188.9" lengthAdjust="spacing">SST - T (200 m), Seasonality</text><text class="a" transform="translate(290.7 928.8) rotate(-90)" textLength="159.5" lengthAdjust="spacing">Relative Abundance (%)</text><text class="t" x="580.1" y="966" text-anchor="middle">-6</text><text class="t" x="611.1" y="966" text-anchor="middle">-5</text><text class="t" x="641.1" y="966" text-anchor="middle">-4</text><text class="t" x="672.1" y="966" text-anchor="middle">-3</text><text class="t" x="703.1" y="966" text-anchor="middle">-2</text><text class="t" x="734.1" y="966" text-anchor="middle">-1</text><text class="t" x="765.1" y="966" text-anchor="middle">0</text><text class="t" x="796.1" y="966" text-anchor="middle">1</text><text class="t" x="572.5" y="951" text-anchor="end">0</text><text class="t" x="572.5" y="911" text-anchor="end">1</text><text class="t" x="572.5" y="872" text-anchor="end">2</text><text class="t" x="572.5" y="832" text-anchor="end">3</text><text class="t" x="572.5" y="793" text-anchor="end">4</text><text class="t" x="572.5" y="753" text-anchor="end">5</text><text class="a" x="583.1" y="983" textLength="212.2" lengthAdjust="spacing">Stratification, 0 - 200 m (Winter)</text><text class="a" transform="translate(559.7 928.8) rotate(-90)" textLength="159.5" lengthAdjust="spacing">Relative Abundance (%)</text><text class="t" x="849.1" y="966" text-anchor="middle">-6</text><text class="t" x="885.1" y="966" text-anchor="middle">-5</text><text class="t" x="921.1" y="966" text-anchor="middle">-4</text><text class="t" x="957.1" y="966" text-anchor="middle">-3</text><text class="t" x="993.1" y="966" text-anchor="middle">-2</text><text class="t" x="1029.1" y="966" text-anchor="middle">-1</text><text class="t" x="1065.1" y="966" text-anchor="middle">0</text><text class="t" x="841.5" y="951" text-anchor="end">0</text><text class="t" x="841.5" y="911" text-anchor="end">1</text><text class="t" x="841.5" y="872" text-anchor="end">2</text><text class="t" x="841.5" y="832" text-anchor="end">3</text><text class="t" x="841.5" y="793" text-anchor="end">4</text><text class="t" x="841.5" y="753" text-anchor="end">5</text><text class="a" x="845.1" y="983" textLength="222.7" lengthAdjust="spacing">Stratification, 0 - 200 m (Summer)</text><text class="a" transform="translate(828.7 928.8) rotate(-90)" textLength="159.5" lengthAdjust="spacing">Relative Abundance (%)</text><text class="t" x="42.1" y="1214" text-anchor="middle">0</text><text class="t" x="85.1" y="1214" text-anchor="middle">1</text><text class="t" x="128.1" y="1214" text-anchor="middle">2</text><text class="t" x="171.1" y="1214" text-anchor="middle">3</text><text class="t" x="215.1" y="1214" text-anchor="middle">4</text><text class="t" x="258.1" y="1214" text-anchor="middle">5</text><text class="t" x="33.5" y="1199" text-anchor="end">-80</text><text class="t" x="33.5" y="1175" text-anchor="end">-60</text><text class="t" x="33.5" y="1150" text-anchor="end">-40</text><text class="t" x="33.5" y="1125" text-anchor="end">-20</text><text class="t" x="33.5" y="1100" text-anchor="end">0</text><text class="t" x="33.5" y="1076" text-anchor="end">20</text><text class="t" x="33.5" y="1051" text-anchor="end">40</text><text class="t" x="33.5" y="1026" text-anchor="end">60</text><text class="t" x="33.5" y="1001" text-anchor="end">80</text><text class="a" x="69.7" y="1231" textLength="161.3" lengthAdjust="spacing">Relative Abundance (%)</text><text class="a" transform="translate(11.0 1123.9) rotate(-90)" textLength="53.8" lengthAdjust="spacing">Latitude</text><text class="t" x="311.1" y="1214" text-anchor="middle">-5</text><text class="t" x="342.1" y="1214" text-anchor="middle">0</text><text class="t" x="372.1" y="1214" text-anchor="middle">5</text><text class="t" x="403.1" y="1214" text-anchor="middle">10</text><text class="t" x="434.1" y="1214" text-anchor="middle">15</text><text class="t" x="465.1" y="1214" text-anchor="middle">20</text><text class="t" x="496.1" y="1214" text-anchor="middle">25</text><text class="t" x="527.1" y="1214" text-anchor="middle">30</text><text class="t" x="303.5" y="1199" text-anchor="end">0</text><text class="t" x="303.5" y="1159" text-anchor="end">1</text><text class="t" x="303.5" y="1120" text-anchor="end">2</text><text class="t" x="303.5" y="1080" text-anchor="end">3</text><text class="t" x="303.5" y="1041" text-anchor="end">4</text><text class="t" x="303.5" y="1001" text-anchor="end">5</text><text class="a" x="332.1" y="1231" textLength="178.9" lengthAdjust="spacing">Temperature (200 m), Mean</text><text class="a" transform="translate(290.7 1176.8) rotate(-90)" textLength="159.5" lengthAdjust="spacing">Relative Abundance (%)</text></g>
</svg></body></html>
